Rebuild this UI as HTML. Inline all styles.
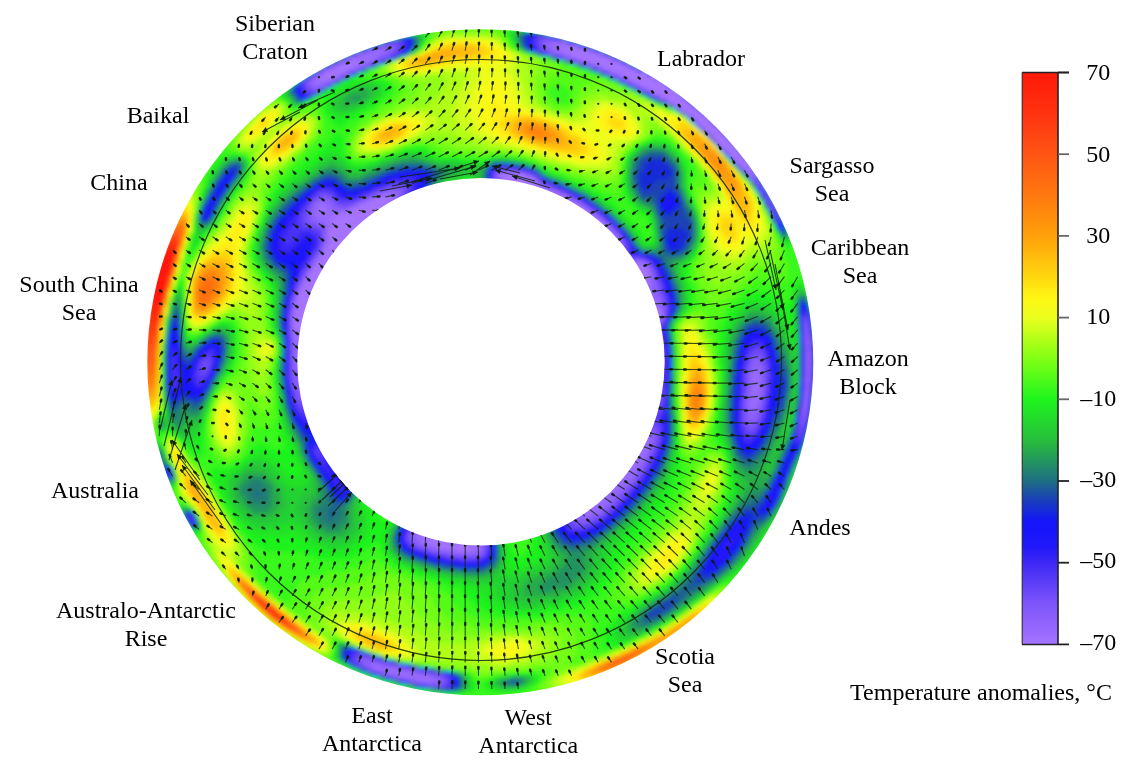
<!DOCTYPE html>
<html><head><meta charset="utf-8"><title>Temperature anomalies</title>
<style>
html,body{margin:0;padding:0;background:#fff;}
body{width:1136px;height:776px;overflow:hidden;}
svg{display:block;}
text{font-family:"Liberation Serif",serif;font-size:24px;fill:#000;}
</style></head><body>
<svg width="1136" height="776" viewBox="0 0 1136 776">
<defs>
<clipPath id="ann"><path clip-rule="evenodd" d="M147.3 362.2a333.0 333.0 0 1 0 666.0 0a333.0 333.0 0 1 0 -666.0 0zM297.3 361.7a183.7 183.7 0 1 0 367.4 0a183.7 183.7 0 1 0 -367.4 0z"/></clipPath>
<filter id="bl" x="-5%" y="-5%" width="110%" height="110%"><feGaussianBlur stdDeviation="2.2"/></filter>
<filter id="soft" x="-2%" y="-2%" width="104%" height="104%"><feGaussianBlur stdDeviation="0.7"/></filter>
<linearGradient id="cb" x1="0" y1="0" x2="0" y2="1"><stop offset="0.00%" stop-color="#ff190a"/><stop offset="7.14%" stop-color="#ff320f"/><stop offset="14.29%" stop-color="#ff5514"/><stop offset="21.43%" stop-color="#ff780f"/><stop offset="28.57%" stop-color="#ffa00a"/><stop offset="35.71%" stop-color="#ffd70f"/><stop offset="39.29%" stop-color="#fff514"/><stop offset="42.86%" stop-color="#ebff1e"/><stop offset="50.00%" stop-color="#82ff14"/><stop offset="57.14%" stop-color="#1ef51e"/><stop offset="64.29%" stop-color="#28be3c"/><stop offset="71.43%" stop-color="#1e6e82"/><stop offset="75.00%" stop-color="#193cbe"/><stop offset="78.57%" stop-color="#1414fa"/><stop offset="82.86%" stop-color="#2018fa"/><stop offset="85.71%" stop-color="#3e28f6"/><stop offset="92.86%" stop-color="#7d55fa"/><stop offset="100.00%" stop-color="#a573ff"/></linearGradient>
</defs>
<rect width="1136" height="776" fill="#fff"/>
<g filter="url(#soft)">
<g clip-path="url(#ann)">
<g filter="url(#bl)" shape-rendering="crispEdges">
<path fill="#a573ff" d="M560 44h8v4h-8zM564 48h20v4h-20zM568 52h28v4h-28zM576 56h32v4h-32zM348 60h8v4h-8zM588 60h28v4h-28zM340 64h16v4h-16zM600 64h24v4h-24zM332 68h16v4h-16zM608 68h24v4h-24zM324 72h16v4h-16zM620 72h24v4h-24zM320 76h16v4h-16zM628 76h28v4h-28zM632 80h28v4h-28zM640 84h28v4h-28zM648 88h24v4h-24zM652 92h28v4h-28zM660 96h24v4h-24zM668 100h20v4h-20zM676 104h16v4h-16zM680 108h16v4h-16zM688 112h12v4h-12zM692 116h16v4h-16zM696 120h16v4h-16zM700 124h16v4h-16zM704 128h16v4h-16zM712 132h12v4h-12zM716 136h12v4h-12zM716 140h12v4h-12zM720 144h12v4h-12zM724 148h12v4h-12zM728 152h12v4h-12zM732 156h12v4h-12zM736 160h12v4h-12zM740 164h8v4h-8zM744 168h8v4h-8zM500 172h24v4h-24zM748 172h4v4h-4zM500 176h32v4h-32zM504 180h32v4h-32zM516 184h24v4h-24zM532 188h4v4h-4zM544 188h4v4h-4zM552 192h8v4h-8zM376 196h16v4h-16zM560 196h8v4h-8zM368 200h24v4h-24zM568 200h4v4h-4zM360 204h28v4h-28zM576 204h4v4h-4zM320 208h4v4h-4zM352 208h32v4h-32zM580 208h8v4h-8zM340 212h40v4h-40zM588 212h4v4h-4zM332 216h44v4h-44zM592 216h4v4h-4zM332 220h40v4h-40zM596 220h8v4h-8zM332 224h36v4h-36zM600 224h8v4h-8zM328 228h36v4h-36zM328 232h32v4h-32zM328 236h28v4h-28zM328 240h24v4h-24zM328 244h20v4h-20zM324 248h16v4h-16zM324 252h12v4h-12zM320 256h12v4h-12zM316 260h16v4h-16zM316 264h12v4h-12zM632 264h12v4h-12zM312 268h12v4h-12zM632 268h16v4h-16zM308 272h16v4h-16zM632 272h16v4h-16zM308 276h12v4h-12zM636 276h12v4h-12zM304 280h16v4h-16zM644 280h4v4h-4zM304 284h16v4h-16zM300 288h16v4h-16zM300 292h16v4h-16zM296 296h16v4h-16zM296 300h16v4h-16zM296 304h16v4h-16zM296 308h12v4h-12zM652 308h8v4h-8zM296 312h12v4h-12zM652 312h12v4h-12zM292 316h16v4h-16zM656 316h4v4h-4zM292 320h12v4h-12zM292 324h12v4h-12zM296 328h8v4h-8zM296 332h4v4h-4zM296 336h4v4h-4zM424 536h4v4h-4zM424 540h24v4h-24zM436 544h36v4h-36zM456 548h16v4h-16z"/>
<path fill="#996afe" d="M552 40h4v4h-4zM552 44h8v4h-8zM568 44h8v4h-8zM376 48h8v4h-8zM552 48h12v4h-12zM584 48h4v4h-4zM364 52h16v4h-16zM560 52h8v4h-8zM596 52h4v4h-4zM352 56h24v4h-24zM572 56h4v4h-4zM344 60h4v4h-4zM356 60h16v4h-16zM584 60h4v4h-4zM616 60h4v4h-4zM336 64h4v4h-4zM356 64h8v4h-8zM596 64h4v4h-4zM624 64h4v4h-4zM328 68h4v4h-4zM348 68h4v4h-4zM604 68h4v4h-4zM632 68h4v4h-4zM320 72h4v4h-4zM340 72h4v4h-4zM612 72h8v4h-8zM644 72h4v4h-4zM316 76h4v4h-4zM624 76h4v4h-4zM312 80h16v4h-16zM660 80h4v4h-4zM316 84h4v4h-4zM700 112h4v4h-4zM708 132h4v4h-4zM712 136h4v4h-4zM728 140h4v4h-4zM732 144h4v4h-4zM752 172h4v4h-4zM532 176h4v4h-4zM752 176h4v4h-4zM536 180h4v4h-4zM540 184h4v4h-4zM528 188h4v4h-4zM536 188h8v4h-8zM548 188h4v4h-4zM384 192h12v4h-12zM548 192h4v4h-4zM372 196h4v4h-4zM392 196h4v4h-4zM556 196h4v4h-4zM320 200h4v4h-4zM364 200h4v4h-4zM564 200h4v4h-4zM572 200h4v4h-4zM316 204h12v4h-12zM356 204h4v4h-4zM572 204h4v4h-4zM580 204h4v4h-4zM316 208h4v4h-4zM324 208h8v4h-8zM348 208h4v4h-4zM576 208h4v4h-4zM312 212h28v4h-28zM584 212h4v4h-4zM592 212h4v4h-4zM316 216h16v4h-16zM588 216h4v4h-4zM596 216h4v4h-4zM324 220h8v4h-8zM328 224h4v4h-4zM604 228h8v4h-8zM608 232h8v4h-8zM612 236h8v4h-8zM324 244h4v4h-4zM340 248h4v4h-4zM320 252h4v4h-4zM336 252h4v4h-4zM332 256h4v4h-4zM636 260h8v4h-8zM312 264h4v4h-4zM644 264h4v4h-4zM324 268h4v4h-4zM648 272h4v4h-4zM304 276h4v4h-4zM320 276h4v4h-4zM648 276h4v4h-4zM640 280h4v4h-4zM648 280h4v4h-4zM300 284h4v4h-4zM644 284h8v4h-8zM648 288h4v4h-4zM296 292h4v4h-4zM312 296h4v4h-4zM652 296h4v4h-4zM652 300h8v4h-8zM652 304h8v4h-8zM292 308h4v4h-4zM308 308h4v4h-4zM660 308h4v4h-4zM292 312h4v4h-4zM652 316h4v4h-4zM660 316h4v4h-4zM304 320h4v4h-4zM292 328h4v4h-4zM292 332h4v4h-4zM300 332h4v4h-4zM292 336h4v4h-4zM300 336h4v4h-4zM296 340h4v4h-4zM296 344h4v4h-4zM296 348h4v4h-4zM296 352h4v4h-4zM296 356h4v4h-4zM296 360h4v4h-4zM756 368h4v4h-4zM752 372h8v4h-8zM752 376h8v4h-8zM752 380h8v4h-8zM752 384h8v4h-8zM752 388h8v4h-8zM752 392h8v4h-8zM804 392h4v4h-4zM752 396h8v4h-8zM804 396h4v4h-4zM748 400h12v4h-12zM804 400h4v4h-4zM748 404h8v4h-8zM804 404h4v4h-4zM752 408h4v4h-4zM644 440h8v4h-8zM640 444h8v4h-8zM636 448h12v4h-12zM636 452h12v4h-12zM632 456h12v4h-12zM628 460h16v4h-16zM628 464h12v4h-12zM624 468h12v4h-12zM620 472h16v4h-16zM616 476h16v4h-16zM616 480h12v4h-12zM612 484h12v4h-12zM608 488h12v4h-12zM604 492h12v4h-12zM600 496h12v4h-12zM592 500h16v4h-16zM588 504h16v4h-16zM584 508h16v4h-16zM584 512h8v4h-8zM416 532h8v4h-8zM416 536h8v4h-8zM428 536h12v4h-12zM420 540h4v4h-4zM448 540h20v4h-20zM428 544h8v4h-8zM472 544h8v4h-8zM440 548h16v4h-16zM472 548h8v4h-8zM372 664h8v4h-8zM376 668h24v4h-24zM388 672h32v4h-32zM404 676h28v4h-28zM420 680h16v4h-16z"/>
<path fill="#8d61fc" d="M544 40h8v4h-8zM556 40h8v4h-8zM388 44h4v4h-4zM544 44h8v4h-8zM372 48h4v4h-4zM384 48h8v4h-8zM548 48h4v4h-4zM360 52h4v4h-4zM380 52h8v4h-8zM556 52h4v4h-4zM376 56h4v4h-4zM568 56h4v4h-4zM608 56h4v4h-4zM340 60h4v4h-4zM580 60h4v4h-4zM332 64h4v4h-4zM592 64h4v4h-4zM324 68h4v4h-4zM352 68h4v4h-4zM344 72h4v4h-4zM312 76h4v4h-4zM336 76h4v4h-4zM620 76h4v4h-4zM308 80h4v4h-4zM328 80h4v4h-4zM628 80h4v4h-4zM312 84h4v4h-4zM320 84h4v4h-4zM636 84h4v4h-4zM644 88h4v4h-4zM672 88h4v4h-4zM696 108h4v4h-4zM736 148h4v4h-4zM748 164h4v4h-4zM496 172h4v4h-4zM524 172h4v4h-4zM496 176h4v4h-4zM500 180h4v4h-4zM512 184h4v4h-4zM524 188h4v4h-4zM552 188h4v4h-4zM380 192h4v4h-4zM396 192h4v4h-4zM544 192h4v4h-4zM560 192h4v4h-4zM368 196h4v4h-4zM396 196h4v4h-4zM552 196h4v4h-4zM568 196h4v4h-4zM316 200h4v4h-4zM324 200h8v4h-8zM360 200h4v4h-4zM392 200h4v4h-4zM576 200h4v4h-4zM312 204h4v4h-4zM328 204h4v4h-4zM352 204h4v4h-4zM388 204h4v4h-4zM568 204h4v4h-4zM312 208h4v4h-4zM332 208h16v4h-16zM384 208h4v4h-4zM588 208h4v4h-4zM380 212h4v4h-4zM312 216h4v4h-4zM376 216h4v4h-4zM316 220h8v4h-8zM592 220h4v4h-4zM324 224h4v4h-4zM596 224h4v4h-4zM608 224h4v4h-4zM324 228h4v4h-4zM324 232h4v4h-4zM324 236h4v4h-4zM324 240h4v4h-4zM616 240h8v4h-8zM320 248h4v4h-4zM316 256h4v4h-4zM312 260h4v4h-4zM632 260h4v4h-4zM328 264h4v4h-4zM308 268h4v4h-4zM648 268h4v4h-4zM324 272h4v4h-4zM300 280h4v4h-4zM320 280h4v4h-4zM636 280h4v4h-4zM652 280h4v4h-4zM640 284h4v4h-4zM652 284h4v4h-4zM296 288h4v4h-4zM316 288h4v4h-4zM644 288h4v4h-4zM652 288h4v4h-4zM644 292h16v4h-16zM648 296h4v4h-4zM656 296h4v4h-4zM292 300h4v4h-4zM312 300h4v4h-4zM648 300h4v4h-4zM292 304h4v4h-4zM648 304h4v4h-4zM660 304h4v4h-4zM648 308h4v4h-4zM308 312h4v4h-4zM656 320h4v4h-4zM304 324h4v4h-4zM804 324h4v4h-4zM804 328h4v4h-4zM804 332h4v4h-4zM804 336h4v4h-4zM292 340h4v4h-4zM300 340h4v4h-4zM804 340h4v4h-4zM292 344h4v4h-4zM300 344h4v4h-4zM292 348h4v4h-4zM292 352h4v4h-4zM808 352h4v4h-4zM292 356h4v4h-4zM808 356h4v4h-4zM292 360h4v4h-4zM752 360h8v4h-8zM808 360h4v4h-4zM292 364h8v4h-8zM752 364h8v4h-8zM808 364h4v4h-4zM292 368h8v4h-8zM752 368h4v4h-4zM760 368h4v4h-4zM808 368h4v4h-4zM292 372h8v4h-8zM748 372h4v4h-4zM760 372h4v4h-4zM296 376h4v4h-4zM748 376h4v4h-4zM760 376h4v4h-4zM804 376h4v4h-4zM296 380h4v4h-4zM748 380h4v4h-4zM760 380h4v4h-4zM804 380h4v4h-4zM296 384h4v4h-4zM748 384h4v4h-4zM760 384h4v4h-4zM804 384h4v4h-4zM296 388h4v4h-4zM748 388h4v4h-4zM760 388h4v4h-4zM804 388h4v4h-4zM748 392h4v4h-4zM760 392h4v4h-4zM748 396h4v4h-4zM756 404h4v4h-4zM748 408h4v4h-4zM756 408h4v4h-4zM804 408h4v4h-4zM748 412h8v4h-8zM748 416h8v4h-8zM800 420h4v4h-4zM644 432h8v4h-8zM640 436h16v4h-16zM640 440h4v4h-4zM636 444h4v4h-4zM648 444h4v4h-4zM648 448h4v4h-4zM632 452h4v4h-4zM628 456h4v4h-4zM644 456h4v4h-4zM624 464h4v4h-4zM640 464h4v4h-4zM620 468h4v4h-4zM636 468h4v4h-4zM616 472h4v4h-4zM632 476h4v4h-4zM612 480h4v4h-4zM628 480h4v4h-4zM608 484h4v4h-4zM624 484h4v4h-4zM604 488h4v4h-4zM620 488h4v4h-4zM600 492h4v4h-4zM616 492h4v4h-4zM596 496h4v4h-4zM612 496h4v4h-4zM588 500h4v4h-4zM608 500h4v4h-4zM584 504h4v4h-4zM604 504h4v4h-4zM580 508h4v4h-4zM600 508h4v4h-4zM580 512h4v4h-4zM592 512h8v4h-8zM576 516h16v4h-16zM412 532h4v4h-4zM424 532h8v4h-8zM412 536h4v4h-4zM440 536h12v4h-12zM416 540h4v4h-4zM468 540h8v4h-8zM420 544h8v4h-8zM480 544h4v4h-4zM432 548h8v4h-8zM480 548h4v4h-4zM452 552h28v4h-28zM364 660h12v4h-12zM364 664h8v4h-8zM380 664h12v4h-12zM372 668h4v4h-4zM400 668h8v4h-8zM384 672h4v4h-4zM420 672h8v4h-8zM400 676h4v4h-4zM432 676h8v4h-8zM416 680h4v4h-4zM436 680h4v4h-4z"/>
<path fill="#8158fb" d="M540 40h4v4h-4zM384 44h4v4h-4zM392 44h4v4h-4zM576 44h4v4h-4zM368 48h4v4h-4zM392 48h4v4h-4zM544 48h4v4h-4zM588 48h4v4h-4zM388 52h4v4h-4zM552 52h4v4h-4zM600 52h4v4h-4zM348 56h4v4h-4zM380 56h4v4h-4zM372 60h4v4h-4zM364 64h4v4h-4zM600 68h4v4h-4zM316 72h4v4h-4zM308 84h4v4h-4zM312 88h4v4h-4zM672 104h4v4h-4zM684 112h4v4h-4zM756 180h4v4h-4zM544 184h4v4h-4zM384 188h20v4h-20zM376 192h4v4h-4zM400 192h4v4h-4zM540 192h4v4h-4zM564 192h4v4h-4zM320 196h12v4h-12zM312 200h4v4h-4zM332 200h4v4h-4zM356 200h4v4h-4zM560 200h4v4h-4zM332 204h8v4h-8zM348 204h4v4h-4zM584 204h4v4h-4zM308 208h4v4h-4zM308 212h4v4h-4zM580 212h4v4h-4zM308 216h4v4h-4zM600 216h4v4h-4zM308 220h8v4h-8zM372 220h4v4h-4zM604 220h4v4h-4zM316 224h8v4h-8zM600 228h4v4h-4zM612 228h4v4h-4zM604 232h4v4h-4zM616 232h4v4h-4zM608 236h4v4h-4zM612 240h4v4h-4zM320 244h4v4h-4zM620 244h4v4h-4zM316 252h4v4h-4zM336 256h4v4h-4zM332 260h4v4h-4zM644 260h4v4h-4zM308 264h4v4h-4zM648 264h4v4h-4zM304 272h4v4h-4zM652 272h4v4h-4zM652 276h4v4h-4zM656 284h4v4h-4zM640 288h4v4h-4zM656 288h4v4h-4zM316 292h4v4h-4zM292 296h4v4h-4zM644 296h4v4h-4zM660 296h4v4h-4zM660 300h4v4h-4zM312 304h4v4h-4zM308 316h4v4h-4zM660 320h4v4h-4zM804 320h4v4h-4zM304 328h4v4h-4zM808 340h4v4h-4zM804 344h8v4h-8zM300 348h4v4h-4zM804 348h8v4h-8zM300 352h4v4h-4zM804 352h4v4h-4zM300 356h4v4h-4zM752 356h8v4h-8zM804 356h4v4h-4zM300 360h4v4h-4zM760 360h4v4h-4zM804 360h4v4h-4zM300 364h4v4h-4zM748 364h4v4h-4zM760 364h4v4h-4zM804 364h4v4h-4zM300 368h4v4h-4zM748 368h4v4h-4zM804 368h4v4h-4zM300 372h4v4h-4zM804 372h8v4h-8zM292 376h4v4h-4zM300 376h4v4h-4zM808 376h4v4h-4zM292 380h4v4h-4zM300 380h4v4h-4zM808 380h4v4h-4zM292 384h4v4h-4zM300 384h4v4h-4zM300 388h4v4h-4zM296 392h8v4h-8zM744 392h4v4h-4zM296 396h8v4h-8zM744 396h4v4h-4zM760 396h4v4h-4zM744 400h4v4h-4zM760 400h4v4h-4zM744 404h4v4h-4zM760 404h4v4h-4zM744 408h4v4h-4zM744 412h4v4h-4zM756 412h4v4h-4zM800 412h8v4h-8zM744 416h4v4h-4zM756 416h4v4h-4zM800 416h4v4h-4zM744 420h12v4h-12zM748 424h8v4h-8zM800 424h4v4h-4zM644 428h12v4h-12zM640 432h4v4h-4zM652 432h4v4h-4zM636 440h4v4h-4zM652 440h4v4h-4zM652 444h4v4h-4zM632 448h4v4h-4zM648 452h4v4h-4zM624 460h4v4h-4zM644 460h4v4h-4zM640 468h4v4h-4zM636 472h4v4h-4zM612 476h4v4h-4zM608 480h4v4h-4zM632 480h4v4h-4zM604 484h4v4h-4zM628 484h4v4h-4zM600 488h4v4h-4zM624 488h4v4h-4zM596 492h4v4h-4zM620 492h4v4h-4zM592 496h4v4h-4zM616 496h4v4h-4zM612 500h4v4h-4zM580 504h4v4h-4zM608 504h4v4h-4zM576 508h4v4h-4zM604 508h4v4h-4zM576 512h4v4h-4zM600 512h4v4h-4zM572 516h4v4h-4zM592 516h4v4h-4zM576 520h12v4h-12zM416 528h8v4h-8zM408 532h4v4h-4zM432 532h8v4h-8zM408 536h4v4h-4zM452 536h12v4h-12zM412 540h4v4h-4zM476 540h4v4h-4zM416 544h4v4h-4zM428 548h4v4h-4zM444 552h8v4h-8zM480 552h4v4h-4zM360 656h8v4h-8zM360 660h4v4h-4zM376 660h4v4h-4zM392 664h4v4h-4zM408 668h4v4h-4zM428 672h4v4h-4zM396 676h4v4h-4zM440 676h4v4h-4zM412 680h4v4h-4zM440 680h4v4h-4z"/>
<path fill="#714cf9" d="M564 40h4v4h-4zM380 44h4v4h-4zM396 44h4v4h-4zM540 44h4v4h-4zM540 48h4v4h-4zM356 52h4v4h-4zM384 56h4v4h-4zM564 56h4v4h-4zM576 60h4v4h-4zM588 64h4v4h-4zM628 64h4v4h-4zM356 68h4v4h-4zM636 68h4v4h-4zM608 72h4v4h-4zM616 76h4v4h-4zM304 80h4v4h-4zM304 84h4v4h-4zM324 84h4v4h-4zM308 88h4v4h-4zM316 88h4v4h-4zM692 104h4v4h-4zM740 152h4v4h-4zM500 168h12v4h-12zM492 172h4v4h-4zM528 172h4v4h-4zM492 176h4v4h-4zM392 184h12v4h-12zM508 184h4v4h-4zM548 184h4v4h-4zM756 184h4v4h-4zM380 188h4v4h-4zM404 188h4v4h-4zM520 188h4v4h-4zM556 188h4v4h-4zM760 188h4v4h-4zM320 192h8v4h-8zM372 192h4v4h-4zM316 196h4v4h-4zM364 196h4v4h-4zM400 196h4v4h-4zM548 196h4v4h-4zM572 196h4v4h-4zM764 196h4v4h-4zM396 200h4v4h-4zM580 200h4v4h-4zM768 200h4v4h-4zM308 204h4v4h-4zM340 204h8v4h-8zM392 204h4v4h-4zM564 204h4v4h-4zM768 204h4v4h-4zM388 208h4v4h-4zM572 208h4v4h-4zM772 208h4v4h-4zM304 212h4v4h-4zM596 212h4v4h-4zM304 216h4v4h-4zM584 216h4v4h-4zM304 220h4v4h-4zM308 224h8v4h-8zM320 228h4v4h-4zM320 232h4v4h-4zM320 236h4v4h-4zM620 236h4v4h-4zM320 240h4v4h-4zM616 244h4v4h-4zM624 244h4v4h-4zM624 248h4v4h-4zM340 252h4v4h-4zM312 256h4v4h-4zM632 256h8v4h-8zM628 264h4v4h-4zM304 268h4v4h-4zM328 268h4v4h-4zM652 268h4v4h-4zM300 276h4v4h-4zM324 276h4v4h-4zM656 280h4v4h-4zM296 284h4v4h-4zM320 284h4v4h-4zM660 292h4v4h-4zM664 304h4v4h-4zM664 308h4v4h-4zM288 312h4v4h-4zM664 312h4v4h-4zM288 316h4v4h-4zM804 316h4v4h-4zM288 320h4v4h-4zM288 324h4v4h-4zM288 328h4v4h-4zM288 332h4v4h-4zM304 332h4v4h-4zM304 336h4v4h-4zM808 336h4v4h-4zM756 348h4v4h-4zM752 352h12v4h-12zM748 356h4v4h-4zM760 356h4v4h-4zM204 360h4v4h-4zM748 360h4v4h-4zM200 364h8v4h-8zM764 364h4v4h-4zM200 368h8v4h-8zM764 368h4v4h-4zM744 372h4v4h-4zM764 372h4v4h-4zM744 376h4v4h-4zM764 376h4v4h-4zM744 380h4v4h-4zM764 380h4v4h-4zM744 384h4v4h-4zM764 384h4v4h-4zM808 384h4v4h-4zM292 388h4v4h-4zM660 388h4v4h-4zM744 388h4v4h-4zM764 388h4v4h-4zM808 388h4v4h-4zM660 392h4v4h-4zM656 396h8v4h-8zM296 400h8v4h-8zM656 400h8v4h-8zM300 404h4v4h-4zM656 404h4v4h-4zM656 408h4v4h-4zM760 408h4v4h-4zM800 408h4v4h-4zM760 412h4v4h-4zM804 416h4v4h-4zM756 420h4v4h-4zM648 424h8v4h-8zM744 424h4v4h-4zM656 428h4v4h-4zM748 428h8v4h-8zM800 428h4v4h-4zM656 432h4v4h-4zM656 436h4v4h-4zM656 440h4v4h-4zM652 448h4v4h-4zM648 456h4v4h-4zM644 464h4v4h-4zM640 472h4v4h-4zM636 476h4v4h-4zM624 492h4v4h-4zM620 496h4v4h-4zM616 500h4v4h-4zM612 504h4v4h-4zM608 508h4v4h-4zM572 512h4v4h-4zM596 516h4v4h-4zM572 520h4v4h-4zM588 520h4v4h-4zM572 524h12v4h-12zM412 528h4v4h-4zM424 528h8v4h-8zM440 532h8v4h-8zM464 536h12v4h-12zM408 540h4v4h-4zM480 540h4v4h-4zM412 544h4v4h-4zM484 544h4v4h-4zM424 548h4v4h-4zM484 548h4v4h-4zM436 552h8v4h-8zM460 556h16v4h-16zM356 656h4v4h-4zM368 656h4v4h-4zM356 660h4v4h-4zM380 660h4v4h-4zM360 664h4v4h-4zM396 664h4v4h-4zM368 668h4v4h-4zM412 668h4v4h-4zM380 672h4v4h-4zM432 672h4v4h-4zM444 676h4v4h-4zM444 680h4v4h-4zM436 684h8v4h-8z"/>
<path fill="#5e3ff8" d="M536 36h12v4h-12zM396 40h4v4h-4zM536 40h4v4h-4zM400 44h4v4h-4zM536 44h4v4h-4zM396 48h4v4h-4zM392 52h4v4h-4zM548 52h4v4h-4zM376 60h4v4h-4zM620 60h4v4h-4zM348 72h4v4h-4zM308 76h4v4h-4zM340 76h4v4h-4zM332 80h4v4h-4zM624 80h4v4h-4zM632 84h4v4h-4zM304 88h4v4h-4zM640 88h4v4h-4zM496 168h4v4h-4zM512 168h4v4h-4zM536 176h4v4h-4zM496 180h4v4h-4zM540 180h4v4h-4zM752 180h4v4h-4zM388 184h4v4h-4zM404 184h8v4h-8zM760 184h4v4h-4zM376 188h4v4h-4zM316 192h4v4h-4zM328 192h4v4h-4zM368 192h4v4h-4zM404 192h4v4h-4zM536 192h4v4h-4zM760 192h8v4h-8zM312 196h4v4h-4zM332 196h4v4h-4zM360 196h4v4h-4zM308 200h4v4h-4zM336 200h20v4h-20zM556 200h4v4h-4zM304 208h4v4h-4zM592 208h4v4h-4zM300 212h4v4h-4zM576 212h4v4h-4zM772 212h4v4h-4zM300 216h4v4h-4zM776 216h4v4h-4zM300 220h4v4h-4zM588 220h4v4h-4zM300 224h8v4h-8zM592 224h4v4h-4zM312 228h8v4h-8zM624 240h4v4h-4zM316 248h4v4h-4zM620 248h4v4h-4zM312 252h4v4h-4zM628 256h4v4h-4zM640 256h4v4h-4zM308 260h4v4h-4zM628 260h4v4h-4zM648 260h4v4h-4zM300 272h4v4h-4zM656 276h4v4h-4zM296 280h4v4h-4zM660 284h4v4h-4zM660 288h4v4h-4zM292 292h4v4h-4zM664 296h4v4h-4zM664 300h4v4h-4zM288 308h4v4h-4zM664 316h4v4h-4zM652 320h4v4h-4zM660 324h4v4h-4zM808 332h4v4h-4zM288 336h4v4h-4zM288 340h4v4h-4zM304 340h4v4h-4zM288 344h4v4h-4zM288 348h4v4h-4zM752 348h4v4h-4zM760 348h4v4h-4zM288 352h4v4h-4zM748 352h4v4h-4zM204 356h8v4h-8zM288 356h4v4h-4zM764 356h4v4h-4zM200 360h4v4h-4zM208 360h4v4h-4zM288 360h4v4h-4zM764 360h4v4h-4zM208 364h4v4h-4zM288 364h4v4h-4zM744 364h4v4h-4zM288 368h4v4h-4zM744 368h4v4h-4zM196 372h12v4h-12zM288 372h4v4h-4zM200 376h4v4h-4zM288 376h4v4h-4zM660 380h4v4h-4zM660 384h4v4h-4zM292 392h4v4h-4zM304 392h4v4h-4zM764 392h4v4h-4zM808 392h4v4h-4zM292 396h4v4h-4zM304 396h4v4h-4zM764 396h4v4h-4zM304 400h4v4h-4zM740 400h4v4h-4zM764 400h4v4h-4zM296 404h4v4h-4zM304 404h4v4h-4zM660 404h4v4h-4zM740 404h4v4h-4zM800 404h4v4h-4zM300 408h8v4h-8zM660 408h4v4h-4zM740 408h4v4h-4zM656 412h4v4h-4zM740 412h4v4h-4zM652 416h8v4h-8zM740 416h4v4h-4zM760 416h4v4h-4zM648 420h12v4h-12zM740 420h4v4h-4zM644 424h4v4h-4zM656 424h4v4h-4zM756 424h4v4h-4zM744 428h4v4h-4zM744 432h12v4h-12zM796 432h8v4h-8zM796 436h4v4h-4zM656 444h4v4h-4zM316 448h4v4h-4zM316 452h4v4h-4zM652 452h4v4h-4zM648 460h4v4h-4zM644 468h4v4h-4zM636 480h4v4h-4zM632 484h4v4h-4zM628 488h4v4h-4zM568 512h4v4h-4zM604 512h4v4h-4zM568 516h4v4h-4zM600 516h4v4h-4zM568 520h4v4h-4zM592 520h4v4h-4zM568 524h4v4h-4zM584 524h8v4h-8zM408 528h4v4h-4zM404 536h4v4h-4zM476 536h4v4h-4zM484 540h4v4h-4zM420 548h4v4h-4zM432 552h4v4h-4zM484 552h4v4h-4zM448 556h12v4h-12zM476 556h8v4h-8zM356 652h4v4h-4zM352 656h4v4h-4zM352 660h4v4h-4zM416 668h4v4h-4zM436 672h4v4h-4zM392 676h4v4h-4zM408 680h4v4h-4zM428 684h8v4h-8zM444 684h4v4h-4z"/>
<path fill="#4b32f7" d="M548 36h4v4h-4zM392 40h4v4h-4zM400 40h4v4h-4zM532 40h4v4h-4zM580 44h4v4h-4zM400 48h4v4h-4zM536 48h4v4h-4zM592 48h4v4h-4zM396 52h4v4h-4zM388 56h4v4h-4zM560 56h4v4h-4zM612 56h4v4h-4zM336 60h4v4h-4zM328 64h4v4h-4zM368 64h4v4h-4zM320 68h4v4h-4zM596 68h4v4h-4zM300 84h4v4h-4zM304 92h8v4h-8zM648 92h4v4h-4zM656 96h4v4h-4zM664 100h4v4h-4zM688 100h4v4h-4zM688 116h4v4h-4zM732 160h4v4h-4zM736 164h4v4h-4zM516 168h4v4h-4zM740 168h4v4h-4zM532 172h4v4h-4zM744 172h4v4h-4zM748 176h4v4h-4zM392 180h20v4h-20zM384 184h4v4h-4zM504 184h4v4h-4zM552 184h4v4h-4zM320 188h12v4h-12zM372 188h4v4h-4zM408 188h4v4h-4zM560 188h4v4h-4zM332 192h4v4h-4zM364 192h4v4h-4zM532 192h4v4h-4zM568 192h4v4h-4zM336 196h4v4h-4zM356 196h4v4h-4zM404 196h4v4h-4zM544 196h4v4h-4zM576 196h4v4h-4zM400 200h4v4h-4zM764 200h4v4h-4zM304 204h4v4h-4zM396 204h4v4h-4zM588 204h4v4h-4zM772 204h4v4h-4zM300 208h4v4h-4zM776 212h4v4h-4zM296 216h4v4h-4zM296 220h4v4h-4zM608 220h4v4h-4zM776 220h4v4h-4zM292 224h8v4h-8zM612 224h4v4h-4zM288 228h24v4h-24zM596 228h4v4h-4zM616 228h4v4h-4zM288 232h12v4h-12zM312 232h8v4h-8zM600 232h4v4h-4zM284 236h12v4h-12zM316 236h4v4h-4zM284 240h8v4h-8zM316 240h4v4h-4zM316 244h4v4h-4zM628 248h4v4h-4zM624 252h8v4h-8zM308 256h4v4h-4zM304 264h4v4h-4zM652 264h4v4h-4zM300 268h4v4h-4zM656 272h4v4h-4zM660 280h4v4h-4zM292 288h4v4h-4zM664 292h4v4h-4zM288 300h4v4h-4zM288 304h4v4h-4zM804 312h4v4h-4zM656 324h4v4h-4zM660 328h4v4h-4zM808 328h4v4h-4zM660 332h4v4h-4zM660 336h4v4h-4zM660 340h4v4h-4zM304 344h4v4h-4zM660 344h4v4h-4zM752 344h12v4h-12zM660 348h8v4h-8zM748 348h4v4h-4zM204 352h8v4h-8zM660 352h8v4h-8zM764 352h4v4h-4zM172 356h4v4h-4zM200 356h4v4h-4zM660 356h8v4h-8zM744 356h4v4h-4zM172 360h4v4h-4zM660 360h8v4h-8zM744 360h4v4h-4zM172 364h4v4h-4zM196 364h4v4h-4zM660 364h8v4h-8zM172 368h4v4h-4zM196 368h4v4h-4zM208 368h4v4h-4zM660 368h8v4h-8zM172 372h4v4h-4zM660 372h8v4h-8zM768 372h4v4h-4zM172 376h8v4h-8zM196 376h4v4h-4zM204 376h4v4h-4zM304 376h4v4h-4zM660 376h8v4h-8zM768 376h4v4h-4zM172 380h4v4h-4zM196 380h8v4h-8zM288 380h4v4h-4zM304 380h4v4h-4zM172 384h4v4h-4zM288 384h4v4h-4zM304 384h4v4h-4zM740 384h4v4h-4zM304 388h4v4h-4zM740 388h4v4h-4zM656 392h4v4h-4zM740 392h4v4h-4zM740 396h4v4h-4zM808 396h4v4h-4zM292 400h4v4h-4zM800 400h4v4h-4zM652 404h4v4h-4zM764 404h4v4h-4zM296 408h4v4h-4zM652 408h4v4h-4zM764 408h4v4h-4zM300 412h8v4h-8zM652 412h4v4h-4zM660 412h4v4h-4zM304 416h4v4h-4zM648 416h4v4h-4zM760 420h4v4h-4zM804 420h4v4h-4zM660 424h4v4h-4zM740 424h4v4h-4zM660 428h4v4h-4zM740 428h4v4h-4zM756 428h4v4h-4zM796 428h4v4h-4zM660 432h4v4h-4zM660 436h4v4h-4zM744 436h8v4h-8zM796 440h4v4h-4zM312 448h4v4h-4zM656 448h4v4h-4zM320 452h4v4h-4zM316 456h8v4h-8zM652 456h4v4h-4zM320 460h4v4h-4zM648 464h4v4h-4zM640 476h4v4h-4zM628 492h4v4h-4zM624 496h4v4h-4zM620 500h4v4h-4zM616 504h4v4h-4zM612 508h4v4h-4zM608 512h4v4h-4zM188 516h4v4h-4zM564 516h4v4h-4zM564 520h4v4h-4zM596 520h4v4h-4zM412 524h8v4h-8zM568 528h16v4h-16zM404 532h4v4h-4zM480 536h4v4h-4zM404 540h4v4h-4zM408 544h4v4h-4zM416 548h4v4h-4zM428 552h4v4h-4zM444 556h4v4h-4zM352 652h4v4h-4zM360 652h4v4h-4zM372 656h4v4h-4zM384 660h4v4h-4zM400 664h4v4h-4zM440 672h4v4h-4zM448 676h4v4h-4zM448 680h4v4h-4zM448 684h4v4h-4z"/>
<path fill="#3825f7" d="M532 36h4v4h-4zM552 36h4v4h-4zM404 40h4v4h-4zM568 40h4v4h-4zM376 44h4v4h-4zM404 44h4v4h-4zM532 44h4v4h-4zM364 48h4v4h-4zM344 56h4v4h-4zM572 60h4v4h-4zM584 64h4v4h-4zM300 88h4v4h-4zM728 156h4v4h-4zM492 168h4v4h-4zM520 168h4v4h-4zM404 176h12v4h-12zM756 176h4v4h-4zM388 180h4v4h-4zM412 180h8v4h-8zM492 180h4v4h-4zM380 184h4v4h-4zM412 184h4v4h-4zM316 188h4v4h-4zM332 188h4v4h-4zM412 188h4v4h-4zM312 192h4v4h-4zM336 192h4v4h-4zM360 192h4v4h-4zM408 192h4v4h-4zM308 196h4v4h-4zM340 196h16v4h-16zM768 196h4v4h-4zM304 200h4v4h-4zM300 204h4v4h-4zM568 208h4v4h-4zM768 208h4v4h-4zM296 212h4v4h-4zM600 212h4v4h-4zM292 216h4v4h-4zM604 216h4v4h-4zM288 220h8v4h-8zM288 224h4v4h-4zM284 228h4v4h-4zM280 232h8v4h-8zM300 232h12v4h-12zM620 232h4v4h-4zM280 236h4v4h-4zM296 236h8v4h-8zM312 236h4v4h-4zM604 236h4v4h-4zM280 240h4v4h-4zM292 240h8v4h-8zM608 240h4v4h-4zM280 244h16v4h-16zM312 244h4v4h-4zM612 244h4v4h-4zM628 244h4v4h-4zM280 248h12v4h-12zM312 248h4v4h-4zM616 248h4v4h-4zM308 252h4v4h-4zM632 252h4v4h-4zM644 256h4v4h-4zM304 260h4v4h-4zM300 264h4v4h-4zM656 268h4v4h-4zM296 276h4v4h-4zM660 276h4v4h-4zM292 284h4v4h-4zM664 288h4v4h-4zM288 296h4v4h-4zM668 300h4v4h-4zM668 304h4v4h-4zM668 308h4v4h-4zM800 316h4v4h-4zM664 320h4v4h-4zM800 320h4v4h-4zM808 324h4v4h-4zM664 340h4v4h-4zM752 340h12v4h-12zM664 344h4v4h-4zM748 344h4v4h-4zM172 348h4v4h-4zM208 348h8v4h-8zM744 348h4v4h-4zM764 348h4v4h-4zM172 352h4v4h-4zM212 352h4v4h-4zM744 352h4v4h-4zM212 356h4v4h-4zM196 360h4v4h-4zM212 360h4v4h-4zM768 360h4v4h-4zM176 364h4v4h-4zM768 364h4v4h-4zM176 368h4v4h-4zM740 368h4v4h-4zM768 368h4v4h-4zM176 372h4v4h-4zM192 372h4v4h-4zM208 372h4v4h-4zM740 372h4v4h-4zM192 376h4v4h-4zM740 376h4v4h-4zM176 380h4v4h-4zM192 380h4v4h-4zM664 380h4v4h-4zM740 380h4v4h-4zM768 380h4v4h-4zM176 384h4v4h-4zM196 384h8v4h-8zM664 384h4v4h-4zM768 384h4v4h-4zM172 388h4v4h-4zM288 388h4v4h-4zM656 388h4v4h-4zM664 388h4v4h-4zM768 388h4v4h-4zM664 392h4v4h-4zM768 392h4v4h-4zM664 396h4v4h-4zM800 396h4v4h-4zM652 400h4v4h-4zM808 400h4v4h-4zM292 404h4v4h-4zM296 412h4v4h-4zM648 412h4v4h-4zM764 412h4v4h-4zM300 416h4v4h-4zM660 416h4v4h-4zM764 416h4v4h-4zM304 420h4v4h-4zM660 420h4v4h-4zM760 424h4v4h-4zM796 424h4v4h-4zM740 432h4v4h-4zM756 432h4v4h-4zM752 436h4v4h-4zM800 436h4v4h-4zM660 440h4v4h-4zM744 440h8v4h-8zM312 444h8v4h-8zM320 448h4v4h-4zM312 452h4v4h-4zM656 452h4v4h-4zM324 456h4v4h-4zM324 460h4v4h-4zM652 460h4v4h-4zM320 464h8v4h-8zM324 468h8v4h-8zM648 468h4v4h-4zM168 472h4v4h-4zM328 472h4v4h-4zM644 472h4v4h-4zM332 476h4v4h-4zM332 480h8v4h-8zM640 480h4v4h-4zM336 484h8v4h-8zM636 484h4v4h-4zM340 488h4v4h-4zM632 488h4v4h-4zM604 516h4v4h-4zM192 520h4v4h-4zM600 520h4v4h-4zM408 524h4v4h-4zM564 524h4v4h-4zM592 524h4v4h-4zM404 528h4v4h-4zM584 528h4v4h-4zM484 536h4v4h-4zM728 540h4v4h-4zM488 544h4v4h-4zM724 544h4v4h-4zM412 548h4v4h-4zM488 548h4v4h-4zM424 552h4v4h-4zM436 556h8v4h-8zM484 556h4v4h-4zM460 560h20v4h-20zM348 652h4v4h-4zM348 656h4v4h-4zM356 664h4v4h-4zM420 668h4v4h-4zM376 672h4v4h-4zM388 676h4v4h-4zM404 680h4v4h-4zM424 684h4v4h-4z"/>
<path fill="#2119fa" d="M528 36h4v4h-4zM388 40h4v4h-4zM528 40h4v4h-4zM532 48h4v4h-4zM544 52h4v4h-4zM604 52h4v4h-4zM380 60h4v4h-4zM360 68h4v4h-4zM312 72h4v4h-4zM604 72h4v4h-4zM300 80h4v4h-4zM668 84h4v4h-4zM300 92h4v4h-4zM312 92h4v4h-4zM692 120h4v4h-4zM724 152h4v4h-4zM524 168h4v4h-4zM488 172h4v4h-4zM396 176h8v4h-8zM416 176h4v4h-4zM488 176h4v4h-4zM384 180h4v4h-4zM544 180h4v4h-4zM320 184h12v4h-12zM376 184h4v4h-4zM416 184h4v4h-4zM500 184h4v4h-4zM368 188h4v4h-4zM564 188h4v4h-4zM340 192h4v4h-4zM356 192h4v4h-4zM408 196h4v4h-4zM404 200h4v4h-4zM584 200h4v4h-4zM296 208h4v4h-4zM596 208h4v4h-4zM292 212h4v4h-4zM288 216h4v4h-4zM772 216h4v4h-4zM284 220h4v4h-4zM780 220h4v4h-4zM284 224h4v4h-4zM780 224h4v4h-4zM280 228h4v4h-4zM276 236h4v4h-4zM304 236h8v4h-8zM624 236h4v4h-4zM276 240h4v4h-4zM300 240h16v4h-16zM276 244h4v4h-4zM296 244h8v4h-8zM308 244h4v4h-4zM276 248h4v4h-4zM292 248h8v4h-8zM308 248h4v4h-4zM280 252h16v4h-16zM304 252h4v4h-4zM620 252h4v4h-4zM304 256h4v4h-4zM624 256h4v4h-4zM648 256h4v4h-4zM300 260h4v4h-4zM652 260h4v4h-4zM656 264h4v4h-4zM296 268h4v4h-4zM296 272h4v4h-4zM660 272h4v4h-4zM292 280h4v4h-4zM664 284h4v4h-4zM288 292h4v4h-4zM668 296h4v4h-4zM800 308h8v4h-8zM668 312h4v4h-4zM800 312h4v4h-4zM284 316h4v4h-4zM284 320h4v4h-4zM808 320h4v4h-4zM284 324h4v4h-4zM800 324h4v4h-4zM284 328h4v4h-4zM656 328h4v4h-4zM656 332h4v4h-4zM664 332h4v4h-4zM172 336h4v4h-4zM664 336h4v4h-4zM752 336h8v4h-8zM172 340h4v4h-4zM748 340h4v4h-4zM172 344h4v4h-4zM212 344h4v4h-4zM744 344h4v4h-4zM764 344h4v4h-4zM204 348h4v4h-4zM168 352h4v4h-4zM176 352h4v4h-4zM200 352h4v4h-4zM768 352h4v4h-4zM168 356h4v4h-4zM176 356h4v4h-4zM196 356h4v4h-4zM768 356h4v4h-4zM168 360h4v4h-4zM176 360h4v4h-4zM740 360h4v4h-4zM168 364h4v4h-4zM212 364h4v4h-4zM740 364h4v4h-4zM168 368h4v4h-4zM192 368h4v4h-4zM168 372h4v4h-4zM168 376h4v4h-4zM180 376h4v4h-4zM168 380h4v4h-4zM180 380h4v4h-4zM204 380h4v4h-4zM168 384h4v4h-4zM192 384h4v4h-4zM656 384h4v4h-4zM176 388h4v4h-4zM196 388h4v4h-4zM172 392h4v4h-4zM288 392h4v4h-4zM800 392h4v4h-4zM652 396h4v4h-4zM736 396h4v4h-4zM768 396h4v4h-4zM664 400h4v4h-4zM736 400h4v4h-4zM768 400h4v4h-4zM308 404h4v4h-4zM664 404h4v4h-4zM736 404h4v4h-4zM768 404h4v4h-4zM808 404h4v4h-4zM292 408h4v4h-4zM308 408h4v4h-4zM648 408h4v4h-4zM736 408h4v4h-4zM308 412h4v4h-4zM736 412h4v4h-4zM296 416h4v4h-4zM308 416h4v4h-4zM736 416h4v4h-4zM300 420h4v4h-4zM308 420h4v4h-4zM736 420h4v4h-4zM764 420h4v4h-4zM304 424h4v4h-4zM736 424h4v4h-4zM804 424h4v4h-4zM760 428h4v4h-4zM740 436h4v4h-4zM756 436h4v4h-4zM740 440h4v4h-4zM752 440h4v4h-4zM792 440h4v4h-4zM320 444h4v4h-4zM660 444h4v4h-4zM744 444h8v4h-8zM792 444h8v4h-8zM792 448h4v4h-4zM312 456h4v4h-4zM656 456h4v4h-4zM316 460h4v4h-4zM328 464h4v4h-4zM652 464h4v4h-4zM324 472h4v4h-4zM332 472h4v4h-4zM328 476h4v4h-4zM336 476h4v4h-4zM644 476h4v4h-4zM340 480h4v4h-4zM332 484h4v4h-4zM776 484h4v4h-4zM336 488h4v4h-4zM344 488h4v4h-4zM776 488h4v4h-4zM632 492h4v4h-4zM772 492h4v4h-4zM628 496h4v4h-4zM768 496h8v4h-8zM624 500h4v4h-4zM768 500h4v4h-4zM620 504h4v4h-4zM616 508h4v4h-4zM612 512h4v4h-4zM192 516h4v4h-4zM560 516h4v4h-4zM608 516h4v4h-4zM560 520h4v4h-4zM560 524h4v4h-4zM596 524h4v4h-4zM564 528h4v4h-4zM588 528h4v4h-4zM736 528h4v4h-4zM568 532h16v4h-16zM732 532h8v4h-8zM400 536h4v4h-4zM728 536h12v4h-12zM488 540h4v4h-4zM724 540h4v4h-4zM732 540h4v4h-4zM404 544h4v4h-4zM720 544h4v4h-4zM728 544h4v4h-4zM720 548h12v4h-12zM420 552h4v4h-4zM488 552h4v4h-4zM716 552h12v4h-12zM432 556h4v4h-4zM716 556h8v4h-8zM452 560h8v4h-8zM480 560h4v4h-4zM348 660h4v4h-4zM388 660h4v4h-4zM364 668h4v4h-4zM444 672h4v4h-4zM452 676h4v4h-4zM452 680h4v4h-4zM452 684h4v4h-4z"/>
<path fill="#1a16fa" d="M408 40h4v4h-4zM528 44h4v4h-4zM404 48h4v4h-4zM352 52h4v4h-4zM400 52h4v4h-4zM648 72h4v4h-4zM612 76h4v4h-4zM296 84h4v4h-4zM296 88h4v4h-4zM320 88h4v4h-4zM636 88h4v4h-4zM644 92h4v4h-4zM684 96h4v4h-4zM720 148h4v4h-4zM744 156h4v4h-4zM500 164h4v4h-4zM752 168h4v4h-4zM404 172h20v4h-20zM388 176h8v4h-8zM420 176h4v4h-4zM380 180h4v4h-4zM420 180h4v4h-4zM332 184h4v4h-4zM372 184h4v4h-4zM496 184h4v4h-4zM556 184h4v4h-4zM312 188h4v4h-4zM336 188h4v4h-4zM364 188h4v4h-4zM416 188h4v4h-4zM756 188h4v4h-4zM764 188h4v4h-4zM308 192h4v4h-4zM344 192h12v4h-12zM412 192h4v4h-4zM572 192h4v4h-4zM304 196h4v4h-4zM580 196h4v4h-4zM300 200h4v4h-4zM664 200h8v4h-8zM296 204h4v4h-4zM592 204h4v4h-4zM664 204h4v4h-4zM292 208h4v4h-4zM204 212h4v4h-4zM288 212h4v4h-4zM284 216h4v4h-4zM280 224h4v4h-4zM776 224h4v4h-4zM276 228h4v4h-4zM276 232h4v4h-4zM272 240h4v4h-4zM628 240h4v4h-4zM272 244h4v4h-4zM304 244h4v4h-4zM272 248h4v4h-4zM300 248h8v4h-8zM632 248h4v4h-4zM276 252h4v4h-4zM296 252h8v4h-8zM636 252h4v4h-4zM280 256h24v4h-24zM296 260h4v4h-4zM624 260h4v4h-4zM296 264h4v4h-4zM660 268h4v4h-4zM292 276h4v4h-4zM664 280h4v4h-4zM288 288h4v4h-4zM668 292h4v4h-4zM800 304h4v4h-4zM284 308h4v4h-4zM284 312h4v4h-4zM652 324h4v4h-4zM664 324h4v4h-4zM664 328h4v4h-4zM800 328h4v4h-4zM172 332h4v4h-4zM284 332h4v4h-4zM752 332h8v4h-8zM800 332h4v4h-4zM284 336h4v4h-4zM656 336h4v4h-4zM748 336h4v4h-4zM760 336h4v4h-4zM656 340h4v4h-4zM744 340h4v4h-4zM764 340h4v4h-4zM168 344h4v4h-4zM176 344h4v4h-4zM208 344h4v4h-4zM168 348h4v4h-4zM176 348h4v4h-4zM216 348h4v4h-4zM768 348h4v4h-4zM216 352h4v4h-4zM740 352h4v4h-4zM216 356h4v4h-4zM740 356h4v4h-4zM284 360h4v4h-4zM192 364h4v4h-4zM284 364h4v4h-4zM772 364h4v4h-4zM180 368h4v4h-4zM212 368h4v4h-4zM284 368h4v4h-4zM772 368h4v4h-4zM180 372h4v4h-4zM188 372h4v4h-4zM284 372h4v4h-4zM772 372h4v4h-4zM184 376h8v4h-8zM208 376h4v4h-4zM772 376h4v4h-4zM184 380h8v4h-8zM656 380h4v4h-4zM736 380h4v4h-4zM772 380h4v4h-4zM180 384h4v4h-4zM188 384h4v4h-4zM204 384h4v4h-4zM736 384h4v4h-4zM772 384h4v4h-4zM800 384h4v4h-4zM168 388h4v4h-4zM180 388h4v4h-4zM192 388h4v4h-4zM200 388h4v4h-4zM736 388h4v4h-4zM772 388h4v4h-4zM800 388h4v4h-4zM168 392h4v4h-4zM176 392h4v4h-4zM196 392h4v4h-4zM736 392h4v4h-4zM172 396h4v4h-4zM288 396h4v4h-4zM664 408h4v4h-4zM768 408h4v4h-4zM808 408h4v4h-4zM664 412h4v4h-4zM768 412h4v4h-4zM664 416h4v4h-4zM664 420h4v4h-4zM796 420h4v4h-4zM300 424h4v4h-4zM308 424h4v4h-4zM664 424h4v4h-4zM764 424h4v4h-4zM664 428h4v4h-4zM736 428h4v4h-4zM664 432h4v4h-4zM736 432h4v4h-4zM760 432h4v4h-4zM664 436h4v4h-4zM312 440h8v4h-8zM756 440h4v4h-4zM308 444h4v4h-4zM740 444h4v4h-4zM752 444h4v4h-4zM308 448h4v4h-4zM660 448h4v4h-4zM324 452h4v4h-4zM788 452h8v4h-8zM788 456h4v4h-4zM328 460h4v4h-4zM784 460h4v4h-4zM316 464h4v4h-4zM784 464h4v4h-4zM164 468h8v4h-8zM320 468h4v4h-4zM332 468h4v4h-4zM784 468h4v4h-4zM336 472h4v4h-4zM648 472h4v4h-4zM780 472h4v4h-4zM780 476h4v4h-4zM328 480h4v4h-4zM776 480h8v4h-8zM344 484h4v4h-4zM640 484h4v4h-4zM636 488h4v4h-4zM772 488h4v4h-4zM336 492h12v4h-12zM776 492h4v4h-4zM772 500h4v4h-4zM764 504h8v4h-8zM764 508h4v4h-4zM188 512h4v4h-4zM188 520h4v4h-4zM604 520h4v4h-4zM404 524h4v4h-4zM600 524h4v4h-4zM736 524h8v4h-8zM560 528h4v4h-4zM592 528h4v4h-4zM732 528h4v4h-4zM740 528h4v4h-4zM400 532h4v4h-4zM564 532h4v4h-4zM584 532h4v4h-4zM728 532h4v4h-4zM740 532h4v4h-4zM724 536h4v4h-4zM400 540h4v4h-4zM720 540h4v4h-4zM736 540h4v4h-4zM732 544h4v4h-4zM408 548h4v4h-4zM716 548h4v4h-4zM416 552h4v4h-4zM712 552h4v4h-4zM728 552h4v4h-4zM428 556h4v4h-4zM488 556h4v4h-4zM712 556h4v4h-4zM724 556h4v4h-4zM444 560h8v4h-8zM484 560h4v4h-4zM712 560h12v4h-12zM712 564h4v4h-4zM348 648h8v4h-8zM364 652h4v4h-4zM376 656h4v4h-4zM404 664h4v4h-4zM424 668h4v4h-4zM400 680h4v4h-4zM420 684h4v4h-4z"/>
<path fill="#1414fa" d="M556 36h4v4h-4zM572 40h4v4h-4zM408 44h4v4h-4zM584 44h4v4h-4zM596 48h4v4h-4zM392 56h4v4h-4zM556 56h4v4h-4zM624 60h4v4h-4zM632 64h4v4h-4zM640 68h4v4h-4zM352 72h4v4h-4zM656 76h4v4h-4zM620 80h4v4h-4zM328 84h4v4h-4zM628 84h4v4h-4zM296 92h4v4h-4zM300 96h8v4h-8zM652 96h4v4h-4zM676 108h4v4h-4zM696 124h4v4h-4zM496 164h4v4h-4zM504 164h8v4h-8zM488 168h4v4h-4zM528 168h4v4h-4zM228 172h4v4h-4zM396 172h8v4h-8zM424 172h4v4h-4zM224 176h8v4h-8zM384 176h4v4h-4zM424 176h4v4h-4zM540 176h4v4h-4zM220 180h8v4h-8zM324 180h8v4h-8zM376 180h4v4h-4zM424 180h4v4h-4zM548 180h4v4h-4zM220 184h4v4h-4zM316 184h4v4h-4zM336 184h4v4h-4zM368 184h4v4h-4zM420 184h4v4h-4zM216 188h8v4h-8zM340 188h4v4h-4zM360 188h4v4h-4zM216 192h4v4h-4zM304 192h4v4h-4zM668 192h4v4h-4zM212 196h4v4h-4zM300 196h4v4h-4zM412 196h4v4h-4zM664 196h12v4h-12zM208 200h8v4h-8zM296 200h4v4h-4zM660 200h4v4h-4zM672 200h4v4h-4zM208 204h4v4h-4zM292 204h4v4h-4zM660 204h4v4h-4zM668 204h8v4h-8zM204 208h8v4h-8zM288 208h4v4h-4zM664 208h8v4h-8zM208 212h4v4h-4zM204 216h4v4h-4zM608 216h4v4h-4zM280 220h4v4h-4zM612 220h4v4h-4zM276 224h4v4h-4zM616 224h4v4h-4zM780 228h4v4h-4zM272 232h4v4h-4zM272 236h4v4h-4zM672 236h4v4h-4zM668 240h8v4h-8zM672 244h4v4h-4zM272 252h4v4h-4zM640 252h4v4h-4zM276 256h4v4h-4zM652 256h4v4h-4zM280 260h16v4h-16zM656 260h4v4h-4zM288 264h8v4h-8zM292 268h4v4h-4zM292 272h4v4h-4zM664 276h4v4h-4zM288 284h4v4h-4zM668 284h4v4h-4zM668 288h4v4h-4zM284 300h4v4h-4zM672 300h4v4h-4zM284 304h4v4h-4zM672 304h4v4h-4zM804 304h4v4h-4zM668 316h4v4h-4zM808 316h4v4h-4zM172 324h4v4h-4zM172 328h4v4h-4zM748 332h4v4h-4zM760 332h4v4h-4zM168 336h4v4h-4zM176 336h4v4h-4zM744 336h4v4h-4zM764 336h4v4h-4zM800 336h4v4h-4zM168 340h4v4h-4zM176 340h4v4h-4zM212 340h4v4h-4zM284 340h4v4h-4zM768 340h4v4h-4zM800 340h4v4h-4zM204 344h4v4h-4zM216 344h4v4h-4zM284 344h4v4h-4zM656 344h4v4h-4zM740 344h4v4h-4zM768 344h4v4h-4zM200 348h4v4h-4zM656 348h4v4h-4zM740 348h4v4h-4zM196 352h4v4h-4zM284 352h4v4h-4zM656 352h4v4h-4zM772 352h4v4h-4zM284 356h4v4h-4zM656 356h4v4h-4zM772 356h4v4h-4zM180 360h4v4h-4zM192 360h4v4h-4zM216 360h4v4h-4zM668 360h4v4h-4zM772 360h4v4h-4zM180 364h4v4h-4zM656 364h4v4h-4zM668 364h4v4h-4zM736 364h4v4h-4zM184 368h8v4h-8zM656 368h4v4h-4zM736 368h4v4h-4zM184 372h4v4h-4zM212 372h4v4h-4zM656 372h4v4h-4zM736 372h4v4h-4zM284 376h4v4h-4zM656 376h4v4h-4zM736 376h4v4h-4zM284 380h4v4h-4zM800 380h4v4h-4zM184 384h4v4h-4zM184 388h8v4h-8zM180 392h4v4h-4zM188 392h8v4h-8zM200 392h4v4h-4zM652 392h4v4h-4zM772 392h4v4h-4zM176 396h4v4h-4zM772 396h4v4h-4zM288 400h4v4h-4zM772 400h4v4h-4zM772 404h4v4h-4zM292 412h4v4h-4zM312 416h4v4h-4zM768 416h4v4h-4zM796 416h4v4h-4zM296 420h4v4h-4zM312 420h4v4h-4zM312 424h4v4h-4zM304 428h8v4h-8zM764 428h4v4h-4zM804 428h4v4h-4zM308 432h4v4h-4zM312 436h4v4h-4zM736 436h4v4h-4zM760 436h4v4h-4zM792 436h4v4h-4zM308 440h4v4h-4zM664 440h4v4h-4zM800 440h4v4h-4zM756 444h4v4h-4zM324 448h4v4h-4zM744 448h12v4h-12zM788 448h4v4h-4zM796 448h4v4h-4zM308 452h4v4h-4zM660 452h4v4h-4zM328 456h4v4h-4zM784 456h4v4h-4zM312 460h4v4h-4zM656 460h4v4h-4zM788 460h4v4h-4zM332 464h4v4h-4zM652 468h4v4h-4zM780 468h4v4h-4zM164 472h4v4h-4zM784 472h4v4h-4zM168 476h4v4h-4zM324 476h4v4h-4zM340 476h4v4h-4zM648 476h4v4h-4zM776 476h4v4h-4zM344 480h4v4h-4zM644 480h4v4h-4zM328 484h4v4h-4zM772 484h4v4h-4zM780 484h4v4h-4zM332 488h4v4h-4zM348 488h4v4h-4zM636 492h4v4h-4zM768 492h4v4h-4zM340 496h4v4h-4zM632 496h4v4h-4zM628 500h4v4h-4zM764 500h4v4h-4zM624 504h4v4h-4zM620 508h4v4h-4zM760 508h4v4h-4zM768 508h4v4h-4zM616 512h4v4h-4zM612 516h4v4h-4zM744 516h4v4h-4zM556 520h4v4h-4zM608 520h4v4h-4zM736 520h12v4h-12zM556 524h4v4h-4zM732 524h4v4h-4zM744 524h4v4h-4zM400 528h4v4h-4zM596 528h4v4h-4zM728 528h4v4h-4zM744 528h4v4h-4zM560 532h4v4h-4zM588 532h4v4h-4zM724 532h4v4h-4zM488 536h4v4h-4zM568 536h16v4h-16zM720 536h4v4h-4zM740 536h4v4h-4zM400 544h4v4h-4zM492 544h4v4h-4zM716 544h4v4h-4zM736 544h4v4h-4zM404 548h4v4h-4zM492 548h4v4h-4zM712 548h4v4h-4zM732 548h4v4h-4zM412 552h4v4h-4zM424 556h4v4h-4zM708 556h4v4h-4zM436 560h8v4h-8zM708 560h4v4h-4zM460 564h20v4h-20zM704 564h8v4h-8zM716 564h4v4h-4zM704 568h12v4h-12zM344 652h4v4h-4zM344 656h4v4h-4zM372 672h4v4h-4zM448 672h4v4h-4z"/>
<path fill="#172ad9" d="M528 32h8v4h-8zM404 36h8v4h-8zM524 36h4v4h-4zM524 40h4v4h-4zM372 44h4v4h-4zM524 44h4v4h-4zM408 48h4v4h-4zM528 48h4v4h-4zM540 52h4v4h-4zM616 56h4v4h-4zM372 64h4v4h-4zM592 68h4v4h-4zM304 76h4v4h-4zM344 76h4v4h-4zM336 80h4v4h-4zM292 88h4v4h-4zM712 120h4v4h-4zM716 124h4v4h-4zM700 128h4v4h-4zM720 128h4v4h-4zM716 144h4v4h-4zM648 160h16v4h-16zM492 164h4v4h-4zM512 164h4v4h-4zM644 164h24v4h-24zM228 168h8v4h-8zM404 168h20v4h-20zM644 168h28v4h-28zM224 172h4v4h-4zM232 172h4v4h-4zM388 172h8v4h-8zM428 172h4v4h-4zM536 172h4v4h-4zM640 172h32v4h-32zM380 176h4v4h-4zM428 176h4v4h-4zM640 176h28v4h-28zM228 180h4v4h-4zM320 180h4v4h-4zM332 180h4v4h-4zM372 180h4v4h-4zM488 180h4v4h-4zM640 180h16v4h-16zM216 184h4v4h-4zM224 184h4v4h-4zM312 184h4v4h-4zM340 184h4v4h-4zM364 184h4v4h-4zM424 184h4v4h-4zM560 184h4v4h-4zM640 184h12v4h-12zM308 188h4v4h-4zM344 188h16v4h-16zM420 188h4v4h-4zM568 188h4v4h-4zM644 188h4v4h-4zM668 188h4v4h-4zM212 192h4v4h-4zM220 192h4v4h-4zM416 192h4v4h-4zM576 192h4v4h-4zM664 192h4v4h-4zM672 192h4v4h-4zM208 196h4v4h-4zM216 196h4v4h-4zM660 196h4v4h-4zM676 196h4v4h-4zM588 200h4v4h-4zM676 200h4v4h-4zM204 204h4v4h-4zM212 204h4v4h-4zM676 204h4v4h-4zM660 208h4v4h-4zM672 208h4v4h-4zM284 212h4v4h-4zM604 212h4v4h-4zM664 212h8v4h-8zM200 216h4v4h-4zM280 216h4v4h-4zM276 220h4v4h-4zM272 228h4v4h-4zM620 228h4v4h-4zM668 228h16v4h-16zM624 232h4v4h-4zM664 232h24v4h-24zM664 236h8v4h-8zM676 236h12v4h-12zM268 240h4v4h-4zM664 240h4v4h-4zM676 240h8v4h-8zM268 244h4v4h-4zM632 244h4v4h-4zM668 244h4v4h-4zM676 244h8v4h-8zM268 248h4v4h-4zM668 248h12v4h-12zM644 252h4v4h-4zM272 256h4v4h-4zM276 260h4v4h-4zM284 264h4v4h-4zM660 264h4v4h-4zM288 268h4v4h-4zM288 272h4v4h-4zM664 272h4v4h-4zM288 276h4v4h-4zM288 280h4v4h-4zM668 280h4v4h-4zM672 292h4v4h-4zM284 296h4v4h-4zM672 296h4v4h-4zM800 300h4v4h-4zM672 308h4v4h-4zM172 320h4v4h-4zM176 324h4v4h-4zM176 328h4v4h-4zM748 328h16v4h-16zM168 332h4v4h-4zM176 332h4v4h-4zM744 332h4v4h-4zM764 332h4v4h-4zM768 336h4v4h-4zM208 340h4v4h-4zM216 340h4v4h-4zM740 340h4v4h-4zM800 344h4v4h-4zM220 348h4v4h-4zM284 348h4v4h-4zM668 348h4v4h-4zM772 348h4v4h-4zM800 348h4v4h-4zM812 348h4v4h-4zM668 352h4v4h-4zM800 352h4v4h-4zM812 352h4v4h-4zM180 356h4v4h-4zM192 356h4v4h-4zM668 356h4v4h-4zM736 356h4v4h-4zM800 356h4v4h-4zM812 356h4v4h-4zM656 360h4v4h-4zM736 360h4v4h-4zM800 360h4v4h-4zM812 360h4v4h-4zM184 364h8v4h-8zM216 364h4v4h-4zM776 364h4v4h-4zM800 364h4v4h-4zM812 364h4v4h-4zM668 368h4v4h-4zM776 368h4v4h-4zM800 368h4v4h-4zM812 368h4v4h-4zM668 372h4v4h-4zM776 372h4v4h-4zM800 372h4v4h-4zM812 372h4v4h-4zM668 376h4v4h-4zM776 376h8v4h-8zM800 376h4v4h-4zM812 376h4v4h-4zM208 380h4v4h-4zM776 380h8v4h-8zM284 384h4v4h-4zM776 384h8v4h-8zM204 388h4v4h-4zM284 388h4v4h-4zM776 388h8v4h-8zM184 392h4v4h-4zM776 392h8v4h-8zM168 396h4v4h-4zM188 396h12v4h-12zM732 396h4v4h-4zM776 396h8v4h-8zM172 400h4v4h-4zM732 400h4v4h-4zM776 400h4v4h-4zM288 404h4v4h-4zM732 404h4v4h-4zM776 404h4v4h-4zM732 408h4v4h-4zM772 408h4v4h-4zM732 412h4v4h-4zM772 412h4v4h-4zM796 412h4v4h-4zM808 412h4v4h-4zM292 416h4v4h-4zM732 416h4v4h-4zM732 420h4v4h-4zM768 420h4v4h-4zM296 424h4v4h-4zM732 424h4v4h-4zM768 424h4v4h-4zM300 428h4v4h-4zM312 428h4v4h-4zM732 428h4v4h-4zM304 432h4v4h-4zM312 432h4v4h-4zM764 432h4v4h-4zM792 432h4v4h-4zM308 436h4v4h-4zM316 436h4v4h-4zM320 440h4v4h-4zM736 440h4v4h-4zM760 440h4v4h-4zM664 444h4v4h-4zM736 444h4v4h-4zM788 444h4v4h-4zM740 448h4v4h-4zM744 452h8v4h-8zM308 456h4v4h-4zM660 456h4v4h-4zM792 456h4v4h-4zM656 464h4v4h-4zM780 464h4v4h-4zM788 464h4v4h-4zM316 468h4v4h-4zM336 468h4v4h-4zM320 472h4v4h-4zM652 472h4v4h-4zM776 472h4v4h-4zM784 476h4v4h-4zM324 480h4v4h-4zM772 480h4v4h-4zM348 484h4v4h-4zM644 484h4v4h-4zM640 488h4v4h-4zM768 488h4v4h-4zM332 492h4v4h-4zM348 492h4v4h-4zM336 496h4v4h-4zM344 496h4v4h-4zM764 496h4v4h-4zM776 496h4v4h-4zM760 504h4v4h-4zM772 504h4v4h-4zM756 508h4v4h-4zM184 512h4v4h-4zM744 512h8v4h-8zM756 512h12v4h-12zM736 516h8v4h-8zM748 516h8v4h-8zM404 520h4v4h-4zM732 520h4v4h-4zM748 520h4v4h-4zM192 524h4v4h-4zM604 524h4v4h-4zM728 524h4v4h-4zM748 524h4v4h-4zM556 528h4v4h-4zM600 528h4v4h-4zM592 532h4v4h-4zM744 532h4v4h-4zM396 536h4v4h-4zM564 536h4v4h-4zM584 536h4v4h-4zM492 540h4v4h-4zM572 540h4v4h-4zM716 540h4v4h-4zM740 540h4v4h-4zM736 548h4v4h-4zM408 552h4v4h-4zM492 552h4v4h-4zM708 552h4v4h-4zM732 552h4v4h-4zM420 556h4v4h-4zM492 556h4v4h-4zM728 556h4v4h-4zM432 560h4v4h-4zM488 560h4v4h-4zM704 560h4v4h-4zM724 560h4v4h-4zM452 564h8v4h-8zM480 564h4v4h-4zM720 564h4v4h-4zM700 568h4v4h-4zM716 568h4v4h-4zM700 572h12v4h-12zM344 648h4v4h-4zM352 664h4v4h-4zM408 664h4v4h-4zM428 668h4v4h-4zM384 676h4v4h-4zM456 676h4v4h-4zM456 680h4v4h-4zM416 684h4v4h-4zM456 684h4v4h-4z"/>
<path fill="#1a43b5" d="M524 32h4v4h-4zM536 32h4v4h-4zM384 40h4v4h-4zM412 40h4v4h-4zM360 48h4v4h-4zM404 52h4v4h-4zM332 60h4v4h-4zM568 60h4v4h-4zM324 64h4v4h-4zM580 64h4v4h-4zM680 92h4v4h-4zM296 96h4v4h-4zM660 100h4v4h-4zM708 116h4v4h-4zM704 132h4v4h-4zM724 132h4v4h-4zM708 136h4v4h-4zM712 140h4v4h-4zM644 156h20v4h-20zM640 160h8v4h-8zM664 160h4v4h-4zM232 164h8v4h-8zM516 164h4v4h-4zM640 164h4v4h-4zM668 164h4v4h-4zM236 168h4v4h-4zM396 168h8v4h-8zM424 168h8v4h-8zM532 168h4v4h-4zM636 168h8v4h-8zM672 168h4v4h-4zM384 172h4v4h-4zM432 172h4v4h-4zM636 172h4v4h-4zM672 172h4v4h-4zM220 176h4v4h-4zM232 176h4v4h-4zM324 176h12v4h-12zM376 176h4v4h-4zM636 176h4v4h-4zM668 176h8v4h-8zM216 180h4v4h-4zM316 180h4v4h-4zM336 180h4v4h-4zM368 180h4v4h-4zM428 180h4v4h-4zM552 180h4v4h-4zM636 180h4v4h-4zM656 180h20v4h-20zM760 180h4v4h-4zM344 184h4v4h-4zM356 184h8v4h-8zM492 184h4v4h-4zM636 184h4v4h-4zM652 184h24v4h-24zM212 188h4v4h-4zM224 188h4v4h-4zM304 188h4v4h-4zM640 188h4v4h-4zM648 188h20v4h-20zM672 188h4v4h-4zM300 192h4v4h-4zM420 192h4v4h-4zM640 192h24v4h-24zM676 192h4v4h-4zM296 196h4v4h-4zM584 196h4v4h-4zM656 196h4v4h-4zM760 196h4v4h-4zM216 200h4v4h-4zM292 200h4v4h-4zM656 200h4v4h-4zM680 200h4v4h-4zM288 204h4v4h-4zM656 204h4v4h-4zM680 204h4v4h-4zM212 208h4v4h-4zM284 208h4v4h-4zM600 208h4v4h-4zM656 208h4v4h-4zM676 208h8v4h-8zM776 208h4v4h-4zM200 212h4v4h-4zM280 212h4v4h-4zM660 212h4v4h-4zM672 212h12v4h-12zM208 216h4v4h-4zM276 216h4v4h-4zM660 216h28v4h-28zM204 220h4v4h-4zM664 220h28v4h-28zM272 224h4v4h-4zM664 224h28v4h-28zM664 228h4v4h-4zM684 228h8v4h-8zM268 232h4v4h-4zM688 232h4v4h-4zM268 236h4v4h-4zM628 236h4v4h-4zM688 236h4v4h-4zM684 240h4v4h-4zM664 244h4v4h-4zM684 244h4v4h-4zM636 248h4v4h-4zM664 248h4v4h-4zM680 248h4v4h-4zM268 252h4v4h-4zM648 252h4v4h-4zM672 252h4v4h-4zM656 256h4v4h-4zM272 260h4v4h-4zM660 260h4v4h-4zM276 264h8v4h-8zM284 268h4v4h-4zM664 268h4v4h-4zM668 276h4v4h-4zM672 288h4v4h-4zM284 292h4v4h-4zM672 312h4v4h-4zM808 312h4v4h-4zM172 316h8v4h-8zM280 316h4v4h-4zM176 320h4v4h-4zM280 320h4v4h-4zM280 324h4v4h-4zM748 324h16v4h-16zM168 328h4v4h-4zM652 328h4v4h-4zM744 328h4v4h-4zM764 328h4v4h-4zM768 332h4v4h-4zM212 336h8v4h-8zM740 336h4v4h-4zM204 340h4v4h-4zM220 340h4v4h-4zM668 340h4v4h-4zM772 340h4v4h-4zM812 340h4v4h-4zM200 344h4v4h-4zM220 344h4v4h-4zM668 344h4v4h-4zM772 344h4v4h-4zM812 344h4v4h-4zM180 348h4v4h-4zM196 348h4v4h-4zM736 348h4v4h-4zM180 352h4v4h-4zM220 352h4v4h-4zM736 352h4v4h-4zM220 356h4v4h-4zM776 356h4v4h-4zM184 360h8v4h-8zM776 360h4v4h-4zM780 364h4v4h-4zM216 368h4v4h-4zM780 368h4v4h-4zM780 372h4v4h-4zM212 376h4v4h-4zM732 376h4v4h-4zM784 376h4v4h-4zM668 380h4v4h-4zM732 380h4v4h-4zM784 380h4v4h-4zM812 380h4v4h-4zM208 384h4v4h-4zM668 384h4v4h-4zM732 384h4v4h-4zM784 384h4v4h-4zM812 384h4v4h-4zM668 388h4v4h-4zM732 388h4v4h-4zM784 388h4v4h-4zM284 392h4v4h-4zM732 392h4v4h-4zM180 396h8v4h-8zM200 396h4v4h-4zM168 400h4v4h-4zM176 400h4v4h-4zM192 400h8v4h-8zM780 400h4v4h-4zM172 404h4v4h-4zM780 404h4v4h-4zM288 408h4v4h-4zM776 408h4v4h-4zM796 408h4v4h-4zM776 412h4v4h-4zM668 416h4v4h-4zM772 416h4v4h-4zM808 416h4v4h-4zM292 420h4v4h-4zM668 420h4v4h-4zM772 420h4v4h-4zM668 424h4v4h-4zM668 428h4v4h-4zM768 428h4v4h-4zM300 432h4v4h-4zM316 432h4v4h-4zM668 432h4v4h-4zM732 432h4v4h-4zM804 432h4v4h-4zM304 436h4v4h-4zM732 436h4v4h-4zM764 436h4v4h-4zM304 440h4v4h-4zM304 444h4v4h-4zM324 444h4v4h-4zM760 444h4v4h-4zM304 448h4v4h-4zM664 448h4v4h-4zM736 448h4v4h-4zM756 448h4v4h-4zM328 452h4v4h-4zM740 452h4v4h-4zM752 452h4v4h-4zM784 452h4v4h-4zM744 456h8v4h-8zM332 460h4v4h-4zM660 460h4v4h-4zM780 460h4v4h-4zM164 464h4v4h-4zM312 464h4v4h-4zM656 468h4v4h-4zM788 468h4v4h-4zM340 472h4v4h-4zM320 476h4v4h-4zM344 476h4v4h-4zM648 480h4v4h-4zM328 488h4v4h-4zM780 488h4v4h-4zM640 492h4v4h-4zM764 492h4v4h-4zM332 496h4v4h-4zM636 496h4v4h-4zM336 500h8v4h-8zM632 500h4v4h-4zM760 500h4v4h-4zM628 504h4v4h-4zM756 504h4v4h-4zM624 508h4v4h-4zM744 508h12v4h-12zM620 512h4v4h-4zM740 512h4v4h-4zM752 512h4v4h-4zM184 516h4v4h-4zM616 516h4v4h-4zM756 516h8v4h-8zM552 520h4v4h-4zM612 520h4v4h-4zM752 520h4v4h-4zM400 524h4v4h-4zM552 524h4v4h-4zM608 524h4v4h-4zM724 528h4v4h-4zM748 528h4v4h-4zM396 532h4v4h-4zM556 532h4v4h-4zM596 532h4v4h-4zM720 532h4v4h-4zM492 536h4v4h-4zM560 536h4v4h-4zM588 536h4v4h-4zM744 536h4v4h-4zM396 540h4v4h-4zM564 540h8v4h-8zM576 540h8v4h-8zM712 544h4v4h-4zM740 544h4v4h-4zM400 548h4v4h-4zM708 548h4v4h-4zM416 556h4v4h-4zM704 556h4v4h-4zM428 560h4v4h-4zM728 560h4v4h-4zM444 564h8v4h-8zM484 564h4v4h-4zM700 564h4v4h-4zM724 564h4v4h-4zM696 572h4v4h-4zM712 572h4v4h-4zM696 576h16v4h-16zM692 580h12v4h-12zM672 596h4v4h-4zM664 600h12v4h-12zM660 604h12v4h-12zM652 608h16v4h-16zM648 612h12v4h-12zM648 616h4v4h-4zM356 648h4v4h-4zM392 660h4v4h-4zM360 668h4v4h-4zM452 672h4v4h-4zM512 680h4v4h-4zM444 688h8v4h-8z"/>
<path fill="#1d6191" d="M540 32h4v4h-4zM400 36h4v4h-4zM412 36h4v4h-4zM520 36h4v4h-4zM560 36h4v4h-4zM520 40h4v4h-4zM412 44h4v4h-4zM608 52h4v4h-4zM340 56h4v4h-4zM552 56h4v4h-4zM384 60h4v4h-4zM316 68h4v4h-4zM600 72h4v4h-4zM292 92h4v4h-4zM308 96h4v4h-4zM668 104h4v4h-4zM704 112h4v4h-4zM728 136h4v4h-4zM648 152h16v4h-16zM640 156h4v4h-4zM664 156h4v4h-4zM636 160h4v4h-4zM668 160h4v4h-4zM228 164h4v4h-4zM400 164h24v4h-24zM488 164h4v4h-4zM520 164h4v4h-4zM636 164h4v4h-4zM672 164h4v4h-4zM224 168h4v4h-4zM388 168h8v4h-8zM432 168h4v4h-4zM220 172h4v4h-4zM236 172h4v4h-4zM328 172h4v4h-4zM380 172h4v4h-4zM436 172h4v4h-4zM484 172h4v4h-4zM632 172h4v4h-4zM320 176h4v4h-4zM336 176h4v4h-4zM372 176h4v4h-4zM432 176h4v4h-4zM484 176h4v4h-4zM544 176h4v4h-4zM632 176h4v4h-4zM312 180h4v4h-4zM340 180h4v4h-4zM364 180h4v4h-4zM212 184h4v4h-4zM228 184h4v4h-4zM308 184h4v4h-4zM348 184h8v4h-8zM428 184h4v4h-4zM424 188h4v4h-4zM636 188h4v4h-4zM676 188h4v4h-4zM208 192h4v4h-4zM296 192h4v4h-4zM220 196h4v4h-4zM292 196h4v4h-4zM640 196h16v4h-16zM680 196h4v4h-4zM204 200h4v4h-4zM288 200h4v4h-4zM652 200h4v4h-4zM772 200h4v4h-4zM216 204h4v4h-4zM284 204h4v4h-4zM596 204h4v4h-4zM764 204h4v4h-4zM200 208h4v4h-4zM280 208h4v4h-4zM684 208h4v4h-4zM212 212h4v4h-4zM656 212h4v4h-4zM684 212h8v4h-8zM688 216h4v4h-4zM780 216h4v4h-4zM200 220h4v4h-4zM272 220h4v4h-4zM660 220h4v4h-4zM660 224h4v4h-4zM268 228h4v4h-4zM660 228h4v4h-4zM784 228h4v4h-4zM660 232h4v4h-4zM780 232h8v4h-8zM660 236h4v4h-4zM264 240h4v4h-4zM688 240h4v4h-4zM264 244h4v4h-4zM264 248h4v4h-4zM684 248h4v4h-4zM652 252h4v4h-4zM664 252h8v4h-8zM676 252h8v4h-8zM268 256h4v4h-4zM660 256h4v4h-4zM272 264h4v4h-4zM664 264h4v4h-4zM280 268h4v4h-4zM284 272h4v4h-4zM668 272h4v4h-4zM284 276h4v4h-4zM284 280h4v4h-4zM284 284h4v4h-4zM672 284h4v4h-4zM284 288h4v4h-4zM800 296h4v4h-4zM676 300h4v4h-4zM804 300h4v4h-4zM280 304h4v4h-4zM676 304h4v4h-4zM176 308h4v4h-4zM280 308h4v4h-4zM172 312h8v4h-8zM280 312h4v4h-4zM668 320h4v4h-4zM752 320h8v4h-8zM168 324h4v4h-4zM744 324h4v4h-4zM764 324h4v4h-4zM280 328h4v4h-4zM768 328h4v4h-4zM740 332h4v4h-4zM812 332h4v4h-4zM208 336h4v4h-4zM220 336h4v4h-4zM668 336h4v4h-4zM772 336h4v4h-4zM812 336h4v4h-4zM736 340h4v4h-4zM180 344h4v4h-4zM736 344h4v4h-4zM776 348h4v4h-4zM164 352h4v4h-4zM192 352h4v4h-4zM776 352h4v4h-4zM164 356h4v4h-4zM184 356h8v4h-8zM780 356h4v4h-4zM164 360h4v4h-4zM220 360h4v4h-4zM732 360h4v4h-4zM780 360h4v4h-4zM164 364h4v4h-4zM732 364h4v4h-4zM164 368h4v4h-4zM732 368h4v4h-4zM784 368h4v4h-4zM164 372h4v4h-4zM732 372h4v4h-4zM784 372h4v4h-4zM164 376h4v4h-4zM164 380h4v4h-4zM164 384h4v4h-4zM812 388h4v4h-4zM204 392h4v4h-4zM668 392h4v4h-4zM784 392h4v4h-4zM284 396h4v4h-4zM668 396h4v4h-4zM784 396h4v4h-4zM180 400h12v4h-12zM200 400h4v4h-4zM284 400h4v4h-4zM668 400h4v4h-4zM168 404h4v4h-4zM176 404h4v4h-4zM192 404h8v4h-8zM668 404h4v4h-4zM796 404h4v4h-4zM172 408h4v4h-4zM668 408h4v4h-4zM728 408h4v4h-4zM780 408h4v4h-4zM288 412h4v4h-4zM668 412h4v4h-4zM728 412h4v4h-4zM728 416h4v4h-4zM776 416h4v4h-4zM728 420h4v4h-4zM772 424h4v4h-4zM296 428h4v4h-4zM316 428h4v4h-4zM792 428h4v4h-4zM768 432h4v4h-4zM300 436h4v4h-4zM320 436h4v4h-4zM668 436h4v4h-4zM668 440h4v4h-4zM732 440h4v4h-4zM764 440h4v4h-4zM788 440h4v4h-4zM800 444h4v4h-4zM760 448h4v4h-4zM784 448h4v4h-4zM304 452h4v4h-4zM664 452h4v4h-4zM736 452h4v4h-4zM756 452h4v4h-4zM796 452h4v4h-4zM740 456h4v4h-4zM752 456h4v4h-4zM308 460h4v4h-4zM744 460h8v4h-8zM792 460h4v4h-4zM336 464h4v4h-4zM660 464h4v4h-4zM776 468h4v4h-4zM316 472h4v4h-4zM656 472h4v4h-4zM652 476h4v4h-4zM772 476h4v4h-4zM348 480h4v4h-4zM784 480h4v4h-4zM324 484h4v4h-4zM648 484h4v4h-4zM768 484h4v4h-4zM644 488h4v4h-4zM256 492h4v4h-4zM328 492h4v4h-4zM328 496h4v4h-4zM348 496h4v4h-4zM760 496h4v4h-4zM332 500h4v4h-4zM344 500h4v4h-4zM752 500h8v4h-8zM776 500h4v4h-4zM332 504h8v4h-8zM632 504h4v4h-4zM744 504h12v4h-12zM328 508h8v4h-8zM628 508h4v4h-4zM740 508h4v4h-4zM328 512h8v4h-8zM624 512h4v4h-4zM736 512h4v4h-4zM768 512h4v4h-4zM328 516h4v4h-4zM620 516h4v4h-4zM732 516h4v4h-4zM764 516h4v4h-4zM728 520h4v4h-4zM756 520h8v4h-8zM724 524h4v4h-4zM752 524h4v4h-4zM396 528h4v4h-4zM552 528h4v4h-4zM604 528h4v4h-4zM552 532h4v4h-4zM600 532h4v4h-4zM748 532h4v4h-4zM556 536h4v4h-4zM592 536h4v4h-4zM716 536h4v4h-4zM560 540h4v4h-4zM584 540h8v4h-8zM712 540h4v4h-4zM744 540h4v4h-4zM396 544h4v4h-4zM568 544h12v4h-12zM404 552h4v4h-4zM704 552h4v4h-4zM736 552h4v4h-4zM412 556h4v4h-4zM732 556h4v4h-4zM424 560h4v4h-4zM492 560h4v4h-4zM700 560h4v4h-4zM436 564h8v4h-8zM488 564h4v4h-4zM460 568h24v4h-24zM696 568h4v4h-4zM720 568h4v4h-4zM692 572h4v4h-4zM716 572h4v4h-4zM692 576h4v4h-4zM712 576h4v4h-4zM688 580h4v4h-4zM704 580h4v4h-4zM684 584h16v4h-16zM680 588h16v4h-16zM672 592h16v4h-16zM668 596h4v4h-4zM676 596h8v4h-8zM660 600h4v4h-4zM676 600h4v4h-4zM656 604h4v4h-4zM672 604h4v4h-4zM648 608h4v4h-4zM668 608h4v4h-4zM644 612h4v4h-4zM660 612h4v4h-4zM644 616h4v4h-4zM652 616h8v4h-8zM644 620h4v4h-4zM340 648h4v4h-4zM340 652h4v4h-4zM368 652h4v4h-4zM340 656h4v4h-4zM380 656h4v4h-4zM344 660h4v4h-4zM432 668h4v4h-4zM396 680h4v4h-4zM504 680h8v4h-8zM516 680h4v4h-4zM412 684h4v4h-4zM440 688h4v4h-4zM452 688h4v4h-4z"/>
<path fill="#207c76" d="M520 32h4v4h-4zM520 44h4v4h-4zM588 44h4v4h-4zM524 48h4v4h-4zM348 52h4v4h-4zM536 52h4v4h-4zM396 56h4v4h-4zM364 68h4v4h-4zM292 84h4v4h-4zM648 96h4v4h-4zM296 100h8v4h-8zM700 108h4v4h-4zM652 148h4v4h-4zM644 152h4v4h-4zM664 152h4v4h-4zM636 156h4v4h-4zM668 156h4v4h-4zM236 160h4v4h-4zM672 160h4v4h-4zM748 160h4v4h-4zM240 164h4v4h-4zM392 164h8v4h-8zM424 164h8v4h-8zM524 164h4v4h-4zM632 164h4v4h-4zM384 168h4v4h-4zM436 168h4v4h-4zM484 168h4v4h-4zM632 168h4v4h-4zM676 168h4v4h-4zM320 172h8v4h-8zM332 172h8v4h-8zM376 172h4v4h-4zM440 172h4v4h-4zM676 172h4v4h-4zM216 176h4v4h-4zM236 176h4v4h-4zM316 176h4v4h-4zM340 176h4v4h-4zM364 176h8v4h-8zM436 176h4v4h-4zM676 176h4v4h-4zM232 180h4v4h-4zM344 180h20v4h-20zM432 180h4v4h-4zM484 180h4v4h-4zM556 180h4v4h-4zM632 180h4v4h-4zM676 180h4v4h-4zM304 184h4v4h-4zM488 184h4v4h-4zM564 184h4v4h-4zM632 184h4v4h-4zM676 184h4v4h-4zM752 184h4v4h-4zM300 188h4v4h-4zM572 188h4v4h-4zM224 192h4v4h-4zM424 192h4v4h-4zM580 192h4v4h-4zM636 192h4v4h-4zM680 192h4v4h-4zM768 192h4v4h-4zM288 196h4v4h-4zM284 200h4v4h-4zM592 200h4v4h-4zM644 200h8v4h-8zM280 204h4v4h-4zM652 204h4v4h-4zM684 204h4v4h-4zM688 208h4v4h-4zM276 212h4v4h-4zM608 212h4v4h-4zM768 212h4v4h-4zM272 216h4v4h-4zM612 216h4v4h-4zM656 216h4v4h-4zM208 220h4v4h-4zM616 220h4v4h-4zM692 220h4v4h-4zM772 220h4v4h-4zM268 224h4v4h-4zM620 224h4v4h-4zM692 224h4v4h-4zM624 228h4v4h-4zM692 228h4v4h-4zM264 232h4v4h-4zM692 232h4v4h-4zM264 236h4v4h-4zM692 236h4v4h-4zM632 240h4v4h-4zM660 240h4v4h-4zM660 244h4v4h-4zM688 244h4v4h-4zM660 248h4v4h-4zM264 252h4v4h-4zM656 252h8v4h-8zM264 256h4v4h-4zM664 256h12v4h-12zM268 260h4v4h-4zM664 260h4v4h-4zM276 268h4v4h-4zM668 268h4v4h-4zM280 272h4v4h-4zM672 280h4v4h-4zM676 292h4v4h-4zM280 296h4v4h-4zM676 296h4v4h-4zM280 300h4v4h-4zM176 304h4v4h-4zM796 304h4v4h-4zM172 308h4v4h-4zM676 308h4v4h-4zM796 308h4v4h-4zM808 308h4v4h-4zM796 312h4v4h-4zM168 320h4v4h-4zM748 320h4v4h-4zM760 320h8v4h-8zM768 324h4v4h-4zM740 328h4v4h-4zM812 328h4v4h-4zM216 332h4v4h-4zM280 332h4v4h-4zM668 332h4v4h-4zM772 332h4v4h-4zM180 336h4v4h-4zM736 336h4v4h-4zM180 340h4v4h-4zM200 340h4v4h-4zM224 340h4v4h-4zM776 340h4v4h-4zM164 344h4v4h-4zM196 344h4v4h-4zM224 344h4v4h-4zM776 344h4v4h-4zM164 348h4v4h-4zM192 348h4v4h-4zM224 348h4v4h-4zM732 348h4v4h-4zM184 352h8v4h-8zM732 352h4v4h-4zM780 352h4v4h-4zM732 356h4v4h-4zM280 360h4v4h-4zM784 360h4v4h-4zM220 364h4v4h-4zM280 364h4v4h-4zM784 364h4v4h-4zM280 368h4v4h-4zM216 372h4v4h-4zM280 372h4v4h-4zM280 376h4v4h-4zM212 380h4v4h-4zM164 388h4v4h-4zM208 388h4v4h-4zM728 388h4v4h-4zM164 392h4v4h-4zM728 392h4v4h-4zM812 392h4v4h-4zM204 396h4v4h-4zM728 396h4v4h-4zM728 400h4v4h-4zM784 400h4v4h-4zM796 400h4v4h-4zM180 404h12v4h-12zM284 404h4v4h-4zM728 404h4v4h-4zM784 404h4v4h-4zM168 408h4v4h-4zM176 408h4v4h-4zM188 408h12v4h-12zM172 412h8v4h-8zM780 412h4v4h-4zM172 416h8v4h-8zM288 416h4v4h-4zM780 416h4v4h-4zM776 420h4v4h-4zM808 420h4v4h-4zM292 424h4v4h-4zM728 424h4v4h-4zM776 424h4v4h-4zM728 428h4v4h-4zM772 428h4v4h-4zM296 432h4v4h-4zM728 432h4v4h-4zM772 432h4v4h-4zM768 436h4v4h-4zM804 436h4v4h-4zM300 440h4v4h-4zM768 440h4v4h-4zM668 444h4v4h-4zM732 444h4v4h-4zM764 444h4v4h-4zM764 448h4v4h-4zM160 452h4v4h-4zM760 452h4v4h-4zM160 456h4v4h-4zM332 456h4v4h-4zM664 456h4v4h-4zM736 456h4v4h-4zM756 456h4v4h-4zM780 456h4v4h-4zM160 460h4v4h-4zM740 460h4v4h-4zM752 460h4v4h-4zM160 464h4v4h-4zM744 464h8v4h-8zM776 464h4v4h-4zM312 468h4v4h-4zM340 468h4v4h-4zM660 468h4v4h-4zM772 472h4v4h-4zM788 472h4v4h-4zM164 476h4v4h-4zM252 480h8v4h-8zM320 480h4v4h-4zM652 480h4v4h-4zM768 480h4v4h-4zM248 484h16v4h-16zM352 484h4v4h-4zM784 484h4v4h-4zM244 488h24v4h-24zM324 488h4v4h-4zM352 488h4v4h-4zM764 488h4v4h-4zM248 492h8v4h-8zM260 492h8v4h-8zM324 492h4v4h-4zM352 492h4v4h-4zM644 492h4v4h-4zM760 492h4v4h-4zM780 492h4v4h-4zM248 496h20v4h-20zM324 496h4v4h-4zM640 496h4v4h-4zM748 496h12v4h-12zM252 500h16v4h-16zM324 500h8v4h-8zM636 500h4v4h-4zM744 500h8v4h-8zM320 504h12v4h-12zM340 504h4v4h-4zM740 504h4v4h-4zM316 508h12v4h-12zM336 508h8v4h-8zM736 508h4v4h-4zM772 508h4v4h-4zM192 512h4v4h-4zM316 512h12v4h-12zM336 512h8v4h-8zM732 512h4v4h-4zM320 516h8v4h-8zM332 516h12v4h-12zM728 516h4v4h-4zM320 520h20v4h-20zM400 520h4v4h-4zM616 520h4v4h-4zM188 524h4v4h-4zM196 524h4v4h-4zM328 524h8v4h-8zM548 524h4v4h-4zM612 524h4v4h-4zM756 524h4v4h-4zM608 528h4v4h-4zM720 528h4v4h-4zM752 528h4v4h-4zM716 532h4v4h-4zM392 536h4v4h-4zM552 536h4v4h-4zM596 536h4v4h-4zM748 536h4v4h-4zM556 540h4v4h-4zM592 540h4v4h-4zM496 544h4v4h-4zM560 544h8v4h-8zM580 544h8v4h-8zM708 544h4v4h-4zM744 544h4v4h-4zM396 548h4v4h-4zM496 548h4v4h-4zM568 548h12v4h-12zM740 548h4v4h-4zM400 552h4v4h-4zM496 552h4v4h-4zM408 556h4v4h-4zM496 556h4v4h-4zM700 556h4v4h-4zM420 560h4v4h-4zM732 560h4v4h-4zM432 564h4v4h-4zM492 564h4v4h-4zM696 564h4v4h-4zM728 564h4v4h-4zM448 568h12v4h-12zM484 568h4v4h-4zM692 568h4v4h-4zM724 568h4v4h-4zM720 572h4v4h-4zM688 576h4v4h-4zM684 580h4v4h-4zM708 580h4v4h-4zM680 584h4v4h-4zM700 584h4v4h-4zM676 588h4v4h-4zM696 588h4v4h-4zM668 592h4v4h-4zM688 592h4v4h-4zM664 596h4v4h-4zM684 596h4v4h-4zM656 600h4v4h-4zM680 600h4v4h-4zM652 604h4v4h-4zM664 612h4v4h-4zM640 616h4v4h-4zM636 620h8v4h-8zM648 620h8v4h-8zM640 624h4v4h-4zM344 644h4v4h-4zM412 664h4v4h-4zM368 672h4v4h-4zM380 676h4v4h-4zM460 676h4v4h-4zM460 680h4v4h-4zM520 680h4v4h-4zM460 684h4v4h-4zM436 688h4v4h-4zM456 688h4v4h-4z"/>
<path fill="#239361" d="M544 32h4v4h-4zM396 36h4v4h-4zM416 36h4v4h-4zM516 36h4v4h-4zM416 40h4v4h-4zM576 40h4v4h-4zM368 44h4v4h-4zM412 48h4v4h-4zM600 48h4v4h-4zM308 72h4v4h-4zM608 76h4v4h-4zM296 80h4v4h-4zM664 80h4v4h-4zM288 88h4v4h-4zM288 92h4v4h-4zM316 92h4v4h-4zM640 92h4v4h-4zM292 96h4v4h-4zM352 96h8v4h-8zM656 100h4v4h-4zM680 112h4v4h-4zM732 140h4v4h-4zM644 148h8v4h-8zM656 148h8v4h-8zM640 152h4v4h-4zM232 160h4v4h-4zM400 160h24v4h-24zM492 160h16v4h-16zM632 160h4v4h-4zM224 164h4v4h-4zM388 164h4v4h-4zM432 164h4v4h-4zM676 164h4v4h-4zM220 168h4v4h-4zM240 168h4v4h-4zM324 168h12v4h-12zM376 168h8v4h-8zM440 168h12v4h-12zM536 168h4v4h-4zM340 172h4v4h-4zM368 172h8v4h-8zM444 172h4v4h-4zM540 172h4v4h-4zM756 172h4v4h-4zM312 176h4v4h-4zM344 176h4v4h-4zM360 176h4v4h-4zM440 176h4v4h-4zM548 176h4v4h-4zM212 180h4v4h-4zM308 180h4v4h-4zM436 180h4v4h-4zM300 184h4v4h-4zM432 184h4v4h-4zM208 188h4v4h-4zM228 188h4v4h-4zM296 188h4v4h-4zM428 188h4v4h-4zM632 188h4v4h-4zM680 188h4v4h-4zM292 192h4v4h-4zM204 196h4v4h-4zM588 196h4v4h-4zM636 196h4v4h-4zM220 200h4v4h-4zM640 200h4v4h-4zM684 200h4v4h-4zM200 204h4v4h-4zM648 204h4v4h-4zM216 208h4v4h-4zM276 208h4v4h-4zM604 208h4v4h-4zM652 208h4v4h-4zM272 212h4v4h-4zM212 216h4v4h-4zM692 216h4v4h-4zM268 220h4v4h-4zM656 220h4v4h-4zM200 224h8v4h-8zM656 224h4v4h-4zM784 224h4v4h-4zM264 228h4v4h-4zM656 228h4v4h-4zM776 228h4v4h-4zM628 232h4v4h-4zM692 240h4v4h-4zM260 244h4v4h-4zM636 244h4v4h-4zM260 248h4v4h-4zM640 248h4v4h-4zM656 248h4v4h-4zM688 248h4v4h-4zM684 252h4v4h-4zM676 256h8v4h-8zM264 260h4v4h-4zM668 260h4v4h-4zM268 264h4v4h-4zM668 264h4v4h-4zM272 268h4v4h-4zM276 272h4v4h-4zM672 272h4v4h-4zM280 276h4v4h-4zM672 276h4v4h-4zM280 280h4v4h-4zM280 284h4v4h-4zM676 284h4v4h-4zM280 288h4v4h-4zM676 288h4v4h-4zM280 292h4v4h-4zM804 296h4v4h-4zM176 300h4v4h-4zM796 300h4v4h-4zM172 304h4v4h-4zM808 304h4v4h-4zM168 316h4v4h-4zM672 316h4v4h-4zM748 316h16v4h-16zM796 316h4v4h-4zM744 320h4v4h-4zM768 320h4v4h-4zM796 320h4v4h-4zM668 324h4v4h-4zM740 324h4v4h-4zM812 324h4v4h-4zM180 328h4v4h-4zM668 328h4v4h-4zM736 328h4v4h-4zM772 328h4v4h-4zM180 332h4v4h-4zM212 332h4v4h-4zM220 332h4v4h-4zM736 332h4v4h-4zM204 336h4v4h-4zM224 336h4v4h-4zM280 336h4v4h-4zM776 336h4v4h-4zM164 340h4v4h-4zM732 340h4v4h-4zM732 344h4v4h-4zM780 344h4v4h-4zM184 348h4v4h-4zM780 348h4v4h-4zM224 352h4v4h-4zM784 352h4v4h-4zM224 356h4v4h-4zM280 356h4v4h-4zM784 356h4v4h-4zM220 368h4v4h-4zM728 368h4v4h-4zM788 368h4v4h-4zM728 372h4v4h-4zM788 372h4v4h-4zM728 376h4v4h-4zM788 376h4v4h-4zM280 380h4v4h-4zM728 380h4v4h-4zM788 380h4v4h-4zM280 384h4v4h-4zM728 384h4v4h-4zM788 384h4v4h-4zM280 388h4v4h-4zM788 388h4v4h-4zM164 396h4v4h-4zM796 396h4v4h-4zM812 396h4v4h-4zM812 400h4v4h-4zM200 404h4v4h-4zM180 408h8v4h-8zM284 408h4v4h-4zM784 408h4v4h-4zM168 412h4v4h-4zM180 412h20v4h-20zM180 416h4v4h-4zM160 420h4v4h-4zM172 420h12v4h-12zM288 420h4v4h-4zM780 420h4v4h-4zM160 424h4v4h-4zM176 424h4v4h-4zM792 424h4v4h-4zM808 424h4v4h-4zM292 428h4v4h-4zM776 428h4v4h-4zM296 436h4v4h-4zM728 436h4v4h-4zM772 436h4v4h-4zM788 436h4v4h-4zM300 444h4v4h-4zM768 444h4v4h-4zM784 444h4v4h-4zM156 448h4v4h-4zM300 448h4v4h-4zM668 448h4v4h-4zM732 448h4v4h-4zM800 448h4v4h-4zM156 452h4v4h-4zM732 452h4v4h-4zM764 452h4v4h-4zM780 452h4v4h-4zM156 456h4v4h-4zM304 456h4v4h-4zM760 456h4v4h-4zM796 456h4v4h-4zM164 460h4v4h-4zM664 460h4v4h-4zM736 460h4v4h-4zM756 460h8v4h-8zM776 460h4v4h-4zM168 464h4v4h-4zM308 464h4v4h-4zM740 464h4v4h-4zM752 464h8v4h-8zM792 464h4v4h-4zM160 468h4v4h-4zM744 468h12v4h-12zM172 472h4v4h-4zM660 472h4v4h-4zM172 476h4v4h-4zM248 476h16v4h-16zM316 476h4v4h-4zM656 476h4v4h-4zM768 476h4v4h-4zM168 480h4v4h-4zM244 480h8v4h-8zM260 480h8v4h-8zM240 484h8v4h-8zM264 484h8v4h-8zM320 484h4v4h-4zM652 484h4v4h-4zM764 484h4v4h-4zM240 488h4v4h-4zM268 488h4v4h-4zM320 488h4v4h-4zM648 488h4v4h-4zM752 488h12v4h-12zM240 492h8v4h-8zM268 492h4v4h-4zM320 492h4v4h-4zM748 492h12v4h-12zM244 496h4v4h-4zM268 496h4v4h-4zM320 496h4v4h-4zM644 496h4v4h-4zM744 496h4v4h-4zM780 496h4v4h-4zM244 500h8v4h-8zM268 500h4v4h-4zM316 500h8v4h-8zM348 500h4v4h-4zM640 500h4v4h-4zM740 500h4v4h-4zM248 504h24v4h-24zM312 504h8v4h-8zM344 504h4v4h-4zM636 504h4v4h-4zM736 504h4v4h-4zM776 504h4v4h-4zM184 508h8v4h-8zM252 508h16v4h-16zM312 508h4v4h-4zM344 508h4v4h-4zM632 508h4v4h-4zM732 508h4v4h-4zM312 512h4v4h-4zM344 512h4v4h-4zM628 512h4v4h-4zM312 516h8v4h-8zM344 516h4v4h-4zM624 516h4v4h-4zM768 516h4v4h-4zM184 520h4v4h-4zM196 520h4v4h-4zM316 520h4v4h-4zM340 520h8v4h-8zM620 520h4v4h-4zM724 520h4v4h-4zM764 520h4v4h-4zM320 524h8v4h-8zM336 524h8v4h-8zM396 524h4v4h-4zM616 524h4v4h-4zM720 524h4v4h-4zM760 524h4v4h-4zM324 528h16v4h-16zM548 528h4v4h-4zM612 528h4v4h-4zM756 528h4v4h-4zM392 532h4v4h-4zM548 532h4v4h-4zM604 532h4v4h-4zM752 532h4v4h-4zM600 536h4v4h-4zM712 536h4v4h-4zM392 540h4v4h-4zM496 540h4v4h-4zM552 540h4v4h-4zM596 540h4v4h-4zM748 540h4v4h-4zM392 544h4v4h-4zM556 544h4v4h-4zM588 544h8v4h-8zM560 548h8v4h-8zM580 548h8v4h-8zM704 548h4v4h-4zM568 552h16v4h-16zM740 552h4v4h-4zM404 556h4v4h-4zM568 556h16v4h-16zM736 556h4v4h-4zM416 560h4v4h-4zM496 560h4v4h-4zM568 560h16v4h-16zM696 560h4v4h-4zM428 564h4v4h-4zM564 564h20v4h-20zM440 568h8v4h-8zM488 568h4v4h-4zM560 568h24v4h-24zM464 572h20v4h-20zM556 572h24v4h-24zM688 572h4v4h-4zM548 576h28v4h-28zM684 576h4v4h-4zM716 576h4v4h-4zM544 580h28v4h-28zM680 580h4v4h-4zM712 580h4v4h-4zM540 584h28v4h-28zM676 584h4v4h-4zM704 584h4v4h-4zM540 588h12v4h-12zM672 588h4v4h-4zM700 588h4v4h-4zM692 592h4v4h-4zM660 596h4v4h-4zM688 596h4v4h-4zM684 600h4v4h-4zM648 604h4v4h-4zM676 604h4v4h-4zM644 608h4v4h-4zM672 608h4v4h-4zM640 612h4v4h-4zM668 612h4v4h-4zM636 616h4v4h-4zM660 616h4v4h-4zM632 620h4v4h-4zM656 620h4v4h-4zM632 624h8v4h-8zM644 624h8v4h-8zM340 644h4v4h-4zM348 644h4v4h-4zM396 660h4v4h-4zM436 668h4v4h-4zM456 672h4v4h-4zM512 676h12v4h-12zM500 680h4v4h-4zM504 684h12v4h-12zM432 688h4v4h-4z"/>
<path fill="#26ab4c" d="M516 32h4v4h-4zM380 40h4v4h-4zM516 40h4v4h-4zM416 44h4v4h-4zM564 60h4v4h-4zM576 64h4v4h-4zM588 68h4v4h-4zM356 72h4v4h-4zM616 80h4v4h-4zM624 84h4v4h-4zM324 88h4v4h-4zM360 88h8v4h-8zM632 88h4v4h-4zM676 88h4v4h-4zM348 92h20v4h-20zM344 96h8v4h-8zM360 96h8v4h-8zM292 100h4v4h-4zM344 100h16v4h-16zM344 104h4v4h-4zM696 104h4v4h-4zM736 144h4v4h-4zM640 148h4v4h-4zM664 148h4v4h-4zM636 152h4v4h-4zM668 152h4v4h-4zM408 156h8v4h-8zM632 156h4v4h-4zM672 156h4v4h-4zM228 160h4v4h-4zM240 160h4v4h-4zM392 160h8v4h-8zM424 160h4v4h-4zM508 160h8v4h-8zM676 160h4v4h-4zM328 164h8v4h-8zM380 164h8v4h-8zM436 164h16v4h-16zM484 164h4v4h-4zM528 164h4v4h-4zM320 168h4v4h-4zM336 168h8v4h-8zM372 168h4v4h-4zM452 168h8v4h-8zM480 168h4v4h-4zM628 168h4v4h-4zM216 172h4v4h-4zM240 172h4v4h-4zM316 172h4v4h-4zM344 172h4v4h-4zM364 172h4v4h-4zM448 172h8v4h-8zM480 172h4v4h-4zM628 172h4v4h-4zM680 172h4v4h-4zM308 176h4v4h-4zM348 176h12v4h-12zM480 176h4v4h-4zM628 176h4v4h-4zM680 176h4v4h-4zM304 180h4v4h-4zM560 180h4v4h-4zM628 180h4v4h-4zM680 180h4v4h-4zM232 184h4v4h-4zM296 184h4v4h-4zM484 184h4v4h-4zM568 184h4v4h-4zM628 184h4v4h-4zM680 184h4v4h-4zM292 188h4v4h-4zM432 188h4v4h-4zM576 188h4v4h-4zM288 192h4v4h-4zM584 192h4v4h-4zM632 192h4v4h-4zM224 196h4v4h-4zM284 196h4v4h-4zM684 196h4v4h-4zM280 200h4v4h-4zM596 200h4v4h-4zM276 204h4v4h-4zM600 204h4v4h-4zM644 204h4v4h-4zM688 204h4v4h-4zM272 208h4v4h-4zM652 212h4v4h-4zM692 212h4v4h-4zM196 216h4v4h-4zM268 216h4v4h-4zM196 220h4v4h-4zM264 224h4v4h-4zM656 232h4v4h-4zM260 236h4v4h-4zM632 236h4v4h-4zM656 236h4v4h-4zM784 236h4v4h-4zM260 240h4v4h-4zM656 244h4v4h-4zM692 244h4v4h-4zM644 248h12v4h-12zM260 252h4v4h-4zM260 256h4v4h-4zM672 260h8v4h-8zM264 264h4v4h-4zM672 264h4v4h-4zM268 268h4v4h-4zM672 268h4v4h-4zM272 272h4v4h-4zM276 276h4v4h-4zM676 280h4v4h-4zM680 292h4v4h-4zM800 292h4v4h-4zM176 296h4v4h-4zM680 296h4v4h-4zM796 296h4v4h-4zM172 300h4v4h-4zM680 300h4v4h-4zM680 304h4v4h-4zM276 308h4v4h-4zM180 312h4v4h-4zM276 312h4v4h-4zM676 312h4v4h-4zM748 312h16v4h-16zM180 316h4v4h-4zM276 316h4v4h-4zM744 316h4v4h-4zM764 316h8v4h-8zM180 320h4v4h-4zM276 320h4v4h-4zM740 320h4v4h-4zM812 320h4v4h-4zM180 324h4v4h-4zM276 324h4v4h-4zM736 324h4v4h-4zM772 324h4v4h-4zM796 324h4v4h-4zM216 328h8v4h-8zM776 328h4v4h-4zM796 328h4v4h-4zM208 332h4v4h-4zM224 332h4v4h-4zM732 332h4v4h-4zM776 332h4v4h-4zM164 336h4v4h-4zM732 336h4v4h-4zM780 336h4v4h-4zM280 340h4v4h-4zM780 340h4v4h-4zM184 344h4v4h-4zM192 344h4v4h-4zM280 344h4v4h-4zM784 344h4v4h-4zM188 348h4v4h-4zM280 348h4v4h-4zM728 348h4v4h-4zM784 348h4v4h-4zM280 352h4v4h-4zM728 352h4v4h-4zM728 356h4v4h-4zM224 360h4v4h-4zM728 360h4v4h-4zM788 360h4v4h-4zM728 364h4v4h-4zM788 364h4v4h-4zM216 376h4v4h-4zM212 384h4v4h-4zM796 384h4v4h-4zM796 388h4v4h-4zM208 392h4v4h-4zM280 392h4v4h-4zM788 392h4v4h-4zM796 392h4v4h-4zM724 396h4v4h-4zM788 396h4v4h-4zM164 400h4v4h-4zM204 400h4v4h-4zM724 400h4v4h-4zM724 404h4v4h-4zM812 404h4v4h-4zM200 408h4v4h-4zM724 408h4v4h-4zM284 412h4v4h-4zM672 412h4v4h-4zM724 412h4v4h-4zM784 412h4v4h-4zM168 416h4v4h-4zM184 416h16v4h-16zM672 416h4v4h-4zM724 416h4v4h-4zM184 420h4v4h-4zM672 420h4v4h-4zM724 420h4v4h-4zM792 420h4v4h-4zM172 424h4v4h-4zM180 424h4v4h-4zM288 424h4v4h-4zM672 424h4v4h-4zM724 424h4v4h-4zM780 424h4v4h-4zM176 428h8v4h-8zM672 428h4v4h-4zM724 428h4v4h-4zM292 432h4v4h-4zM672 432h4v4h-4zM776 432h4v4h-4zM788 432h4v4h-4zM776 436h4v4h-4zM296 440h4v4h-4zM728 440h4v4h-4zM772 440h4v4h-4zM784 440h4v4h-4zM804 440h4v4h-4zM728 444h4v4h-4zM772 444h4v4h-4zM160 448h4v4h-4zM768 448h4v4h-4zM780 448h4v4h-4zM300 452h4v4h-4zM668 452h4v4h-4zM768 452h4v4h-4zM668 456h4v4h-4zM732 456h4v4h-4zM764 456h4v4h-4zM776 456h4v4h-4zM156 460h4v4h-4zM304 460h4v4h-4zM764 460h4v4h-4zM664 464h4v4h-4zM736 464h4v4h-4zM760 464h4v4h-4zM772 464h4v4h-4zM664 468h4v4h-4zM736 468h8v4h-8zM756 468h8v4h-8zM772 468h4v4h-4zM160 472h4v4h-4zM244 472h20v4h-20zM312 472h4v4h-4zM740 472h24v4h-24zM768 472h4v4h-4zM240 476h8v4h-8zM264 476h4v4h-4zM660 476h4v4h-4zM744 476h24v4h-24zM788 476h4v4h-4zM172 480h4v4h-4zM240 480h4v4h-4zM268 480h4v4h-4zM316 480h4v4h-4zM656 480h4v4h-4zM748 480h20v4h-20zM236 484h4v4h-4zM272 484h4v4h-4zM316 484h4v4h-4zM748 484h16v4h-16zM236 488h4v4h-4zM272 488h4v4h-4zM316 488h4v4h-4zM652 488h4v4h-4zM744 488h8v4h-8zM784 488h4v4h-4zM236 492h4v4h-4zM272 492h8v4h-8zM316 492h4v4h-4zM648 492h4v4h-4zM744 492h4v4h-4zM236 496h8v4h-8zM272 496h8v4h-8zM312 496h8v4h-8zM352 496h4v4h-4zM740 496h4v4h-4zM240 500h4v4h-4zM272 500h8v4h-8zM308 500h8v4h-8zM736 500h4v4h-4zM244 504h4v4h-4zM272 504h8v4h-8zM308 504h4v4h-4zM348 504h4v4h-4zM640 504h4v4h-4zM248 508h4v4h-4zM268 508h8v4h-8zM304 508h8v4h-8zM348 508h4v4h-4zM636 508h4v4h-4zM252 512h20v4h-20zM308 512h4v4h-4zM348 512h4v4h-4zM632 512h4v4h-4zM728 512h4v4h-4zM772 512h4v4h-4zM308 516h4v4h-4zM348 516h4v4h-4zM628 516h4v4h-4zM724 516h4v4h-4zM308 520h8v4h-8zM348 520h4v4h-4zM396 520h4v4h-4zM624 520h4v4h-4zM312 524h8v4h-8zM344 524h8v4h-8zM544 524h4v4h-4zM620 524h4v4h-4zM316 528h8v4h-8zM340 528h8v4h-8zM392 528h4v4h-4zM716 528h4v4h-4zM324 532h20v4h-20zM608 532h4v4h-4zM712 532h4v4h-4zM756 532h4v4h-4zM496 536h4v4h-4zM548 536h4v4h-4zM604 536h4v4h-4zM752 536h4v4h-4zM600 540h4v4h-4zM708 540h4v4h-4zM552 544h4v4h-4zM596 544h4v4h-4zM704 544h4v4h-4zM748 544h4v4h-4zM392 548h4v4h-4zM556 548h4v4h-4zM588 548h8v4h-8zM744 548h4v4h-4zM396 552h4v4h-4zM560 552h8v4h-8zM584 552h8v4h-8zM700 552h4v4h-4zM400 556h4v4h-4zM560 556h8v4h-8zM584 556h8v4h-8zM696 556h4v4h-4zM740 556h4v4h-4zM408 560h8v4h-8zM560 560h8v4h-8zM584 560h8v4h-8zM736 560h4v4h-4zM420 564h8v4h-8zM496 564h4v4h-4zM556 564h8v4h-8zM584 564h8v4h-8zM692 564h4v4h-4zM732 564h4v4h-4zM436 568h4v4h-4zM492 568h4v4h-4zM552 568h8v4h-8zM584 568h4v4h-4zM688 568h4v4h-4zM728 568h4v4h-4zM452 572h12v4h-12zM484 572h8v4h-8zM544 572h12v4h-12zM580 572h8v4h-8zM684 572h4v4h-4zM724 572h4v4h-4zM536 576h12v4h-12zM576 576h8v4h-8zM528 580h16v4h-16zM572 580h8v4h-8zM524 584h16v4h-16zM568 584h8v4h-8zM708 584h4v4h-4zM524 588h16v4h-16zM552 588h16v4h-16zM668 588h4v4h-4zM704 588h4v4h-4zM524 592h36v4h-36zM664 592h4v4h-4zM696 592h4v4h-4zM656 596h4v4h-4zM692 596h4v4h-4zM652 600h4v4h-4zM680 604h4v4h-4zM640 608h4v4h-4zM676 608h4v4h-4zM636 612h4v4h-4zM632 616h4v4h-4zM664 616h4v4h-4zM628 620h4v4h-4zM628 624h4v4h-4zM628 628h16v4h-16zM360 648h4v4h-4zM348 664h4v4h-4zM356 668h4v4h-4zM508 676h4v4h-4zM524 676h4v4h-4zM392 680h4v4h-4zM464 680h4v4h-4zM496 680h4v4h-4zM524 680h4v4h-4zM408 684h4v4h-4zM464 684h4v4h-4zM500 684h4v4h-4zM516 684h4v4h-4zM460 688h4v4h-4z"/>
<path fill="#27c23a" d="M548 32h4v4h-4zM420 36h4v4h-4zM564 36h4v4h-4zM516 44h4v4h-4zM356 48h4v4h-4zM520 48h4v4h-4zM408 52h4v4h-4zM532 52h4v4h-4zM548 56h4v4h-4zM620 56h4v4h-4zM628 60h4v4h-4zM376 64h4v4h-4zM636 64h4v4h-4zM644 68h4v4h-4zM652 72h4v4h-4zM348 76h4v4h-4zM340 80h4v4h-4zM332 84h4v4h-4zM352 88h8v4h-8zM368 88h8v4h-8zM284 92h4v4h-4zM344 92h4v4h-4zM368 92h8v4h-8zM288 96h4v4h-4zM340 96h4v4h-4zM368 96h4v4h-4zM336 100h8v4h-8zM360 100h4v4h-4zM692 100h4v4h-4zM336 104h8v4h-8zM348 104h8v4h-8zM340 108h8v4h-8zM648 144h16v4h-16zM672 152h4v4h-4zM236 156h4v4h-4zM396 156h12v4h-12zM416 156h8v4h-8zM224 160h4v4h-4zM328 160h8v4h-8zM384 160h8v4h-8zM428 160h8v4h-8zM488 160h4v4h-4zM516 160h4v4h-4zM628 160h4v4h-4zM220 164h4v4h-4zM244 164h4v4h-4zM320 164h8v4h-8zM336 164h8v4h-8zM376 164h4v4h-4zM452 164h16v4h-16zM532 164h4v4h-4zM628 164h4v4h-4zM316 168h4v4h-4zM344 168h4v4h-4zM364 168h8v4h-8zM460 168h20v4h-20zM680 168h4v4h-4zM736 168h4v4h-4zM312 172h4v4h-4zM348 172h16v4h-16zM456 172h8v4h-8zM472 172h8v4h-8zM740 172h4v4h-4zM212 176h4v4h-4zM304 176h4v4h-4zM444 176h8v4h-8zM476 176h4v4h-4zM552 176h4v4h-4zM236 180h4v4h-4zM300 180h4v4h-4zM440 180h4v4h-4zM480 180h4v4h-4zM748 180h4v4h-4zM208 184h4v4h-4zM292 184h4v4h-4zM436 184h4v4h-4zM764 184h4v4h-4zM288 188h4v4h-4zM628 188h4v4h-4zM204 192h4v4h-4zM228 192h4v4h-4zM284 192h4v4h-4zM684 192h4v4h-4zM280 196h4v4h-4zM592 196h4v4h-4zM632 196h4v4h-4zM200 200h4v4h-4zM276 200h4v4h-4zM636 200h4v4h-4zM688 200h4v4h-4zM220 204h4v4h-4zM640 204h4v4h-4zM608 208h4v4h-4zM648 208h4v4h-4zM692 208h4v4h-4zM196 212h4v4h-4zM216 212h4v4h-4zM268 212h4v4h-4zM612 212h4v4h-4zM616 216h4v4h-4zM652 216h4v4h-4zM212 220h4v4h-4zM264 220h4v4h-4zM620 220h4v4h-4zM196 224h4v4h-4zM208 224h4v4h-4zM624 224h4v4h-4zM696 224h4v4h-4zM196 228h8v4h-8zM628 228h4v4h-4zM696 228h4v4h-4zM260 232h4v4h-4zM696 232h4v4h-4zM696 236h4v4h-4zM780 236h4v4h-4zM636 240h4v4h-4zM656 240h4v4h-4zM640 244h4v4h-4zM692 248h4v4h-4zM688 252h4v4h-4zM684 256h4v4h-4zM260 260h4v4h-4zM680 260h4v4h-4zM268 272h4v4h-4zM676 272h4v4h-4zM272 276h4v4h-4zM676 276h4v4h-4zM276 280h4v4h-4zM276 284h4v4h-4zM680 284h4v4h-4zM276 288h4v4h-4zM680 288h4v4h-4zM176 292h4v4h-4zM276 292h4v4h-4zM796 292h4v4h-4zM804 292h4v4h-4zM276 296h4v4h-4zM180 300h4v4h-4zM276 300h4v4h-4zM808 300h4v4h-4zM180 304h4v4h-4zM276 304h4v4h-4zM180 308h4v4h-4zM680 308h4v4h-4zM748 308h16v4h-16zM168 312h4v4h-4zM744 312h4v4h-4zM764 312h8v4h-8zM740 316h4v4h-4zM772 316h4v4h-4zM812 316h4v4h-4zM736 320h4v4h-4zM772 320h4v4h-4zM776 324h4v4h-4zM212 328h4v4h-4zM224 328h4v4h-4zM276 328h4v4h-4zM732 328h4v4h-4zM780 328h4v4h-4zM164 332h4v4h-4zM780 332h4v4h-4zM796 332h4v4h-4zM200 336h4v4h-4zM228 336h4v4h-4zM728 336h4v4h-4zM796 336h4v4h-4zM184 340h4v4h-4zM196 340h4v4h-4zM228 340h4v4h-4zM728 340h4v4h-4zM784 340h4v4h-4zM796 340h4v4h-4zM188 344h4v4h-4zM228 344h4v4h-4zM728 344h4v4h-4zM796 344h4v4h-4zM228 348h4v4h-4zM672 348h4v4h-4zM788 348h4v4h-4zM796 348h4v4h-4zM228 352h4v4h-4zM672 352h4v4h-4zM788 352h4v4h-4zM796 352h4v4h-4zM672 356h4v4h-4zM788 356h4v4h-4zM796 356h4v4h-4zM672 360h4v4h-4zM796 360h4v4h-4zM224 364h4v4h-4zM672 364h4v4h-4zM796 364h4v4h-4zM672 368h4v4h-4zM796 368h4v4h-4zM220 372h4v4h-4zM672 372h4v4h-4zM724 372h4v4h-4zM796 372h4v4h-4zM672 376h4v4h-4zM724 376h4v4h-4zM796 376h4v4h-4zM216 380h4v4h-4zM672 380h4v4h-4zM724 380h4v4h-4zM796 380h4v4h-4zM724 384h4v4h-4zM724 388h4v4h-4zM724 392h4v4h-4zM280 396h4v4h-4zM280 400h4v4h-4zM788 400h4v4h-4zM164 404h4v4h-4zM204 404h4v4h-4zM672 404h4v4h-4zM788 404h4v4h-4zM672 408h4v4h-4zM788 408h8v4h-8zM812 408h4v4h-4zM200 412h4v4h-4zM792 412h4v4h-4zM284 416h4v4h-4zM784 416h4v4h-4zM792 416h4v4h-4zM164 420h8v4h-8zM188 420h12v4h-12zM784 420h4v4h-4zM164 424h4v4h-4zM184 424h12v4h-12zM160 428h4v4h-4zM184 428h4v4h-4zM288 428h4v4h-4zM780 428h4v4h-4zM788 428h4v4h-4zM808 428h4v4h-4zM180 432h8v4h-8zM724 432h4v4h-4zM780 432h4v4h-4zM292 436h4v4h-4zM672 436h4v4h-4zM724 436h4v4h-4zM780 436h8v4h-8zM672 440h4v4h-4zM776 440h8v4h-8zM156 444h4v4h-4zM296 444h4v4h-4zM672 444h4v4h-4zM776 444h8v4h-8zM728 448h4v4h-4zM772 448h8v4h-8zM772 452h8v4h-8zM800 452h4v4h-4zM164 456h4v4h-4zM300 456h4v4h-4zM768 456h8v4h-8zM668 460h4v4h-4zM732 460h4v4h-4zM768 460h8v4h-8zM796 460h4v4h-4zM252 464h8v4h-8zM304 464h4v4h-4zM732 464h4v4h-4zM764 464h8v4h-8zM244 468h24v4h-24zM308 468h4v4h-4zM764 468h8v4h-8zM792 468h4v4h-4zM240 472h4v4h-4zM264 472h8v4h-8zM664 472h4v4h-4zM736 472h4v4h-4zM764 472h4v4h-4zM236 476h4v4h-4zM268 476h8v4h-8zM312 476h4v4h-4zM740 476h4v4h-4zM232 480h8v4h-8zM272 480h4v4h-4zM312 480h4v4h-4zM660 480h4v4h-4zM740 480h8v4h-8zM788 480h4v4h-4zM232 484h4v4h-4zM276 484h4v4h-4zM312 484h4v4h-4zM656 484h4v4h-4zM740 484h8v4h-8zM232 488h4v4h-4zM276 488h8v4h-8zM312 488h4v4h-4zM356 488h4v4h-4zM740 488h4v4h-4zM232 492h4v4h-4zM280 492h4v4h-4zM304 492h12v4h-12zM356 492h4v4h-4zM652 492h4v4h-4zM740 492h4v4h-4zM784 492h4v4h-4zM232 496h4v4h-4zM280 496h4v4h-4zM300 496h12v4h-12zM648 496h4v4h-4zM736 496h4v4h-4zM236 500h4v4h-4zM280 500h8v4h-8zM300 500h8v4h-8zM352 500h4v4h-4zM644 500h4v4h-4zM732 500h4v4h-4zM780 500h4v4h-4zM236 504h8v4h-8zM280 504h8v4h-8zM296 504h12v4h-12zM352 504h4v4h-4zM732 504h4v4h-4zM180 508h4v4h-4zM240 508h8v4h-8zM276 508h8v4h-8zM296 508h8v4h-8zM352 508h4v4h-4zM728 508h4v4h-4zM776 508h4v4h-4zM180 512h4v4h-4zM244 512h8v4h-8zM272 512h8v4h-8zM300 512h8v4h-8zM352 512h4v4h-4zM636 512h4v4h-4zM724 512h4v4h-4zM248 516h28v4h-28zM300 516h8v4h-8zM352 516h4v4h-4zM632 516h4v4h-4zM260 520h8v4h-8zM304 520h4v4h-4zM352 520h4v4h-4zM628 520h4v4h-4zM720 520h4v4h-4zM768 520h4v4h-4zM308 524h4v4h-4zM352 524h4v4h-4zM392 524h4v4h-4zM624 524h4v4h-4zM716 524h4v4h-4zM764 524h4v4h-4zM192 528h8v4h-8zM312 528h4v4h-4zM348 528h8v4h-8zM544 528h4v4h-4zM616 528h4v4h-4zM760 528h4v4h-4zM316 532h8v4h-8zM344 532h8v4h-8zM544 532h4v4h-4zM612 532h4v4h-4zM320 536h28v4h-28zM388 536h4v4h-4zM544 536h4v4h-4zM608 536h4v4h-4zM708 536h4v4h-4zM756 536h4v4h-4zM388 540h4v4h-4zM548 540h4v4h-4zM604 540h4v4h-4zM752 540h4v4h-4zM388 544h4v4h-4zM500 544h4v4h-4zM548 544h4v4h-4zM600 544h4v4h-4zM500 548h4v4h-4zM552 548h4v4h-4zM596 548h4v4h-4zM700 548h4v4h-4zM748 548h4v4h-4zM392 552h4v4h-4zM500 552h4v4h-4zM552 552h8v4h-8zM592 552h8v4h-8zM744 552h4v4h-4zM500 556h4v4h-4zM556 556h4v4h-4zM592 556h8v4h-8zM404 560h4v4h-4zM500 560h4v4h-4zM552 560h8v4h-8zM592 560h4v4h-4zM692 560h4v4h-4zM416 564h4v4h-4zM548 564h8v4h-8zM592 564h4v4h-4zM428 568h8v4h-8zM496 568h4v4h-4zM540 568h12v4h-12zM588 568h8v4h-8zM444 572h8v4h-8zM492 572h4v4h-4zM532 572h12v4h-12zM588 572h4v4h-4zM464 576h28v4h-28zM524 576h12v4h-12zM584 576h8v4h-8zM680 576h4v4h-4zM720 576h4v4h-4zM520 580h8v4h-8zM580 580h8v4h-8zM676 580h4v4h-4zM716 580h4v4h-4zM512 584h12v4h-12zM576 584h8v4h-8zM672 584h4v4h-4zM512 588h12v4h-12zM568 588h8v4h-8zM512 592h12v4h-12zM560 592h8v4h-8zM660 592h4v4h-4zM700 592h4v4h-4zM512 596h48v4h-48zM524 600h16v4h-16zM648 600h4v4h-4zM688 600h4v4h-4zM644 604h4v4h-4zM684 604h4v4h-4zM672 612h4v4h-4zM660 620h4v4h-4zM624 624h4v4h-4zM652 624h4v4h-4zM624 628h4v4h-4zM644 628h4v4h-4zM624 632h16v4h-16zM336 644h4v4h-4zM336 648h4v4h-4zM336 652h4v4h-4zM336 656h4v4h-4zM340 660h4v4h-4zM416 664h4v4h-4zM440 668h4v4h-4zM460 672h4v4h-4zM464 676h4v4h-4zM504 676h4v4h-4zM528 676h4v4h-4zM528 680h4v4h-4zM496 684h4v4h-4zM520 684h4v4h-4zM428 688h4v4h-4z"/>
<path fill="#24d231" d="M512 32h4v4h-4zM392 36h4v4h-4zM512 36h4v4h-4zM420 40h4v4h-4zM580 40h4v4h-4zM592 44h4v4h-4zM416 48h4v4h-4zM612 52h4v4h-4zM336 56h4v4h-4zM328 60h4v4h-4zM388 60h4v4h-4zM320 64h4v4h-4zM596 72h4v4h-4zM300 76h4v4h-4zM356 84h24v4h-24zM348 88h4v4h-4zM376 88h4v4h-4zM340 92h4v4h-4zM376 92h4v4h-4zM336 96h4v4h-4zM372 96h4v4h-4zM304 100h4v4h-4zM332 100h4v4h-4zM364 100h4v4h-4zM332 104h4v4h-4zM356 104h8v4h-8zM664 104h4v4h-4zM332 108h8v4h-8zM348 108h8v4h-8zM644 144h4v4h-4zM664 144h4v4h-4zM636 148h4v4h-4zM668 148h4v4h-4zM740 148h4v4h-4zM404 152h16v4h-16zM632 152h4v4h-4zM228 156h8v4h-8zM240 156h4v4h-4zM328 156h12v4h-12zM392 156h4v4h-4zM424 156h8v4h-8zM628 156h4v4h-4zM676 156h4v4h-4zM244 160h4v4h-4zM320 160h8v4h-8zM336 160h8v4h-8zM380 160h4v4h-4zM436 160h24v4h-24zM520 160h4v4h-4zM316 164h4v4h-4zM344 164h4v4h-4zM368 164h8v4h-8zM468 164h16v4h-16zM680 164h4v4h-4zM732 164h4v4h-4zM752 164h4v4h-4zM216 168h4v4h-4zM244 168h4v4h-4zM312 168h4v4h-4zM348 168h16v4h-16zM540 168h4v4h-4zM212 172h4v4h-4zM304 172h8v4h-8zM464 172h8v4h-8zM544 172h4v4h-4zM240 176h4v4h-4zM300 176h4v4h-4zM452 176h8v4h-8zM472 176h4v4h-4zM556 176h4v4h-4zM744 176h4v4h-4zM208 180h4v4h-4zM292 180h8v4h-8zM444 180h4v4h-4zM476 180h4v4h-4zM564 180h4v4h-4zM288 184h4v4h-4zM440 184h4v4h-4zM480 184h4v4h-4zM572 184h4v4h-4zM204 188h4v4h-4zM232 188h4v4h-4zM284 188h4v4h-4zM436 188h4v4h-4zM580 188h4v4h-4zM684 188h4v4h-4zM280 192h4v4h-4zM588 192h4v4h-4zM628 192h4v4h-4zM756 192h4v4h-4zM276 196h4v4h-4zM224 200h4v4h-4zM600 200h4v4h-4zM632 200h4v4h-4zM272 204h4v4h-4zM604 204h4v4h-4zM636 204h4v4h-4zM776 204h4v4h-4zM268 208h4v4h-4zM644 208h4v4h-4zM780 212h4v4h-4zM264 216h4v4h-4zM696 216h4v4h-4zM652 220h4v4h-4zM696 220h4v4h-4zM652 224h4v4h-4zM204 228h4v4h-4zM260 228h4v4h-4zM196 232h8v4h-8zM632 232h4v4h-4zM196 236h4v4h-4zM636 236h4v4h-4zM788 236h4v4h-4zM256 240h4v4h-4zM696 240h4v4h-4zM256 244h4v4h-4zM644 244h12v4h-12zM256 248h4v4h-4zM256 252h4v4h-4zM256 256h4v4h-4zM688 256h4v4h-4zM260 264h4v4h-4zM676 264h4v4h-4zM264 268h4v4h-4zM676 268h4v4h-4zM680 276h4v4h-4zM272 280h4v4h-4zM680 280h4v4h-4zM176 288h4v4h-4zM796 288h8v4h-8zM180 292h4v4h-4zM684 292h4v4h-4zM172 296h4v4h-4zM180 296h4v4h-4zM684 296h4v4h-4zM808 296h4v4h-4zM684 300h4v4h-4zM748 304h20v4h-20zM168 308h4v4h-4zM744 308h4v4h-4zM764 308h8v4h-8zM740 312h4v4h-4zM772 312h4v4h-4zM812 312h4v4h-4zM736 316h4v4h-4zM776 316h4v4h-4zM672 320h4v4h-4zM732 320h4v4h-4zM776 320h4v4h-4zM220 324h4v4h-4zM732 324h4v4h-4zM780 324h4v4h-4zM164 328h4v4h-4zM228 328h4v4h-4zM728 328h4v4h-4zM784 328h4v4h-4zM204 332h4v4h-4zM228 332h4v4h-4zM276 332h4v4h-4zM728 332h4v4h-4zM784 332h4v4h-4zM184 336h4v4h-4zM784 336h4v4h-4zM192 340h4v4h-4zM672 340h4v4h-4zM788 340h4v4h-4zM816 340h4v4h-4zM672 344h4v4h-4zM724 344h4v4h-4zM788 344h4v4h-4zM816 344h4v4h-4zM724 348h4v4h-4zM816 348h4v4h-4zM724 352h4v4h-4zM792 352h4v4h-4zM816 352h4v4h-4zM228 356h4v4h-4zM724 356h4v4h-4zM792 356h4v4h-4zM816 356h4v4h-4zM228 360h4v4h-4zM724 360h4v4h-4zM792 360h4v4h-4zM816 360h4v4h-4zM276 364h4v4h-4zM724 364h4v4h-4zM792 364h4v4h-4zM816 364h4v4h-4zM224 368h4v4h-4zM276 368h4v4h-4zM724 368h4v4h-4zM792 368h4v4h-4zM816 368h4v4h-4zM276 372h4v4h-4zM792 372h4v4h-4zM816 372h4v4h-4zM276 376h4v4h-4zM792 376h4v4h-4zM816 376h4v4h-4zM276 380h4v4h-4zM792 380h4v4h-4zM816 380h4v4h-4zM672 384h4v4h-4zM792 384h4v4h-4zM212 388h4v4h-4zM672 388h4v4h-4zM792 388h4v4h-4zM672 392h4v4h-4zM792 392h4v4h-4zM208 396h4v4h-4zM672 396h4v4h-4zM792 396h4v4h-4zM672 400h4v4h-4zM792 400h4v4h-4zM280 404h4v4h-4zM720 404h4v4h-4zM792 404h4v4h-4zM164 408h4v4h-4zM204 408h4v4h-4zM280 408h4v4h-4zM720 408h4v4h-4zM164 412h4v4h-4zM720 412h4v4h-4zM788 412h4v4h-4zM812 412h4v4h-4zM160 416h8v4h-8zM200 416h4v4h-4zM720 416h4v4h-4zM788 416h4v4h-4zM156 420h4v4h-4zM200 420h4v4h-4zM284 420h4v4h-4zM720 420h4v4h-4zM788 420h4v4h-4zM156 424h4v4h-4zM168 424h4v4h-4zM196 424h4v4h-4zM284 424h4v4h-4zM720 424h4v4h-4zM784 424h8v4h-8zM172 428h4v4h-4zM188 428h12v4h-12zM720 428h4v4h-4zM784 428h4v4h-4zM176 432h4v4h-4zM188 432h8v4h-8zM288 432h4v4h-4zM720 432h4v4h-4zM784 432h4v4h-4zM808 432h4v4h-4zM180 436h12v4h-12zM292 440h4v4h-4zM724 440h4v4h-4zM804 444h4v4h-4zM152 448h4v4h-4zM296 448h4v4h-4zM672 448h4v4h-4zM152 452h4v4h-4zM296 452h4v4h-4zM672 452h4v4h-4zM728 452h4v4h-4zM152 456h4v4h-4zM728 456h4v4h-4zM252 460h12v4h-12zM300 460h4v4h-4zM156 464h4v4h-4zM244 464h8v4h-8zM260 464h12v4h-12zM668 464h4v4h-4zM796 464h4v4h-4zM172 468h4v4h-4zM240 468h4v4h-4zM268 468h8v4h-8zM304 468h4v4h-4zM668 468h4v4h-4zM732 468h4v4h-4zM232 472h8v4h-8zM272 472h8v4h-8zM308 472h4v4h-4zM732 472h4v4h-4zM792 472h4v4h-4zM228 476h8v4h-8zM276 476h4v4h-4zM308 476h4v4h-4zM664 476h4v4h-4zM736 476h4v4h-4zM164 480h4v4h-4zM228 480h4v4h-4zM276 480h8v4h-8zM308 480h4v4h-4zM664 480h4v4h-4zM736 480h4v4h-4zM228 484h4v4h-4zM280 484h8v4h-8zM304 484h8v4h-8zM660 484h4v4h-4zM736 484h4v4h-4zM788 484h4v4h-4zM228 488h4v4h-4zM284 488h28v4h-28zM656 488h4v4h-4zM736 488h4v4h-4zM228 492h4v4h-4zM284 492h20v4h-20zM656 492h4v4h-4zM736 492h4v4h-4zM228 496h4v4h-4zM284 496h16v4h-16zM356 496h4v4h-4zM652 496h4v4h-4zM732 496h4v4h-4zM232 500h4v4h-4zM288 500h12v4h-12zM356 500h4v4h-4zM648 500h4v4h-4zM232 504h4v4h-4zM288 504h8v4h-8zM356 504h4v4h-4zM644 504h4v4h-4zM728 504h4v4h-4zM780 504h4v4h-4zM236 508h4v4h-4zM284 508h12v4h-12zM356 508h4v4h-4zM640 508h8v4h-8zM240 512h4v4h-4zM280 512h20v4h-20zM356 512h4v4h-4zM640 512h4v4h-4zM776 512h4v4h-4zM180 516h4v4h-4zM196 516h4v4h-4zM240 516h8v4h-8zM276 516h24v4h-24zM356 516h8v4h-8zM396 516h4v4h-4zM636 516h4v4h-4zM720 516h4v4h-4zM772 516h4v4h-4zM248 520h12v4h-12zM268 520h20v4h-20zM292 520h12v4h-12zM356 520h8v4h-8zM392 520h4v4h-4zM632 520h4v4h-4zM184 524h4v4h-4zM252 524h28v4h-28zM300 524h8v4h-8zM356 524h4v4h-4zM628 524h4v4h-4zM188 528h4v4h-4zM304 528h8v4h-8zM356 528h4v4h-4zM388 528h4v4h-4zM540 528h4v4h-4zM620 528h8v4h-8zM712 528h4v4h-4zM764 528h4v4h-4zM308 532h8v4h-8zM352 532h8v4h-8zM388 532h4v4h-4zM540 532h4v4h-4zM616 532h8v4h-8zM760 532h4v4h-4zM312 536h8v4h-8zM348 536h8v4h-8zM500 536h4v4h-4zM612 536h8v4h-8zM320 540h32v4h-32zM500 540h4v4h-4zM544 540h4v4h-4zM608 540h8v4h-8zM704 540h4v4h-4zM756 540h4v4h-4zM328 544h16v4h-16zM544 544h4v4h-4zM604 544h8v4h-8zM752 544h4v4h-4zM388 548h4v4h-4zM548 548h4v4h-4zM600 548h8v4h-8zM548 552h4v4h-4zM600 552h8v4h-8zM696 552h4v4h-4zM748 552h4v4h-4zM396 556h4v4h-4zM548 556h8v4h-8zM600 556h4v4h-4zM744 556h4v4h-4zM400 560h4v4h-4zM544 560h8v4h-8zM596 560h8v4h-8zM740 560h4v4h-4zM412 564h4v4h-4zM500 564h4v4h-4zM540 564h8v4h-8zM596 564h8v4h-8zM688 564h4v4h-4zM736 564h4v4h-4zM420 568h8v4h-8zM500 568h4v4h-4zM528 568h12v4h-12zM596 568h4v4h-4zM684 568h4v4h-4zM732 568h4v4h-4zM436 572h8v4h-8zM496 572h8v4h-8zM520 572h12v4h-12zM592 572h8v4h-8zM680 572h4v4h-4zM728 572h4v4h-4zM448 576h16v4h-16zM492 576h32v4h-32zM592 576h4v4h-4zM676 576h4v4h-4zM468 580h52v4h-52zM588 580h4v4h-4zM672 580h4v4h-4zM492 584h20v4h-20zM584 584h4v4h-4zM668 584h4v4h-4zM712 584h4v4h-4zM496 588h16v4h-16zM576 588h8v4h-8zM664 588h4v4h-4zM708 588h4v4h-4zM496 592h16v4h-16zM568 592h12v4h-12zM500 596h12v4h-12zM560 596h12v4h-12zM652 596h4v4h-4zM696 596h4v4h-4zM504 600h20v4h-20zM540 600h20v4h-20zM516 604h24v4h-24zM640 604h4v4h-4zM636 608h4v4h-4zM680 608h4v4h-4zM632 612h4v4h-4zM628 616h4v4h-4zM668 616h4v4h-4zM624 620h4v4h-4zM620 624h4v4h-4zM656 624h4v4h-4zM616 628h8v4h-8zM648 628h4v4h-4zM616 632h8v4h-8zM640 632h4v4h-4zM620 636h12v4h-12zM372 652h4v4h-4zM384 656h4v4h-4zM444 668h4v4h-4zM364 672h4v4h-4zM376 676h4v4h-4zM500 676h4v4h-4zM388 680h4v4h-4zM492 680h4v4h-4zM404 684h4v4h-4zM468 684h4v4h-4zM492 684h4v4h-4zM524 684h4v4h-4zM424 688h4v4h-4zM464 688h4v4h-4z"/>
<path fill="#21e228" d="M516 28h12v4h-12zM408 32h16v4h-16zM508 32h4v4h-4zM552 32h4v4h-4zM568 36h4v4h-4zM376 40h4v4h-4zM512 40h4v4h-4zM364 44h4v4h-4zM604 48h4v4h-4zM344 52h4v4h-4zM400 56h4v4h-4zM560 60h4v4h-4zM312 68h4v4h-4zM368 68h4v4h-4zM660 76h4v4h-4zM360 80h16v4h-16zM288 84h4v4h-4zM348 84h8v4h-8zM380 84h4v4h-4zM672 84h4v4h-4zM284 88h4v4h-4zM340 88h8v4h-8zM380 88h4v4h-4zM320 92h4v4h-4zM336 92h4v4h-4zM380 92h4v4h-4zM284 96h4v4h-4zM312 96h4v4h-4zM332 96h4v4h-4zM376 96h4v4h-4zM688 96h4v4h-4zM288 100h4v4h-4zM328 100h4v4h-4zM368 100h8v4h-8zM652 100h4v4h-4zM292 104h8v4h-8zM328 104h4v4h-4zM364 104h4v4h-4zM328 108h4v4h-4zM356 108h4v4h-4zM332 112h20v4h-20zM336 116h8v4h-8zM652 140h8v4h-8zM640 144h4v4h-4zM668 144h4v4h-4zM332 148h4v4h-4zM672 148h4v4h-4zM324 152h16v4h-16zM396 152h8v4h-8zM420 152h8v4h-8zM676 152h4v4h-4zM744 152h4v4h-4zM224 156h4v4h-4zM320 156h8v4h-8zM340 156h4v4h-4zM384 156h8v4h-8zM432 156h4v4h-4zM492 156h16v4h-16zM220 160h4v4h-4zM316 160h4v4h-4zM344 160h4v4h-4zM376 160h4v4h-4zM460 160h16v4h-16zM484 160h4v4h-4zM524 160h4v4h-4zM680 160h4v4h-4zM216 164h4v4h-4zM308 164h8v4h-8zM348 164h8v4h-8zM360 164h8v4h-8zM536 164h4v4h-4zM624 164h4v4h-4zM212 168h4v4h-4zM304 168h8v4h-8zM624 168h4v4h-4zM684 168h4v4h-4zM244 172h4v4h-4zM296 172h8v4h-8zM548 172h4v4h-4zM624 172h4v4h-4zM684 172h4v4h-4zM208 176h4v4h-4zM292 176h8v4h-8zM460 176h12v4h-12zM560 176h4v4h-4zM624 176h4v4h-4zM684 176h4v4h-4zM760 176h4v4h-4zM240 180h4v4h-4zM288 180h4v4h-4zM448 180h8v4h-8zM472 180h4v4h-4zM568 180h4v4h-4zM624 180h4v4h-4zM684 180h4v4h-4zM236 184h4v4h-4zM284 184h4v4h-4zM444 184h4v4h-4zM476 184h4v4h-4zM576 184h4v4h-4zM624 184h4v4h-4zM684 184h4v4h-4zM280 188h4v4h-4zM440 188h4v4h-4zM584 188h4v4h-4zM276 192h4v4h-4zM200 196h4v4h-4zM228 196h4v4h-4zM596 196h4v4h-4zM628 196h4v4h-4zM688 196h4v4h-4zM772 196h4v4h-4zM272 200h4v4h-4zM268 204h4v4h-4zM608 204h4v4h-4zM692 204h4v4h-4zM196 208h4v4h-4zM220 208h4v4h-4zM612 208h4v4h-4zM640 208h4v4h-4zM264 212h4v4h-4zM616 212h4v4h-4zM648 212h4v4h-4zM696 212h4v4h-4zM216 216h4v4h-4zM620 216h4v4h-4zM624 220h4v4h-4zM784 220h4v4h-4zM260 224h4v4h-4zM628 224h4v4h-4zM632 228h4v4h-4zM652 228h4v4h-4zM256 232h4v4h-4zM652 232h4v4h-4zM788 232h4v4h-4zM192 236h4v4h-4zM256 236h4v4h-4zM652 236h4v4h-4zM192 240h8v4h-8zM640 240h4v4h-4zM652 240h4v4h-4zM784 240h8v4h-8zM192 244h4v4h-4zM696 244h4v4h-4zM692 252h4v4h-4zM256 260h4v4h-4zM684 260h4v4h-4zM680 264h4v4h-4zM260 268h4v4h-4zM680 268h4v4h-4zM264 272h4v4h-4zM680 272h4v4h-4zM268 276h4v4h-4zM684 280h4v4h-4zM272 284h4v4h-4zM684 284h4v4h-4zM796 284h8v4h-8zM180 288h4v4h-4zM272 288h4v4h-4zM684 288h4v4h-4zM804 288h4v4h-4zM272 292h4v4h-4zM792 292h4v4h-4zM808 292h4v4h-4zM272 296h4v4h-4zM792 296h4v4h-4zM272 300h4v4h-4zM748 300h24v4h-24zM792 300h4v4h-4zM272 304h4v4h-4zM684 304h4v4h-4zM740 304h8v4h-8zM768 304h8v4h-8zM792 304h4v4h-4zM812 304h4v4h-4zM272 308h4v4h-4zM684 308h4v4h-4zM736 308h8v4h-8zM772 308h8v4h-8zM792 308h4v4h-4zM812 308h4v4h-4zM272 312h4v4h-4zM680 312h4v4h-4zM736 312h4v4h-4zM776 312h8v4h-8zM792 312h4v4h-4zM272 316h4v4h-4zM676 316h4v4h-4zM732 316h4v4h-4zM780 316h4v4h-4zM792 316h4v4h-4zM272 320h4v4h-4zM728 320h4v4h-4zM780 320h8v4h-8zM792 320h4v4h-4zM216 324h4v4h-4zM224 324h8v4h-8zM272 324h4v4h-4zM672 324h4v4h-4zM728 324h4v4h-4zM784 324h4v4h-4zM792 324h4v4h-4zM208 328h4v4h-4zM724 328h4v4h-4zM788 328h8v4h-8zM816 328h4v4h-4zM184 332h4v4h-4zM232 332h4v4h-4zM672 332h4v4h-4zM724 332h4v4h-4zM788 332h8v4h-8zM816 332h4v4h-4zM196 336h4v4h-4zM232 336h4v4h-4zM276 336h4v4h-4zM672 336h4v4h-4zM724 336h4v4h-4zM788 336h8v4h-8zM816 336h4v4h-4zM188 340h4v4h-4zM232 340h4v4h-4zM724 340h4v4h-4zM792 340h4v4h-4zM232 344h4v4h-4zM792 344h4v4h-4zM232 348h4v4h-4zM792 348h4v4h-4zM232 352h4v4h-4zM720 352h4v4h-4zM720 356h4v4h-4zM276 360h4v4h-4zM720 360h4v4h-4zM228 364h4v4h-4zM224 372h4v4h-4zM220 376h4v4h-4zM720 380h4v4h-4zM216 384h4v4h-4zM276 384h4v4h-4zM720 384h4v4h-4zM816 384h4v4h-4zM276 388h4v4h-4zM720 388h4v4h-4zM816 388h4v4h-4zM276 392h4v4h-4zM720 392h4v4h-4zM816 392h4v4h-4zM720 396h4v4h-4zM816 396h4v4h-4zM208 400h4v4h-4zM720 400h4v4h-4zM204 412h4v4h-4zM280 412h4v4h-4zM280 416h4v4h-4zM812 416h4v4h-4zM280 420h4v4h-4zM716 420h4v4h-4zM812 420h4v4h-4zM200 424h4v4h-4zM716 424h4v4h-4zM164 428h4v4h-4zM200 428h4v4h-4zM284 428h4v4h-4zM716 428h4v4h-4zM196 432h4v4h-4zM284 432h4v4h-4zM192 436h8v4h-8zM288 436h4v4h-4zM720 436h4v4h-4zM808 436h4v4h-4zM156 440h4v4h-4zM184 440h12v4h-12zM288 440h4v4h-4zM152 444h4v4h-4zM160 444h4v4h-4zM188 444h4v4h-4zM292 444h4v4h-4zM724 444h4v4h-4zM292 448h4v4h-4zM804 448h4v4h-4zM256 452h8v4h-8zM292 452h4v4h-4zM248 456h24v4h-24zM296 456h4v4h-4zM672 456h4v4h-4zM800 456h4v4h-4zM244 460h8v4h-8zM264 460h12v4h-12zM296 460h4v4h-4zM672 460h4v4h-4zM728 460h4v4h-4zM240 464h4v4h-4zM272 464h8v4h-8zM300 464h4v4h-4zM672 464h4v4h-4zM728 464h4v4h-4zM156 468h4v4h-4zM232 468h8v4h-8zM276 468h8v4h-8zM300 468h4v4h-4zM672 468h4v4h-4zM796 468h4v4h-4zM224 472h8v4h-8zM280 472h8v4h-8zM300 472h8v4h-8zM668 472h4v4h-4zM160 476h4v4h-4zM220 476h8v4h-8zM280 476h28v4h-28zM668 476h4v4h-4zM732 476h4v4h-4zM792 476h4v4h-4zM220 480h8v4h-8zM284 480h24v4h-24zM668 480h4v4h-4zM732 480h4v4h-4zM792 480h4v4h-4zM168 484h8v4h-8zM220 484h8v4h-8zM288 484h16v4h-16zM664 484h4v4h-4zM732 484h4v4h-4zM220 488h8v4h-8zM660 488h8v4h-8zM732 488h4v4h-4zM788 488h4v4h-4zM224 492h4v4h-4zM360 492h4v4h-4zM660 492h4v4h-4zM732 492h4v4h-4zM224 496h4v4h-4zM360 496h4v4h-4zM656 496h4v4h-4zM728 496h4v4h-4zM784 496h4v4h-4zM228 500h4v4h-4zM360 500h4v4h-4zM652 500h4v4h-4zM728 500h4v4h-4zM784 500h4v4h-4zM180 504h8v4h-8zM228 504h4v4h-4zM360 504h4v4h-4zM648 504h8v4h-8zM724 504h4v4h-4zM232 508h4v4h-4zM360 508h8v4h-8zM648 508h4v4h-4zM724 508h4v4h-4zM780 508h4v4h-4zM232 512h8v4h-8zM360 512h8v4h-8zM644 512h4v4h-4zM720 512h4v4h-4zM236 516h4v4h-4zM364 516h4v4h-4zM392 516h4v4h-4zM640 516h4v4h-4zM776 516h4v4h-4zM180 520h4v4h-4zM240 520h8v4h-8zM288 520h4v4h-4zM364 520h4v4h-4zM636 520h4v4h-4zM716 520h4v4h-4zM772 520h4v4h-4zM244 524h8v4h-8zM280 524h20v4h-20zM360 524h8v4h-8zM388 524h4v4h-4zM632 524h4v4h-4zM712 524h4v4h-4zM768 524h4v4h-4zM248 528h56v4h-56zM360 528h8v4h-8zM536 528h4v4h-4zM628 528h4v4h-4zM768 528h4v4h-4zM256 532h32v4h-32zM292 532h16v4h-16zM360 532h8v4h-8zM384 532h4v4h-4zM536 532h4v4h-4zM624 532h4v4h-4zM708 532h4v4h-4zM764 532h4v4h-4zM300 536h12v4h-12zM356 536h8v4h-8zM384 536h4v4h-4zM540 536h4v4h-4zM620 536h4v4h-4zM704 536h4v4h-4zM760 536h4v4h-4zM308 540h12v4h-12zM352 540h8v4h-8zM384 540h4v4h-4zM540 540h4v4h-4zM616 540h4v4h-4zM760 540h4v4h-4zM312 544h16v4h-16zM344 544h12v4h-12zM384 544h4v4h-4zM504 544h4v4h-4zM540 544h4v4h-4zM612 544h8v4h-8zM700 544h4v4h-4zM756 544h4v4h-4zM320 548h32v4h-32zM384 548h4v4h-4zM504 548h4v4h-4zM540 548h8v4h-8zM608 548h8v4h-8zM752 548h8v4h-8zM388 552h4v4h-4zM504 552h4v4h-4zM540 552h8v4h-8zM608 552h4v4h-4zM752 552h4v4h-4zM392 556h4v4h-4zM504 556h4v4h-4zM540 556h8v4h-8zM604 556h8v4h-8zM692 556h4v4h-4zM748 556h4v4h-4zM396 560h4v4h-4zM504 560h4v4h-4zM532 560h12v4h-12zM604 560h8v4h-8zM688 560h4v4h-4zM744 560h4v4h-4zM404 564h8v4h-8zM504 564h8v4h-8zM524 564h16v4h-16zM604 564h4v4h-4zM740 564h4v4h-4zM416 568h4v4h-4zM504 568h24v4h-24zM600 568h8v4h-8zM736 568h4v4h-4zM428 572h8v4h-8zM504 572h16v4h-16zM600 572h4v4h-4zM732 572h4v4h-4zM440 576h8v4h-8zM596 576h8v4h-8zM724 576h4v4h-4zM452 580h16v4h-16zM592 580h8v4h-8zM720 580h4v4h-4zM468 584h24v4h-24zM588 584h8v4h-8zM476 588h20v4h-20zM584 588h8v4h-8zM660 588h4v4h-4zM484 592h12v4h-12zM580 592h8v4h-8zM656 592h4v4h-4zM704 592h4v4h-4zM484 596h16v4h-16zM572 596h8v4h-8zM648 596h4v4h-4zM488 600h16v4h-16zM560 600h12v4h-12zM644 600h4v4h-4zM692 600h4v4h-4zM496 604h20v4h-20zM540 604h20v4h-20zM636 604h4v4h-4zM688 604h4v4h-4zM508 608h36v4h-36zM632 608h4v4h-4zM628 612h4v4h-4zM676 612h4v4h-4zM620 616h8v4h-8zM616 620h8v4h-8zM664 620h4v4h-4zM616 624h4v4h-4zM612 628h4v4h-4zM612 632h4v4h-4zM612 636h8v4h-8zM632 636h4v4h-4zM336 640h8v4h-8zM616 640h8v4h-8zM352 644h4v4h-4zM400 660h4v4h-4zM344 664h4v4h-4zM420 664h4v4h-4zM464 672h4v4h-4zM468 676h4v4h-4zM496 676h4v4h-4zM532 676h4v4h-4zM468 680h4v4h-4zM488 680h4v4h-4zM532 680h4v4h-4zM488 684h4v4h-4zM420 688h4v4h-4zM468 688h4v4h-4zM496 688h20v4h-20z"/>
<path fill="#1ef31f" d="M508 28h8v4h-8zM528 28h8v4h-8zM404 32h4v4h-4zM424 32h4v4h-4zM556 32h4v4h-4zM388 36h4v4h-4zM424 36h4v4h-4zM508 36h4v4h-4zM572 36h4v4h-4zM584 40h4v4h-4zM420 44h4v4h-4zM512 44h4v4h-4zM596 44h4v4h-4zM352 48h4v4h-4zM516 48h4v4h-4zM528 52h4v4h-4zM616 52h4v4h-4zM332 56h4v4h-4zM544 56h4v4h-4zM624 56h4v4h-4zM324 60h4v4h-4zM632 60h4v4h-4zM572 64h4v4h-4zM640 64h4v4h-4zM584 68h4v4h-4zM648 68h4v4h-4zM304 72h4v4h-4zM360 72h4v4h-4zM352 76h4v4h-4zM604 76h4v4h-4zM292 80h4v4h-4zM344 80h16v4h-16zM376 80h12v4h-12zM668 80h4v4h-4zM336 84h12v4h-12zM384 84h8v4h-8zM328 88h12v4h-12zM384 88h8v4h-8zM280 92h4v4h-4zM324 92h12v4h-12zM384 92h4v4h-4zM684 92h4v4h-4zM280 96h4v4h-4zM324 96h8v4h-8zM380 96h4v4h-4zM644 96h4v4h-4zM324 100h4v4h-4zM376 100h4v4h-4zM324 104h4v4h-4zM368 104h8v4h-8zM660 104h4v4h-4zM324 108h4v4h-4zM360 108h8v4h-8zM672 108h4v4h-4zM704 108h4v4h-4zM324 112h8v4h-8zM352 112h8v4h-8zM708 112h4v4h-4zM328 116h8v4h-8zM344 116h12v4h-12zM684 116h4v4h-4zM712 116h4v4h-4zM332 120h16v4h-16zM716 120h4v4h-4zM336 124h8v4h-8zM720 124h4v4h-4zM724 128h4v4h-4zM336 132h4v4h-4zM728 132h4v4h-4zM332 136h12v4h-12zM732 136h4v4h-4zM328 140h16v4h-16zM644 140h8v4h-8zM660 140h8v4h-8zM324 144h20v4h-20zM636 144h4v4h-4zM320 148h12v4h-12zM336 148h8v4h-8zM404 148h24v4h-24zM632 148h4v4h-4zM676 148h4v4h-4zM232 152h4v4h-4zM316 152h8v4h-8zM340 152h4v4h-4zM392 152h4v4h-4zM428 152h4v4h-4zM628 152h4v4h-4zM220 156h4v4h-4zM244 156h4v4h-4zM312 156h8v4h-8zM344 156h4v4h-4zM380 156h4v4h-4zM436 156h24v4h-24zM488 156h4v4h-4zM508 156h8v4h-8zM680 156h4v4h-4zM748 156h4v4h-4zM216 160h4v4h-4zM304 160h12v4h-12zM348 160h4v4h-4zM368 160h8v4h-8zM476 160h8v4h-8zM528 160h4v4h-4zM624 160h4v4h-4zM684 160h4v4h-4zM728 160h4v4h-4zM212 164h4v4h-4zM300 164h8v4h-8zM356 164h4v4h-4zM684 164h4v4h-4zM296 168h8v4h-8zM544 168h4v4h-4zM756 168h4v4h-4zM208 172h4v4h-4zM292 172h4v4h-4zM552 172h4v4h-4zM244 176h4v4h-4zM288 176h4v4h-4zM564 176h4v4h-4zM204 180h4v4h-4zM284 180h4v4h-4zM456 180h16v4h-16zM572 180h4v4h-4zM764 180h4v4h-4zM204 184h4v4h-4zM280 184h4v4h-4zM448 184h8v4h-8zM468 184h8v4h-8zM580 184h4v4h-4zM236 188h4v4h-4zM276 188h4v4h-4zM588 188h4v4h-4zM624 188h4v4h-4zM768 188h4v4h-4zM200 192h4v4h-4zM232 192h4v4h-4zM272 192h4v4h-4zM592 192h8v4h-8zM624 192h4v4h-4zM688 192h4v4h-4zM272 196h4v4h-4zM600 196h4v4h-4zM268 200h4v4h-4zM604 200h8v4h-8zM628 200h4v4h-4zM692 200h4v4h-4zM760 200h4v4h-4zM224 204h4v4h-4zM612 204h4v4h-4zM632 204h4v4h-4zM264 208h4v4h-4zM616 208h4v4h-4zM636 208h4v4h-4zM764 208h4v4h-4zM220 212h4v4h-4zM620 212h4v4h-4zM640 212h8v4h-8zM624 216h4v4h-4zM648 216h4v4h-4zM768 216h4v4h-4zM260 220h4v4h-4zM628 220h4v4h-4zM648 220h4v4h-4zM212 224h4v4h-4zM632 224h4v4h-4zM772 224h4v4h-4zM208 228h4v4h-4zM256 228h4v4h-4zM636 228h4v4h-4zM788 228h4v4h-4zM192 232h4v4h-4zM204 232h4v4h-4zM636 232h8v4h-8zM776 232h4v4h-4zM200 236h4v4h-4zM640 236h4v4h-4zM644 240h8v4h-8zM780 240h4v4h-4zM188 244h4v4h-4zM196 244h4v4h-4zM252 244h4v4h-4zM784 244h8v4h-8zM188 248h8v4h-8zM252 248h4v4h-4zM696 248h4v4h-4zM188 252h4v4h-4zM252 252h4v4h-4zM252 256h4v4h-4zM692 256h4v4h-4zM688 260h4v4h-4zM256 264h4v4h-4zM684 264h4v4h-4zM684 268h4v4h-4zM260 272h4v4h-4zM684 272h4v4h-4zM264 276h4v4h-4zM684 276h4v4h-4zM180 280h4v4h-4zM268 280h4v4h-4zM796 280h12v4h-12zM176 284h8v4h-8zM268 284h4v4h-4zM688 284h4v4h-4zM792 284h4v4h-4zM804 284h4v4h-4zM688 288h4v4h-4zM792 288h4v4h-4zM808 288h4v4h-4zM172 292h4v4h-4zM688 292h4v4h-4zM752 292h20v4h-20zM688 296h4v4h-4zM744 296h32v4h-32zM812 296h4v4h-4zM688 300h4v4h-4zM740 300h8v4h-8zM772 300h12v4h-12zM788 300h4v4h-4zM812 300h4v4h-4zM168 304h4v4h-4zM688 304h4v4h-4zM736 304h4v4h-4zM776 304h16v4h-16zM732 308h4v4h-4zM780 308h12v4h-12zM728 312h8v4h-8zM784 312h8v4h-8zM728 316h4v4h-4zM784 316h8v4h-8zM816 316h4v4h-4zM220 320h8v4h-8zM724 320h4v4h-4zM788 320h4v4h-4zM816 320h4v4h-4zM164 324h4v4h-4zM212 324h4v4h-4zM232 324h4v4h-4zM724 324h4v4h-4zM788 324h4v4h-4zM816 324h4v4h-4zM184 328h4v4h-4zM232 328h4v4h-4zM272 328h4v4h-4zM672 328h4v4h-4zM720 328h4v4h-4zM200 332h4v4h-4zM720 332h4v4h-4zM188 336h8v4h-8zM720 336h4v4h-4zM276 340h4v4h-4zM720 340h4v4h-4zM720 344h4v4h-4zM720 348h4v4h-4zM232 356h4v4h-4zM276 356h4v4h-4zM232 360h4v4h-4zM720 364h4v4h-4zM228 368h4v4h-4zM720 368h4v4h-4zM720 372h4v4h-4zM720 376h4v4h-4zM220 380h4v4h-4zM212 392h4v4h-4zM276 396h4v4h-4zM276 400h4v4h-4zM816 400h4v4h-4zM208 404h4v4h-4zM276 404h4v4h-4zM816 404h4v4h-4zM276 408h4v4h-4zM716 408h4v4h-4zM716 412h4v4h-4zM156 416h4v4h-4zM204 416h4v4h-4zM676 416h4v4h-4zM716 416h4v4h-4zM204 420h4v4h-4zM676 420h4v4h-4zM280 424h4v4h-4zM676 424h4v4h-4zM812 424h4v4h-4zM156 428h4v4h-4zM168 428h4v4h-4zM280 428h4v4h-4zM676 428h4v4h-4zM812 428h4v4h-4zM160 432h4v4h-4zM172 432h4v4h-4zM200 432h4v4h-4zM280 432h4v4h-4zM676 432h4v4h-4zM716 432h4v4h-4zM176 436h4v4h-4zM200 436h4v4h-4zM280 436h8v4h-8zM676 436h4v4h-4zM716 436h4v4h-4zM152 440h4v4h-4zM180 440h4v4h-4zM196 440h8v4h-8zM284 440h4v4h-4zM676 440h4v4h-4zM720 440h4v4h-4zM808 440h4v4h-4zM148 444h4v4h-4zM184 444h4v4h-4zM192 444h12v4h-12zM256 444h12v4h-12zM284 444h8v4h-8zM676 444h4v4h-4zM720 444h4v4h-4zM808 444h4v4h-4zM188 448h16v4h-16zM252 448h24v4h-24zM280 448h12v4h-12zM676 448h4v4h-4zM724 448h4v4h-4zM164 452h4v4h-4zM192 452h12v4h-12zM248 452h8v4h-8zM264 452h28v4h-28zM676 452h4v4h-4zM724 452h4v4h-4zM804 452h4v4h-4zM244 456h4v4h-4zM272 456h24v4h-24zM676 456h4v4h-4zM804 456h4v4h-4zM240 460h4v4h-4zM276 460h20v4h-20zM676 460h4v4h-4zM800 460h4v4h-4zM232 464h8v4h-8zM280 464h20v4h-20zM676 464h4v4h-4zM800 464h4v4h-4zM212 468h20v4h-20zM284 468h16v4h-16zM676 468h4v4h-4zM728 468h4v4h-4zM800 468h4v4h-4zM212 472h12v4h-12zM288 472h12v4h-12zM672 472h8v4h-8zM728 472h4v4h-4zM796 472h4v4h-4zM212 476h8v4h-8zM672 476h4v4h-4zM728 476h4v4h-4zM796 476h4v4h-4zM160 480h4v4h-4zM212 480h8v4h-8zM672 480h4v4h-4zM728 480h4v4h-4zM796 480h4v4h-4zM164 484h4v4h-4zM216 484h4v4h-4zM668 484h8v4h-8zM728 484h4v4h-4zM792 484h4v4h-4zM168 488h4v4h-4zM216 488h4v4h-4zM668 488h4v4h-4zM728 488h4v4h-4zM792 488h4v4h-4zM220 492h4v4h-4zM664 492h8v4h-8zM728 492h4v4h-4zM788 492h8v4h-8zM220 496h4v4h-4zM364 496h8v4h-8zM660 496h8v4h-8zM788 496h4v4h-4zM224 500h4v4h-4zM364 500h12v4h-12zM656 500h8v4h-8zM724 500h4v4h-4zM788 500h4v4h-4zM176 504h4v4h-4zM224 504h4v4h-4zM364 504h16v4h-16zM656 504h8v4h-8zM784 504h4v4h-4zM176 508h4v4h-4zM228 508h4v4h-4zM368 508h12v4h-12zM652 508h8v4h-8zM720 508h4v4h-4zM784 508h4v4h-4zM176 512h4v4h-4zM368 512h12v4h-12zM648 512h8v4h-8zM780 512h4v4h-4zM176 516h4v4h-4zM232 516h4v4h-4zM368 516h12v4h-12zM388 516h4v4h-4zM644 516h8v4h-8zM716 516h4v4h-4zM780 516h4v4h-4zM236 520h4v4h-4zM368 520h24v4h-24zM640 520h8v4h-8zM712 520h4v4h-4zM776 520h4v4h-4zM180 524h4v4h-4zM240 524h4v4h-4zM368 524h20v4h-20zM636 524h8v4h-8zM772 524h8v4h-8zM184 528h4v4h-4zM240 528h8v4h-8zM368 528h20v4h-20zM532 528h4v4h-4zM632 528h8v4h-8zM708 528h4v4h-4zM772 528h4v4h-4zM188 532h12v4h-12zM244 532h12v4h-12zM288 532h4v4h-4zM368 532h16v4h-16zM532 532h4v4h-4zM628 532h12v4h-12zM768 532h8v4h-8zM248 536h52v4h-52zM364 536h20v4h-20zM504 536h4v4h-4zM532 536h8v4h-8zM624 536h12v4h-12zM764 536h8v4h-8zM252 540h56v4h-56zM360 540h24v4h-24zM504 540h8v4h-8zM532 540h8v4h-8zM620 540h12v4h-12zM700 540h4v4h-4zM764 540h8v4h-8zM256 544h56v4h-56zM356 544h16v4h-16zM380 544h4v4h-4zM508 544h4v4h-4zM532 544h8v4h-8zM620 544h8v4h-8zM760 544h8v4h-8zM264 548h56v4h-56zM352 548h12v4h-12zM380 548h4v4h-4zM508 548h4v4h-4zM528 548h12v4h-12zM616 548h8v4h-8zM696 548h4v4h-4zM760 548h4v4h-4zM304 552h56v4h-56zM384 552h4v4h-4zM508 552h8v4h-8zM524 552h16v4h-16zM612 552h12v4h-12zM692 552h4v4h-4zM756 552h8v4h-8zM316 556h36v4h-36zM384 556h8v4h-8zM508 556h32v4h-32zM612 556h8v4h-8zM752 556h8v4h-8zM392 560h4v4h-4zM508 560h24v4h-24zM612 560h8v4h-8zM748 560h8v4h-8zM396 564h8v4h-8zM512 564h12v4h-12zM608 564h8v4h-8zM684 564h4v4h-4zM744 564h8v4h-8zM408 568h8v4h-8zM608 568h8v4h-8zM680 568h4v4h-4zM740 568h12v4h-12zM416 572h12v4h-12zM604 572h8v4h-8zM676 572h4v4h-4zM736 572h12v4h-12zM428 576h12v4h-12zM604 576h8v4h-8zM672 576h4v4h-4zM728 576h4v4h-4zM440 580h12v4h-12zM600 580h8v4h-8zM668 580h4v4h-4zM448 584h20v4h-20zM596 584h8v4h-8zM664 584h4v4h-4zM716 584h4v4h-4zM460 588h16v4h-16zM592 588h8v4h-8zM464 592h20v4h-20zM588 592h12v4h-12zM652 592h4v4h-4zM468 596h16v4h-16zM580 596h12v4h-12zM644 596h4v4h-4zM700 596h4v4h-4zM472 600h16v4h-16zM572 600h16v4h-16zM640 600h4v4h-4zM476 604h20v4h-20zM560 604h20v4h-20zM632 604h4v4h-4zM484 608h24v4h-24zM544 608h20v4h-20zM624 608h8v4h-8zM684 608h4v4h-4zM496 612h48v4h-48zM620 612h8v4h-8zM616 616h4v4h-4zM672 616h4v4h-4zM612 620h4v4h-4zM608 624h8v4h-8zM660 624h4v4h-4zM604 628h8v4h-8zM652 628h4v4h-4zM604 632h8v4h-8zM644 632h4v4h-4zM604 636h8v4h-8zM636 636h4v4h-4zM604 640h12v4h-12zM624 640h8v4h-8zM604 644h16v4h-16zM332 652h4v4h-4zM332 656h4v4h-4zM336 660h4v4h-4zM352 668h4v4h-4zM448 668h4v4h-4zM360 672h4v4h-4zM512 672h24v4h-24zM372 676h4v4h-4zM492 676h4v4h-4zM536 676h4v4h-4zM384 680h4v4h-4zM472 680h4v4h-4zM484 680h4v4h-4zM536 680h4v4h-4zM400 684h4v4h-4zM472 684h4v4h-4zM484 684h4v4h-4zM528 684h4v4h-4zM416 688h4v4h-4zM472 688h4v4h-4zM488 688h8v4h-8zM516 688h8v4h-8zM444 692h20v4h-20z"/>
<path fill="#38f81b" d="M456 20h4v4h-4zM500 20h4v4h-4zM424 24h8v4h-8zM516 24h20v4h-20zM404 28h24v4h-24zM504 28h4v4h-4zM536 28h20v4h-20zM388 32h16v4h-16zM428 32h4v4h-4zM504 32h4v4h-4zM560 32h12v4h-12zM376 36h12v4h-12zM576 36h12v4h-12zM364 40h12v4h-12zM424 40h4v4h-4zM508 40h4v4h-4zM588 40h8v4h-8zM352 44h12v4h-12zM600 44h8v4h-8zM344 48h8v4h-8zM608 48h8v4h-8zM336 52h8v4h-8zM412 52h4v4h-4zM620 52h8v4h-8zM328 56h4v4h-4zM628 56h8v4h-8zM320 60h4v4h-4zM556 60h4v4h-4zM636 60h8v4h-8zM312 64h8v4h-8zM380 64h4v4h-4zM644 64h4v4h-4zM304 68h8v4h-8zM580 68h4v4h-4zM652 68h4v4h-4zM300 72h4v4h-4zM364 72h4v4h-4zM592 72h4v4h-4zM656 72h8v4h-8zM292 76h8v4h-8zM356 76h28v4h-28zM664 76h4v4h-4zM284 80h8v4h-8zM388 80h4v4h-4zM612 80h4v4h-4zM672 80h4v4h-4zM280 84h8v4h-8zM392 84h4v4h-4zM556 84h8v4h-8zM620 84h4v4h-4zM676 84h4v4h-4zM276 88h8v4h-8zM392 88h4v4h-4zM548 88h20v4h-20zM628 88h4v4h-4zM680 88h4v4h-4zM268 92h12v4h-12zM388 92h8v4h-8zM548 92h24v4h-24zM636 92h4v4h-4zM688 92h4v4h-4zM264 96h8v4h-8zM276 96h4v4h-4zM316 96h8v4h-8zM384 96h8v4h-8zM552 96h16v4h-16zM692 96h4v4h-4zM260 100h4v4h-4zM284 100h4v4h-4zM308 100h16v4h-16zM380 100h8v4h-8zM556 100h12v4h-12zM696 100h4v4h-4zM256 104h4v4h-4zM288 104h4v4h-4zM300 104h4v4h-4zM316 104h8v4h-8zM376 104h4v4h-4zM700 104h4v4h-4zM292 108h4v4h-4zM320 108h4v4h-4zM368 108h8v4h-8zM320 112h4v4h-4zM360 112h8v4h-8zM712 112h4v4h-4zM324 116h4v4h-4zM356 116h8v4h-8zM716 116h4v4h-4zM324 120h8v4h-8zM348 120h12v4h-12zM720 120h4v4h-4zM324 124h12v4h-12zM344 124h12v4h-12zM724 124h4v4h-4zM232 128h4v4h-4zM324 128h28v4h-28zM728 128h4v4h-4zM228 132h4v4h-4zM324 132h12v4h-12zM340 132h12v4h-12zM224 136h4v4h-4zM320 136h12v4h-12zM344 136h4v4h-4zM652 136h16v4h-16zM220 140h8v4h-8zM316 140h12v4h-12zM344 140h4v4h-4zM668 140h4v4h-4zM736 140h4v4h-4zM216 144h12v4h-12zM312 144h12v4h-12zM344 144h4v4h-4zM412 144h16v4h-16zM672 144h4v4h-4zM740 144h4v4h-4zM212 148h16v4h-16zM308 148h12v4h-12zM344 148h4v4h-4zM400 148h4v4h-4zM428 148h4v4h-4zM744 148h4v4h-4zM212 152h20v4h-20zM236 152h8v4h-8zM304 152h12v4h-12zM344 152h4v4h-4zM388 152h4v4h-4zM432 152h8v4h-8zM680 152h4v4h-4zM748 152h4v4h-4zM208 156h12v4h-12zM300 156h12v4h-12zM348 156h4v4h-4zM376 156h4v4h-4zM460 156h28v4h-28zM516 156h8v4h-8zM624 156h4v4h-4zM684 156h4v4h-4zM204 160h12v4h-12zM248 160h4v4h-4zM296 160h8v4h-8zM352 160h16v4h-16zM532 160h4v4h-4zM688 160h4v4h-4zM752 160h4v4h-4zM200 164h12v4h-12zM248 164h4v4h-4zM292 164h8v4h-8zM540 164h4v4h-4zM688 164h8v4h-8zM756 164h4v4h-4zM200 168h12v4h-12zM248 168h4v4h-4zM288 168h8v4h-8zM548 168h4v4h-4zM688 168h8v4h-8zM204 172h4v4h-4zM284 172h8v4h-8zM556 172h8v4h-8zM688 172h8v4h-8zM760 172h4v4h-4zM204 176h4v4h-4zM280 176h8v4h-8zM568 176h4v4h-4zM620 176h4v4h-4zM688 176h8v4h-8zM764 176h4v4h-4zM276 180h8v4h-8zM576 180h8v4h-8zM620 180h4v4h-4zM688 180h4v4h-4zM240 184h4v4h-4zM272 184h8v4h-8zM456 184h12v4h-12zM584 184h8v4h-8zM620 184h4v4h-4zM688 184h4v4h-4zM768 184h4v4h-4zM200 188h4v4h-4zM272 188h4v4h-4zM592 188h8v4h-8zM620 188h4v4h-4zM688 188h4v4h-4zM772 188h4v4h-4zM268 192h4v4h-4zM600 192h12v4h-12zM620 192h4v4h-4zM772 192h4v4h-4zM232 196h4v4h-4zM268 196h4v4h-4zM604 196h24v4h-24zM692 196h4v4h-4zM776 196h4v4h-4zM228 200h4v4h-4zM612 200h16v4h-16zM776 200h4v4h-4zM196 204h4v4h-4zM264 204h4v4h-4zM616 204h16v4h-16zM780 204h4v4h-4zM224 208h4v4h-4zM620 208h16v4h-16zM696 208h4v4h-4zM780 208h4v4h-4zM624 212h16v4h-16zM784 212h4v4h-4zM260 216h4v4h-4zM628 216h20v4h-20zM784 216h4v4h-4zM216 220h4v4h-4zM632 220h16v4h-16zM788 220h4v4h-4zM192 224h4v4h-4zM256 224h4v4h-4zM636 224h16v4h-16zM700 224h4v4h-4zM788 224h4v4h-4zM192 228h4v4h-4zM640 228h12v4h-12zM700 228h4v4h-4zM792 228h4v4h-4zM644 232h8v4h-8zM700 232h4v4h-4zM792 232h4v4h-4zM252 236h4v4h-4zM644 236h8v4h-8zM700 236h4v4h-4zM792 236h4v4h-4zM188 240h4v4h-4zM200 240h4v4h-4zM252 240h4v4h-4zM700 240h4v4h-4zM792 240h8v4h-8zM792 244h8v4h-8zM784 248h20v4h-20zM192 252h4v4h-4zM696 252h4v4h-4zM784 252h20v4h-20zM184 256h8v4h-8zM784 256h20v4h-20zM184 260h4v4h-4zM252 260h4v4h-4zM788 260h20v4h-20zM688 264h4v4h-4zM788 264h20v4h-20zM256 268h4v4h-4zM688 268h4v4h-4zM788 268h20v4h-20zM688 272h4v4h-4zM788 272h20v4h-20zM180 276h4v4h-4zM260 276h4v4h-4zM688 276h4v4h-4zM788 276h24v4h-24zM176 280h4v4h-4zM264 280h4v4h-4zM688 280h4v4h-4zM756 280h12v4h-12zM784 280h12v4h-12zM808 280h4v4h-4zM692 284h4v4h-4zM752 284h40v4h-40zM808 284h4v4h-4zM268 288h4v4h-4zM692 288h4v4h-4zM744 288h48v4h-48zM268 292h4v4h-4zM692 292h4v4h-4zM740 292h12v4h-12zM772 292h20v4h-20zM812 292h4v4h-4zM268 296h4v4h-4zM692 296h4v4h-4zM736 296h8v4h-8zM776 296h16v4h-16zM268 300h4v4h-4zM692 300h8v4h-8zM732 300h8v4h-8zM784 300h4v4h-4zM268 304h4v4h-4zM692 304h4v4h-4zM728 304h8v4h-8zM268 308h4v4h-4zM688 308h4v4h-4zM724 308h8v4h-8zM268 312h4v4h-4zM684 312h4v4h-4zM724 312h4v4h-4zM268 316h4v4h-4zM680 316h4v4h-4zM720 316h8v4h-8zM164 320h4v4h-4zM184 320h4v4h-4zM216 320h4v4h-4zM228 320h8v4h-8zM268 320h4v4h-4zM676 320h4v4h-4zM716 320h8v4h-8zM184 324h4v4h-4zM268 324h4v4h-4zM716 324h8v4h-8zM204 328h4v4h-4zM236 328h4v4h-4zM716 328h4v4h-4zM196 332h4v4h-4zM236 332h4v4h-4zM272 332h4v4h-4zM716 332h4v4h-4zM236 336h4v4h-4zM716 336h4v4h-4zM236 340h4v4h-4zM716 340h4v4h-4zM236 344h4v4h-4zM276 344h4v4h-4zM716 344h4v4h-4zM236 348h4v4h-4zM276 348h4v4h-4zM716 348h4v4h-4zM236 352h4v4h-4zM276 352h4v4h-4zM716 352h4v4h-4zM236 356h4v4h-4zM716 356h4v4h-4zM716 360h4v4h-4zM232 364h4v4h-4zM716 364h4v4h-4zM232 368h4v4h-4zM272 368h4v4h-4zM228 372h4v4h-4zM272 372h4v4h-4zM224 376h4v4h-4zM272 376h4v4h-4zM272 380h4v4h-4zM272 384h4v4h-4zM216 388h4v4h-4zM212 396h4v4h-4zM716 396h4v4h-4zM716 400h4v4h-4zM676 404h4v4h-4zM716 404h4v4h-4zM208 408h4v4h-4zM676 408h4v4h-4zM160 412h4v4h-4zM276 412h4v4h-4zM676 412h4v4h-4zM276 416h4v4h-4zM272 420h8v4h-8zM712 420h4v4h-4zM204 424h4v4h-4zM272 424h8v4h-8zM712 424h4v4h-4zM204 428h4v4h-4zM252 428h28v4h-28zM712 428h4v4h-4zM156 432h4v4h-4zM164 432h4v4h-4zM204 432h4v4h-4zM252 432h28v4h-28zM712 432h4v4h-4zM156 436h8v4h-8zM204 436h4v4h-4zM252 436h28v4h-28zM712 436h4v4h-4zM148 440h4v4h-4zM160 440h4v4h-4zM204 440h4v4h-4zM248 440h36v4h-36zM712 440h8v4h-8zM204 444h4v4h-4zM248 444h8v4h-8zM268 444h16v4h-16zM716 444h4v4h-4zM184 448h4v4h-4zM204 448h8v4h-8zM244 448h8v4h-8zM276 448h4v4h-4zM720 448h4v4h-4zM188 452h4v4h-4zM204 452h8v4h-8zM244 452h4v4h-4zM192 456h24v4h-24zM240 456h4v4h-4zM680 456h4v4h-4zM724 456h4v4h-4zM168 460h4v4h-4zM196 460h28v4h-28zM232 460h8v4h-8zM680 460h4v4h-4zM724 460h4v4h-4zM804 460h4v4h-4zM200 464h32v4h-32zM680 464h8v4h-8zM204 468h8v4h-8zM680 468h8v4h-8zM204 472h8v4h-8zM680 472h8v4h-8zM800 472h4v4h-4zM208 476h4v4h-4zM676 476h8v4h-8zM676 480h8v4h-8zM212 484h4v4h-4zM676 484h8v4h-8zM796 484h4v4h-4zM164 488h4v4h-4zM172 488h4v4h-4zM672 488h8v4h-8zM724 488h4v4h-4zM164 492h12v4h-12zM216 492h4v4h-4zM672 492h8v4h-8zM724 492h4v4h-4zM168 496h8v4h-8zM668 496h8v4h-8zM724 496h4v4h-4zM168 500h16v4h-16zM220 500h4v4h-4zM664 500h12v4h-12zM720 500h4v4h-4zM172 504h4v4h-4zM664 504h8v4h-8zM720 504h4v4h-4zM172 508h4v4h-4zM192 508h4v4h-4zM224 508h4v4h-4zM380 508h8v4h-8zM660 508h8v4h-8zM716 508h4v4h-4zM228 512h4v4h-4zM380 512h12v4h-12zM656 512h12v4h-12zM716 512h4v4h-4zM380 516h8v4h-8zM652 516h12v4h-12zM712 516h4v4h-4zM232 520h4v4h-4zM648 520h12v4h-12zM200 524h4v4h-4zM236 524h4v4h-4zM644 524h12v4h-12zM708 524h4v4h-4zM200 528h4v4h-4zM236 528h4v4h-4zM640 528h12v4h-12zM184 532h4v4h-4zM240 532h4v4h-4zM516 532h16v4h-16zM640 532h8v4h-8zM704 532h4v4h-4zM188 536h12v4h-12zM244 536h4v4h-4zM508 536h24v4h-24zM636 536h12v4h-12zM700 536h4v4h-4zM192 540h8v4h-8zM244 540h8v4h-8zM512 540h20v4h-20zM632 540h12v4h-12zM192 544h12v4h-12zM248 544h8v4h-8zM372 544h8v4h-8zM512 544h20v4h-20zM628 544h12v4h-12zM696 544h4v4h-4zM196 548h8v4h-8zM252 548h12v4h-12zM364 548h16v4h-16zM512 548h16v4h-16zM624 548h12v4h-12zM200 552h8v4h-8zM252 552h52v4h-52zM360 552h24v4h-24zM516 552h8v4h-8zM624 552h8v4h-8zM200 556h8v4h-8zM252 556h64v4h-64zM352 556h32v4h-32zM620 556h12v4h-12zM688 556h4v4h-4zM204 560h8v4h-8zM256 560h112v4h-112zM380 560h12v4h-12zM620 560h8v4h-8zM684 560h4v4h-4zM208 564h4v4h-4zM256 564h104v4h-104zM388 564h8v4h-8zM616 564h8v4h-8zM208 568h8v4h-8zM256 568h92v4h-92zM396 568h12v4h-12zM616 568h8v4h-8zM212 572h8v4h-8zM256 572h68v4h-68zM408 572h8v4h-8zM612 572h8v4h-8zM216 576h4v4h-4zM256 576h52v4h-52zM416 576h12v4h-12zM612 576h4v4h-4zM732 576h12v4h-12zM220 580h4v4h-4zM260 580h40v4h-40zM428 580h12v4h-12zM608 580h8v4h-8zM724 580h16v4h-16zM224 584h4v4h-4zM264 584h32v4h-32zM436 584h12v4h-12zM604 584h8v4h-8zM660 584h4v4h-4zM732 584h4v4h-4zM228 588h4v4h-4zM268 588h28v4h-28zM440 588h20v4h-20zM600 588h12v4h-12zM656 588h4v4h-4zM712 588h4v4h-4zM732 588h4v4h-4zM232 592h4v4h-4zM272 592h20v4h-20zM448 592h16v4h-16zM600 592h12v4h-12zM648 592h4v4h-4zM728 592h4v4h-4zM232 596h8v4h-8zM276 596h16v4h-16zM452 596h16v4h-16zM592 596h16v4h-16zM640 596h4v4h-4zM236 600h4v4h-4zM284 600h4v4h-4zM452 600h20v4h-20zM588 600h24v4h-24zM632 600h8v4h-8zM696 600h4v4h-4zM240 604h4v4h-4zM456 604h20v4h-20zM580 604h52v4h-52zM460 608h24v4h-24zM564 608h60v4h-60zM252 612h4v4h-4zM468 612h28v4h-28zM544 612h76v4h-76zM680 612h4v4h-4zM256 616h4v4h-4zM480 616h76v4h-76zM588 616h28v4h-28zM260 620h4v4h-4zM592 620h20v4h-20zM668 620h4v4h-4zM264 624h4v4h-4zM592 624h16v4h-16zM268 628h4v4h-4zM592 628h12v4h-12zM276 632h4v4h-4zM592 632h12v4h-12zM648 632h4v4h-4zM280 636h4v4h-4zM592 636h12v4h-12zM284 640h4v4h-4zM332 640h4v4h-4zM344 640h4v4h-4zM592 640h12v4h-12zM292 644h4v4h-4zM332 644h4v4h-4zM592 644h12v4h-12zM620 644h4v4h-4zM296 648h8v4h-8zM332 648h4v4h-4zM592 648h20v4h-20zM304 652h4v4h-4zM592 652h8v4h-8zM312 656h4v4h-4zM316 660h8v4h-8zM404 660h4v4h-4zM324 664h12v4h-12zM340 664h4v4h-4zM424 664h4v4h-4zM332 668h20v4h-20zM452 668h4v4h-4zM344 672h16v4h-16zM468 672h4v4h-4zM504 672h8v4h-8zM536 672h8v4h-8zM352 676h20v4h-20zM472 676h4v4h-4zM488 676h4v4h-4zM540 676h4v4h-4zM360 680h24v4h-24zM476 680h8v4h-8zM372 684h28v4h-28zM476 684h8v4h-8zM532 684h4v4h-4zM388 688h28v4h-28zM476 688h12v4h-12zM524 688h8v4h-8zM400 692h44v4h-44zM464 692h60v4h-60zM420 696h120v4h-120zM452 700h56v4h-56z"/>
<path fill="#55fb18" d="M460 20h40v4h-40zM432 24h84v4h-84zM428 28h24v4h-24zM492 28h12v4h-12zM432 32h4v4h-4zM500 32h4v4h-4zM428 36h4v4h-4zM504 36h4v4h-4zM508 44h4v4h-4zM420 48h4v4h-4zM512 48h4v4h-4zM524 52h4v4h-4zM540 56h4v4h-4zM552 60h4v4h-4zM560 64h12v4h-12zM372 68h4v4h-4zM560 68h20v4h-20zM368 72h12v4h-12zM556 72h36v4h-36zM384 76h8v4h-8zM548 76h56v4h-56zM392 80h8v4h-8zM548 80h44v4h-44zM608 80h4v4h-4zM396 84h12v4h-12zM544 84h12v4h-12zM564 84h20v4h-20zM396 88h12v4h-12zM544 88h4v4h-4zM568 88h12v4h-12zM396 92h8v4h-8zM544 92h4v4h-4zM572 92h8v4h-8zM272 96h4v4h-4zM392 96h8v4h-8zM544 96h8v4h-8zM568 96h8v4h-8zM264 100h8v4h-8zM388 100h8v4h-8zM548 100h8v4h-8zM568 100h8v4h-8zM260 104h4v4h-4zM304 104h12v4h-12zM380 104h12v4h-12zM552 104h20v4h-20zM252 108h8v4h-8zM288 108h4v4h-4zM296 108h24v4h-24zM376 108h8v4h-8zM668 108h4v4h-4zM248 112h4v4h-4zM316 112h4v4h-4zM368 112h12v4h-12zM244 116h4v4h-4zM320 116h4v4h-4zM364 116h8v4h-8zM240 120h4v4h-4zM320 120h4v4h-4zM360 120h8v4h-8zM236 124h8v4h-8zM320 124h4v4h-4zM356 124h4v4h-4zM236 128h4v4h-4zM320 128h4v4h-4zM352 128h8v4h-8zM232 132h4v4h-4zM316 132h8v4h-8zM352 132h4v4h-4zM652 132h12v4h-12zM228 136h4v4h-4zM316 136h4v4h-4zM348 136h4v4h-4zM648 136h4v4h-4zM668 136h4v4h-4zM228 140h4v4h-4zM312 140h4v4h-4zM348 140h4v4h-4zM640 140h4v4h-4zM672 140h4v4h-4zM228 144h4v4h-4zM308 144h4v4h-4zM348 144h4v4h-4zM404 144h8v4h-8zM428 144h8v4h-8zM632 144h4v4h-4zM676 144h4v4h-4zM228 148h8v4h-8zM304 148h4v4h-4zM348 148h4v4h-4zM396 148h4v4h-4zM432 148h12v4h-12zM628 148h4v4h-4zM680 148h4v4h-4zM244 152h4v4h-4zM300 152h4v4h-4zM348 152h4v4h-4zM384 152h4v4h-4zM440 152h36v4h-36zM488 152h20v4h-20zM624 152h4v4h-4zM684 152h4v4h-4zM248 156h4v4h-4zM296 156h4v4h-4zM352 156h24v4h-24zM524 156h4v4h-4zM688 156h4v4h-4zM724 156h4v4h-4zM292 160h4v4h-4zM536 160h4v4h-4zM692 160h4v4h-4zM288 164h4v4h-4zM544 164h4v4h-4zM620 164h4v4h-4zM696 164h4v4h-4zM284 168h4v4h-4zM552 168h8v4h-8zM620 168h4v4h-4zM696 168h4v4h-4zM196 172h8v4h-8zM248 172h4v4h-4zM276 172h8v4h-8zM564 172h8v4h-8zM620 172h4v4h-4zM696 172h8v4h-8zM192 176h12v4h-12zM248 176h4v4h-4zM276 176h4v4h-4zM572 176h12v4h-12zM696 176h12v4h-12zM192 180h12v4h-12zM244 180h4v4h-4zM272 180h4v4h-4zM584 180h12v4h-12zM692 180h16v4h-16zM200 184h4v4h-4zM244 184h4v4h-4zM268 184h4v4h-4zM592 184h28v4h-28zM692 184h12v4h-12zM240 188h4v4h-4zM268 188h4v4h-4zM600 188h20v4h-20zM692 188h4v4h-4zM752 188h4v4h-4zM236 192h4v4h-4zM264 192h4v4h-4zM612 192h8v4h-8zM692 192h4v4h-4zM264 196h4v4h-4zM196 200h4v4h-4zM264 200h4v4h-4zM228 204h4v4h-4zM696 204h4v4h-4zM224 212h4v4h-4zM260 212h4v4h-4zM220 216h4v4h-4zM192 220h4v4h-4zM700 220h4v4h-4zM216 224h4v4h-4zM212 228h4v4h-4zM772 228h4v4h-4zM208 232h4v4h-4zM252 232h4v4h-4zM188 236h4v4h-4zM204 236h4v4h-4zM776 236h4v4h-4zM776 240h4v4h-4zM248 244h4v4h-4zM700 244h4v4h-4zM780 244h4v4h-4zM196 248h4v4h-4zM248 248h4v4h-4zM780 248h4v4h-4zM184 252h4v4h-4zM248 252h4v4h-4zM780 252h4v4h-4zM192 256h4v4h-4zM248 256h4v4h-4zM696 256h4v4h-4zM780 256h4v4h-4zM188 260h4v4h-4zM692 260h4v4h-4zM780 260h8v4h-8zM184 264h4v4h-4zM252 264h4v4h-4zM692 264h4v4h-4zM776 264h12v4h-12zM180 268h8v4h-8zM252 268h4v4h-4zM692 268h4v4h-4zM756 268h32v4h-32zM180 272h4v4h-4zM256 272h4v4h-4zM692 272h4v4h-4zM752 272h36v4h-36zM692 276h4v4h-4zM748 276h40v4h-40zM260 280h4v4h-4zM692 280h8v4h-8zM744 280h12v4h-12zM768 280h16v4h-16zM264 284h4v4h-4zM696 284h4v4h-4zM740 284h12v4h-12zM172 288h4v4h-4zM264 288h4v4h-4zM696 288h8v4h-8zM736 288h8v4h-8zM696 292h8v4h-8zM732 292h8v4h-8zM696 296h12v4h-12zM728 296h8v4h-8zM700 300h8v4h-8zM720 300h12v4h-12zM184 304h4v4h-4zM696 304h32v4h-32zM184 308h4v4h-4zM692 308h32v4h-32zM184 312h4v4h-4zM264 312h4v4h-4zM688 312h4v4h-4zM704 312h20v4h-20zM184 316h4v4h-4zM224 316h12v4h-12zM264 316h4v4h-4zM708 316h12v4h-12zM236 320h4v4h-4zM708 320h8v4h-8zM208 324h4v4h-4zM236 324h4v4h-4zM708 324h8v4h-8zM200 328h4v4h-4zM240 328h4v4h-4zM268 328h4v4h-4zM708 328h8v4h-8zM188 332h8v4h-8zM240 332h4v4h-4zM708 332h8v4h-8zM240 336h4v4h-4zM712 336h4v4h-4zM240 340h4v4h-4zM712 340h4v4h-4zM240 344h4v4h-4zM676 344h4v4h-4zM712 344h4v4h-4zM240 348h4v4h-4zM676 348h4v4h-4zM712 348h4v4h-4zM240 352h4v4h-4zM676 352h4v4h-4zM712 352h4v4h-4zM160 356h4v4h-4zM240 356h4v4h-4zM676 356h4v4h-4zM160 360h4v4h-4zM236 360h8v4h-8zM272 360h4v4h-4zM676 360h4v4h-4zM160 364h4v4h-4zM236 364h4v4h-4zM272 364h4v4h-4zM676 364h4v4h-4zM160 368h4v4h-4zM236 368h4v4h-4zM676 368h4v4h-4zM716 368h4v4h-4zM160 372h4v4h-4zM232 372h8v4h-8zM676 372h4v4h-4zM716 372h4v4h-4zM160 376h4v4h-4zM228 376h8v4h-8zM676 376h4v4h-4zM716 376h4v4h-4zM160 380h4v4h-4zM224 380h4v4h-4zM676 380h4v4h-4zM716 380h4v4h-4zM160 384h4v4h-4zM220 384h4v4h-4zM676 384h4v4h-4zM716 384h4v4h-4zM160 388h4v4h-4zM272 388h4v4h-4zM676 388h4v4h-4zM716 388h4v4h-4zM272 392h4v4h-4zM676 392h4v4h-4zM716 392h4v4h-4zM272 396h4v4h-4zM676 396h4v4h-4zM212 400h4v4h-4zM248 400h4v4h-4zM272 400h4v4h-4zM676 400h4v4h-4zM248 404h8v4h-8zM272 404h4v4h-4zM248 408h12v4h-12zM268 408h8v4h-8zM208 412h4v4h-4zM248 412h28v4h-28zM712 412h4v4h-4zM248 416h28v4h-28zM712 416h4v4h-4zM248 420h24v4h-24zM248 424h24v4h-24zM248 428h4v4h-4zM708 428h4v4h-4zM168 432h4v4h-4zM248 432h4v4h-4zM708 432h4v4h-4zM148 436h8v4h-8zM208 436h4v4h-4zM244 436h8v4h-8zM708 436h4v4h-4zM208 440h4v4h-4zM244 440h4v4h-4zM704 440h8v4h-8zM180 444h4v4h-4zM208 444h4v4h-4zM244 444h4v4h-4zM704 444h12v4h-12zM164 448h4v4h-4zM212 448h4v4h-4zM240 448h4v4h-4zM680 448h4v4h-4zM700 448h20v4h-20zM184 452h4v4h-4zM212 452h8v4h-8zM240 452h4v4h-4zM680 452h4v4h-4zM696 452h12v4h-12zM720 452h4v4h-4zM188 456h4v4h-4zM216 456h8v4h-8zM232 456h8v4h-8zM684 456h20v4h-20zM192 460h4v4h-4zM224 460h8v4h-8zM684 460h16v4h-16zM196 464h4v4h-4zM688 464h8v4h-8zM724 464h4v4h-4zM200 468h4v4h-4zM688 468h8v4h-8zM724 468h4v4h-4zM688 472h8v4h-8zM724 472h4v4h-4zM204 476h4v4h-4zM684 476h8v4h-8zM724 476h4v4h-4zM208 480h4v4h-4zM684 480h8v4h-8zM724 480h4v4h-4zM208 484h4v4h-4zM684 484h4v4h-4zM724 484h4v4h-4zM212 488h4v4h-4zM680 488h8v4h-8zM176 492h4v4h-4zM680 492h4v4h-4zM720 492h4v4h-4zM176 496h4v4h-4zM216 496h4v4h-4zM676 496h8v4h-8zM720 496h4v4h-4zM676 500h4v4h-4zM188 504h4v4h-4zM220 504h4v4h-4zM672 504h8v4h-8zM716 504h4v4h-4zM668 508h8v4h-8zM712 508h4v4h-4zM224 512h4v4h-4zM668 512h8v4h-8zM712 512h4v4h-4zM228 516h4v4h-4zM664 516h8v4h-8zM708 516h4v4h-4zM660 520h8v4h-8zM708 520h4v4h-4zM232 524h4v4h-4zM656 524h8v4h-8zM704 524h4v4h-4zM652 528h8v4h-8zM704 528h4v4h-4zM200 532h4v4h-4zM236 532h4v4h-4zM648 532h8v4h-8zM700 532h4v4h-4zM200 536h4v4h-4zM240 536h4v4h-4zM648 536h8v4h-8zM200 540h4v4h-4zM644 540h8v4h-8zM696 540h4v4h-4zM244 544h4v4h-4zM640 544h8v4h-8zM204 548h4v4h-4zM244 548h8v4h-8zM636 548h8v4h-8zM692 548h4v4h-4zM248 552h4v4h-4zM632 552h8v4h-8zM208 556h4v4h-4zM248 556h4v4h-4zM632 556h4v4h-4zM212 560h4v4h-4zM248 560h8v4h-8zM368 560h12v4h-12zM628 560h4v4h-4zM212 564h4v4h-4zM248 564h8v4h-8zM360 564h28v4h-28zM624 564h8v4h-8zM680 564h4v4h-4zM216 568h4v4h-4zM248 568h8v4h-8zM348 568h48v4h-48zM624 568h4v4h-4zM676 568h4v4h-4zM248 572h8v4h-8zM324 572h56v4h-56zM388 572h20v4h-20zM620 572h4v4h-4zM672 572h4v4h-4zM220 576h4v4h-4zM252 576h4v4h-4zM308 576h60v4h-60zM400 576h16v4h-16zM616 576h8v4h-8zM668 576h4v4h-4zM224 580h4v4h-4zM256 580h4v4h-4zM300 580h60v4h-60zM412 580h16v4h-16zM616 580h8v4h-8zM664 580h4v4h-4zM228 584h4v4h-4zM260 584h4v4h-4zM296 584h52v4h-52zM420 584h16v4h-16zM612 584h8v4h-8zM656 584h4v4h-4zM720 584h12v4h-12zM264 588h4v4h-4zM296 588h28v4h-28zM424 588h16v4h-16zM612 588h8v4h-8zM652 588h4v4h-4zM728 588h4v4h-4zM268 592h4v4h-4zM292 592h24v4h-24zM428 592h20v4h-20zM612 592h12v4h-12zM644 592h4v4h-4zM708 592h4v4h-4zM292 596h20v4h-20zM432 596h20v4h-20zM608 596h32v4h-32zM724 596h4v4h-4zM240 600h4v4h-4zM280 600h4v4h-4zM288 600h20v4h-20zM432 600h20v4h-20zM612 600h20v4h-20zM720 600h4v4h-4zM244 604h4v4h-4zM284 604h24v4h-24zM436 604h20v4h-20zM692 604h4v4h-4zM716 604h4v4h-4zM248 608h4v4h-4zM288 608h20v4h-20zM440 608h20v4h-20zM296 612h12v4h-12zM444 612h24v4h-24zM304 616h4v4h-4zM448 616h32v4h-32zM556 616h32v4h-32zM264 620h4v4h-4zM456 620h136v4h-136zM268 624h4v4h-4zM472 624h60v4h-60zM564 624h28v4h-28zM272 628h4v4h-4zM572 628h20v4h-20zM656 628h4v4h-4zM576 632h16v4h-16zM284 636h4v4h-4zM332 636h4v4h-4zM576 636h16v4h-16zM640 636h4v4h-4zM288 640h4v4h-4zM576 640h16v4h-16zM632 640h4v4h-4zM296 644h4v4h-4zM576 644h16v4h-16zM624 644h4v4h-4zM304 648h4v4h-4zM364 648h4v4h-4zM576 648h16v4h-16zM612 648h4v4h-4zM308 652h8v4h-8zM576 652h16v4h-16zM600 652h8v4h-8zM316 656h8v4h-8zM328 656h4v4h-4zM388 656h4v4h-4zM572 656h24v4h-24zM324 660h12v4h-12zM568 660h16v4h-16zM336 664h4v4h-4zM428 664h4v4h-4zM456 668h4v4h-4zM528 668h24v4h-24zM472 672h4v4h-4zM492 672h12v4h-12zM544 672h8v4h-8zM476 676h12v4h-12zM544 676h4v4h-4zM540 680h4v4h-4zM536 684h4v4h-4zM532 688h8v4h-8zM568 688h8v4h-8zM524 692h36v4h-36z"/>
<path fill="#73fe15" d="M452 28h40v4h-40zM436 32h8v4h-8zM492 32h8v4h-8zM432 36h4v4h-4zM500 36h4v4h-4zM428 40h4v4h-4zM504 40h4v4h-4zM424 44h4v4h-4zM536 56h4v4h-4zM392 60h4v4h-4zM540 60h12v4h-12zM540 64h20v4h-20zM376 68h4v4h-4zM540 68h20v4h-20zM380 72h8v4h-8zM540 72h16v4h-16zM392 76h8v4h-8zM536 76h12v4h-12zM400 80h16v4h-16zM536 80h12v4h-12zM592 80h16v4h-16zM408 84h16v4h-16zM536 84h8v4h-8zM584 84h36v4h-36zM408 88h12v4h-12zM536 88h8v4h-8zM580 88h48v4h-48zM404 92h16v4h-16zM536 92h8v4h-8zM580 92h12v4h-12zM400 96h16v4h-16zM540 96h4v4h-4zM576 96h8v4h-8zM272 100h12v4h-12zM396 100h16v4h-16zM540 100h8v4h-8zM576 100h4v4h-4zM264 104h4v4h-4zM284 104h4v4h-4zM392 104h12v4h-12zM544 104h8v4h-8zM572 104h8v4h-8zM656 104h4v4h-4zM384 108h12v4h-12zM552 108h20v4h-20zM252 112h4v4h-4zM288 112h28v4h-28zM380 112h8v4h-8zM248 116h4v4h-4zM316 116h4v4h-4zM372 116h8v4h-8zM244 120h4v4h-4zM316 120h4v4h-4zM368 120h4v4h-4zM688 120h4v4h-4zM316 124h4v4h-4zM360 124h8v4h-8zM652 124h4v4h-4zM316 128h4v4h-4zM652 128h12v4h-12zM236 132h4v4h-4zM356 132h4v4h-4zM648 132h4v4h-4zM664 132h4v4h-4zM232 136h4v4h-4zM312 136h4v4h-4zM352 136h4v4h-4zM644 136h4v4h-4zM232 140h4v4h-4zM308 140h4v4h-4zM352 140h4v4h-4zM412 140h32v4h-32zM636 140h4v4h-4zM232 144h4v4h-4zM304 144h4v4h-4zM400 144h4v4h-4zM436 144h20v4h-20zM236 148h4v4h-4zM300 148h4v4h-4zM352 148h4v4h-4zM392 148h4v4h-4zM444 148h32v4h-32zM624 148h4v4h-4zM248 152h4v4h-4zM296 152h4v4h-4zM352 152h4v4h-4zM376 152h8v4h-8zM476 152h12v4h-12zM508 152h12v4h-12zM292 156h4v4h-4zM528 156h8v4h-8zM620 156h4v4h-4zM252 160h4v4h-4zM288 160h4v4h-4zM540 160h4v4h-4zM620 160h4v4h-4zM252 164h4v4h-4zM284 164h4v4h-4zM548 164h8v4h-8zM252 168h4v4h-4zM276 168h8v4h-8zM560 168h8v4h-8zM700 168h4v4h-4zM252 172h4v4h-4zM272 172h4v4h-4zM572 172h12v4h-12zM616 172h4v4h-4zM704 172h4v4h-4zM268 176h8v4h-8zM584 176h16v4h-16zM612 176h8v4h-8zM248 180h4v4h-4zM264 180h8v4h-8zM596 180h24v4h-24zM708 180h4v4h-4zM188 184h12v4h-12zM248 184h4v4h-4zM260 184h8v4h-8zM704 184h8v4h-8zM184 188h4v4h-4zM196 188h4v4h-4zM244 188h4v4h-4zM260 188h8v4h-8zM696 188h16v4h-16zM196 192h4v4h-4zM240 192h4v4h-4zM260 192h4v4h-4zM696 192h8v4h-8zM196 196h4v4h-4zM236 196h4v4h-4zM260 196h4v4h-4zM696 196h4v4h-4zM756 196h4v4h-4zM232 200h4v4h-4zM260 200h4v4h-4zM696 200h4v4h-4zM260 204h4v4h-4zM228 208h4v4h-4zM260 208h4v4h-4zM700 212h4v4h-4zM192 216h4v4h-4zM256 216h4v4h-4zM700 216h4v4h-4zM220 220h4v4h-4zM256 220h4v4h-4zM768 220h4v4h-4zM252 228h4v4h-4zM772 232h4v4h-4zM772 236h4v4h-4zM204 240h4v4h-4zM248 240h4v4h-4zM200 244h4v4h-4zM776 244h4v4h-4zM184 248h4v4h-4zM700 248h4v4h-4zM772 248h8v4h-8zM196 252h4v4h-4zM700 252h4v4h-4zM772 252h8v4h-8zM700 256h4v4h-4zM768 256h12v4h-12zM248 260h4v4h-4zM696 260h8v4h-8zM752 260h28v4h-28zM180 264h4v4h-4zM188 264h4v4h-4zM248 264h4v4h-4zM696 264h8v4h-8zM748 264h28v4h-28zM696 268h8v4h-8zM744 268h12v4h-12zM184 272h4v4h-4zM252 272h4v4h-4zM696 272h8v4h-8zM740 272h12v4h-12zM176 276h4v4h-4zM184 276h4v4h-4zM256 276h4v4h-4zM696 276h12v4h-12zM732 276h16v4h-16zM184 280h4v4h-4zM256 280h4v4h-4zM700 280h12v4h-12zM728 280h16v4h-16zM184 284h4v4h-4zM260 284h4v4h-4zM700 284h16v4h-16zM720 284h20v4h-20zM184 288h4v4h-4zM260 288h4v4h-4zM704 288h32v4h-32zM184 292h4v4h-4zM264 292h4v4h-4zM704 292h28v4h-28zM184 296h4v4h-4zM264 296h4v4h-4zM708 296h20v4h-20zM168 300h4v4h-4zM184 300h4v4h-4zM264 300h4v4h-4zM708 300h12v4h-12zM264 304h4v4h-4zM264 308h4v4h-4zM228 312h8v4h-8zM692 312h12v4h-12zM164 316h4v4h-4zM220 316h4v4h-4zM236 316h4v4h-4zM684 316h4v4h-4zM700 316h8v4h-8zM212 320h4v4h-4zM240 320h4v4h-4zM264 320h4v4h-4zM680 320h4v4h-4zM704 320h4v4h-4zM240 324h4v4h-4zM264 324h4v4h-4zM676 324h4v4h-4zM704 324h4v4h-4zM188 328h4v4h-4zM244 328h4v4h-4zM264 328h4v4h-4zM676 328h4v4h-4zM704 328h4v4h-4zM244 332h4v4h-4zM268 332h4v4h-4zM676 332h4v4h-4zM704 332h4v4h-4zM244 336h4v4h-4zM272 336h4v4h-4zM676 336h4v4h-4zM708 336h4v4h-4zM244 340h4v4h-4zM676 340h4v4h-4zM708 340h4v4h-4zM244 344h4v4h-4zM708 344h4v4h-4zM160 348h4v4h-4zM244 348h4v4h-4zM160 352h4v4h-4zM244 352h4v4h-4zM244 356h4v4h-4zM272 356h4v4h-4zM712 356h4v4h-4zM244 360h4v4h-4zM712 360h4v4h-4zM240 364h8v4h-8zM712 364h4v4h-4zM240 368h8v4h-8zM268 368h4v4h-4zM240 372h12v4h-12zM268 372h4v4h-4zM236 376h16v4h-16zM268 376h4v4h-4zM228 380h24v4h-24zM268 380h4v4h-4zM224 384h32v4h-32zM268 384h4v4h-4zM220 388h4v4h-4zM236 388h20v4h-20zM268 388h4v4h-4zM160 392h4v4h-4zM216 392h4v4h-4zM236 392h24v4h-24zM268 392h4v4h-4zM160 396h4v4h-4zM240 396h32v4h-32zM160 400h4v4h-4zM240 400h8v4h-8zM252 400h20v4h-20zM160 404h4v4h-4zM240 404h8v4h-8zM256 404h16v4h-16zM712 404h4v4h-4zM160 408h4v4h-4zM240 408h8v4h-8zM260 408h8v4h-8zM712 408h4v4h-4zM156 412h4v4h-4zM244 412h4v4h-4zM208 416h4v4h-4zM244 416h4v4h-4zM208 420h4v4h-4zM244 420h4v4h-4zM144 424h4v4h-4zM152 424h4v4h-4zM208 424h4v4h-4zM244 424h4v4h-4zM708 424h4v4h-4zM152 428h4v4h-4zM208 428h4v4h-4zM244 428h4v4h-4zM148 432h8v4h-8zM208 432h4v4h-4zM244 432h4v4h-4zM704 432h4v4h-4zM164 436h4v4h-4zM172 436h4v4h-4zM680 436h4v4h-4zM704 436h4v4h-4zM176 440h4v4h-4zM212 440h4v4h-4zM240 440h4v4h-4zM680 440h4v4h-4zM700 440h4v4h-4zM164 444h4v4h-4zM212 444h4v4h-4zM240 444h4v4h-4zM680 444h4v4h-4zM700 444h4v4h-4zM216 448h4v4h-4zM236 448h4v4h-4zM684 448h4v4h-4zM692 448h8v4h-8zM220 452h4v4h-4zM232 452h8v4h-8zM684 452h12v4h-12zM708 452h12v4h-12zM224 456h8v4h-8zM704 456h4v4h-4zM720 456h4v4h-4zM188 460h4v4h-4zM700 460h4v4h-4zM720 460h4v4h-4zM172 464h4v4h-4zM192 464h4v4h-4zM696 464h8v4h-8zM196 468h4v4h-4zM696 468h4v4h-4zM200 472h4v4h-4zM696 472h4v4h-4zM692 476h4v4h-4zM176 480h4v4h-4zM204 480h4v4h-4zM692 480h4v4h-4zM176 484h4v4h-4zM688 484h4v4h-4zM720 484h4v4h-4zM176 488h4v4h-4zM688 488h4v4h-4zM720 488h4v4h-4zM212 492h4v4h-4zM684 492h4v4h-4zM180 496h4v4h-4zM684 496h4v4h-4zM716 496h4v4h-4zM184 500h4v4h-4zM216 500h4v4h-4zM680 500h8v4h-8zM716 500h4v4h-4zM680 504h4v4h-4zM712 504h4v4h-4zM220 508h4v4h-4zM676 508h8v4h-8zM196 512h4v4h-4zM676 512h4v4h-4zM708 512h4v4h-4zM672 516h4v4h-4zM200 520h4v4h-4zM228 520h4v4h-4zM668 520h8v4h-8zM704 520h4v4h-4zM664 524h8v4h-8zM232 528h4v4h-4zM660 528h8v4h-8zM700 528h4v4h-4zM656 532h8v4h-8zM236 536h4v4h-4zM656 536h4v4h-4zM696 536h4v4h-4zM204 540h4v4h-4zM240 540h4v4h-4zM652 540h4v4h-4zM204 544h4v4h-4zM240 544h4v4h-4zM648 544h4v4h-4zM692 544h4v4h-4zM208 548h4v4h-4zM644 548h4v4h-4zM208 552h4v4h-4zM244 552h4v4h-4zM640 552h4v4h-4zM688 552h4v4h-4zM244 556h4v4h-4zM636 556h4v4h-4zM684 556h4v4h-4zM240 560h8v4h-8zM632 560h8v4h-8zM216 564h4v4h-4zM240 564h8v4h-8zM632 564h4v4h-4zM244 568h4v4h-4zM628 568h4v4h-4zM220 572h4v4h-4zM380 572h8v4h-8zM624 572h8v4h-8zM224 576h4v4h-4zM368 576h32v4h-32zM624 576h4v4h-4zM664 576h4v4h-4zM360 580h52v4h-52zM624 580h4v4h-4zM660 580h4v4h-4zM348 584h72v4h-72zM620 584h8v4h-8zM652 584h4v4h-4zM232 588h4v4h-4zM324 588h100v4h-100zM620 588h12v4h-12zM644 588h8v4h-8zM716 588h4v4h-4zM724 588h4v4h-4zM236 592h4v4h-4zM316 592h68v4h-68zM400 592h28v4h-28zM624 592h20v4h-20zM724 592h4v4h-4zM240 596h4v4h-4zM272 596h4v4h-4zM312 596h60v4h-60zM404 596h28v4h-28zM704 596h4v4h-4zM720 596h4v4h-4zM244 600h4v4h-4zM276 600h4v4h-4zM308 600h24v4h-24zM408 600h24v4h-24zM308 604h16v4h-16zM412 604h24v4h-24zM252 608h4v4h-4zM308 608h12v4h-12zM416 608h24v4h-24zM688 608h4v4h-4zM712 608h4v4h-4zM256 612h4v4h-4zM292 612h4v4h-4zM308 612h12v4h-12zM416 612h28v4h-28zM708 612h4v4h-4zM260 616h4v4h-4zM300 616h4v4h-4zM308 616h12v4h-12zM424 616h24v4h-24zM676 616h4v4h-4zM304 620h16v4h-16zM428 620h28v4h-28zM312 624h8v4h-8zM436 624h36v4h-36zM532 624h32v4h-32zM664 624h4v4h-4zM276 628h4v4h-4zM316 628h8v4h-8zM444 628h128v4h-128zM280 632h4v4h-4zM324 632h4v4h-4zM464 632h16v4h-16zM552 632h24v4h-24zM684 632h4v4h-4zM328 636h4v4h-4zM336 636h4v4h-4zM560 636h16v4h-16zM292 640h4v4h-4zM328 640h4v4h-4zM560 640h16v4h-16zM300 644h4v4h-4zM560 644h16v4h-16zM308 648h4v4h-4zM560 648h16v4h-16zM616 648h4v4h-4zM316 652h4v4h-4zM328 652h4v4h-4zM376 652h4v4h-4zM556 652h20v4h-20zM324 656h4v4h-4zM552 656h20v4h-20zM596 656h4v4h-4zM408 660h4v4h-4zM544 660h24v4h-24zM584 660h4v4h-4zM432 664h8v4h-8zM532 664h48v4h-48zM460 668h12v4h-12zM504 668h24v4h-24zM552 668h16v4h-16zM476 672h16v4h-16zM552 672h8v4h-8zM616 672h4v4h-4zM548 676h4v4h-4zM544 680h4v4h-4zM596 680h4v4h-4zM540 684h8v4h-8zM580 684h8v4h-8zM540 688h28v4h-28z"/>
<path fill="#92ff15" d="M444 32h48v4h-48zM436 36h4v4h-4zM496 36h4v4h-4zM504 44h4v4h-4zM520 52h4v4h-4zM404 56h4v4h-4zM528 56h8v4h-8zM528 60h12v4h-12zM384 64h4v4h-4zM528 64h12v4h-12zM380 68h8v4h-8zM528 68h12v4h-12zM388 72h4v4h-4zM528 72h12v4h-12zM400 76h44v4h-44zM528 76h8v4h-8zM416 80h32v4h-32zM528 80h8v4h-8zM424 84h20v4h-20zM528 84h8v4h-8zM420 88h24v4h-24zM532 88h4v4h-4zM420 92h20v4h-20zM532 92h4v4h-4zM592 92h44v4h-44zM416 96h20v4h-20zM532 96h8v4h-8zM584 96h16v4h-16zM604 96h40v4h-40zM412 100h20v4h-20zM536 100h4v4h-4zM580 100h8v4h-8zM648 100h4v4h-4zM268 104h4v4h-4zM404 104h24v4h-24zM540 104h4v4h-4zM580 104h4v4h-4zM260 108h4v4h-4zM284 108h4v4h-4zM396 108h12v4h-12zM548 108h4v4h-4zM572 108h8v4h-8zM664 108h4v4h-4zM256 112h4v4h-4zM284 112h4v4h-4zM388 112h8v4h-8zM556 112h20v4h-20zM676 112h4v4h-4zM252 116h4v4h-4zM284 116h16v4h-16zM312 116h4v4h-4zM380 116h4v4h-4zM644 116h4v4h-4zM248 120h4v4h-4zM280 120h8v4h-8zM372 120h4v4h-4zM644 120h12v4h-12zM244 124h4v4h-4zM368 124h4v4h-4zM644 124h8v4h-8zM656 124h4v4h-4zM240 128h4v4h-4zM312 128h4v4h-4zM360 128h4v4h-4zM644 128h8v4h-8zM312 132h4v4h-4zM428 132h24v4h-24zM644 132h4v4h-4zM668 132h4v4h-4zM236 136h4v4h-4zM308 136h4v4h-4zM356 136h4v4h-4zM416 136h44v4h-44zM640 136h4v4h-4zM672 136h4v4h-4zM260 140h4v4h-4zM304 140h4v4h-4zM408 140h4v4h-4zM444 140h28v4h-28zM632 140h4v4h-4zM676 140h4v4h-4zM236 144h4v4h-4zM252 144h8v4h-8zM352 144h4v4h-4zM396 144h4v4h-4zM456 144h28v4h-28zM628 144h4v4h-4zM680 144h4v4h-4zM240 148h20v4h-20zM384 148h8v4h-8zM476 148h36v4h-36zM684 148h4v4h-4zM252 152h4v4h-4zM292 152h4v4h-4zM356 152h20v4h-20zM520 152h8v4h-8zM620 152h4v4h-4zM688 152h4v4h-4zM252 156h4v4h-4zM288 156h4v4h-4zM536 156h4v4h-4zM692 156h4v4h-4zM284 160h4v4h-4zM544 160h8v4h-8zM616 160h4v4h-4zM696 160h4v4h-4zM280 164h4v4h-4zM556 164h12v4h-12zM616 164h4v4h-4zM272 168h4v4h-4zM568 168h12v4h-12zM616 168h4v4h-4zM256 172h4v4h-4zM264 172h8v4h-8zM584 172h32v4h-32zM252 176h16v4h-16zM600 176h12v4h-12zM708 176h4v4h-4zM252 180h12v4h-12zM252 184h8v4h-8zM712 184h4v4h-4zM748 184h4v4h-4zM188 188h8v4h-8zM248 188h12v4h-12zM712 188h4v4h-4zM184 192h4v4h-4zM192 192h4v4h-4zM244 192h16v4h-16zM704 192h12v4h-12zM180 196h4v4h-4zM240 196h4v4h-4zM256 196h4v4h-4zM700 196h8v4h-8zM236 200h4v4h-4zM700 200h4v4h-4zM232 204h4v4h-4zM700 204h4v4h-4zM760 204h4v4h-4zM700 208h4v4h-4zM192 212h4v4h-4zM228 212h4v4h-4zM256 212h4v4h-4zM764 212h4v4h-4zM224 216h4v4h-4zM220 224h4v4h-4zM252 224h4v4h-4zM768 224h4v4h-4zM216 228h4v4h-4zM768 228h4v4h-4zM188 232h4v4h-4zM212 232h4v4h-4zM704 232h4v4h-4zM208 236h4v4h-4zM248 236h4v4h-4zM704 236h4v4h-4zM704 240h4v4h-4zM768 240h8v4h-8zM704 244h4v4h-4zM768 244h8v4h-8zM200 248h4v4h-4zM244 248h4v4h-4zM704 248h4v4h-4zM764 248h8v4h-8zM244 252h4v4h-4zM704 252h8v4h-8zM752 252h20v4h-20zM244 256h4v4h-4zM704 256h8v4h-8zM748 256h20v4h-20zM180 260h4v4h-4zM192 260h4v4h-4zM704 260h12v4h-12zM744 260h8v4h-8zM704 264h16v4h-16zM736 264h12v4h-12zM188 268h4v4h-4zM248 268h4v4h-4zM704 268h40v4h-40zM248 272h4v4h-4zM704 272h36v4h-36zM252 276h4v4h-4zM708 276h24v4h-24zM252 280h4v4h-4zM712 280h16v4h-16zM256 284h4v4h-4zM716 284h4v4h-4zM256 288h4v4h-4zM256 292h8v4h-8zM260 296h4v4h-4zM260 300h4v4h-4zM256 304h8v4h-8zM232 308h8v4h-8zM256 308h8v4h-8zM224 312h4v4h-4zM236 312h12v4h-12zM256 312h8v4h-8zM216 316h4v4h-4zM240 316h24v4h-24zM688 316h12v4h-12zM244 320h20v4h-20zM696 320h8v4h-8zM188 324h4v4h-4zM204 324h4v4h-4zM244 324h20v4h-20zM700 324h4v4h-4zM192 328h8v4h-8zM248 328h16v4h-16zM700 328h4v4h-4zM248 332h8v4h-8zM264 332h4v4h-4zM248 336h8v4h-8zM268 336h4v4h-4zM704 336h4v4h-4zM248 340h4v4h-4zM272 340h4v4h-4zM704 340h4v4h-4zM160 344h4v4h-4zM248 344h4v4h-4zM248 348h4v4h-4zM708 348h4v4h-4zM248 352h4v4h-4zM708 352h4v4h-4zM248 356h4v4h-4zM248 360h8v4h-8zM268 360h4v4h-4zM248 364h8v4h-8zM268 364h4v4h-4zM248 368h12v4h-12zM264 368h4v4h-4zM712 368h4v4h-4zM252 372h8v4h-8zM264 372h4v4h-4zM712 372h4v4h-4zM252 376h16v4h-16zM712 376h4v4h-4zM252 380h16v4h-16zM256 384h12v4h-12zM224 388h12v4h-12zM256 388h12v4h-12zM232 392h4v4h-4zM260 392h8v4h-8zM216 396h4v4h-4zM236 396h4v4h-4zM712 396h4v4h-4zM236 400h4v4h-4zM712 400h4v4h-4zM212 404h4v4h-4zM236 404h4v4h-4zM212 408h4v4h-4zM240 412h4v4h-4zM240 416h4v4h-4zM708 416h4v4h-4zM144 420h4v4h-4zM152 420h4v4h-4zM240 420h4v4h-4zM708 420h4v4h-4zM240 424h4v4h-4zM680 424h4v4h-4zM148 428h4v4h-4zM240 428h4v4h-4zM680 428h4v4h-4zM704 428h4v4h-4zM240 432h4v4h-4zM680 432h4v4h-4zM168 436h4v4h-4zM212 436h4v4h-4zM240 436h4v4h-4zM700 436h4v4h-4zM164 440h4v4h-4zM696 440h4v4h-4zM216 444h4v4h-4zM236 444h4v4h-4zM684 444h4v4h-4zM692 444h8v4h-8zM180 448h4v4h-4zM220 448h4v4h-4zM232 448h4v4h-4zM688 448h4v4h-4zM224 452h8v4h-8zM168 456h4v4h-4zM184 456h4v4h-4zM708 456h12v4h-12zM704 460h8v4h-8zM704 464h4v4h-4zM720 464h4v4h-4zM700 468h4v4h-4zM720 468h4v4h-4zM720 472h4v4h-4zM176 476h4v4h-4zM200 476h4v4h-4zM696 476h4v4h-4zM720 476h4v4h-4zM720 480h4v4h-4zM692 484h4v4h-4zM208 488h4v4h-4zM692 488h4v4h-4zM716 488h4v4h-4zM688 492h4v4h-4zM716 492h4v4h-4zM212 496h4v4h-4zM688 496h4v4h-4zM712 496h4v4h-4zM688 500h4v4h-4zM712 500h4v4h-4zM684 504h4v4h-4zM708 504h4v4h-4zM684 508h4v4h-4zM708 508h4v4h-4zM680 512h8v4h-8zM704 512h4v4h-4zM224 516h4v4h-4zM676 516h8v4h-8zM700 516h8v4h-8zM676 520h4v4h-4zM700 520h4v4h-4zM228 524h4v4h-4zM672 524h4v4h-4zM700 524h4v4h-4zM668 528h4v4h-4zM696 528h4v4h-4zM204 532h4v4h-4zM664 532h4v4h-4zM696 532h4v4h-4zM204 536h4v4h-4zM660 536h4v4h-4zM236 540h4v4h-4zM656 540h4v4h-4zM692 540h4v4h-4zM208 544h4v4h-4zM652 544h4v4h-4zM240 548h4v4h-4zM648 548h4v4h-4zM688 548h4v4h-4zM240 552h4v4h-4zM644 552h4v4h-4zM212 556h4v4h-4zM236 556h8v4h-8zM640 556h4v4h-4zM236 560h4v4h-4zM640 560h4v4h-4zM680 560h4v4h-4zM636 564h4v4h-4zM676 564h4v4h-4zM220 568h4v4h-4zM240 568h4v4h-4zM632 568h4v4h-4zM672 568h4v4h-4zM244 572h4v4h-4zM632 572h4v4h-4zM668 572h4v4h-4zM248 576h4v4h-4zM628 576h4v4h-4zM228 580h4v4h-4zM252 580h4v4h-4zM628 580h4v4h-4zM656 580h4v4h-4zM256 584h4v4h-4zM628 584h8v4h-8zM648 584h4v4h-4zM260 588h4v4h-4zM632 588h12v4h-12zM720 588h4v4h-4zM384 592h16v4h-16zM712 592h4v4h-4zM720 592h4v4h-4zM372 596h32v4h-32zM332 600h76v4h-76zM700 600h4v4h-4zM716 600h4v4h-4zM248 604h4v4h-4zM280 604h4v4h-4zM324 604h88v4h-88zM284 608h4v4h-4zM320 608h96v4h-96zM320 612h12v4h-12zM360 612h56v4h-56zM296 616h4v4h-4zM320 616h8v4h-8zM380 616h44v4h-44zM300 620h4v4h-4zM320 620h8v4h-8zM392 620h36v4h-36zM672 620h4v4h-4zM272 624h4v4h-4zM308 624h4v4h-4zM320 624h8v4h-8zM404 624h32v4h-32zM312 628h4v4h-4zM324 628h8v4h-8zM412 628h32v4h-32zM688 628h4v4h-4zM320 632h4v4h-4zM328 632h8v4h-8zM420 632h44v4h-44zM480 632h72v4h-72zM652 632h4v4h-4zM288 636h4v4h-4zM324 636h4v4h-4zM428 636h60v4h-60zM540 636h20v4h-20zM644 636h4v4h-4zM296 640h4v4h-4zM348 640h4v4h-4zM436 640h36v4h-36zM548 640h12v4h-12zM636 640h4v4h-4zM672 640h4v4h-4zM328 644h4v4h-4zM356 644h4v4h-4zM548 644h12v4h-12zM628 644h4v4h-4zM328 648h4v4h-4zM548 648h12v4h-12zM660 648h4v4h-4zM320 652h8v4h-8zM544 652h12v4h-12zM608 652h4v4h-4zM652 652h4v4h-4zM392 656h4v4h-4zM536 656h16v4h-16zM600 656h4v4h-4zM412 660h56v4h-56zM528 660h16v4h-16zM588 660h4v4h-4zM640 660h4v4h-4zM440 664h48v4h-48zM508 664h24v4h-24zM580 664h4v4h-4zM632 664h4v4h-4zM472 668h32v4h-32zM568 668h4v4h-4zM624 668h4v4h-4zM560 672h4v4h-4zM552 676h4v4h-4zM604 676h4v4h-4zM548 680h4v4h-4zM592 680h4v4h-4zM548 684h8v4h-8zM572 684h8v4h-8z"/>
<path fill="#b1ff18" d="M440 36h8v4h-8zM488 36h8v4h-8zM432 40h4v4h-4zM500 40h4v4h-4zM428 44h4v4h-4zM508 48h4v4h-4zM416 52h4v4h-4zM516 52h4v4h-4zM520 56h8v4h-8zM520 60h8v4h-8zM516 64h12v4h-12zM388 68h4v4h-4zM516 68h12v4h-12zM392 72h8v4h-8zM428 72h40v4h-40zM516 72h12v4h-12zM444 76h24v4h-24zM520 76h8v4h-8zM448 80h16v4h-16zM520 80h8v4h-8zM444 84h20v4h-20zM524 84h4v4h-4zM444 88h16v4h-16zM524 88h8v4h-8zM440 92h20v4h-20zM524 92h8v4h-8zM436 96h20v4h-20zM528 96h4v4h-4zM600 96h4v4h-4zM432 100h24v4h-24zM528 100h8v4h-8zM588 100h12v4h-12zM608 100h40v4h-40zM272 104h12v4h-12zM428 104h28v4h-28zM532 104h8v4h-8zM584 104h8v4h-8zM624 104h20v4h-20zM652 104h4v4h-4zM264 108h4v4h-4zM280 108h4v4h-4zM408 108h44v4h-44zM540 108h8v4h-8zM580 108h8v4h-8zM628 108h20v4h-20zM280 112h4v4h-4zM396 112h8v4h-8zM428 112h24v4h-24zM552 112h4v4h-4zM576 112h8v4h-8zM632 112h20v4h-20zM280 116h4v4h-4zM300 116h12v4h-12zM384 116h4v4h-4zM436 116h20v4h-20zM564 116h16v4h-16zM636 116h8v4h-8zM648 116h8v4h-8zM276 120h4v4h-4zM288 120h4v4h-4zM312 120h4v4h-4zM376 120h4v4h-4zM436 120h20v4h-20zM640 120h4v4h-4zM656 120h4v4h-4zM272 124h12v4h-12zM312 124h4v4h-4zM432 124h28v4h-28zM640 124h4v4h-4zM660 124h4v4h-4zM692 124h4v4h-4zM244 128h4v4h-4zM268 128h12v4h-12zM364 128h4v4h-4zM428 128h36v4h-36zM640 128h4v4h-4zM664 128h4v4h-4zM240 132h4v4h-4zM264 132h12v4h-12zM308 132h4v4h-4zM360 132h4v4h-4zM420 132h8v4h-8zM452 132h20v4h-20zM640 132h4v4h-4zM260 136h12v4h-12zM412 136h4v4h-4zM460 136h20v4h-20zM636 136h4v4h-4zM236 140h4v4h-4zM256 140h4v4h-4zM264 140h4v4h-4zM356 140h4v4h-4zM404 140h4v4h-4zM472 140h16v4h-16zM628 140h4v4h-4zM240 144h12v4h-12zM260 144h4v4h-4zM300 144h4v4h-4zM356 144h4v4h-4zM392 144h4v4h-4zM484 144h20v4h-20zM620 144h8v4h-8zM260 148h4v4h-4zM296 148h4v4h-4zM356 148h4v4h-4zM380 148h4v4h-4zM512 148h8v4h-8zM616 148h8v4h-8zM256 152h4v4h-4zM528 152h8v4h-8zM616 152h4v4h-4zM720 152h4v4h-4zM256 156h4v4h-4zM540 156h8v4h-8zM612 156h8v4h-8zM256 160h4v4h-4zM280 160h4v4h-4zM552 160h8v4h-8zM612 160h4v4h-4zM256 164h4v4h-4zM276 164h4v4h-4zM568 164h8v4h-8zM608 164h8v4h-8zM700 164h4v4h-4zM256 168h16v4h-16zM580 168h36v4h-36zM704 168h4v4h-4zM260 172h4v4h-4zM740 176h4v4h-4zM712 180h4v4h-4zM744 180h4v4h-4zM716 188h4v4h-4zM188 192h4v4h-4zM716 192h4v4h-4zM192 196h4v4h-4zM244 196h12v4h-12zM708 196h12v4h-12zM192 200h4v4h-4zM240 200h8v4h-8zM252 200h8v4h-8zM704 200h8v4h-8zM176 204h4v4h-4zM192 204h4v4h-4zM236 204h4v4h-4zM256 204h4v4h-4zM704 204h4v4h-4zM192 208h4v4h-4zM232 208h4v4h-4zM256 208h4v4h-4zM760 208h4v4h-4zM228 216h4v4h-4zM704 216h4v4h-4zM764 216h4v4h-4zM224 220h4v4h-4zM252 220h4v4h-4zM704 220h4v4h-4zM764 220h4v4h-4zM224 224h4v4h-4zM704 224h4v4h-4zM220 228h4v4h-4zM704 228h4v4h-4zM216 232h4v4h-4zM248 232h4v4h-4zM768 232h4v4h-4zM212 236h4v4h-4zM764 236h8v4h-8zM208 240h4v4h-4zM244 240h4v4h-4zM708 240h4v4h-4zM764 240h4v4h-4zM184 244h4v4h-4zM204 244h4v4h-4zM244 244h4v4h-4zM708 244h4v4h-4zM752 244h16v4h-16zM708 248h8v4h-8zM748 248h16v4h-16zM712 252h8v4h-8zM744 252h8v4h-8zM196 256h4v4h-4zM712 256h12v4h-12zM740 256h8v4h-8zM244 260h4v4h-4zM716 260h28v4h-28zM244 264h4v4h-4zM720 264h16v4h-16zM244 268h4v4h-4zM176 272h4v4h-4zM248 276h4v4h-4zM248 280h4v4h-4zM172 284h4v4h-4zM248 284h8v4h-8zM252 288h4v4h-4zM252 292h4v4h-4zM168 296h4v4h-4zM252 296h8v4h-8zM244 300h16v4h-16zM232 304h24v4h-24zM228 308h4v4h-4zM240 308h16v4h-16zM220 312h4v4h-4zM248 312h8v4h-8zM208 320h4v4h-4zM684 320h12v4h-12zM200 324h4v4h-4zM680 324h4v4h-4zM696 324h4v4h-4zM680 328h4v4h-4zM696 328h4v4h-4zM256 332h8v4h-8zM680 332h4v4h-4zM700 332h4v4h-4zM256 336h12v4h-12zM680 336h4v4h-4zM700 336h4v4h-4zM160 340h4v4h-4zM252 340h8v4h-8zM680 340h4v4h-4zM252 344h4v4h-4zM272 344h4v4h-4zM680 344h4v4h-4zM704 344h4v4h-4zM252 348h4v4h-4zM272 348h4v4h-4zM680 348h4v4h-4zM704 348h4v4h-4zM252 352h4v4h-4zM272 352h4v4h-4zM680 352h4v4h-4zM252 356h8v4h-8zM268 356h4v4h-4zM680 356h4v4h-4zM708 356h4v4h-4zM256 360h12v4h-12zM680 360h4v4h-4zM708 360h4v4h-4zM256 364h12v4h-12zM680 364h4v4h-4zM260 368h4v4h-4zM680 368h4v4h-4zM260 372h4v4h-4zM680 372h4v4h-4zM712 380h4v4h-4zM712 384h4v4h-4zM712 388h4v4h-4zM220 392h12v4h-12zM712 392h4v4h-4zM232 396h4v4h-4zM216 400h4v4h-4zM232 400h4v4h-4zM236 408h4v4h-4zM680 408h4v4h-4zM212 412h4v4h-4zM236 412h4v4h-4zM680 412h4v4h-4zM708 412h4v4h-4zM144 416h4v4h-4zM152 416h4v4h-4zM212 416h4v4h-4zM236 416h4v4h-4zM680 416h4v4h-4zM212 420h4v4h-4zM236 420h4v4h-4zM680 420h4v4h-4zM148 424h4v4h-4zM212 424h4v4h-4zM236 424h4v4h-4zM704 424h4v4h-4zM212 428h4v4h-4zM236 428h4v4h-4zM212 432h4v4h-4zM236 432h4v4h-4zM700 432h4v4h-4zM236 436h4v4h-4zM216 440h4v4h-4zM236 440h4v4h-4zM684 440h4v4h-4zM692 440h4v4h-4zM176 444h4v4h-4zM220 444h4v4h-4zM232 444h4v4h-4zM688 444h4v4h-4zM224 448h8v4h-8zM184 460h4v4h-4zM712 460h8v4h-8zM188 464h4v4h-4zM708 464h4v4h-4zM716 464h4v4h-4zM192 468h4v4h-4zM704 468h4v4h-4zM176 472h4v4h-4zM196 472h4v4h-4zM700 472h4v4h-4zM700 476h4v4h-4zM696 480h4v4h-4zM716 480h4v4h-4zM204 484h4v4h-4zM696 484h4v4h-4zM716 484h4v4h-4zM696 488h4v4h-4zM180 492h4v4h-4zM208 492h4v4h-4zM692 492h4v4h-4zM712 492h4v4h-4zM692 496h4v4h-4zM708 496h4v4h-4zM692 500h4v4h-4zM708 500h4v4h-4zM216 504h4v4h-4zM688 504h8v4h-8zM704 504h4v4h-4zM688 508h20v4h-20zM220 512h4v4h-4zM688 512h16v4h-16zM684 516h16v4h-16zM680 520h8v4h-8zM692 520h8v4h-8zM676 524h8v4h-8zM692 524h8v4h-8zM204 528h4v4h-4zM672 528h8v4h-8zM692 528h4v4h-4zM232 532h4v4h-4zM668 532h4v4h-4zM692 532h4v4h-4zM208 536h4v4h-4zM664 536h4v4h-4zM692 536h4v4h-4zM208 540h4v4h-4zM660 540h4v4h-4zM212 544h4v4h-4zM236 544h4v4h-4zM656 544h4v4h-4zM688 544h4v4h-4zM212 548h4v4h-4zM236 548h4v4h-4zM652 548h4v4h-4zM212 552h4v4h-4zM232 552h8v4h-8zM648 552h4v4h-4zM684 552h4v4h-4zM232 556h4v4h-4zM644 556h4v4h-4zM680 556h4v4h-4zM216 560h4v4h-4zM232 560h4v4h-4zM236 564h4v4h-4zM640 564h4v4h-4zM636 568h4v4h-4zM636 572h4v4h-4zM664 572h4v4h-4zM632 576h8v4h-8zM660 576h4v4h-4zM632 580h8v4h-8zM652 580h4v4h-4zM232 584h4v4h-4zM636 584h12v4h-12zM264 592h4v4h-4zM716 592h4v4h-4zM268 596h4v4h-4zM716 596h4v4h-4zM712 604h4v4h-4zM708 608h4v4h-4zM288 612h4v4h-4zM332 612h28v4h-28zM684 612h4v4h-4zM328 616h52v4h-52zM268 620h4v4h-4zM328 620h8v4h-8zM368 620h24v4h-24zM696 620h4v4h-4zM304 624h4v4h-4zM328 624h8v4h-8zM380 624h24v4h-24zM692 624h4v4h-4zM332 628h4v4h-4zM392 628h20v4h-20zM660 628h4v4h-4zM284 632h4v4h-4zM316 632h4v4h-4zM336 632h4v4h-4zM400 632h20v4h-20zM340 636h4v4h-4zM408 636h20v4h-20zM488 636h20v4h-20zM524 636h16v4h-16zM676 636h4v4h-4zM412 640h24v4h-24zM472 640h16v4h-16zM536 640h12v4h-12zM304 644h4v4h-4zM416 644h64v4h-64zM540 644h8v4h-8zM664 644h4v4h-4zM312 648h4v4h-4zM420 648h56v4h-56zM536 648h12v4h-12zM620 648h4v4h-4zM420 652h56v4h-56zM532 652h12v4h-12zM396 656h4v4h-4zM416 656h64v4h-64zM528 656h8v4h-8zM644 656h4v4h-4zM468 660h24v4h-24zM512 660h16v4h-16zM592 660h4v4h-4zM488 664h20v4h-20zM584 664h4v4h-4zM572 668h4v4h-4zM564 672h4v4h-4zM612 672h4v4h-4zM556 676h4v4h-4zM552 680h4v4h-4zM588 680h4v4h-4zM556 684h16v4h-16z"/>
<path fill="#d0ff1b" d="M448 36h40v4h-40zM436 40h4v4h-4zM496 40h4v4h-4zM500 44h4v4h-4zM424 48h4v4h-4zM504 48h4v4h-4zM512 52h4v4h-4zM512 56h8v4h-8zM512 60h8v4h-8zM388 64h4v4h-4zM508 64h8v4h-8zM392 68h4v4h-4zM440 68h40v4h-40zM504 68h12v4h-12zM400 72h28v4h-28zM468 72h12v4h-12zM508 72h8v4h-8zM468 76h12v4h-12zM512 76h8v4h-8zM464 80h12v4h-12zM512 80h8v4h-8zM464 84h12v4h-12zM516 84h8v4h-8zM460 88h12v4h-12zM516 88h8v4h-8zM460 92h12v4h-12zM516 92h8v4h-8zM456 96h16v4h-16zM520 96h8v4h-8zM456 100h12v4h-12zM520 100h8v4h-8zM600 100h8v4h-8zM456 104h12v4h-12zM524 104h8v4h-8zM592 104h8v4h-8zM612 104h12v4h-12zM644 104h8v4h-8zM268 108h4v4h-4zM452 108h16v4h-16zM532 108h8v4h-8zM588 108h8v4h-8zM624 108h4v4h-4zM648 108h8v4h-8zM660 108h4v4h-4zM260 112h4v4h-4zM404 112h24v4h-24zM452 112h16v4h-16zM544 112h8v4h-8zM584 112h8v4h-8zM628 112h4v4h-4zM652 112h4v4h-4zM668 112h8v4h-8zM256 116h4v4h-4zM276 116h4v4h-4zM388 116h8v4h-8zM420 116h16v4h-16zM456 116h16v4h-16zM556 116h8v4h-8zM580 116h12v4h-12zM632 116h4v4h-4zM656 116h4v4h-4zM252 120h4v4h-4zM292 120h8v4h-8zM304 120h8v4h-8zM380 120h4v4h-4zM424 120h12v4h-12zM456 120h16v4h-16zM568 120h20v4h-20zM636 120h4v4h-4zM660 120h4v4h-4zM248 124h4v4h-4zM284 124h4v4h-4zM308 124h4v4h-4zM372 124h4v4h-4zM424 124h8v4h-8zM460 124h16v4h-16zM636 124h4v4h-4zM664 124h4v4h-4zM280 128h4v4h-4zM308 128h4v4h-4zM368 128h4v4h-4zM420 128h8v4h-8zM464 128h12v4h-12zM668 128h4v4h-4zM696 128h4v4h-4zM364 132h4v4h-4zM416 132h4v4h-4zM472 132h12v4h-12zM636 132h4v4h-4zM672 132h4v4h-4zM240 136h4v4h-4zM256 136h4v4h-4zM304 136h4v4h-4zM360 136h4v4h-4zM408 136h4v4h-4zM480 136h12v4h-12zM632 136h4v4h-4zM676 136h4v4h-4zM240 140h4v4h-4zM248 140h8v4h-8zM300 140h4v4h-4zM360 140h4v4h-4zM400 140h4v4h-4zM488 140h12v4h-12zM612 140h16v4h-16zM680 140h4v4h-4zM264 144h4v4h-4zM360 144h4v4h-4zM504 144h12v4h-12zM608 144h12v4h-12zM292 148h4v4h-4zM360 148h20v4h-20zM520 148h8v4h-8zM608 148h8v4h-8zM716 148h4v4h-4zM260 152h4v4h-4zM288 152h4v4h-4zM536 152h8v4h-8zM608 152h8v4h-8zM284 156h4v4h-4zM548 156h8v4h-8zM608 156h4v4h-4zM276 160h4v4h-4zM560 160h12v4h-12zM604 160h8v4h-8zM260 164h4v4h-4zM268 164h8v4h-8zM576 164h32v4h-32zM708 172h4v4h-4zM716 184h4v4h-4zM720 192h4v4h-4zM752 192h4v4h-4zM184 196h8v4h-8zM720 196h4v4h-4zM180 200h4v4h-4zM248 200h4v4h-4zM712 200h8v4h-8zM756 200h4v4h-4zM240 204h16v4h-16zM708 204h4v4h-4zM236 208h4v4h-4zM252 208h4v4h-4zM704 208h4v4h-4zM232 212h4v4h-4zM252 212h4v4h-4zM704 212h4v4h-4zM760 212h4v4h-4zM232 216h4v4h-4zM252 216h4v4h-4zM228 220h4v4h-4zM764 224h4v4h-4zM224 228h4v4h-4zM248 228h4v4h-4zM764 228h4v4h-4zM220 232h4v4h-4zM708 232h4v4h-4zM760 232h8v4h-8zM216 236h4v4h-4zM244 236h4v4h-4zM708 236h4v4h-4zM760 236h4v4h-4zM212 240h4v4h-4zM712 240h4v4h-4zM748 240h16v4h-16zM208 244h4v4h-4zM712 244h4v4h-4zM744 244h8v4h-8zM204 248h4v4h-4zM240 248h4v4h-4zM716 248h4v4h-4zM744 248h4v4h-4zM200 252h4v4h-4zM240 252h4v4h-4zM720 252h12v4h-12zM736 252h8v4h-8zM180 256h4v4h-4zM240 256h4v4h-4zM724 256h16v4h-16zM240 260h4v4h-4zM192 264h4v4h-4zM240 264h4v4h-4zM188 272h4v4h-4zM244 272h4v4h-4zM244 276h4v4h-4zM244 280h4v4h-4zM244 284h4v4h-4zM244 288h8v4h-8zM240 292h12v4h-12zM240 296h12v4h-12zM232 300h12v4h-12zM228 304h4v4h-4zM224 308h4v4h-4zM164 312h4v4h-4zM216 312h4v4h-4zM212 316h4v4h-4zM188 320h4v4h-4zM204 320h4v4h-4zM192 324h8v4h-8zM684 324h12v4h-12zM692 328h4v4h-4zM696 332h4v4h-4zM160 336h4v4h-4zM260 340h12v4h-12zM700 340h4v4h-4zM256 344h8v4h-8zM700 344h4v4h-4zM256 348h4v4h-4zM256 352h8v4h-8zM268 352h4v4h-4zM704 352h4v4h-4zM260 356h8v4h-8zM708 364h4v4h-4zM708 368h4v4h-4zM680 376h4v4h-4zM680 380h4v4h-4zM680 384h4v4h-4zM680 388h4v4h-4zM680 392h4v4h-4zM220 396h12v4h-12zM680 396h4v4h-4zM140 400h4v4h-4zM228 400h4v4h-4zM680 400h4v4h-4zM216 404h4v4h-4zM232 404h4v4h-4zM680 404h4v4h-4zM156 408h4v4h-4zM232 408h4v4h-4zM708 408h4v4h-4zM144 412h4v4h-4zM148 420h4v4h-4zM704 420h4v4h-4zM700 428h4v4h-4zM216 432h4v4h-4zM684 432h4v4h-4zM216 436h4v4h-4zM232 436h4v4h-4zM684 436h4v4h-4zM696 436h4v4h-4zM168 440h8v4h-8zM220 440h4v4h-4zM232 440h4v4h-4zM688 440h4v4h-4zM224 444h8v4h-8zM168 452h4v4h-4zM180 452h4v4h-4zM712 464h4v4h-4zM708 468h12v4h-12zM704 472h4v4h-4zM716 472h4v4h-4zM704 476h4v4h-4zM716 476h4v4h-4zM200 480h4v4h-4zM700 480h4v4h-4zM700 484h4v4h-4zM712 484h4v4h-4zM180 488h4v4h-4zM204 488h4v4h-4zM700 488h4v4h-4zM712 488h4v4h-4zM696 492h8v4h-8zM708 492h4v4h-4zM184 496h4v4h-4zM696 496h12v4h-12zM188 500h4v4h-4zM212 500h4v4h-4zM696 500h12v4h-12zM192 504h4v4h-4zM696 504h8v4h-8zM216 508h4v4h-4zM200 516h4v4h-4zM224 520h4v4h-4zM688 520h4v4h-4zM684 524h8v4h-8zM228 528h4v4h-4zM680 528h12v4h-12zM208 532h4v4h-4zM672 532h8v4h-8zM688 532h4v4h-4zM232 536h4v4h-4zM668 536h4v4h-4zM688 536h4v4h-4zM212 540h4v4h-4zM232 540h4v4h-4zM664 540h4v4h-4zM688 540h4v4h-4zM216 544h4v4h-4zM232 544h4v4h-4zM660 544h4v4h-4zM216 548h20v4h-20zM656 548h4v4h-4zM684 548h4v4h-4zM216 552h4v4h-4zM224 552h8v4h-8zM652 552h4v4h-4zM680 552h4v4h-4zM216 556h4v4h-4zM228 556h4v4h-4zM648 556h4v4h-4zM644 560h4v4h-4zM676 560h4v4h-4zM220 564h4v4h-4zM644 564h4v4h-4zM672 564h4v4h-4zM640 568h4v4h-4zM668 568h4v4h-4zM224 572h4v4h-4zM640 572h4v4h-4zM660 572h4v4h-4zM640 576h4v4h-4zM652 576h8v4h-8zM640 580h12v4h-12zM236 588h4v4h-4zM708 596h4v4h-4zM272 600h4v4h-4zM696 604h4v4h-4zM704 612h4v4h-4zM264 616h4v4h-4zM292 616h4v4h-4zM680 616h4v4h-4zM700 616h4v4h-4zM336 620h32v4h-32zM336 624h4v4h-4zM368 624h12v4h-12zM668 624h4v4h-4zM308 628h4v4h-4zM336 628h4v4h-4zM380 628h12v4h-12zM340 632h4v4h-4zM392 632h8v4h-8zM680 632h4v4h-4zM292 636h4v4h-4zM320 636h4v4h-4zM344 636h4v4h-4zM400 636h8v4h-8zM508 636h16v4h-16zM324 640h4v4h-4zM404 640h8v4h-8zM488 640h12v4h-12zM524 640h12v4h-12zM668 640h4v4h-4zM408 644h8v4h-8zM480 644h8v4h-8zM532 644h8v4h-8zM316 648h4v4h-4zM324 648h4v4h-4zM368 648h4v4h-4zM412 648h8v4h-8zM476 648h8v4h-8zM528 648h8v4h-8zM656 648h4v4h-4zM380 652h4v4h-4zM412 652h8v4h-8zM476 652h12v4h-12zM524 652h8v4h-8zM612 652h4v4h-4zM400 656h16v4h-16zM480 656h16v4h-16zM516 656h12v4h-12zM604 656h4v4h-4zM492 660h20v4h-20zM636 660h4v4h-4zM628 664h4v4h-4zM576 668h4v4h-4zM620 668h4v4h-4zM568 672h4v4h-4zM560 676h4v4h-4zM600 676h4v4h-4zM556 680h8v4h-8zM584 680h4v4h-4z"/>
<path fill="#edfe1d" d="M440 40h4v4h-4zM488 40h8v4h-8zM432 44h4v4h-4zM496 44h4v4h-4zM508 52h4v4h-4zM508 56h4v4h-4zM396 60h4v4h-4zM500 60h12v4h-12zM392 64h4v4h-4zM452 64h56v4h-56zM396 68h4v4h-4zM428 68h12v4h-12zM480 68h24v4h-24zM480 72h28v4h-28zM480 76h32v4h-32zM476 80h16v4h-16zM500 80h12v4h-12zM476 84h8v4h-8zM504 84h12v4h-12zM472 88h12v4h-12zM508 88h8v4h-8zM472 92h8v4h-8zM508 92h8v4h-8zM472 96h8v4h-8zM512 96h8v4h-8zM468 100h12v4h-12zM512 100h8v4h-8zM468 104h12v4h-12zM516 104h8v4h-8zM600 104h12v4h-12zM272 108h8v4h-8zM468 108h12v4h-12zM524 108h8v4h-8zM596 108h8v4h-8zM616 108h8v4h-8zM656 108h4v4h-4zM264 112h4v4h-4zM276 112h4v4h-4zM468 112h12v4h-12zM540 112h4v4h-4zM592 112h4v4h-4zM624 112h4v4h-4zM656 112h12v4h-12zM396 116h24v4h-24zM472 116h8v4h-8zM548 116h8v4h-8zM592 116h4v4h-4zM628 116h4v4h-4zM660 116h4v4h-4zM680 116h4v4h-4zM272 120h4v4h-4zM300 120h4v4h-4zM384 120h4v4h-4zM420 120h4v4h-4zM472 120h8v4h-8zM560 120h8v4h-8zM588 120h8v4h-8zM632 120h4v4h-4zM268 124h4v4h-4zM288 124h4v4h-4zM376 124h4v4h-4zM420 124h4v4h-4zM476 124h8v4h-8zM572 124h24v4h-24zM632 124h4v4h-4zM264 128h4v4h-4zM416 128h4v4h-4zM476 128h12v4h-12zM580 128h20v4h-20zM636 128h4v4h-4zM244 132h4v4h-4zM260 132h4v4h-4zM276 132h4v4h-4zM304 132h4v4h-4zM412 132h4v4h-4zM484 132h8v4h-8zM588 132h20v4h-20zM632 132h4v4h-4zM700 132h4v4h-4zM244 136h4v4h-4zM252 136h4v4h-4zM272 136h4v4h-4zM364 136h4v4h-4zM404 136h4v4h-4zM492 136h8v4h-8zM592 136h40v4h-40zM244 140h4v4h-4zM268 140h4v4h-4zM396 140h4v4h-4zM500 140h12v4h-12zM596 140h16v4h-16zM296 144h4v4h-4zM364 144h4v4h-4zM388 144h4v4h-4zM516 144h8v4h-8zM600 144h8v4h-8zM684 144h4v4h-4zM712 144h4v4h-4zM264 148h4v4h-4zM528 148h8v4h-8zM600 148h8v4h-8zM688 148h4v4h-4zM544 152h4v4h-4zM600 152h8v4h-8zM692 152h4v4h-4zM260 156h4v4h-4zM280 156h4v4h-4zM556 156h8v4h-8zM600 156h8v4h-8zM696 156h4v4h-4zM260 160h4v4h-4zM272 160h4v4h-4zM572 160h32v4h-32zM264 164h4v4h-4zM736 172h4v4h-4zM712 176h4v4h-4zM720 188h4v4h-4zM748 188h4v4h-4zM752 196h4v4h-4zM184 200h8v4h-8zM720 200h8v4h-8zM712 204h12v4h-12zM756 204h4v4h-4zM240 208h12v4h-12zM708 208h8v4h-8zM172 212h4v4h-4zM236 212h4v4h-4zM708 212h4v4h-4zM708 216h4v4h-4zM760 216h4v4h-4zM232 220h4v4h-4zM248 220h4v4h-4zM708 220h4v4h-4zM760 220h4v4h-4zM228 224h4v4h-4zM248 224h4v4h-4zM708 224h4v4h-4zM760 224h4v4h-4zM188 228h4v4h-4zM228 228h4v4h-4zM708 228h4v4h-4zM760 228h4v4h-4zM224 232h4v4h-4zM244 232h4v4h-4zM712 232h4v4h-4zM756 232h4v4h-4zM220 236h4v4h-4zM712 236h4v4h-4zM744 236h16v4h-16zM184 240h4v4h-4zM216 240h4v4h-4zM240 240h4v4h-4zM716 240h4v4h-4zM744 240h4v4h-4zM212 244h4v4h-4zM240 244h4v4h-4zM716 244h8v4h-8zM740 244h4v4h-4zM720 248h24v4h-24zM732 252h4v4h-4zM196 260h4v4h-4zM176 268h4v4h-4zM240 268h4v4h-4zM240 272h4v4h-4zM188 276h4v4h-4zM240 276h4v4h-4zM172 280h4v4h-4zM188 280h4v4h-4zM240 280h4v4h-4zM240 284h4v4h-4zM240 288h4v4h-4zM236 292h4v4h-4zM232 296h8v4h-8zM228 300h4v4h-4zM224 304h4v4h-4zM220 308h4v4h-4zM188 312h4v4h-4zM188 316h4v4h-4zM208 316h4v4h-4zM684 328h8v4h-8zM684 332h12v4h-12zM684 336h4v4h-4zM696 336h4v4h-4zM684 340h4v4h-4zM696 340h4v4h-4zM264 344h8v4h-8zM684 344h4v4h-4zM260 348h12v4h-12zM700 348h4v4h-4zM264 352h4v4h-4zM704 356h4v4h-4zM704 360h4v4h-4zM708 372h4v4h-4zM708 376h4v4h-4zM140 396h4v4h-4zM220 400h8v4h-8zM708 400h4v4h-4zM228 404h4v4h-4zM708 404h4v4h-4zM144 408h4v4h-4zM216 408h4v4h-4zM152 412h4v4h-4zM216 412h4v4h-4zM232 412h4v4h-4zM148 416h4v4h-4zM232 416h4v4h-4zM704 416h4v4h-4zM232 420h4v4h-4zM216 424h4v4h-4zM232 424h4v4h-4zM216 428h4v4h-4zM232 428h4v4h-4zM684 428h4v4h-4zM232 432h4v4h-4zM696 432h4v4h-4zM220 436h4v4h-4zM228 436h4v4h-4zM688 436h8v4h-8zM224 440h8v4h-8zM168 444h4v4h-4zM168 448h4v4h-4zM176 448h4v4h-4zM180 456h4v4h-4zM172 460h4v4h-4zM184 464h4v4h-4zM176 468h4v4h-4zM188 468h4v4h-4zM192 472h4v4h-4zM708 472h8v4h-8zM196 476h4v4h-4zM708 476h8v4h-8zM704 480h12v4h-12zM180 484h4v4h-4zM704 484h8v4h-8zM704 488h8v4h-8zM704 492h4v4h-4zM208 496h4v4h-4zM220 516h4v4h-4zM204 524h4v4h-4zM224 524h4v4h-4zM228 532h4v4h-4zM680 532h8v4h-8zM212 536h4v4h-4zM672 536h16v4h-16zM216 540h4v4h-4zM668 540h4v4h-4zM684 540h4v4h-4zM220 544h12v4h-12zM664 544h4v4h-4zM684 544h4v4h-4zM660 548h4v4h-4zM680 548h4v4h-4zM220 552h4v4h-4zM656 552h4v4h-4zM220 556h8v4h-8zM652 556h4v4h-4zM676 556h4v4h-4zM220 560h4v4h-4zM228 560h4v4h-4zM648 560h4v4h-4zM672 560h4v4h-4zM232 564h4v4h-4zM648 564h4v4h-4zM668 564h4v4h-4zM236 568h4v4h-4zM644 568h4v4h-4zM664 568h4v4h-4zM240 572h4v4h-4zM644 572h8v4h-8zM656 572h4v4h-4zM228 576h4v4h-4zM644 576h8v4h-8zM240 592h4v4h-4zM712 596h4v4h-4zM704 600h4v4h-4zM712 600h4v4h-4zM276 604h4v4h-4zM692 608h4v4h-4zM260 612h4v4h-4zM340 624h8v4h-8zM360 624h8v4h-8zM280 628h4v4h-4zM340 628h4v4h-4zM376 628h4v4h-4zM684 628h4v4h-4zM312 632h4v4h-4zM384 632h8v4h-8zM656 632h4v4h-4zM392 636h8v4h-8zM648 636h4v4h-4zM300 640h4v4h-4zM352 640h4v4h-4zM400 640h4v4h-4zM500 640h24v4h-24zM640 640h4v4h-4zM308 644h4v4h-4zM324 644h4v4h-4zM360 644h4v4h-4zM404 644h4v4h-4zM488 644h12v4h-12zM520 644h12v4h-12zM632 644h4v4h-4zM320 648h4v4h-4zM404 648h8v4h-8zM484 648h12v4h-12zM524 648h4v4h-4zM404 652h8v4h-8zM488 652h8v4h-8zM516 652h8v4h-8zM648 652h4v4h-4zM496 656h20v4h-20zM596 660h4v4h-4zM588 664h4v4h-4zM608 672h4v4h-4zM564 676h4v4h-4zM596 676h4v4h-4zM564 680h8v4h-8zM576 680h8v4h-8z"/>
<path fill="#f9f817" d="M444 40h12v4h-12zM476 40h12v4h-12zM492 44h4v4h-4zM428 48h4v4h-4zM500 48h4v4h-4zM420 52h4v4h-4zM500 52h8v4h-8zM408 56h4v4h-4zM496 56h12v4h-12zM472 60h28v4h-28zM396 64h4v4h-4zM440 64h12v4h-12zM400 68h8v4h-8zM420 68h8v4h-8zM492 80h8v4h-8zM484 84h20v4h-20zM484 88h24v4h-24zM480 92h28v4h-28zM480 96h32v4h-32zM480 100h32v4h-32zM480 104h12v4h-12zM500 104h16v4h-16zM480 108h12v4h-12zM508 108h16v4h-16zM604 108h12v4h-12zM268 112h8v4h-8zM480 112h12v4h-12zM532 112h8v4h-8zM596 112h8v4h-8zM620 112h4v4h-4zM260 116h4v4h-4zM272 116h4v4h-4zM480 116h12v4h-12zM544 116h4v4h-4zM596 116h8v4h-8zM624 116h4v4h-4zM664 116h16v4h-16zM256 120h4v4h-4zM268 120h4v4h-4zM388 120h8v4h-8zM412 120h8v4h-8zM480 120h12v4h-12zM556 120h4v4h-4zM596 120h8v4h-8zM628 120h4v4h-4zM664 120h4v4h-4zM252 124h4v4h-4zM292 124h16v4h-16zM380 124h4v4h-4zM416 124h4v4h-4zM484 124h8v4h-8zM564 124h8v4h-8zM596 124h8v4h-8zM628 124h4v4h-4zM668 124h4v4h-4zM248 128h4v4h-4zM260 128h4v4h-4zM284 128h4v4h-4zM304 128h4v4h-4zM372 128h4v4h-4zM412 128h4v4h-4zM488 128h8v4h-8zM572 128h8v4h-8zM600 128h8v4h-8zM628 128h8v4h-8zM672 128h4v4h-4zM248 132h4v4h-4zM256 132h4v4h-4zM368 132h4v4h-4zM408 132h4v4h-4zM492 132h8v4h-8zM580 132h8v4h-8zM608 132h24v4h-24zM248 136h4v4h-4zM300 136h4v4h-4zM500 136h8v4h-8zM584 136h8v4h-8zM704 136h4v4h-4zM364 140h4v4h-4zM512 140h4v4h-4zM588 140h8v4h-8zM708 140h4v4h-4zM268 144h4v4h-4zM368 144h4v4h-4zM380 144h8v4h-8zM524 144h4v4h-4zM592 144h8v4h-8zM288 148h4v4h-4zM536 148h4v4h-4zM596 148h4v4h-4zM264 152h4v4h-4zM284 152h4v4h-4zM548 152h8v4h-8zM596 152h4v4h-4zM264 156h4v4h-4zM276 156h4v4h-4zM564 156h12v4h-12zM588 156h12v4h-12zM264 160h8v4h-8zM700 160h4v4h-4zM704 164h4v4h-4zM716 180h4v4h-4zM744 184h4v4h-4zM724 196h4v4h-4zM180 204h4v4h-4zM188 204h4v4h-4zM724 204h8v4h-8zM176 208h4v4h-4zM188 208h4v4h-4zM716 208h16v4h-16zM756 208h4v4h-4zM240 212h12v4h-12zM712 212h4v4h-4zM756 212h4v4h-4zM236 216h8v4h-8zM248 216h4v4h-4zM712 216h4v4h-4zM756 216h4v4h-4zM168 220h4v4h-4zM236 220h4v4h-4zM712 220h4v4h-4zM756 220h4v4h-4zM188 224h4v4h-4zM232 224h4v4h-4zM244 224h4v4h-4zM712 224h4v4h-4zM756 224h4v4h-4zM232 228h4v4h-4zM244 228h4v4h-4zM712 228h4v4h-4zM740 228h8v4h-8zM752 228h8v4h-8zM228 232h4v4h-4zM240 232h4v4h-4zM716 232h4v4h-4zM740 232h16v4h-16zM224 236h8v4h-8zM236 236h8v4h-8zM716 236h4v4h-4zM740 236h4v4h-4zM220 240h8v4h-8zM236 240h4v4h-4zM720 240h4v4h-4zM736 240h8v4h-8zM216 244h4v4h-4zM236 244h4v4h-4zM724 244h16v4h-16zM208 248h4v4h-4zM236 248h4v4h-4zM180 252h4v4h-4zM204 252h4v4h-4zM236 252h4v4h-4zM200 256h4v4h-4zM236 256h4v4h-4zM236 260h4v4h-4zM236 264h4v4h-4zM192 268h4v4h-4zM236 268h4v4h-4zM236 272h4v4h-4zM236 276h4v4h-4zM236 280h4v4h-4zM188 284h4v4h-4zM236 284h4v4h-4zM188 288h4v4h-4zM236 288h4v4h-4zM168 292h4v4h-4zM188 292h4v4h-4zM232 292h4v4h-4zM188 296h4v4h-4zM228 296h4v4h-4zM188 300h4v4h-4zM188 304h4v4h-4zM164 308h4v4h-4zM188 308h4v4h-4zM212 312h4v4h-4zM192 320h12v4h-12zM160 332h4v4h-4zM688 336h8v4h-8zM688 340h8v4h-8zM696 344h4v4h-4zM684 348h4v4h-4zM696 348h4v4h-4zM684 352h4v4h-4zM700 352h4v4h-4zM684 356h4v4h-4zM700 356h4v4h-4zM684 360h4v4h-4zM684 364h4v4h-4zM704 364h4v4h-4zM684 368h4v4h-4zM684 372h4v4h-4zM708 380h4v4h-4zM708 384h4v4h-4zM708 388h4v4h-4zM140 392h4v4h-4zM708 392h4v4h-4zM708 396h4v4h-4zM156 404h4v4h-4zM220 404h8v4h-8zM152 408h4v4h-4zM220 408h4v4h-4zM228 408h4v4h-4zM148 412h4v4h-4zM228 412h4v4h-4zM216 416h4v4h-4zM228 416h4v4h-4zM216 420h4v4h-4zM228 420h4v4h-4zM228 424h4v4h-4zM684 424h4v4h-4zM700 424h4v4h-4zM220 428h4v4h-4zM228 428h4v4h-4zM696 428h4v4h-4zM220 432h12v4h-12zM688 432h8v4h-8zM224 436h4v4h-4zM172 444h4v4h-4zM180 480h4v4h-4zM200 484h4v4h-4zM184 492h4v4h-4zM204 492h4v4h-4zM212 504h4v4h-4zM196 508h4v4h-4zM216 512h4v4h-4zM208 528h4v4h-4zM212 532h4v4h-4zM216 536h4v4h-4zM228 536h4v4h-4zM220 540h12v4h-12zM672 540h12v4h-12zM668 544h4v4h-4zM676 544h8v4h-8zM664 548h4v4h-4zM676 548h4v4h-4zM660 552h4v4h-4zM676 552h4v4h-4zM656 556h4v4h-4zM672 556h4v4h-4zM224 560h4v4h-4zM652 560h4v4h-4zM668 560h4v4h-4zM652 564h4v4h-4zM664 564h4v4h-4zM224 568h4v4h-4zM648 568h16v4h-16zM652 572h4v4h-4zM244 576h4v4h-4zM248 580h4v4h-4zM252 584h4v4h-4zM244 596h4v4h-4zM248 600h4v4h-4zM708 600h4v4h-4zM252 604h4v4h-4zM708 604h4v4h-4zM256 608h4v4h-4zM280 608h4v4h-4zM296 620h4v4h-4zM676 620h4v4h-4zM348 624h12v4h-12zM344 628h4v4h-4zM368 628h8v4h-8zM664 628h4v4h-4zM344 632h4v4h-4zM380 632h4v4h-4zM316 636h4v4h-4zM348 636h4v4h-4zM388 636h4v4h-4zM672 636h4v4h-4zM320 640h4v4h-4zM396 640h4v4h-4zM400 644h4v4h-4zM500 644h20v4h-20zM660 644h4v4h-4zM372 648h4v4h-4zM400 648h4v4h-4zM496 648h28v4h-28zM624 648h4v4h-4zM384 652h20v4h-20zM496 652h20v4h-20zM616 652h4v4h-4zM580 668h4v4h-4zM572 672h4v4h-4zM568 676h4v4h-4zM572 680h4v4h-4z"/>
<path fill="#ffed13" d="M456 40h20v4h-20zM436 44h4v4h-4zM484 44h8v4h-8zM492 48h8v4h-8zM492 52h8v4h-8zM484 56h12v4h-12zM400 60h4v4h-4zM452 60h20v4h-20zM400 64h4v4h-4zM432 64h8v4h-8zM408 68h12v4h-12zM492 104h8v4h-8zM492 108h16v4h-16zM492 112h40v4h-40zM604 112h16v4h-16zM264 116h8v4h-8zM492 116h12v4h-12zM540 116h4v4h-4zM604 116h8v4h-8zM616 116h8v4h-8zM396 120h16v4h-16zM492 120h8v4h-8zM552 120h4v4h-4zM604 120h4v4h-4zM624 120h4v4h-4zM668 120h12v4h-12zM684 120h4v4h-4zM256 124h4v4h-4zM264 124h4v4h-4zM384 124h4v4h-4zM408 124h8v4h-8zM492 124h8v4h-8zM560 124h4v4h-4zM604 124h8v4h-8zM624 124h4v4h-4zM672 124h4v4h-4zM252 128h8v4h-8zM288 128h4v4h-4zM300 128h4v4h-4zM376 128h4v4h-4zM408 128h4v4h-4zM496 128h8v4h-8zM568 128h4v4h-4zM608 128h20v4h-20zM252 132h4v4h-4zM280 132h4v4h-4zM300 132h4v4h-4zM372 132h4v4h-4zM404 132h4v4h-4zM500 132h8v4h-8zM572 132h8v4h-8zM676 132h4v4h-4zM276 136h4v4h-4zM368 136h4v4h-4zM400 136h4v4h-4zM508 136h4v4h-4zM580 136h4v4h-4zM680 136h4v4h-4zM272 140h4v4h-4zM296 140h4v4h-4zM368 140h4v4h-4zM392 140h4v4h-4zM516 140h8v4h-8zM584 140h4v4h-4zM684 140h4v4h-4zM292 144h4v4h-4zM372 144h8v4h-8zM528 144h8v4h-8zM588 144h4v4h-4zM268 148h4v4h-4zM540 148h8v4h-8zM588 148h8v4h-8zM268 152h4v4h-4zM280 152h4v4h-4zM556 152h12v4h-12zM584 152h12v4h-12zM268 156h8v4h-8zM576 156h12v4h-12zM708 168h4v4h-4zM732 168h4v4h-4zM720 184h4v4h-4zM724 192h4v4h-4zM748 192h4v4h-4zM728 200h4v4h-4zM752 200h4v4h-4zM184 204h4v4h-4zM752 204h4v4h-4zM732 208h4v4h-4zM752 208h4v4h-4zM188 212h4v4h-4zM716 212h20v4h-20zM752 212h4v4h-4zM188 216h4v4h-4zM244 216h4v4h-4zM716 216h4v4h-4zM732 216h8v4h-8zM752 216h4v4h-4zM188 220h4v4h-4zM240 220h8v4h-8zM716 220h4v4h-4zM736 220h8v4h-8zM752 220h4v4h-4zM236 224h8v4h-8zM716 224h4v4h-4zM736 224h20v4h-20zM164 228h4v4h-4zM236 228h8v4h-8zM716 228h4v4h-4zM736 228h4v4h-4zM748 228h4v4h-4zM232 232h8v4h-8zM720 232h4v4h-4zM736 232h4v4h-4zM232 236h4v4h-4zM720 236h8v4h-8zM736 236h4v4h-4zM228 240h8v4h-8zM724 240h12v4h-12zM220 244h16v4h-16zM212 248h12v4h-12zM228 248h8v4h-8zM208 252h4v4h-4zM232 252h4v4h-4zM204 256h4v4h-4zM232 256h4v4h-4zM200 260h4v4h-4zM232 260h4v4h-4zM176 264h4v4h-4zM196 264h4v4h-4zM232 264h4v4h-4zM232 268h4v4h-4zM192 272h4v4h-4zM232 276h4v4h-4zM232 280h4v4h-4zM232 284h4v4h-4zM232 288h4v4h-4zM228 292h4v4h-4zM224 300h4v4h-4zM220 304h4v4h-4zM216 308h4v4h-4zM192 316h4v4h-4zM204 316h4v4h-4zM160 328h4v4h-4zM688 344h8v4h-8zM688 348h8v4h-8zM688 352h4v4h-4zM696 352h4v4h-4zM688 356h4v4h-4zM700 360h4v4h-4zM704 368h4v4h-4zM684 376h4v4h-4zM684 380h4v4h-4zM684 384h4v4h-4zM140 388h4v4h-4zM156 400h4v4h-4zM144 404h4v4h-4zM148 408h4v4h-4zM224 408h4v4h-4zM220 412h8v4h-8zM684 412h4v4h-4zM704 412h4v4h-4zM220 416h8v4h-8zM684 416h4v4h-4zM220 420h8v4h-8zM684 420h4v4h-4zM700 420h4v4h-4zM220 424h8v4h-8zM224 428h4v4h-4zM688 428h8v4h-8zM172 448h4v4h-4zM176 452h4v4h-4zM172 456h4v4h-4zM180 460h4v4h-4zM176 464h8v4h-8zM184 468h4v4h-4zM188 472h4v4h-4zM180 476h4v4h-4zM192 476h4v4h-4zM196 480h4v4h-4zM184 488h4v4h-4zM200 488h4v4h-4zM188 496h4v4h-4zM192 500h4v4h-4zM208 500h4v4h-4zM200 512h4v4h-4zM204 520h4v4h-4zM220 520h4v4h-4zM224 528h4v4h-4zM224 532h4v4h-4zM220 536h8v4h-8zM672 544h4v4h-4zM668 548h8v4h-8zM664 552h12v4h-12zM660 556h12v4h-12zM656 560h12v4h-12zM224 564h8v4h-8zM656 564h8v4h-8zM232 580h4v4h-4zM256 588h4v4h-4zM700 604h4v4h-4zM704 608h4v4h-4zM688 612h4v4h-4zM700 612h4v4h-4zM692 620h4v4h-4zM276 624h4v4h-4zM300 624h4v4h-4zM688 624h4v4h-4zM348 628h20v4h-20zM288 632h4v4h-4zM348 632h4v4h-4zM376 632h4v4h-4zM352 636h4v4h-4zM384 636h4v4h-4zM356 640h4v4h-4zM392 640h4v4h-4zM312 644h4v4h-4zM320 644h4v4h-4zM364 644h4v4h-4zM396 644h4v4h-4zM396 648h4v4h-4zM608 656h4v4h-4zM640 656h4v4h-4zM632 660h4v4h-4zM624 664h4v4h-4zM616 668h4v4h-4zM576 672h4v4h-4zM572 676h4v4h-4zM592 676h4v4h-4z"/>
<path fill="#ffdb10" d="M440 44h8v4h-8zM476 44h8v4h-8zM432 48h4v4h-4zM484 48h8v4h-8zM484 52h8v4h-8zM412 56h4v4h-4zM468 56h16v4h-16zM404 60h4v4h-4zM444 60h8v4h-8zM404 64h4v4h-4zM424 64h8v4h-8zM504 116h12v4h-12zM532 116h8v4h-8zM612 116h4v4h-4zM260 120h8v4h-8zM500 120h8v4h-8zM548 120h4v4h-4zM608 120h16v4h-16zM680 120h4v4h-4zM260 124h4v4h-4zM388 124h4v4h-4zM404 124h4v4h-4zM500 124h8v4h-8zM556 124h4v4h-4zM612 124h12v4h-12zM676 124h8v4h-8zM688 124h4v4h-4zM292 128h8v4h-8zM380 128h4v4h-4zM404 128h4v4h-4zM504 128h4v4h-4zM564 128h4v4h-4zM676 128h4v4h-4zM284 132h4v4h-4zM508 132h4v4h-4zM568 132h4v4h-4zM296 136h4v4h-4zM372 136h4v4h-4zM396 136h4v4h-4zM512 136h8v4h-8zM576 136h4v4h-4zM372 140h4v4h-4zM384 140h8v4h-8zM524 140h4v4h-4zM580 140h4v4h-4zM272 144h4v4h-4zM536 144h4v4h-4zM580 144h8v4h-8zM688 144h4v4h-4zM284 148h4v4h-4zM548 148h8v4h-8zM580 148h8v4h-8zM692 148h4v4h-4zM272 152h8v4h-8zM568 152h16v4h-16zM696 152h4v4h-4zM728 164h4v4h-4zM712 172h4v4h-4zM740 180h4v4h-4zM744 188h4v4h-4zM728 196h4v4h-4zM748 196h4v4h-4zM732 204h4v4h-4zM180 208h8v4h-8zM736 212h4v4h-4zM172 216h4v4h-4zM720 216h12v4h-12zM740 216h4v4h-4zM748 216h4v4h-4zM720 220h16v4h-16zM744 220h8v4h-8zM720 224h4v4h-4zM732 224h4v4h-4zM720 228h8v4h-8zM732 228h4v4h-4zM724 232h12v4h-12zM184 236h4v4h-4zM728 236h8v4h-8zM180 248h4v4h-4zM224 248h4v4h-4zM212 252h20v4h-20zM208 256h4v4h-4zM228 256h4v4h-4zM232 272h4v4h-4zM172 276h4v4h-4zM228 288h4v4h-4zM224 296h4v4h-4zM220 300h4v4h-4zM212 308h4v4h-4zM208 312h4v4h-4zM196 316h8v4h-8zM692 352h4v4h-4zM692 356h8v4h-8zM688 360h4v4h-4zM696 360h4v4h-4zM688 364h4v4h-4zM700 364h4v4h-4zM688 368h4v4h-4zM704 372h4v4h-4zM704 376h4v4h-4zM140 384h4v4h-4zM156 388h4v4h-4zM684 388h4v4h-4zM156 392h4v4h-4zM684 392h4v4h-4zM156 396h4v4h-4zM684 396h4v4h-4zM144 400h4v4h-4zM684 400h4v4h-4zM152 404h4v4h-4zM684 404h4v4h-4zM704 404h4v4h-4zM684 408h4v4h-4zM704 408h4v4h-4zM700 416h4v4h-4zM688 424h4v4h-4zM696 424h4v4h-4zM172 452h4v4h-4zM176 456h4v4h-4zM176 460h4v4h-4zM180 468h4v4h-4zM180 472h8v4h-8zM204 496h4v4h-4zM196 504h4v4h-4zM212 508h4v4h-4zM216 516h4v4h-4zM208 524h4v4h-4zM220 524h4v4h-4zM212 528h4v4h-4zM216 532h8v4h-8zM232 568h4v4h-4zM228 572h4v4h-4zM260 592h4v4h-4zM704 604h4v4h-4zM696 608h4v4h-4zM284 612h4v4h-4zM684 616h4v4h-4zM696 616h4v4h-4zM672 624h4v4h-4zM304 628h4v4h-4zM352 632h4v4h-4zM368 632h8v4h-8zM676 632h4v4h-4zM296 636h4v4h-4zM380 636h4v4h-4zM652 636h4v4h-4zM304 640h4v4h-4zM360 640h4v4h-4zM388 640h4v4h-4zM644 640h4v4h-4zM664 640h4v4h-4zM316 644h4v4h-4zM392 644h4v4h-4zM376 648h20v4h-20zM652 648h4v4h-4zM600 660h4v4h-4zM592 664h4v4h-4zM584 668h4v4h-4zM604 672h4v4h-4zM576 676h4v4h-4zM588 676h4v4h-4z"/>
<path fill="#ffca0e" d="M448 44h28v4h-28zM436 48h4v4h-4zM476 48h8v4h-8zM424 52h4v4h-4zM472 52h12v4h-12zM452 56h16v4h-16zM408 60h4v4h-4zM436 60h8v4h-8zM408 64h16v4h-16zM516 116h16v4h-16zM508 120h8v4h-8zM544 120h4v4h-4zM392 124h12v4h-12zM508 124h4v4h-4zM552 124h4v4h-4zM684 124h4v4h-4zM384 128h4v4h-4zM400 128h4v4h-4zM508 128h4v4h-4zM560 128h4v4h-4zM680 128h16v4h-16zM288 132h4v4h-4zM296 132h4v4h-4zM376 132h4v4h-4zM400 132h4v4h-4zM512 132h4v4h-4zM564 132h4v4h-4zM680 132h4v4h-4zM280 136h4v4h-4zM376 136h4v4h-4zM392 136h4v4h-4zM520 136h4v4h-4zM568 136h8v4h-8zM684 136h4v4h-4zM276 140h4v4h-4zM292 140h4v4h-4zM376 140h8v4h-8zM528 140h4v4h-4zM572 140h8v4h-8zM288 144h4v4h-4zM540 144h8v4h-8zM572 144h8v4h-8zM272 148h4v4h-4zM280 148h4v4h-4zM556 148h24v4h-24zM700 156h4v4h-4zM704 160h4v4h-4zM716 176h4v4h-4zM736 176h4v4h-4zM724 188h4v4h-4zM744 192h4v4h-4zM732 200h4v4h-4zM748 200h4v4h-4zM748 204h4v4h-4zM736 208h4v4h-4zM748 208h4v4h-4zM176 212h4v4h-4zM184 212h4v4h-4zM740 212h12v4h-12zM744 216h4v4h-4zM724 224h8v4h-8zM728 228h4v4h-4zM212 256h16v4h-16zM204 260h4v4h-4zM224 260h8v4h-8zM200 264h4v4h-4zM228 264h4v4h-4zM196 268h4v4h-4zM228 268h4v4h-4zM228 272h4v4h-4zM192 276h4v4h-4zM228 276h4v4h-4zM228 280h4v4h-4zM228 284h4v4h-4zM168 288h4v4h-4zM224 292h4v4h-4zM164 304h4v4h-4zM216 304h4v4h-4zM192 312h4v4h-4zM204 312h4v4h-4zM140 320h4v4h-4zM140 324h4v4h-4zM160 324h4v4h-4zM692 360h4v4h-4zM692 364h8v4h-8zM700 368h4v4h-4zM688 372h4v4h-4zM688 376h4v4h-4zM140 380h4v4h-4zM156 380h4v4h-4zM704 380h4v4h-4zM156 384h4v4h-4zM704 384h4v4h-4zM144 396h4v4h-4zM704 396h4v4h-4zM152 400h4v4h-4zM704 400h4v4h-4zM148 404h4v4h-4zM688 420h4v4h-4zM696 420h4v4h-4zM692 424h4v4h-4zM184 476h8v4h-8zM184 480h4v4h-4zM192 480h4v4h-4zM184 484h4v4h-4zM196 484h4v4h-4zM188 492h4v4h-4zM200 492h4v4h-4zM192 496h4v4h-4zM204 500h4v4h-4zM208 504h4v4h-4zM200 508h4v4h-4zM212 512h4v4h-4zM204 516h4v4h-4zM208 520h4v4h-4zM216 520h4v4h-4zM216 528h8v4h-8zM228 568h4v4h-4zM236 572h4v4h-4zM236 584h4v4h-4zM264 596h4v4h-4zM700 608h4v4h-4zM288 616h4v4h-4zM272 620h4v4h-4zM680 628h4v4h-4zM308 632h4v4h-4zM356 632h12v4h-12zM660 632h4v4h-4zM356 636h8v4h-8zM376 636h4v4h-4zM668 636h4v4h-4zM316 640h4v4h-4zM384 640h4v4h-4zM368 644h8v4h-8zM384 644h8v4h-8zM636 644h4v4h-4zM656 644h4v4h-4zM628 648h4v4h-4zM644 652h4v4h-4zM580 672h4v4h-4zM580 676h8v4h-8z"/>
<path fill="#ffba0c" d="M440 48h36v4h-36zM428 52h4v4h-4zM456 52h16v4h-16zM416 56h4v4h-4zM440 56h12v4h-12zM412 60h8v4h-8zM424 60h12v4h-12zM516 120h8v4h-8zM536 120h8v4h-8zM512 124h4v4h-4zM548 124h4v4h-4zM388 128h12v4h-12zM512 128h4v4h-4zM556 128h4v4h-4zM292 132h4v4h-4zM380 132h4v4h-4zM392 132h8v4h-8zM516 132h4v4h-4zM560 132h4v4h-4zM684 132h16v4h-16zM284 136h12v4h-12zM380 136h12v4h-12zM524 136h4v4h-4zM564 136h4v4h-4zM688 136h4v4h-4zM700 136h4v4h-4zM280 140h4v4h-4zM288 140h4v4h-4zM532 140h4v4h-4zM564 140h8v4h-8zM688 140h4v4h-4zM276 144h12v4h-12zM548 144h24v4h-24zM692 144h4v4h-4zM276 148h4v4h-4zM724 160h4v4h-4zM708 164h4v4h-4zM732 172h4v4h-4zM720 180h4v4h-4zM724 184h4v4h-4zM740 184h4v4h-4zM740 188h4v4h-4zM728 192h4v4h-4zM740 192h4v4h-4zM732 196h4v4h-4zM740 196h8v4h-8zM736 200h12v4h-12zM736 204h12v4h-12zM740 208h8v4h-8zM180 212h4v4h-4zM168 224h4v4h-4zM164 232h4v4h-4zM184 232h4v4h-4zM160 240h4v4h-4zM176 260h4v4h-4zM208 260h16v4h-16zM224 264h4v4h-4zM224 268h4v4h-4zM196 272h4v4h-4zM192 280h4v4h-4zM192 284h4v4h-4zM224 284h4v4h-4zM224 288h4v4h-4zM220 296h4v4h-4zM216 300h4v4h-4zM192 304h4v4h-4zM212 304h4v4h-4zM192 308h4v4h-4zM208 308h4v4h-4zM196 312h8v4h-8zM140 328h4v4h-4zM156 364h4v4h-4zM156 368h4v4h-4zM692 368h8v4h-8zM140 372h4v4h-4zM156 372h4v4h-4zM692 372h4v4h-4zM700 372h4v4h-4zM140 376h4v4h-4zM156 376h4v4h-4zM700 376h4v4h-4zM688 380h4v4h-4zM688 384h4v4h-4zM704 388h4v4h-4zM704 392h4v4h-4zM152 396h4v4h-4zM148 400h4v4h-4zM700 412h4v4h-4zM688 416h4v4h-4zM692 420h4v4h-4zM188 480h4v4h-4zM188 488h4v4h-4zM196 488h4v4h-4zM200 496h4v4h-4zM196 500h4v4h-4zM200 504h8v4h-8zM208 508h4v4h-4zM204 512h4v4h-4zM208 516h8v4h-8zM212 520h4v4h-4zM212 524h8v4h-8zM232 572h4v4h-4zM232 576h4v4h-4zM240 576h4v4h-4zM240 588h4v4h-4zM268 600h4v4h-4zM692 612h8v4h-8zM680 620h4v4h-4zM684 624h4v4h-4zM284 628h4v4h-4zM668 628h4v4h-4zM312 636h4v4h-4zM364 636h12v4h-12zM308 640h4v4h-4zM364 640h20v4h-20zM376 644h8v4h-8zM620 652h4v4h-4zM636 656h4v4h-4zM588 668h4v4h-4zM612 668h4v4h-4zM600 672h4v4h-4z"/>
<path fill="#ffa90b" d="M432 52h24v4h-24zM420 56h20v4h-20zM420 60h4v4h-4zM524 120h12v4h-12zM516 124h4v4h-4zM544 124h4v4h-4zM516 128h4v4h-4zM552 128h4v4h-4zM384 132h8v4h-8zM520 132h4v4h-4zM556 132h4v4h-4zM528 136h4v4h-4zM560 136h4v4h-4zM692 136h8v4h-8zM284 140h4v4h-4zM536 140h28v4h-28zM692 140h16v4h-16zM696 144h4v4h-4zM708 144h4v4h-4zM696 148h4v4h-4zM712 148h4v4h-4zM700 152h4v4h-4zM716 152h4v4h-4zM704 156h4v4h-4zM720 156h4v4h-4zM712 168h4v4h-4zM728 168h4v4h-4zM716 172h4v4h-4zM720 176h4v4h-4zM732 176h4v4h-4zM736 180h4v4h-4zM736 184h4v4h-4zM728 188h4v4h-4zM736 188h4v4h-4zM732 192h8v4h-8zM736 196h4v4h-4zM176 216h4v4h-4zM184 216h4v4h-4zM172 220h4v4h-4zM184 228h4v4h-4zM180 244h4v4h-4zM204 264h20v4h-20zM200 268h4v4h-4zM220 268h4v4h-4zM224 272h4v4h-4zM148 276h4v4h-4zM224 276h4v4h-4zM224 280h4v4h-4zM192 288h4v4h-4zM192 292h4v4h-4zM220 292h4v4h-4zM144 296h4v4h-4zM192 296h4v4h-4zM192 300h4v4h-4zM160 320h4v4h-4zM140 332h4v4h-4zM140 336h4v4h-4zM156 352h4v4h-4zM156 356h4v4h-4zM156 360h4v4h-4zM140 364h4v4h-4zM140 368h4v4h-4zM696 372h4v4h-4zM692 376h4v4h-4zM700 380h4v4h-4zM688 388h4v4h-4zM144 392h4v4h-4zM152 392h4v4h-4zM688 392h4v4h-4zM148 396h4v4h-4zM688 408h4v4h-4zM700 408h4v4h-4zM688 412h4v4h-4zM692 416h8v4h-8zM188 484h8v4h-8zM192 488h4v4h-4zM192 492h8v4h-8zM196 496h4v4h-4zM200 500h4v4h-4zM204 508h4v4h-4zM208 512h4v4h-4zM244 580h4v4h-4zM244 592h4v4h-4zM268 616h4v4h-4zM688 616h8v4h-8zM292 620h4v4h-4zM688 620h4v4h-4zM676 624h4v4h-4zM664 632h4v4h-4zM672 632h4v4h-4zM656 636h4v4h-4zM312 640h4v4h-4zM648 640h4v4h-4zM660 640h4v4h-4zM648 648h4v4h-4zM612 656h4v4h-4zM604 660h4v4h-4zM628 660h4v4h-4zM596 664h4v4h-4zM620 664h4v4h-4zM584 672h4v4h-4zM596 672h4v4h-4z"/>
<path fill="#ff9b0b" d="M520 124h8v4h-8zM540 124h4v4h-4zM520 128h4v4h-4zM548 128h4v4h-4zM524 132h4v4h-4zM552 132h4v4h-4zM532 136h4v4h-4zM552 136h8v4h-8zM700 144h8v4h-8zM700 148h12v4h-12zM704 152h4v4h-4zM712 152h4v4h-4zM716 156h4v4h-4zM708 160h4v4h-4zM720 160h4v4h-4zM712 164h4v4h-4zM724 164h4v4h-4zM716 168h4v4h-4zM724 168h4v4h-4zM720 172h12v4h-12zM724 176h8v4h-8zM724 180h12v4h-12zM728 184h8v4h-8zM732 188h4v4h-4zM180 216h4v4h-4zM184 220h4v4h-4zM184 224h4v4h-4zM156 252h4v4h-4zM152 264h4v4h-4zM204 268h4v4h-4zM216 268h4v4h-4zM172 272h4v4h-4zM200 272h4v4h-4zM220 272h4v4h-4zM196 276h4v4h-4zM220 276h4v4h-4zM220 280h4v4h-4zM220 284h4v4h-4zM220 288h4v4h-4zM216 296h4v4h-4zM144 300h4v4h-4zM164 300h4v4h-4zM212 300h4v4h-4zM208 304h4v4h-4zM196 308h12v4h-12zM140 340h4v4h-4zM140 344h4v4h-4zM140 348h4v4h-4zM156 348h4v4h-4zM140 352h4v4h-4zM140 356h4v4h-4zM140 360h4v4h-4zM696 376h4v4h-4zM692 380h8v4h-8zM692 384h4v4h-4zM700 384h4v4h-4zM144 388h4v4h-4zM152 388h4v4h-4zM700 388h4v4h-4zM148 392h4v4h-4zM688 396h4v4h-4zM688 400h4v4h-4zM700 400h4v4h-4zM688 404h4v4h-4zM700 404h4v4h-4zM692 412h8v4h-8zM236 576h4v4h-4zM236 580h4v4h-4zM248 584h4v4h-4zM272 604h4v4h-4zM264 612h4v4h-4zM684 620h4v4h-4zM296 624h4v4h-4zM680 624h4v4h-4zM672 628h8v4h-8zM292 632h4v4h-4zM668 632h4v4h-4zM300 636h4v4h-4zM308 636h4v4h-4zM660 636h8v4h-8zM640 644h4v4h-4zM652 644h4v4h-4zM608 668h4v4h-4zM588 672h8v4h-8z"/>
<path fill="#ff8f0c" d="M528 124h12v4h-12zM524 128h4v4h-4zM540 128h8v4h-8zM528 132h4v4h-4zM544 132h8v4h-8zM536 136h16v4h-16zM708 152h4v4h-4zM708 156h8v4h-8zM712 160h8v4h-8zM716 164h8v4h-8zM720 168h4v4h-4zM176 220h8v4h-8zM168 228h4v4h-4zM180 240h4v4h-4zM176 256h4v4h-4zM208 268h8v4h-8zM204 272h4v4h-4zM216 272h4v4h-4zM216 276h4v4h-4zM148 280h4v4h-4zM196 280h4v4h-4zM168 284h4v4h-4zM216 288h4v4h-4zM216 292h4v4h-4zM212 296h4v4h-4zM196 304h4v4h-4zM204 304h4v4h-4zM160 316h4v4h-4zM156 344h4v4h-4zM144 384h4v4h-4zM152 384h4v4h-4zM696 384h4v4h-4zM148 388h4v4h-4zM692 388h4v4h-4zM700 392h4v4h-4zM700 396h4v4h-4zM692 408h8v4h-8zM252 588h4v4h-4zM248 596h4v4h-4zM252 600h4v4h-4zM256 604h4v4h-4zM260 608h4v4h-4zM276 608h4v4h-4zM280 624h4v4h-4zM300 628h4v4h-4zM304 632h4v4h-4zM304 636h4v4h-4zM652 640h8v4h-8zM632 648h4v4h-4zM624 652h4v4h-4zM640 652h4v4h-4zM592 668h4v4h-4z"/>
<path fill="#ff830e" d="M528 128h12v4h-12zM532 132h12v4h-12zM172 224h4v4h-4zM164 236h4v4h-4zM160 244h4v4h-4zM208 272h8v4h-8zM200 276h4v4h-4zM212 276h4v4h-4zM216 280h4v4h-4zM196 284h4v4h-4zM216 284h4v4h-4zM196 288h4v4h-4zM196 292h4v4h-4zM212 292h4v4h-4zM196 296h4v4h-4zM196 300h4v4h-4zM208 300h4v4h-4zM144 304h4v4h-4zM200 304h4v4h-4zM156 340h4v4h-4zM144 376h4v4h-4zM152 376h4v4h-4zM144 380h4v4h-4zM152 380h4v4h-4zM148 384h4v4h-4zM696 388h4v4h-4zM692 392h8v4h-8zM692 396h8v4h-8zM692 400h8v4h-8zM692 404h8v4h-8zM240 580h4v4h-4zM240 584h4v4h-4zM256 592h4v4h-4zM644 644h8v4h-8zM644 648h4v4h-4zM616 656h4v4h-4zM632 656h4v4h-4zM608 660h4v4h-4zM600 664h4v4h-4zM616 664h4v4h-4zM596 668h4v4h-4zM604 668h4v4h-4z"/>
<path fill="#ff770f" d="M176 224h8v4h-8zM180 236h4v4h-4zM176 252h4v4h-4zM152 268h4v4h-4zM172 268h4v4h-4zM204 276h8v4h-8zM200 280h4v4h-4zM212 280h4v4h-4zM148 284h4v4h-4zM200 284h4v4h-4zM212 284h4v4h-4zM212 288h4v4h-4zM164 296h4v4h-4zM208 296h4v4h-4zM200 300h8v4h-8zM144 308h4v4h-4zM160 312h4v4h-4zM156 336h4v4h-4zM144 372h4v4h-4zM152 372h4v4h-4zM148 376h4v4h-4zM148 380h4v4h-4zM244 584h4v4h-4zM280 612h4v4h-4zM276 620h4v4h-4zM288 628h4v4h-4zM296 632h8v4h-8zM636 648h4v4h-4zM624 660h4v4h-4zM600 668h4v4h-4z"/>
<path fill="#ff6d11" d="M172 228h4v4h-4zM180 228h4v4h-4zM168 232h4v4h-4zM180 232h4v4h-4zM156 256h4v4h-4zM168 280h4v4h-4zM204 280h8v4h-8zM204 284h8v4h-8zM200 288h12v4h-12zM200 292h12v4h-12zM200 296h8v4h-8zM144 312h4v4h-4zM156 332h4v4h-4zM144 364h4v4h-4zM152 364h4v4h-4zM144 368h4v4h-4zM152 368h4v4h-4zM148 372h4v4h-4zM244 588h4v4h-4zM260 596h4v4h-4zM284 616h4v4h-4zM640 648h4v4h-4zM628 652h4v4h-4zM636 652h4v4h-4zM604 664h4v4h-4zM612 664h4v4h-4z"/>
<path fill="#ff6212" d="M176 228h4v4h-4zM164 240h4v4h-4zM160 248h4v4h-4zM148 288h4v4h-4zM160 308h4v4h-4zM144 316h4v4h-4zM144 320h4v4h-4zM144 324h4v4h-4zM156 328h4v4h-4zM144 352h4v4h-4zM152 352h4v4h-4zM144 356h4v4h-4zM152 356h4v4h-4zM144 360h4v4h-4zM152 360h4v4h-4zM148 364h4v4h-4zM148 368h4v4h-4zM248 588h4v4h-4zM264 600h4v4h-4zM288 620h4v4h-4zM292 624h4v4h-4zM296 628h4v4h-4zM632 652h4v4h-4zM620 656h4v4h-4zM628 656h4v4h-4zM612 660h4v4h-4zM620 660h4v4h-4zM608 664h4v4h-4z"/>
<path fill="#ff5814" d="M172 232h8v4h-8zM176 248h4v4h-4zM172 264h4v4h-4zM152 272h4v4h-4zM164 292h4v4h-4zM156 324h4v4h-4zM144 328h4v4h-4zM144 332h4v4h-4zM144 336h4v4h-4zM144 340h4v4h-4zM144 344h4v4h-4zM152 344h4v4h-4zM144 348h4v4h-4zM152 348h4v4h-4zM148 352h4v4h-4zM148 356h4v4h-4zM148 360h4v4h-4zM248 592h4v4h-4zM272 616h4v4h-4zM284 624h4v4h-4zM292 628h4v4h-4zM624 656h4v4h-4zM616 660h4v4h-4z"/>
<path fill="#ff4e13" d="M168 236h4v4h-4zM176 236h4v4h-4zM176 244h4v4h-4zM156 260h4v4h-4zM168 276h4v4h-4zM148 292h4v4h-4zM160 304h4v4h-4zM156 320h4v4h-4zM152 336h4v4h-4zM152 340h4v4h-4zM148 344h4v4h-4zM148 348h4v4h-4zM252 592h4v4h-4zM252 596h4v4h-4zM268 604h4v4h-4zM268 612h4v4h-4z"/>
<path fill="#ff4311" d="M172 236h4v4h-4zM176 240h4v4h-4zM164 244h4v4h-4zM172 260h4v4h-4zM148 296h4v4h-4zM148 332h8v4h-8zM148 336h4v4h-4zM148 340h4v4h-4zM256 596h4v4h-4zM256 600h4v4h-4zM260 604h4v4h-4zM264 608h4v4h-4zM272 608h4v4h-4zM280 620h4v4h-4zM288 624h4v4h-4z"/>
<path fill="#ff3910" d="M168 240h4v4h-4zM160 252h4v4h-4zM152 276h4v4h-4zM164 288h4v4h-4zM148 300h4v4h-4zM148 304h4v4h-4zM156 316h4v4h-4zM148 320h4v4h-4zM148 324h8v4h-8zM148 328h8v4h-8zM276 612h4v4h-4zM280 616h4v4h-4zM284 620h4v4h-4z"/>
<path fill="#ff2f0e" d="M172 240h4v4h-4zM172 256h4v4h-4zM156 264h4v4h-4zM168 272h4v4h-4zM160 300h4v4h-4zM148 308h4v4h-4zM148 312h4v4h-4zM156 312h4v4h-4zM148 316h8v4h-8zM152 320h4v4h-4zM260 600h4v4h-4zM276 616h4v4h-4z"/>
<path fill="#ff280d" d="M168 244h8v4h-8zM164 248h4v4h-4zM172 248h4v4h-4zM172 252h4v4h-4zM160 256h4v4h-4zM152 280h4v4h-4zM164 284h4v4h-4zM156 308h4v4h-4zM152 312h4v4h-4zM264 604h4v4h-4zM268 608h4v4h-4zM272 612h4v4h-4z"/>
<path fill="#ff200b" d="M168 248h4v4h-4zM156 268h4v4h-4zM168 268h4v4h-4zM152 284h4v4h-4zM160 296h4v4h-4zM152 304h8v4h-8zM152 308h4v4h-4z"/>
<path fill="#ff190a" d="M164 252h8v4h-8zM164 256h8v4h-8zM160 260h12v4h-12zM160 264h12v4h-12zM160 268h8v4h-8zM156 272h12v4h-12zM156 276h12v4h-12zM156 280h12v4h-12zM156 284h8v4h-8zM152 288h12v4h-12zM152 292h12v4h-12zM152 296h8v4h-8zM152 300h8v4h-8z"/>
</g>
<circle cx="481.0" cy="360.0" r="300.5" fill="none" stroke="#16300c" stroke-width="1.2" opacity="0.9"/>
<path d="M425.3 37.3L429.5 31.8M438.6 37.3L441.9 30.7M451.9 37.3L454.2 29.9M465.2 37.3L466.4 29.6M478.5 37.3L478.9 29.7M491.8 37.3L491.6 30.3M505.1 37.3L504.5 30.9M518.4 37.3L517.7 31.6M531.7 37.3L530.9 32.3M372.1 50.6L377.0 48.0M385.4 50.6L390.5 47.4M398.7 50.6L403.7 46.6M412.0 50.6L416.7 45.7M425.3 50.6L429.5 44.7M438.6 50.6L442.0 43.6M451.9 50.6L454.3 42.8M465.2 50.6L466.6 42.4M478.5 50.6L479.0 42.5M491.8 50.6L491.7 43.0M505.1 50.6L504.7 43.6M518.4 50.6L517.7 44.4M531.7 50.6L530.9 45.1M545.0 50.6L544.3 46.0M558.3 50.6L557.7 46.9M571.6 50.6L571.3 47.8M584.9 50.6L585.0 48.8M345.5 63.9L348.9 62.7M358.8 63.9L363.1 62.0M372.1 63.9L376.9 61.3M385.4 63.9L390.4 60.5M398.7 63.9L403.7 59.7M412.0 63.9L416.7 58.7M425.3 63.9L429.5 57.7M438.6 63.9L442.1 56.6M451.9 63.9L454.5 55.8M465.2 63.9L466.8 55.4M478.5 63.9L479.3 55.4M491.8 63.9L491.9 55.8M505.1 63.9L504.8 56.4M518.4 63.9L517.8 57.1M531.7 63.9L531.0 57.9M545.0 63.9L544.3 58.8M558.3 63.9L557.7 59.7M571.6 63.9L571.3 60.8M584.9 63.9L585.0 61.9M332.2 77.2L333.9 77.1M345.5 77.2L348.6 76.3M358.8 77.2L362.9 75.4M372.1 77.2L376.8 74.6M385.4 77.2L390.4 73.7M398.7 77.2L403.7 72.8M412.0 77.2L416.8 71.8M425.3 77.2L429.7 70.8M438.6 77.2L442.3 69.8M451.9 77.2L454.8 69.0M465.2 77.2L467.2 68.6M478.5 77.2L479.7 68.5M491.8 77.2L492.3 68.8M505.1 77.2L505.1 69.3M518.4 77.2L518.0 70.0M531.7 77.2L531.1 70.7M545.0 77.2L544.4 71.6M558.3 77.2L557.8 72.6M571.6 77.2L571.3 73.7M584.9 77.2L585.0 75.0M624.8 77.2L626.3 78.2M638.1 77.2L639.9 78.9M305.6 90.5L303.7 92.6M318.9 90.5L318.7 91.8M332.2 90.5L333.7 90.8M345.5 90.5L348.4 89.9M358.8 90.5L362.8 88.9M372.1 90.5L376.8 88.0M385.4 90.5L390.5 87.0M398.7 90.5L403.9 86.0M412.0 90.5L417.1 85.0M425.3 90.5L430.1 84.1M438.6 90.5L442.8 83.2M451.9 90.5L455.4 82.4M465.2 90.5L467.9 82.0M478.5 90.5L480.3 81.8M491.8 90.5L492.8 82.0M505.1 90.5L505.5 82.4M518.4 90.5L518.3 82.9M531.7 90.5L531.3 83.6M545.0 90.5L544.5 84.4M558.3 90.5L557.8 85.4M571.6 90.5L571.3 86.7M584.9 90.5L584.9 88.1M624.8 90.5L626.2 91.8M638.1 90.5L639.8 92.4M651.4 90.5L653.3 92.7M664.7 90.5L666.7 92.9M279.0 103.8L274.8 107.4M292.3 103.8L289.2 106.9M305.6 103.8L303.9 106.3M318.9 103.8L318.8 105.4M332.2 103.8L333.7 104.5M345.5 103.8L348.4 103.5M358.8 103.8L362.8 102.5M372.1 103.8L376.9 101.4M385.4 103.8L390.7 100.4M398.7 103.8L404.3 99.4M412.0 103.8L417.6 98.4M425.3 103.8L430.7 97.6M438.6 103.8L443.6 96.8M451.9 103.8L456.3 96.1M465.2 103.8L468.8 95.7M478.5 103.8L481.2 95.4M491.8 103.8L493.6 95.5M505.1 103.8L506.1 95.7M518.4 103.8L518.8 96.1M531.7 103.8L531.6 96.6M545.0 103.8L544.7 97.4M558.3 103.8L557.9 98.4M571.6 103.8L571.2 99.7M584.9 103.8L584.7 101.4M624.8 103.8L625.8 105.4M638.1 103.8L639.4 105.9M651.4 103.8L653.0 106.2M664.7 103.8L666.5 106.4M678.0 103.8L680.0 106.5M265.7 117.1L262.2 120.9M279.0 117.1L275.8 120.8M292.3 117.1L289.9 120.4M305.6 117.1L304.5 119.9M318.9 117.1L319.2 119.1M332.2 117.1L334.0 118.2M345.5 117.1L348.6 117.2M358.8 117.1L363.1 116.1M372.1 117.1L377.2 115.0M385.4 117.1L391.1 113.9M398.7 117.1L404.8 112.9M412.0 117.1L418.3 112.0M425.3 117.1L431.6 111.3M438.6 117.1L444.6 110.6M451.9 117.1L457.5 110.1M465.2 117.1L470.2 109.7M478.5 117.1L482.6 109.4M491.8 117.1L494.8 109.2M505.1 117.1L507.1 109.2M518.4 117.1L519.5 109.4M531.7 117.1L532.1 109.8M545.0 117.1L544.9 110.5M558.3 117.1L557.9 111.6M571.6 117.1L571.0 113.0M584.9 117.1L584.3 114.9M624.8 117.1L625.0 119.0M638.1 117.1L638.7 119.5M651.4 117.1L652.4 119.8M664.7 117.1L666.0 120.0M678.0 117.1L679.7 120.2M691.3 117.1L693.3 120.4M252.4 130.4L250.5 134.0M265.7 130.4L263.7 134.1M279.0 130.4L277.2 134.1M292.3 130.4L291.1 133.8M305.6 130.4L305.3 133.4M318.9 130.4L319.9 132.7M332.2 130.4L334.5 131.8M345.5 130.4L349.0 130.8M358.8 130.4L363.4 129.7M372.1 130.4L377.7 128.5M385.4 130.4L391.7 127.4M398.7 130.4L405.5 126.5M412.0 130.4L419.1 125.7M425.3 130.4L432.6 125.1M438.6 130.4L445.9 124.6M451.9 130.4L458.9 124.2M465.2 130.4L471.7 123.8M478.5 130.4L484.2 123.5M491.8 130.4L496.3 123.3M505.1 130.4L508.4 123.1M518.4 130.4L520.4 123.1M531.7 130.4L532.7 123.3M545.0 130.4L545.1 124.0M558.3 130.4L557.7 125.1M571.6 130.4L570.5 126.8M584.9 130.4L583.4 128.8M598.2 130.4L596.6 130.6M611.5 130.4L610.1 131.9M624.8 130.4L623.8 132.7M638.1 130.4L637.6 133.1M651.4 130.4L651.4 133.4M664.7 130.4L665.3 133.7M678.0 130.4L679.1 133.9M691.3 130.4L693.0 134.3M704.6 130.4L706.9 134.7M239.1 143.7L238.6 147.0M252.4 143.7L252.0 147.1M265.7 143.7L265.3 147.3M279.0 143.7L278.8 147.3M292.3 143.7L292.5 147.2M305.6 143.7L306.5 146.8M318.9 143.7L320.8 146.2M332.2 143.7L335.2 145.4M345.5 143.7L349.6 144.3M358.8 143.7L363.9 143.2M372.1 143.7L378.2 142.1M385.4 143.7L392.3 141.0M398.7 143.7L406.2 140.1M412.0 143.7L420.0 139.4M425.3 143.7L433.6 138.9M438.6 143.7L447.0 138.5M451.9 143.7L460.3 138.2M465.2 143.7L473.2 138.0M478.5 143.7L485.8 137.7M491.8 143.7L497.9 137.4M505.1 143.7L509.8 137.1M518.4 143.7L521.6 137.0M531.7 143.7L533.4 137.1M545.0 143.7L545.3 137.8M558.3 143.7L557.3 139.2M571.6 143.7L569.6 141.0M584.9 143.7L582.2 143.0M598.2 143.7L595.3 144.6M611.5 143.7L608.7 145.7M624.8 143.7L622.5 146.3M638.1 143.7L636.3 146.7M651.4 143.7L650.3 147.0M664.7 143.7L664.3 147.4M678.0 143.7L678.5 147.7M691.3 143.7L692.7 148.2M704.6 143.7L706.8 148.7M717.9 143.7L720.8 149.1M225.8 157.0L226.0 160.1M239.1 157.0L239.7 160.2M252.4 157.0L253.4 160.3M265.7 157.0L266.9 160.5M279.0 157.0L280.4 160.6M292.3 157.0L294.0 160.5M305.6 157.0L307.7 160.2M318.9 157.0L321.7 159.7M332.2 157.0L335.9 158.9M345.5 157.0L350.2 157.9M358.8 157.0L364.5 156.8M372.1 157.0L378.7 155.6M385.4 157.0L392.9 154.5M398.7 157.0L406.9 153.7M412.0 157.0L420.8 153.1M425.3 157.0L434.5 152.6M438.6 157.0L448.0 152.3M451.9 157.0L461.3 152.1M465.2 157.0L474.4 152.0M478.5 157.0L487.1 151.7M491.8 157.0L499.4 151.5M505.1 157.0L511.3 151.2M518.4 157.0L522.8 151.0M531.7 157.0L534.0 151.2M545.0 157.0L545.2 152.1M558.3 157.0L556.6 153.7M571.6 157.0L568.5 155.6M584.9 157.0L581.0 157.3M598.2 157.0L594.0 158.6M611.5 157.0L607.5 159.4M624.8 157.0L621.2 159.9M638.1 157.0L635.1 160.3M651.4 157.0L649.2 160.6M664.7 157.0L663.4 161.0M678.0 157.0L677.8 161.5M691.3 157.0L692.2 162.0M704.6 157.0L706.5 162.4M717.9 157.0L720.6 162.8M731.2 157.0L734.4 163.1M212.5 170.3L212.9 173.4M225.8 170.3L226.9 173.4M239.1 170.3L240.8 173.5M252.4 170.3L254.6 173.6M265.7 170.3L268.3 173.7M279.0 170.3L281.9 173.8M292.3 170.3L295.4 173.8M305.6 170.3L309.0 173.7M318.9 170.3L322.7 173.2M332.2 170.3L336.6 172.5M345.5 170.3L350.7 171.5M358.8 170.3L364.9 170.3M372.1 170.3L379.2 169.1M385.4 170.3L393.5 168.0M398.7 170.3L407.5 167.2M412.0 170.3L421.4 166.6M425.3 170.3L435.2 166.3M438.6 170.3L448.8 166.0M451.9 170.3L462.1 165.9M465.2 170.3L475.2 165.7M478.5 170.3L488.1 165.6M491.8 170.3L500.5 165.3M505.1 170.3L512.4 165.1M518.4 170.3L523.7 165.1M531.7 170.3L534.4 165.5M545.0 170.3L544.8 166.7M558.3 170.3L555.6 168.4M571.6 170.3L567.3 170.2M584.9 170.3L579.9 171.5M598.2 170.3L593.0 172.4M611.5 170.3L606.5 173.0M624.8 170.3L620.3 173.4M638.1 170.3L634.2 173.8M651.4 170.3L648.3 174.2M664.7 170.3L662.7 174.6M678.0 170.3L677.2 175.1M691.3 170.3L691.8 175.6M704.6 170.3L706.2 176.0M717.9 170.3L720.4 176.3M731.2 170.3L734.2 176.6M744.5 170.3L747.7 176.7M212.5 183.6L213.8 186.7M225.8 183.6L227.8 186.7M239.1 183.6L241.8 186.8M252.4 183.6L255.7 186.8M265.7 183.6L269.5 187.0M279.0 183.6L283.1 187.1M292.3 183.6L296.6 187.1M305.6 183.6L310.0 187.1M318.9 183.6L323.4 186.7M332.2 183.6L337.1 186.1M345.5 183.6L351.1 185.2M358.8 183.6L365.3 183.9M372.1 183.6L379.6 182.7M385.4 183.6L393.9 181.6M398.7 183.6L408.0 180.7M412.0 183.6L422.0 180.2M425.3 183.6L435.7 179.8M545.0 183.6L544.0 181.3M558.3 183.6L554.5 183.1M571.6 183.6L566.4 184.4M584.9 183.6L579.1 185.4M598.2 183.6L592.3 186.0M611.5 183.6L605.9 186.4M624.8 183.6L619.6 186.8M638.1 183.6L633.6 187.2M651.4 183.6L647.8 187.6M664.7 183.6L662.1 188.1M678.0 183.6L676.7 188.6M691.3 183.6L691.3 189.0M704.6 183.6L705.8 189.4M717.9 183.6L719.9 189.7M731.2 183.6L733.7 189.9M744.5 183.6L747.3 190.1M199.2 196.9L200.6 200.0M212.5 196.9L214.7 200.0M225.8 196.9L228.7 200.0M239.1 196.9L242.7 200.1M252.4 196.9L256.6 200.2M265.7 196.9L270.4 200.3M279.0 196.9L283.9 200.4M292.3 196.9L297.3 200.5M305.6 196.9L310.6 200.5M318.9 196.9L323.9 200.3M332.2 196.9L337.4 199.8M345.5 196.9L351.1 199.0M358.8 196.9L365.3 197.8M372.1 196.9L379.7 196.4M385.4 196.9L394.1 195.2M571.6 196.9L565.6 198.4M584.9 196.9L578.5 199.0M598.2 196.9L591.9 199.4M611.5 196.9L605.5 199.8M624.8 196.9L619.3 200.1M638.1 196.9L633.3 200.5M651.4 196.9L647.4 201.0M664.7 196.9L661.8 201.4M678.0 196.9L676.3 201.9M691.3 196.9L690.8 202.3M704.6 196.9L705.2 202.7M717.9 196.9L719.3 203.0M731.2 196.9L733.1 203.3M744.5 196.9L746.6 203.5M757.8 196.9L759.9 203.8M199.2 210.2L201.7 213.3M212.5 210.2L215.7 213.4M225.8 210.2L229.6 213.4M239.1 210.2L243.5 213.5M252.4 210.2L257.3 213.5M265.7 210.2L271.0 213.7M279.0 210.2L284.4 213.8M292.3 210.2L297.6 213.9M305.6 210.2L310.8 213.9M318.9 210.2L323.9 213.8M332.2 210.2L337.2 213.5M345.5 210.2L350.8 212.9M358.8 210.2L364.8 211.8M372.1 210.2L379.2 210.5M598.2 210.2L591.6 212.8M611.5 210.2L605.3 213.1M624.8 210.2L619.1 213.4M638.1 210.2L633.1 213.8M651.4 210.2L647.2 214.2M664.7 210.2L661.5 214.7M678.0 210.2L675.8 215.1M691.3 210.2L690.2 215.5M704.6 210.2L704.4 215.8M717.9 210.2L718.4 216.2M731.2 210.2L732.1 216.5M744.5 210.2L745.6 216.9M757.8 210.2L758.9 217.4M771.1 210.2L772.0 217.9M185.9 223.5L188.9 226.7M199.2 223.5L202.8 226.8M212.5 223.5L216.7 226.8M225.8 223.5L230.6 226.9M239.1 223.5L244.3 226.9M252.4 223.5L257.9 227.0M265.7 223.5L271.3 227.1M279.0 223.5L284.5 227.2M292.3 223.5L297.6 227.2M305.6 223.5L310.7 227.3M318.9 223.5L323.7 227.2M332.2 223.5L336.9 227.1M345.5 223.5L350.2 226.7M611.5 223.5L605.1 226.4M624.8 223.5L618.9 226.7M638.1 223.5L632.9 227.0M651.4 223.5L646.9 227.4M664.7 223.5L661.0 227.7M678.0 223.5L675.2 228.1M691.3 223.5L689.2 228.4M704.6 223.5L703.2 228.8M717.9 223.5L717.0 229.2M731.2 223.5L730.7 229.7M744.5 223.5L744.2 230.3M757.8 223.5L757.4 230.9M771.1 223.5L770.6 231.6M185.9 236.8L189.6 240.0M199.2 236.8L203.8 240.2M212.5 236.8L217.7 240.3M225.8 236.8L231.4 240.4M239.1 236.8L245.0 240.4M252.4 236.8L258.3 240.4M265.7 236.8L271.4 240.5M279.0 236.8L284.5 240.6M292.3 236.8L297.4 240.6M305.6 236.8L310.4 240.7M318.9 236.8L323.3 240.7M332.2 236.8L336.4 240.6M624.8 236.8L618.7 239.8M638.1 236.8L632.5 240.1M651.4 236.8L646.4 240.3M664.7 236.8L660.3 240.6M678.0 236.8L674.1 240.9M691.3 236.8L687.9 241.2M704.6 236.8L701.6 241.6M717.9 236.8L715.2 242.1M731.2 236.8L728.8 242.7M744.5 236.8L742.2 243.5M757.8 236.8L755.6 244.4M771.1 236.8L768.9 245.3M784.4 236.8L782.1 246.1M172.6 250.1L175.6 252.9M185.9 250.1L190.0 253.2M199.2 250.1L204.3 253.5M212.5 250.1L218.4 253.7M225.8 250.1L232.1 253.8M239.1 250.1L245.6 253.8M252.4 250.1L258.7 253.8M265.7 250.1L271.6 253.9M279.0 250.1L284.4 253.9M292.3 250.1L297.2 254.0M305.6 250.1L310.1 254.0M318.9 250.1L323.0 254.0M332.2 250.1L336.0 254.0M638.1 250.1L631.9 252.9M651.4 250.1L645.5 253.1M664.7 250.1L659.1 253.3M678.0 250.1L672.6 253.5M691.3 250.1L686.1 253.8M704.6 250.1L699.5 254.2M717.9 250.1L712.9 254.7M731.2 250.1L726.4 255.5M744.5 250.1L739.9 256.4M757.8 250.1L753.4 257.5M771.1 250.1L767.0 258.5M784.4 250.1L780.6 259.5M172.6 263.4L175.7 266.0M185.9 263.4L190.1 266.3M199.2 263.4L204.5 266.6M212.5 263.4L218.7 266.9M225.8 263.4L232.6 267.1M239.1 263.4L246.1 267.1M252.4 263.4L259.1 267.2M265.7 263.4L271.8 267.2M279.0 263.4L284.4 267.3M292.3 263.4L297.0 267.3M305.6 263.4L309.8 267.4M318.9 263.4L322.7 267.4M651.4 263.4L644.2 265.8M664.7 263.4L657.5 265.9M678.0 263.4L670.8 266.1M691.3 263.4L684.0 266.3M704.6 263.4L697.1 266.7M717.9 263.4L710.4 267.2M731.2 263.4L723.7 268.0M744.5 263.4L737.4 269.0M757.8 263.4L751.2 270.2M771.1 263.4L765.2 271.5M784.4 263.4L779.2 272.5M172.6 276.7L175.8 279.0M185.9 276.7L190.2 279.3M199.2 276.7L204.7 279.6M212.5 276.7L219.0 279.9M225.8 276.7L233.0 280.1M239.1 276.7L246.6 280.2M252.4 276.7L259.7 280.3M265.7 276.7L272.3 280.4M279.0 276.7L284.7 280.5M292.3 276.7L297.1 280.6M305.6 276.7L309.7 280.7M651.4 276.7L642.5 278.4M664.7 276.7L655.6 278.5M678.0 276.7L668.6 278.7M691.3 276.7L681.6 278.9M704.6 276.7L694.6 279.2M717.9 276.7L707.7 279.7M731.2 276.7L721.2 280.5M744.5 276.7L735.0 281.6M757.8 276.7L749.2 282.8M771.1 276.7L763.5 284.1M784.4 276.7L777.9 285.3M797.7 276.7L792.1 286.3M159.3 290.0L161.6 291.6M172.6 290.0L175.9 291.8M185.9 290.0L190.4 292.1M199.2 290.0L204.9 292.5M212.5 290.0L219.3 292.8M225.8 290.0L233.4 293.0M239.1 290.0L247.1 293.2M252.4 290.0L260.2 293.4M265.7 290.0L272.9 293.6M279.0 290.0L285.1 293.8M292.3 290.0L297.3 293.9M305.6 290.0L309.8 294.1M664.7 290.0L653.3 291.2M678.0 290.0L666.2 291.4M691.3 290.0L679.0 291.6M704.6 290.0L692.0 291.9M717.9 290.0L705.2 292.4M731.2 290.0L718.9 293.1M744.5 290.0L733.0 294.2M757.8 290.0L747.5 295.4M771.1 290.0L762.3 296.8M784.4 290.0L777.0 298.0M797.7 290.0L791.5 299.0M159.3 303.3L161.8 304.2M172.6 303.3L176.1 304.4M185.9 303.3L190.6 304.8M199.2 303.3L205.1 305.2M212.5 303.3L219.5 305.6M225.8 303.3L233.6 305.9M239.1 303.3L247.4 306.2M252.4 303.3L260.6 306.4M265.7 303.3L273.3 306.7M279.0 303.3L285.6 307.0M292.3 303.3L297.7 307.3M664.7 303.3L650.7 304.1M678.0 303.3L663.6 304.2M691.3 303.3L676.5 304.4M704.6 303.3L689.6 304.7M717.9 303.3L703.0 305.1M731.2 303.3L717.0 305.9M744.5 303.3L731.4 306.9M757.8 303.3L746.3 308.2M771.1 303.3L761.5 309.5M784.4 303.3L776.5 310.7M797.7 303.3L791.3 311.7M159.3 316.6L161.9 316.5M172.6 316.6L176.3 316.7M185.9 316.6L190.8 317.2M199.2 316.6L205.3 317.7M212.5 316.6L219.7 318.2M225.8 316.6L233.9 318.7M239.1 316.6L247.6 319.1M252.4 316.6L260.8 319.5M265.7 316.6L273.5 319.9M279.0 316.6L285.8 320.3M292.3 316.6L297.9 320.7M664.7 316.6L648.1 317.0M678.0 316.6L661.0 317.1M691.3 316.6L674.1 317.3M704.6 316.6L687.4 317.6M717.9 316.6L701.2 318.0M731.2 316.6L715.5 318.7M744.5 316.6L730.3 319.8M757.8 316.6L745.6 321.0M771.1 316.6L761.1 322.3M784.4 316.6L776.4 323.5M797.7 316.6L791.4 324.4M159.3 329.9L162.1 328.4M172.6 329.9L176.4 328.9M185.9 329.9L190.9 329.5M199.2 329.9L205.5 330.2M212.5 329.9L219.9 331.0M225.8 329.9L233.9 331.7M239.1 329.9L247.6 332.2M252.4 329.9L260.7 332.8M265.7 329.9L273.3 333.3M279.0 329.9L285.7 333.8M292.3 329.9L297.9 334.2M664.7 329.9L645.6 330.0M678.0 329.9L658.8 330.1M691.3 329.9L672.1 330.3M704.6 329.9L685.7 330.5M717.9 329.9L699.8 331.0M731.2 329.9L714.4 331.7M744.5 329.9L729.6 332.7M757.8 329.9L745.2 333.9M771.1 329.9L761.0 335.2M784.4 329.9L776.6 336.2M797.7 329.9L791.7 337.0M159.3 343.2L162.2 340.2M172.6 343.2L176.5 340.8M185.9 343.2L191.0 341.7M199.2 343.2L205.5 342.8M212.5 343.2L219.8 343.8M225.8 343.2L233.8 344.7M239.1 343.2L247.3 345.5M252.4 343.2L260.3 346.2M265.7 343.2L273.0 346.8M279.0 343.2L285.3 347.4M292.3 343.2L297.6 347.8M678.0 343.2L657.2 343.1M691.3 343.2L670.7 343.3M704.6 343.2L684.6 343.5M717.9 343.2L698.8 343.9M731.2 343.2L713.6 344.6M744.5 343.2L729.1 345.5M757.8 343.2L745.0 346.7M771.1 343.2L761.1 347.9M784.4 343.2L776.8 348.9M797.7 343.2L791.9 349.5M159.3 356.5L162.2 351.9M172.6 356.5L176.5 352.8M185.9 356.5L190.9 354.0M199.2 356.5L205.3 355.4M212.5 356.5L219.6 356.8M225.8 356.5L233.4 358.0M239.1 356.5L246.8 359.0M252.4 356.5L259.8 359.8M265.7 356.5L272.4 360.5M279.0 356.5L284.8 361.0M292.3 356.5L297.2 361.4M678.0 356.5L656.4 356.1M691.3 356.5L670.0 356.2M704.6 356.5L683.9 356.4M717.9 356.5L698.3 356.8M731.2 356.5L713.3 357.4M744.5 356.5L728.9 358.3M757.8 356.5L744.9 359.4M771.1 356.5L761.0 360.5M784.4 356.5L776.7 361.4M797.7 356.5L791.9 362.1M159.3 369.8L162.2 363.6M172.6 369.8L176.3 364.8M185.9 369.8L190.6 366.4M199.2 369.8L204.9 368.2M212.5 369.8L219.0 370.0M225.8 369.8L232.7 371.4M239.1 369.8L246.0 372.6M252.4 369.8L258.9 373.5M265.7 369.8L271.6 374.2M279.0 369.8L284.1 374.7M292.3 369.8L296.6 375.1M678.0 369.8L656.2 369.0M691.3 369.8L669.9 369.1M704.6 369.8L683.9 369.3M717.9 369.8L698.3 369.7M731.2 369.8L713.3 370.2M744.5 369.8L728.8 371.1M757.8 369.8L744.8 372.1M771.1 369.8L760.8 373.2M784.4 369.8L776.5 374.1M797.7 369.8L791.7 374.7M159.3 383.1L162.0 375.4M172.6 383.1L176.0 376.9M185.9 383.1L190.1 378.9M199.2 383.1L204.2 381.1M212.5 383.1L218.2 383.2M225.8 383.1L231.7 385.0M239.1 383.1L244.9 386.3M252.4 383.1L257.9 387.2M265.7 383.1L270.6 387.9M279.0 383.1L283.3 388.4M292.3 383.1L296.0 388.7M678.0 383.1L656.7 382.0M691.3 383.1L670.4 382.0M704.6 383.1L684.4 382.2M717.9 383.1L698.7 382.6M731.2 383.1L713.6 383.1M744.5 383.1L729.0 383.9M757.8 383.1L744.7 384.9M771.1 383.1L760.5 385.9M784.4 383.1L776.1 386.8M797.7 383.1L791.3 387.5M159.3 396.4L161.7 387.4M172.6 396.4L175.5 389.2M185.9 396.4L189.4 391.5M199.2 396.4L203.3 394.1M212.5 396.4L217.0 396.6M225.8 396.4L230.5 398.5M239.1 396.4L243.7 399.9M252.4 396.4L256.6 400.9M265.7 396.4L269.5 401.5M279.0 396.4L282.4 401.9M292.3 396.4L295.2 402.1M664.7 396.4L644.1 394.7M678.0 396.4L657.6 394.8M691.3 396.4L671.3 395.0M704.6 396.4L685.2 395.1M717.9 396.4L699.5 395.5M731.2 396.4L714.2 396.0M744.5 396.4L729.3 396.8M757.8 396.4L744.8 397.8M771.1 396.4L760.4 398.8M784.4 396.4L775.7 399.7M797.7 396.4L790.8 400.4M159.3 409.7L161.2 399.7M172.6 409.7L174.8 401.6M185.9 409.7L188.4 404.2M199.2 409.7L202.0 407.1M212.5 409.7L215.6 409.8M225.8 409.7L229.0 412.0M239.1 409.7L242.2 413.5M252.4 409.7L255.3 414.4M265.7 409.7L268.4 414.9M279.0 409.7L281.4 415.2M292.3 409.7L294.4 415.3M664.7 409.7L645.5 407.5M678.0 409.7L658.9 407.7M691.3 409.7L672.4 407.8M704.6 409.7L686.2 408.0M717.9 409.7L700.4 408.4M731.2 409.7L714.9 408.9M744.5 409.7L729.8 409.7M757.8 409.7L745.1 410.7M771.1 409.7L760.4 411.7M784.4 409.7L775.6 412.6M797.7 409.7L790.6 413.4M159.3 423.0L160.6 412.4M172.6 423.0L173.8 414.4M185.9 423.0L187.2 417.0M199.2 423.0L200.6 420.1M212.5 423.0L214.0 422.9M225.8 423.0L227.4 425.2M239.1 423.0L240.8 426.7M252.4 423.0L254.1 427.6M265.7 423.0L267.3 428.1M279.0 423.0L280.5 428.3M292.3 423.0L293.7 428.3M305.6 423.0L307.0 428.1M664.7 423.0L647.1 420.1M678.0 423.0L660.3 420.4M691.3 423.0L673.7 420.6M704.6 423.0L687.4 420.9M717.9 423.0L701.4 421.2M731.2 423.0L715.8 421.8M744.5 423.0L730.5 422.5M757.8 423.0L745.5 423.4M771.1 423.0L760.7 424.4M784.4 423.0L775.7 425.4M797.7 423.0L790.6 426.2M159.3 436.3L159.6 425.6M172.6 436.3L172.6 427.5M185.9 436.3L185.7 430.0M199.2 436.3L199.0 433.0M225.8 436.3L225.8 438.1M239.1 436.3L239.3 439.7M252.4 436.3L252.8 440.6M265.7 436.3L266.2 441.0M279.0 436.3L279.6 441.1M292.3 436.3L293.1 440.9M305.6 436.3L306.6 440.6M651.4 436.3L635.9 431.9M664.7 436.3L648.6 432.6M678.0 436.3L661.6 433.1M691.3 436.3L675.0 433.4M704.6 436.3L688.5 433.6M717.9 436.3L702.5 434.0M731.2 436.3L716.7 434.4M744.5 436.3L731.4 435.1M757.8 436.3L746.3 435.9M771.1 436.3L761.3 436.8M784.4 436.3L776.2 437.7M797.7 436.3L790.9 438.6M172.6 449.6L171.2 441.0M185.9 449.6L184.1 443.3M199.2 449.6L197.2 445.9M212.5 449.6L210.6 448.4M225.8 449.6L224.2 450.6M239.1 449.6L237.9 452.2M252.4 449.6L251.6 453.2M265.7 449.6L265.3 453.6M279.0 449.6L278.9 453.7M292.3 449.6L292.6 453.4M305.6 449.6L306.3 452.9M651.4 449.6L637.0 444.3M664.7 449.6L649.8 445.0M678.0 449.6L662.8 445.6M691.3 449.6L676.0 445.9M704.6 449.6L689.6 446.2M717.9 449.6L703.5 446.5M731.2 449.6L717.8 446.9M744.5 449.6L732.4 447.4M757.8 449.6L747.3 448.0M771.1 449.6L762.2 448.8M784.4 449.6L776.9 449.6M797.7 449.6L791.5 450.4M172.6 462.9L169.5 454.8M185.9 462.9L182.4 456.7M199.2 462.9L195.6 458.7M212.5 462.9L209.0 460.9M225.8 462.9L222.7 462.9M239.1 462.9L236.5 464.5M252.4 462.9L250.5 465.6M265.7 462.9L264.4 466.1M279.0 462.9L278.3 466.1M292.3 462.9L292.3 465.7M305.6 462.9L306.3 465.1M318.9 462.9L320.2 464.3M638.1 462.9L624.9 456.0M651.4 462.9L637.7 456.7M664.7 462.9L650.5 457.4M678.0 462.9L663.6 458.0M691.3 462.9L676.9 458.4M704.6 462.9L690.6 458.7M717.9 462.9L704.6 458.9M731.2 462.9L718.9 459.1M744.5 462.9L733.5 459.5M757.8 462.9L748.4 459.9M771.1 462.9L763.2 460.5M784.4 462.9L777.9 461.1M172.6 476.2L168.1 468.9M185.9 476.2L181.1 470.2M199.2 476.2L194.3 471.7M212.5 476.2L207.7 473.4M225.8 476.2L221.4 475.1M239.1 476.2L235.3 476.6M252.4 476.2L249.4 477.7M265.7 476.2L263.6 478.3M279.0 476.2L277.8 478.4M292.3 476.2L292.1 478.0M305.6 476.2L306.3 477.3M318.9 476.2L320.4 476.5M332.2 476.2L334.3 475.5M638.1 476.2L625.1 468.7M651.4 476.2L638.0 469.2M664.7 476.2L651.0 469.8M678.0 476.2L664.2 470.3M691.3 476.2L677.7 470.7M704.6 476.2L691.4 471.0M717.9 476.2L705.6 471.2M731.2 476.2L720.0 471.4M744.5 476.2L734.7 471.5M757.8 476.2L749.5 471.8M771.1 476.2L764.3 472.1M784.4 476.2L778.9 472.6M185.9 489.5L180.4 483.8M199.2 489.5L193.6 484.9M212.5 489.5L206.9 486.1M225.8 489.5L220.5 487.5M239.1 489.5L234.4 488.8M252.4 489.5L248.5 489.9M265.7 489.5L262.9 490.5M279.0 489.5L277.4 490.6M318.9 489.5L320.5 488.7M332.2 489.5L334.4 487.8M345.5 489.5L348.1 487.0M624.8 489.5L612.1 481.2M638.1 489.5L625.1 481.4M651.4 489.5L638.2 481.7M664.7 489.5L651.3 482.2M678.0 489.5L664.6 482.6M691.3 489.5L678.3 483.1M704.6 489.5L692.3 483.3M717.9 489.5L706.6 483.5M731.2 489.5L721.2 483.6M744.5 489.5L735.9 483.7M757.8 489.5L750.7 483.8M771.1 489.5L765.4 484.0M784.4 489.5L779.8 484.2M185.9 502.8L180.2 497.5M199.2 502.8L193.4 498.3M212.5 502.8L206.7 499.2M225.8 502.8L220.1 500.2M239.1 502.8L233.8 501.3M252.4 502.8L247.9 502.2M265.7 502.8L262.3 502.8M279.0 502.8L277.0 502.9M318.9 502.8L320.5 501.0M332.2 502.8L334.4 500.2M345.5 502.8L348.0 499.4M358.8 502.8L361.4 498.8M611.5 502.8L599.1 493.9M624.8 502.8L612.2 493.9M638.1 502.8L625.2 494.0M651.4 502.8L638.3 494.3M664.7 502.8L651.6 494.6M678.0 502.8L665.1 495.0M691.3 502.8L679.0 495.4M704.6 502.8L693.2 495.7M717.9 502.8L707.7 495.9M731.2 502.8L722.4 495.9M744.5 502.8L737.2 496.0M757.8 502.8L751.9 496.0M771.1 502.8L766.4 496.1M199.2 516.1L193.6 511.7M212.5 516.1L206.8 512.4M225.8 516.1L220.2 513.1M239.1 516.1L233.8 513.9M252.4 516.1L247.7 514.6M265.7 516.1L262.1 515.1M279.0 516.1L276.8 515.1M292.3 516.1L291.6 514.7M305.6 516.1L306.3 514.0M318.9 516.1L320.5 513.2M332.2 516.1L334.4 512.5M345.5 516.1L347.9 511.9M358.8 516.1L361.2 511.4M372.1 516.1L374.4 510.8M584.9 516.1L573.7 506.8M598.2 516.1L586.4 506.8M611.5 516.1L599.3 506.7M624.8 516.1L612.3 506.6M638.1 516.1L625.4 506.7M651.4 516.1L638.6 506.9M664.7 516.1L652.0 507.2M678.0 516.1L665.7 507.6M691.3 516.1L679.8 507.9M704.6 516.1L694.2 508.2M717.9 516.1L708.9 508.4M731.2 516.1L723.7 508.4M744.5 516.1L738.5 508.4M757.8 516.1L753.0 508.4M771.1 516.1L767.4 508.4M199.2 529.4L194.0 525.2M212.5 529.4L207.2 525.7M225.8 529.4L220.5 526.2M239.1 529.4L234.1 526.7M252.4 529.4L248.0 527.2M265.7 529.4L262.3 527.4M279.0 529.4L277.0 527.3M292.3 529.4L291.8 526.8M305.6 529.4L306.4 526.1M318.9 529.4L320.6 525.4M332.2 529.4L334.3 524.8M345.5 529.4L347.8 524.3M358.8 529.4L361.1 523.9M372.1 529.4L374.2 523.3M385.4 529.4L387.2 522.5M398.7 529.4L400.0 521.2M571.6 529.4L562.6 519.8M584.9 529.4L574.7 519.7M598.2 529.4L587.1 519.6M611.5 529.4L599.8 519.4M624.8 529.4L612.7 519.4M638.1 529.4L625.8 519.5M651.4 529.4L639.1 519.7M664.7 529.4L652.6 519.9M678.0 529.4L666.5 520.3M691.3 529.4L680.7 520.6M704.6 529.4L695.3 520.9M717.9 529.4L710.1 521.1M731.2 529.4L725.0 521.1M744.5 529.4L739.7 521.1M757.8 529.4L754.1 521.1M212.5 542.7L207.7 538.9M225.8 542.7L221.2 539.3M239.1 542.7L234.8 539.6M252.4 542.7L248.7 539.9M265.7 542.7L263.0 539.8M279.0 542.7L277.6 539.5M292.3 542.7L292.3 538.9M305.6 542.7L306.8 538.3M318.9 542.7L320.8 537.7M332.2 542.7L334.4 537.2M345.5 542.7L347.8 536.8M358.8 542.7L361.0 536.4M372.1 542.7L374.1 535.7M385.4 542.7L387.0 534.7M398.7 542.7L399.8 533.3M412.0 542.7L412.7 532.0M425.3 542.7L425.8 531.2M438.6 542.7L438.9 530.9M531.7 542.7L527.7 532.5M545.0 542.7L539.8 532.8M558.3 542.7L551.9 533.0M571.6 542.7L563.8 532.9M584.9 542.7L575.8 532.8M598.2 542.7L588.0 532.6M611.5 542.7L600.5 532.4M624.8 542.7L613.4 532.4M638.1 542.7L626.5 532.5M651.4 542.7L639.8 532.6M664.7 542.7L653.4 532.9M678.0 542.7L667.3 533.2M691.3 542.7L681.6 533.6M704.6 542.7L696.3 533.8M717.9 542.7L711.1 534.0M731.2 542.7L726.0 534.0M744.5 542.7L740.6 534.0M225.8 556.0L222.0 552.4M239.1 556.0L235.7 552.5M252.4 556.0L249.8 552.6M265.7 556.0L264.1 552.4M279.0 556.0L278.7 551.9M292.3 556.0L293.2 551.3M305.6 556.0L307.4 550.7M318.9 556.0L321.2 550.1M332.2 556.0L334.7 549.7M345.5 556.0L348.0 549.4M358.8 556.0L361.1 548.9M372.1 556.0L374.1 548.1M385.4 556.0L386.9 546.9M398.7 556.0L399.8 545.4M412.0 556.0L412.7 544.3M425.3 556.0L425.8 543.7M438.6 556.0L438.9 543.5M451.9 556.0L452.0 543.5M465.2 556.0L465.1 543.6M478.5 556.0L478.1 543.8M491.8 556.0L490.8 544.1M505.1 556.0L503.3 544.5M518.4 556.0L515.6 545.1M531.7 556.0L527.8 545.7M545.0 556.0L540.2 546.1M558.3 556.0L552.6 546.3M571.6 556.0L564.8 546.3M584.9 556.0L576.9 546.1M598.2 556.0L589.0 545.9M611.5 556.0L601.4 545.7M624.8 556.0L614.2 545.7M638.1 556.0L627.3 545.7M651.4 556.0L640.7 545.9M664.7 556.0L654.3 546.1M678.0 556.0L668.3 546.5M691.3 556.0L682.6 546.8M704.6 556.0L697.2 547.1M717.9 556.0L711.9 547.2M731.2 556.0L726.7 547.2M744.5 556.0L741.3 547.2M225.8 569.3L223.0 565.5M239.1 569.3L236.9 565.5M252.4 569.3L251.1 565.4M265.7 569.3L265.5 565.1M279.0 569.3L279.9 564.6M292.3 569.3L294.1 563.9M305.6 569.3L308.1 563.3M318.9 569.3L321.7 562.8M332.2 569.3L335.0 562.5M345.5 569.3L348.2 562.1M358.8 569.3L361.2 561.5M372.1 569.3L374.1 560.5M385.4 569.3L387.0 559.1M398.7 569.3L399.8 557.8M412.0 569.3L412.8 556.8M425.3 569.3L425.9 556.3M438.6 569.3L439.0 556.2M451.9 569.3L452.0 556.2M465.2 569.3L465.1 556.3M478.5 569.3L478.0 556.5M491.8 569.3L490.7 556.9M505.1 569.3L503.2 557.5M518.4 569.3L515.5 558.3M531.7 569.3L527.9 559.0M545.0 569.3L540.5 559.4M558.3 569.3L553.0 559.7M571.6 569.3L565.4 559.7M584.9 569.3L577.7 559.7M598.2 569.3L590.0 559.5M611.5 569.3L602.4 559.3M624.8 569.3L615.1 559.2M638.1 569.3L628.2 559.3M651.4 569.3L641.6 559.4M664.7 569.3L655.3 559.7M678.0 569.3L669.2 560.0M691.3 569.3L683.4 560.3M704.6 569.3L697.8 560.5M717.9 569.3L712.4 560.7M731.2 569.3L727.0 560.7M239.1 582.6L238.2 578.6M252.4 582.6L252.5 578.4M265.7 582.6L266.8 578.0M279.0 582.6L281.0 577.5M292.3 582.6L295.0 576.9M305.6 582.6L308.7 576.3M318.9 582.6L322.2 575.8M332.2 582.6L335.4 575.4M345.5 582.6L348.5 575.0M358.8 582.6L361.4 574.2M372.1 582.6L374.3 573.1M385.4 582.6L387.1 571.7M398.7 582.6L399.9 570.5M412.0 582.6L412.9 569.6M425.3 582.6L425.9 569.2M438.6 582.6L439.0 569.0M451.9 582.6L452.1 569.0M465.2 582.6L465.1 569.1M478.5 582.6L477.9 569.3M491.8 582.6L490.6 569.9M505.1 582.6L503.1 570.6M518.4 582.6L515.5 571.5M531.7 582.6L528.0 572.3M545.0 582.6L540.7 572.8M558.3 582.6L553.3 573.2M571.6 582.6L565.9 573.3M584.9 582.6L578.4 573.3M598.2 582.6L590.8 573.2M611.5 582.6L603.3 573.1M624.8 582.6L616.1 573.0M638.1 582.6L629.2 573.0M651.4 582.6L642.6 573.2M664.7 582.6L656.3 573.4M678.0 582.6L670.1 573.7M691.3 582.6L684.1 573.9M704.6 582.6L698.3 574.2M717.9 582.6L712.7 574.3M252.4 595.9L253.7 591.5M265.7 595.9L267.9 591.1M279.0 595.9L281.9 590.5M292.3 595.9L295.7 590.0M305.6 595.9L309.2 589.4M318.9 595.9L322.6 589.0M332.2 595.9L335.7 588.5M345.5 595.9L348.7 588.0M358.8 595.9L361.6 587.2M372.1 595.9L374.3 586.1M385.4 595.9L387.2 584.8M398.7 595.9L400.1 583.7M412.0 595.9L413.0 582.9M425.3 595.9L426.0 582.3M438.6 595.9L439.1 582.0M451.9 595.9L452.1 581.9M465.2 595.9L465.1 582.0M478.5 595.9L477.9 582.3M491.8 595.9L490.6 582.9M505.1 595.9L503.2 583.8M518.4 595.9L515.7 584.8M531.7 595.9L528.2 585.7M545.0 595.9L540.9 586.3M558.3 595.9L553.6 586.7M571.6 595.9L566.4 586.9M584.9 595.9L579.0 587.0M598.2 595.9L591.6 587.0M611.5 595.9L604.3 587.0M624.8 595.9L617.1 587.0M638.1 595.9L630.3 587.0M651.4 595.9L643.6 587.1M664.7 595.9L657.2 587.3M678.0 595.9L670.9 587.5M691.3 595.9L684.8 587.7M704.6 595.9L698.8 587.9M265.7 609.2L268.7 604.2M279.0 609.2L282.5 603.7M292.3 609.2L296.2 603.2M305.6 609.2L309.6 602.7M318.9 609.2L322.9 602.2M332.2 609.2L336.0 601.8M345.5 609.2L348.8 601.2M358.8 609.2L361.6 600.5M372.1 609.2L374.4 599.5M385.4 609.2L387.2 598.4M398.7 609.2L400.2 597.3M412.0 609.2L413.1 596.5M425.3 609.2L426.1 595.8M438.6 609.2L439.1 595.4M451.9 609.2L452.1 595.2M465.2 609.2L465.1 595.3M478.5 609.2L478.0 595.6M491.8 609.2L490.7 596.3M505.1 609.2L503.3 597.2M518.4 609.2L515.9 598.3M531.7 609.2L528.4 599.3M545.0 609.2L541.2 600.0M558.3 609.2L554.0 600.4M571.6 609.2L566.8 600.7M584.9 609.2L579.6 600.8M598.2 609.2L592.4 600.9M611.5 609.2L605.2 601.0M624.8 609.2L618.1 601.0M638.1 609.2L631.3 601.1M651.4 609.2L644.6 601.2M664.7 609.2L658.1 601.3M678.0 609.2L671.6 601.4M691.3 609.2L685.3 601.6M279.0 622.5L283.0 617.0M292.3 622.5L296.5 616.5M305.6 622.5L309.9 616.0M318.9 622.5L323.1 615.5M332.2 622.5L336.0 615.1M345.5 622.5L348.8 614.7M358.8 622.5L361.5 614.1M372.1 622.5L374.3 613.3M385.4 622.5L387.2 612.3M398.7 622.5L400.2 611.4M412.0 622.5L413.2 610.5M425.3 622.5L426.2 609.7M438.6 622.5L439.2 609.1M451.9 622.5L452.2 608.9M465.2 622.5L465.1 608.9M478.5 622.5L478.0 609.2M491.8 622.5L490.8 609.9M505.1 622.5L503.5 610.9M518.4 622.5L516.1 612.0M531.7 622.5L528.7 613.0M545.0 622.5L541.5 613.8M558.3 622.5L554.4 614.3M571.6 622.5L567.3 614.6M584.9 622.5L580.2 614.8M598.2 622.5L593.1 614.9M611.5 622.5L606.0 615.0M624.8 622.5L619.0 615.1M638.1 622.5L632.2 615.2M651.4 622.5L645.5 615.3M664.7 622.5L658.9 615.3M678.0 622.5L672.3 615.3M305.6 635.8L310.0 629.3M318.9 635.8L323.1 628.9M332.2 635.8L335.9 628.7M345.5 635.8L348.6 628.4M358.8 635.8L361.3 628.0M372.1 635.8L374.2 627.4M385.4 635.8L387.2 626.6M398.7 635.8L400.2 625.7M412.0 635.8L413.3 624.7M425.3 635.8L426.2 623.9M438.6 635.8L439.2 623.2M451.9 635.8L452.2 622.9M465.2 635.8L465.2 622.9M478.5 635.8L478.1 623.2M491.8 635.8L491.0 623.9M505.1 635.8L503.7 624.9M518.4 635.8L516.4 626.0M531.7 635.8L529.1 627.0M545.0 635.8L541.9 627.8M558.3 635.8L554.8 628.3M571.6 635.8L567.8 628.6M584.9 635.8L580.8 628.8M598.2 635.8L593.8 628.9M611.5 635.8L606.8 629.1M624.8 635.8L619.9 629.2M638.1 635.8L633.1 629.3M651.4 635.8L646.3 629.3M664.7 635.8L659.6 629.3M318.9 649.1L323.0 642.5M332.2 649.1L335.7 642.4M345.5 649.1L348.3 642.3M358.8 649.1L361.1 642.1M372.1 649.1L374.1 641.6M385.4 649.1L387.2 640.9M398.7 649.1L400.2 640.1M412.0 649.1L413.3 639.2M425.3 649.1L426.3 638.3M438.6 649.1L439.3 637.5M451.9 649.1L452.2 637.2M465.2 649.1L465.2 637.2M478.5 649.1L478.2 637.6M491.8 649.1L491.1 638.2M505.1 649.1L504.0 639.2M518.4 649.1L516.7 640.2M531.7 649.1L529.4 641.2M545.0 649.1L542.3 641.9M558.3 649.1L555.2 642.4M571.6 649.1L568.3 642.6M584.9 649.1L581.3 642.8M598.2 649.1L594.4 643.0M611.5 649.1L607.5 643.1M624.8 649.1L620.6 643.3M638.1 649.1L633.8 643.3M345.5 662.4L347.9 656.4M358.8 662.4L360.9 656.2M372.1 662.4L373.9 655.9M385.4 662.4L387.1 655.3M398.7 662.4L400.2 654.6M412.0 662.4L413.3 653.7M425.3 662.4L426.3 652.8M438.6 662.4L439.3 652.1M451.9 662.4L452.3 651.7M465.2 662.4L465.3 651.8M478.5 662.4L478.3 652.2M491.8 662.4L491.3 652.8M505.1 662.4L504.2 653.7M518.4 662.4L517.0 654.6M531.7 662.4L529.8 655.4M545.0 662.4L542.7 656.0M558.3 662.4L555.6 656.4M571.6 662.4L568.7 656.6M584.9 662.4L581.8 656.8M598.2 662.4L594.9 656.9M611.5 662.4L608.1 657.1M385.4 675.7L387.0 669.6M398.7 675.7L400.1 669.0M412.0 675.7L413.2 668.2M425.3 675.7L426.3 667.4M438.6 675.7L439.3 666.7M451.9 675.7L452.3 666.4M465.2 675.7L465.3 666.5M478.5 675.7L478.4 666.9M491.8 675.7L491.4 667.5M505.1 675.7L504.4 668.2M518.4 675.7L517.2 668.9M531.7 675.7L530.1 669.6M545.0 675.7L543.0 670.1M558.3 675.7L556.0 670.4M571.6 675.7L569.1 670.5M438.6 689.0L439.3 681.4M451.9 689.0L452.3 681.1M465.2 689.0L465.3 681.2M478.5 689.0L478.4 681.5M491.8 689.0L491.5 682.0M505.1 689.0L504.5 682.6M518.4 689.0L517.4 683.2" stroke="#0c2408" stroke-width="1.1" fill="none" opacity="0.8"/>
<path d="M428.4 33.2l1.0 -1.3M441.1 32.3l0.7 -1.4M453.6 31.6l0.5 -1.5M466.1 31.3l0.2 -1.6M478.8 31.5l0.1 -1.6M491.6 32.1l-0.0 -1.6M504.7 32.7l-0.1 -1.6M517.9 33.4l-0.2 -1.6M531.2 34.1l-0.3 -1.6M375.4 48.8l1.4 -0.7M389.0 48.3l1.4 -0.9M402.3 47.7l1.3 -1.0M415.5 47.0l1.1 -1.1M428.4 46.2l0.9 -1.3M441.2 45.2l0.7 -1.4M453.7 44.5l0.5 -1.5M466.3 44.2l0.3 -1.6M478.9 44.3l0.1 -1.6M491.8 44.8l-0.0 -1.6M504.8 45.4l-0.1 -1.6M517.9 46.2l-0.2 -1.6M531.2 46.9l-0.2 -1.6M544.5 47.7l-0.3 -1.6M558.0 48.6l-0.2 -1.6M571.5 49.6l-0.2 -1.6M584.9 50.6l0.1 -1.6M347.2 63.3l1.5 -0.5M361.4 62.7l1.5 -0.7M375.3 62.1l1.4 -0.8M388.9 61.5l1.3 -0.9M402.3 60.8l1.2 -1.0M415.5 60.0l1.1 -1.2M428.5 59.2l0.9 -1.3M441.3 58.3l0.7 -1.4M453.9 57.5l0.5 -1.5M466.5 57.2l0.3 -1.6M479.1 57.2l0.1 -1.6M491.9 57.6l0.0 -1.6M504.9 58.2l-0.1 -1.6M518.0 58.9l-0.1 -1.6M531.2 59.7l-0.2 -1.6M544.5 60.6l-0.2 -1.6M558.0 61.5l-0.2 -1.6M571.5 62.6l-0.1 -1.6M584.9 63.7l0.1 -1.6M332.1 77.2l1.6 -0.1M346.8 76.8l1.5 -0.5M361.2 76.2l1.5 -0.6M375.2 75.5l1.4 -0.8M388.9 74.7l1.3 -0.9M402.4 74.0l1.2 -1.1M415.6 73.1l1.1 -1.2M428.7 72.2l0.9 -1.3M441.5 71.4l0.7 -1.4M454.2 70.7l0.5 -1.5M466.8 70.3l0.4 -1.6M479.4 70.3l0.2 -1.6M492.2 70.6l0.1 -1.6M505.1 71.1l-0.0 -1.6M518.1 71.8l-0.1 -1.6M531.3 72.5l-0.1 -1.6M544.6 73.4l-0.2 -1.6M558.0 74.4l-0.2 -1.6M571.5 75.5l-0.1 -1.6M584.9 76.8l0.1 -1.6M624.8 77.2l1.3 0.9M638.6 77.6l1.2 1.1M304.9 91.3l-1.1 1.2M319.0 90.0l-0.2 1.6M331.9 90.4l1.6 0.4M346.6 90.3l1.6 -0.3M361.1 89.6l1.5 -0.6M375.2 88.8l1.4 -0.8M389.0 88.0l1.3 -0.9M402.6 87.2l1.2 -1.0M415.9 86.3l1.1 -1.2M429.0 85.5l1.0 -1.3M441.9 84.7l0.8 -1.4M454.7 84.1l0.6 -1.5M467.3 83.7l0.5 -1.5M479.9 83.6l0.3 -1.6M492.6 83.8l0.2 -1.6M505.4 84.2l0.1 -1.6M518.3 84.7l-0.0 -1.6M531.4 85.4l-0.1 -1.6M544.6 86.2l-0.1 -1.6M558.0 87.2l-0.2 -1.6M571.4 88.5l-0.1 -1.6M584.9 89.9l0.0 -1.6M624.9 90.6l1.2 1.1M638.6 91.0l1.1 1.2M652.1 91.4l1.0 1.2M665.6 91.5l1.0 1.2M276.2 106.2l-1.2 1.0M290.4 105.7l-1.1 1.1M304.9 104.8l-0.9 1.3M318.9 103.7l-0.1 1.6M332.1 103.7l1.4 0.7M346.6 103.7l1.6 -0.2M361.1 103.0l1.5 -0.5M375.3 102.2l1.4 -0.7M389.2 101.4l1.3 -0.9M402.9 100.5l1.3 -1.0M416.3 99.7l1.2 -1.1M429.5 98.9l1.0 -1.2M442.6 98.2l0.9 -1.3M455.4 97.7l0.8 -1.4M468.1 97.3l0.7 -1.5M480.7 97.2l0.5 -1.5M493.2 97.2l0.3 -1.6M505.9 97.5l0.2 -1.6M518.7 97.9l0.1 -1.6M531.7 98.4l-0.0 -1.6M544.8 99.2l-0.1 -1.6M558.0 100.2l-0.1 -1.6M571.4 101.5l-0.2 -1.6M584.9 103.1l-0.1 -1.6M624.8 103.9l0.8 1.4M638.5 104.4l0.8 1.4M652.0 104.7l0.9 1.3M665.5 104.9l0.9 1.3M678.9 105.1l0.9 1.3M263.4 119.6l-1.1 1.2M277.0 119.4l-1.0 1.2M291.0 119.0l-0.9 1.3M305.1 118.2l-0.6 1.5M318.9 117.3l0.2 1.6M332.4 117.2l1.4 0.8M346.8 117.1l1.6 0.0M361.3 116.5l1.6 -0.4M375.6 115.7l1.5 -0.6M389.6 114.8l1.4 -0.8M403.3 113.9l1.3 -0.9M416.9 113.1l1.2 -1.0M430.2 112.5l1.2 -1.1M443.4 111.9l1.1 -1.2M456.4 111.5l1.0 -1.2M469.2 111.2l0.9 -1.3M481.7 111.0l0.7 -1.4M494.2 110.9l0.6 -1.5M506.6 111.0l0.4 -1.6M519.2 111.2l0.2 -1.6M532.0 111.6l0.1 -1.6M544.9 112.3l-0.0 -1.6M558.0 113.4l-0.1 -1.6M571.2 114.8l-0.2 -1.6M584.8 116.6l-0.4 -1.5M624.8 117.2l0.2 1.6M638.3 117.8l0.4 1.6M651.8 118.1l0.5 1.5M665.3 118.3l0.7 1.5M678.8 118.6l0.8 1.4M692.4 118.9l0.8 1.4M251.4 132.4l-0.7 1.4M264.6 132.5l-0.8 1.4M278.0 132.5l-0.7 1.4M291.7 132.2l-0.5 1.5M305.5 131.6l-0.1 1.6M319.2 131.0l0.6 1.5M332.9 130.8l1.4 0.8M347.2 130.6l1.6 0.2M361.7 129.9l1.6 -0.3M375.9 129.1l1.5 -0.5M390.0 128.2l1.4 -0.7M403.9 127.4l1.4 -0.8M417.6 126.7l1.3 -0.9M431.1 126.1l1.3 -0.9M444.5 125.7l1.2 -1.0M457.6 125.4l1.2 -1.1M470.4 125.1l1.1 -1.1M483.0 124.9l1.0 -1.2M495.4 124.8l0.9 -1.4M507.6 124.7l0.7 -1.5M520.0 124.8l0.4 -1.5M532.4 125.1l0.2 -1.6M545.1 125.8l0.0 -1.6M557.9 126.9l-0.2 -1.6M571.0 128.5l-0.5 -1.5M584.6 130.1l-1.1 -1.2M598.4 130.4l-1.6 0.2M611.4 130.6l-1.1 1.2M624.5 131.0l-0.6 1.5M637.9 131.4l-0.3 1.6M651.4 131.6l0.0 1.6M665.0 131.9l0.3 1.6M678.6 132.2l0.5 1.5M692.3 132.6l0.7 1.5M706.1 133.1l0.8 1.4M238.9 145.2l-0.2 1.6M252.2 145.4l-0.2 1.6M265.5 145.5l-0.2 1.6M278.9 145.5l-0.1 1.6M292.4 145.4l0.1 1.6M306.0 145.1l0.4 1.5M319.7 144.8l1.0 1.3M333.6 144.5l1.4 0.8M347.8 144.1l1.6 0.2M362.1 143.4l1.6 -0.2M376.4 142.5l1.5 -0.4M390.6 141.7l1.5 -0.6M404.6 140.9l1.4 -0.7M418.4 140.3l1.4 -0.8M432.0 139.8l1.4 -0.8M445.5 139.5l1.4 -0.8M458.7 139.2l1.3 -0.9M471.7 139.0l1.3 -0.9M484.4 138.9l1.2 -1.0M496.7 138.7l1.1 -1.1M508.8 138.6l0.9 -1.3M520.8 138.6l0.7 -1.4M532.9 138.9l0.4 -1.5M545.2 139.6l0.1 -1.6M557.7 140.9l-0.3 -1.6M570.7 142.5l-1.0 -1.3M584.0 143.5l-1.5 -0.4M597.0 144.1l-1.5 0.5M610.2 144.6l-1.3 0.9M623.7 145.0l-1.1 1.2M637.2 145.2l-0.8 1.4M650.9 145.3l-0.5 1.5M664.5 145.6l-0.2 1.6M678.3 145.9l0.2 1.6M692.1 146.4l0.5 1.5M706.1 147.0l0.6 1.5M719.9 147.5l0.7 1.4M225.9 158.3l0.1 1.6M239.4 158.4l0.3 1.6M252.9 158.6l0.5 1.5M266.3 158.8l0.5 1.5M279.8 158.9l0.6 1.5M293.2 158.9l0.7 1.4M306.7 158.7l0.9 1.3M320.4 158.5l1.2 1.1M334.3 158.1l1.4 0.7M348.4 157.6l1.6 0.3M362.7 156.8l1.6 -0.1M377.0 156.0l1.6 -0.3M391.2 155.1l1.5 -0.5M405.2 154.4l1.5 -0.6M419.1 153.8l1.5 -0.7M432.9 153.4l1.4 -0.7M446.4 153.1l1.4 -0.7M459.7 153.0l1.4 -0.7M472.8 152.8l1.4 -0.8M485.6 152.7l1.4 -0.8M497.9 152.5l1.3 -0.9M510.0 152.4l1.2 -1.1M521.7 152.4l0.9 -1.3M533.4 152.9l0.6 -1.5M545.1 153.9l0.1 -1.6M557.4 155.3l-0.7 -1.4M570.1 156.3l-1.5 -0.7M582.8 157.2l-1.6 0.1M595.7 157.9l-1.5 0.6M609.0 158.5l-1.4 0.8M622.6 158.8l-1.2 1.0M636.3 159.0l-1.1 1.2M650.1 159.1l-0.8 1.4M664.0 159.3l-0.5 1.5M677.9 159.7l-0.1 1.6M691.9 160.2l0.3 1.6M705.9 160.7l0.5 1.5M719.9 161.2l0.7 1.4M733.6 161.5l0.7 1.4M212.7 171.6l0.2 1.6M226.3 171.7l0.5 1.5M239.9 171.9l0.7 1.4M253.6 172.1l0.9 1.3M267.2 172.3l1.0 1.3M280.8 172.4l1.0 1.2M294.2 172.5l1.1 1.2M307.7 172.4l1.1 1.1M321.2 172.1l1.3 1.0M335.0 171.7l1.4 0.7M348.9 171.1l1.6 0.4M363.1 170.3l1.6 0.0M377.5 169.4l1.6 -0.3M391.7 168.5l1.5 -0.4M405.8 167.8l1.5 -0.5M419.8 167.3l1.5 -0.6M433.5 166.9l1.5 -0.6M447.1 166.7l1.5 -0.6M460.5 166.6l1.5 -0.6M473.6 166.5l1.5 -0.7M486.4 166.4l1.4 -0.7M498.9 166.2l1.4 -0.8M511.0 166.2l1.3 -0.9M522.4 166.3l1.1 -1.1M533.5 167.1l0.8 -1.4M544.9 168.5l-0.1 -1.6M557.1 169.5l-1.3 -0.9M569.1 170.2l-1.6 -0.1M581.6 171.1l-1.6 0.4M594.7 171.7l-1.5 0.6M608.1 172.1l-1.4 0.8M621.7 172.4l-1.3 0.9M635.5 172.6l-1.2 1.1M649.4 172.8l-1.0 1.3M663.4 173.0l-0.7 1.4M677.5 173.3l-0.3 1.6M691.6 173.8l0.1 1.6M705.7 174.3l0.4 1.5M719.7 174.7l0.6 1.5M733.4 174.9l0.7 1.4M746.9 175.1l0.7 1.4M213.1 185.0l0.6 1.5M226.8 185.2l0.9 1.3M240.6 185.4l1.0 1.2M254.4 185.6l1.1 1.1M268.1 185.8l1.2 1.1M281.7 185.9l1.2 1.0M295.2 186.0l1.2 1.0M308.5 185.9l1.3 1.0M322.0 185.7l1.3 0.9M335.5 185.3l1.4 0.7M349.3 184.7l1.5 0.4M363.5 183.9l1.6 0.1M377.8 182.9l1.6 -0.2M392.1 182.0l1.6 -0.4M406.3 181.3l1.5 -0.5M420.3 180.8l1.5 -0.5M434.0 180.4l1.5 -0.5M544.7 183.0l-0.6 -1.5M556.3 183.3l-1.6 -0.2M568.1 184.2l-1.6 0.3M580.8 184.8l-1.5 0.5M594.0 185.3l-1.5 0.6M607.5 185.6l-1.4 0.7M621.2 185.8l-1.4 0.8M635.0 186.1l-1.3 1.0M649.0 186.3l-1.1 1.2M663.0 186.5l-0.8 1.4M677.2 186.8l-0.4 1.5M691.3 187.2l0.0 1.6M705.4 187.6l0.3 1.6M719.4 188.0l0.5 1.5M733.1 188.3l0.6 1.5M746.6 188.5l0.6 1.5M199.9 198.3l0.7 1.4M213.6 198.5l0.9 1.3M227.5 198.7l1.1 1.2M241.4 198.9l1.2 1.1M255.2 199.1l1.3 1.0M268.9 199.2l1.3 0.9M282.4 199.4l1.3 0.9M295.8 199.4l1.3 0.9M309.1 199.4l1.3 0.9M322.4 199.3l1.3 0.9M335.8 198.9l1.4 0.8M349.5 198.3l1.5 0.5M363.5 197.5l1.6 0.2M377.9 196.6l1.6 -0.1M392.3 195.6l1.6 -0.3M567.4 197.9l-1.6 0.4M580.3 198.4l-1.5 0.5M593.6 198.8l-1.5 0.6M607.1 199.0l-1.4 0.7M620.8 199.2l-1.4 0.8M634.7 199.5l-1.3 1.0M648.7 199.7l-1.1 1.1M662.8 199.9l-0.9 1.3M676.9 200.2l-0.5 1.5M691.0 200.5l-0.1 1.6M705.0 200.9l0.2 1.6M718.9 201.2l0.4 1.6M732.6 201.5l0.5 1.5M746.1 201.8l0.5 1.5M759.4 202.1l0.5 1.5M200.6 211.9l1.0 1.3M214.4 212.1l1.1 1.1M228.3 212.3l1.2 1.0M242.1 212.4l1.3 0.9M255.8 212.5l1.3 0.9M269.4 212.7l1.3 0.9M282.9 212.8l1.3 0.9M296.1 212.8l1.3 0.9M309.3 212.8l1.3 0.9M322.5 212.7l1.3 0.9M335.7 212.5l1.3 0.9M349.2 212.0l1.4 0.7M363.1 211.4l1.5 0.4M377.4 210.4l1.6 0.1M593.3 212.1l-1.5 0.6M606.9 212.3l-1.5 0.7M620.6 212.6l-1.4 0.8M634.5 212.8l-1.3 0.9M648.5 213.0l-1.2 1.1M662.5 213.2l-0.9 1.3M676.6 213.4l-0.7 1.5M690.5 213.7l-0.3 1.6M704.4 214.0l-0.1 1.6M718.2 214.4l0.1 1.6M731.9 214.8l0.2 1.6M745.3 215.2l0.3 1.6M758.6 215.6l0.2 1.6M771.8 216.1l0.2 1.6M187.6 225.4l1.1 1.2M201.5 225.6l1.2 1.1M215.3 225.7l1.3 1.0M229.1 225.8l1.3 0.9M242.8 225.9l1.3 0.9M256.4 226.0l1.4 0.9M269.8 226.1l1.3 0.9M283.0 226.2l1.3 0.9M296.1 226.2l1.3 0.9M309.2 226.2l1.3 1.0M322.3 226.1l1.3 1.0M335.4 226.0l1.3 1.0M348.7 225.7l1.3 0.9M606.7 225.6l-1.5 0.6M620.5 225.8l-1.4 0.8M634.3 226.0l-1.3 0.9M648.3 226.2l-1.2 1.0M662.2 226.4l-1.0 1.2M676.1 226.5l-0.8 1.4M689.9 226.8l-0.6 1.5M703.7 227.0l-0.4 1.5M717.3 227.4l-0.2 1.6M730.8 227.9l-0.1 1.6M744.2 228.5l-0.1 1.6M757.5 229.1l-0.1 1.6M770.7 229.8l-0.1 1.6M188.3 238.8l1.2 1.0M202.3 239.1l1.3 1.0M216.2 239.3l1.3 0.9M229.9 239.4l1.4 0.9M243.4 239.4l1.4 0.8M256.8 239.5l1.4 0.8M269.9 239.5l1.3 0.9M283.0 239.5l1.3 0.9M296.0 239.5l1.3 1.0M309.0 239.5l1.2 1.0M322.0 239.5l1.2 1.0M335.1 239.4l1.2 1.1M620.3 239.0l-1.4 0.7M634.1 239.2l-1.4 0.8M647.9 239.3l-1.3 0.9M661.6 239.4l-1.2 1.0M675.3 239.6l-1.1 1.2M689.0 239.8l-1.0 1.3M702.5 240.0l-0.9 1.4M716.0 240.5l-0.7 1.4M729.4 241.0l-0.6 1.5M742.8 241.8l-0.5 1.5M756.1 242.6l-0.5 1.5M769.3 243.5l-0.4 1.5M782.6 244.4l-0.4 1.6M174.3 251.7l1.2 1.1M188.5 252.1l1.3 1.0M202.8 252.5l1.3 0.9M216.8 252.8l1.4 0.8M230.6 252.9l1.4 0.8M244.0 252.9l1.4 0.8M257.1 252.9l1.4 0.8M270.1 252.9l1.3 0.9M282.9 252.9l1.3 0.9M295.8 252.9l1.3 1.0M308.7 252.8l1.2 1.1M321.7 252.8l1.2 1.1M334.7 252.7l1.1 1.1M633.5 252.2l-1.5 0.7M647.1 252.3l-1.4 0.7M660.7 252.4l-1.4 0.8M674.1 252.6l-1.4 0.9M687.6 252.8l-1.3 0.9M700.9 253.0l-1.2 1.0M714.3 253.5l-1.2 1.1M727.6 254.1l-1.1 1.2M740.9 254.9l-0.9 1.3M754.3 255.9l-0.8 1.4M767.8 256.9l-0.7 1.4M781.3 257.8l-0.6 1.5M174.4 264.9l1.2 1.0M188.6 265.3l1.3 0.9M203.0 265.7l1.4 0.8M217.2 266.0l1.4 0.8M231.0 266.2l1.4 0.8M244.5 266.3l1.4 0.8M257.6 266.3l1.4 0.8M270.3 266.3l1.4 0.8M282.9 266.2l1.3 0.9M295.7 266.2l1.2 1.0M308.5 266.1l1.2 1.1M321.4 266.1l1.1 1.2M645.9 265.2l-1.5 0.5M659.2 265.3l-1.5 0.5M672.5 265.5l-1.5 0.6M685.6 265.7l-1.5 0.6M698.8 266.0l-1.5 0.6M712.0 266.4l-1.4 0.7M725.3 267.1l-1.4 0.8M738.8 267.9l-1.3 1.0M752.5 269.0l-1.1 1.2M766.2 270.0l-0.9 1.3M780.0 271.0l-0.8 1.4M174.4 278.0l1.3 0.9M188.7 278.4l1.4 0.8M203.1 278.8l1.4 0.8M217.4 279.1l1.4 0.7M231.4 279.3l1.4 0.7M245.0 279.5l1.4 0.7M258.1 279.5l1.4 0.7M270.7 279.5l1.4 0.8M283.2 279.5l1.3 0.9M295.7 279.5l1.2 1.0M308.4 279.4l1.1 1.1M644.2 278.1l-1.6 0.3M657.3 278.2l-1.6 0.3M670.4 278.3l-1.6 0.3M683.3 278.5l-1.6 0.4M696.3 278.8l-1.6 0.4M709.4 279.2l-1.5 0.5M722.8 279.9l-1.5 0.6M736.6 280.8l-1.4 0.7M750.6 281.8l-1.3 0.9M764.8 282.9l-1.1 1.1M779.0 283.9l-1.0 1.3M793.0 284.7l-0.8 1.4M160.2 290.6l1.3 0.9M174.4 291.0l1.4 0.8M188.8 291.4l1.4 0.7M203.2 291.8l1.5 0.6M217.6 292.1l1.5 0.6M231.7 292.4l1.5 0.6M245.4 292.5l1.5 0.6M258.6 292.7l1.5 0.6M271.3 292.8l1.4 0.7M283.6 292.8l1.4 0.8M295.9 292.8l1.3 1.0M308.5 292.8l1.1 1.1M655.1 291.1l-1.6 0.2M668.0 291.2l-1.6 0.2M680.8 291.3l-1.6 0.2M693.8 291.6l-1.6 0.2M707.0 292.0l-1.6 0.3M720.6 292.7l-1.6 0.4M734.7 293.5l-1.5 0.5M749.1 294.6l-1.4 0.7M763.7 295.7l-1.3 1.0M778.2 296.7l-1.1 1.2M792.5 297.5l-0.9 1.3M160.1 303.6l1.5 0.5M174.4 303.9l1.5 0.5M188.9 304.2l1.5 0.5M203.4 304.6l1.5 0.5M217.8 305.0l1.5 0.5M231.9 305.3l1.5 0.5M245.7 305.6l1.5 0.5M258.9 305.8l1.5 0.6M271.7 305.9l1.5 0.6M284.0 306.1l1.4 0.8M296.3 306.2l1.3 0.9M652.5 304.0l-1.6 0.1M665.4 304.1l-1.6 0.1M678.3 304.2l-1.6 0.1M691.4 304.5l-1.6 0.1M704.8 304.9l-1.6 0.2M718.7 305.5l-1.6 0.3M733.2 306.4l-1.5 0.4M748.0 307.5l-1.5 0.6M763.0 308.5l-1.3 0.9M777.8 309.5l-1.2 1.1M792.4 310.3l-1.0 1.3M160.1 316.6l1.6 -0.1M174.5 316.7l1.6 0.1M189.0 317.0l1.6 0.2M203.6 317.4l1.6 0.3M218.0 317.8l1.6 0.4M232.1 318.3l1.5 0.4M245.8 318.6l1.5 0.5M259.1 318.9l1.5 0.5M271.8 319.2l1.5 0.6M284.2 319.4l1.4 0.8M296.5 319.6l1.3 0.9M649.9 317.0l-1.6 0.0M662.8 317.1l-1.6 0.1M675.9 317.2l-1.6 0.1M689.2 317.5l-1.6 0.1M703.0 317.9l-1.6 0.1M717.2 318.5l-1.6 0.2M732.1 319.4l-1.6 0.3M747.3 320.4l-1.5 0.5M762.7 321.4l-1.4 0.8M777.8 322.3l-1.2 1.0M792.6 323.0l-1.0 1.2M160.5 329.3l1.4 -0.7M174.7 329.3l1.5 -0.4M189.1 329.6l1.6 -0.1M203.7 330.1l1.6 0.1M218.1 330.7l1.6 0.2M232.2 331.3l1.6 0.3M245.8 331.8l1.5 0.4M259.0 332.2l1.5 0.5M271.7 332.6l1.5 0.6M284.1 332.9l1.4 0.8M296.5 333.1l1.3 1.0M647.4 330.0l-1.6 0.0M660.6 330.1l-1.6 0.0M673.9 330.2l-1.6 0.0M687.5 330.5l-1.6 0.1M701.6 330.9l-1.6 0.1M716.1 331.5l-1.6 0.2M731.3 332.3l-1.6 0.3M746.9 333.4l-1.5 0.5M762.6 334.3l-1.4 0.7M778.0 335.1l-1.2 1.0M792.9 335.6l-1.0 1.2M160.9 341.5l1.1 -1.2M175.0 341.8l1.4 -0.8M189.3 342.2l1.5 -0.4M203.7 342.9l1.6 -0.1M218.0 343.6l1.6 0.1M232.0 344.4l1.6 0.3M245.6 345.0l1.5 0.4M258.7 345.6l1.5 0.6M271.3 346.0l1.4 0.7M283.8 346.4l1.3 0.9M296.3 346.6l1.2 1.0M659.0 343.1l-1.6 -0.0M672.5 343.3l-1.6 0.0M686.4 343.5l-1.6 0.0M700.6 343.8l-1.6 0.1M715.4 344.4l-1.6 0.1M730.9 345.3l-1.6 0.2M746.8 346.2l-1.5 0.4M762.7 347.1l-1.4 0.7M778.2 347.8l-1.3 1.0M793.1 348.2l-1.1 1.2M161.3 353.4l0.9 -1.3M175.2 354.1l1.2 -1.1M189.3 354.8l1.4 -0.7M203.6 355.7l1.6 -0.3M217.8 356.7l1.6 0.1M231.7 357.7l1.6 0.3M245.1 358.4l1.5 0.5M258.1 359.1l1.5 0.7M270.8 359.6l1.4 0.8M283.4 359.9l1.3 1.0M295.9 360.2l1.1 1.1M658.2 356.1l-1.6 -0.0M671.8 356.2l-1.6 -0.0M685.7 356.4l-1.6 -0.0M700.1 356.8l-1.6 0.0M715.1 357.3l-1.6 0.1M730.6 358.1l-1.6 0.2M746.7 359.0l-1.6 0.4M762.7 359.9l-1.5 0.6M778.3 360.5l-1.3 0.9M793.2 360.8l-1.2 1.1M161.4 365.2l0.7 -1.5M175.2 366.3l1.0 -1.3M189.2 367.5l1.3 -0.9M203.2 368.7l1.5 -0.4M217.2 369.9l1.6 0.0M231.0 371.0l1.6 0.4M244.3 371.9l1.5 0.6M257.4 372.6l1.4 0.8M270.1 373.1l1.3 1.0M282.8 373.5l1.2 1.1M295.5 373.7l1.0 1.2M658.0 369.1l-1.6 -0.1M671.7 369.2l-1.6 -0.0M685.7 369.4l-1.6 -0.0M700.1 369.7l-1.6 -0.0M715.1 370.2l-1.6 0.0M730.6 370.9l-1.6 0.1M746.6 371.8l-1.6 0.3M762.5 372.6l-1.5 0.5M778.1 373.2l-1.4 0.8M793.1 373.6l-1.2 1.0M161.4 377.1l0.5 -1.5M175.1 378.5l0.8 -1.4M188.8 380.2l1.1 -1.1M202.6 381.8l1.5 -0.6M216.4 383.2l1.6 0.0M230.0 384.4l1.5 0.5M243.4 385.4l1.4 0.8M256.4 386.1l1.3 1.0M269.3 386.6l1.1 1.1M282.1 387.0l1.0 1.2M295.0 387.2l0.9 1.3M658.5 382.1l-1.6 -0.1M672.2 382.1l-1.6 -0.1M686.2 382.3l-1.6 -0.1M700.5 382.6l-1.6 -0.0M715.4 383.1l-1.6 0.0M730.8 383.8l-1.6 0.1M746.5 384.7l-1.6 0.2M762.3 385.5l-1.5 0.4M777.7 386.1l-1.5 0.7M792.8 386.5l-1.3 0.9M161.2 389.1l0.4 -1.5M174.8 390.8l0.6 -1.5M188.3 393.0l0.9 -1.3M201.7 395.0l1.4 -0.8M215.2 396.5l1.6 0.1M228.8 397.8l1.5 0.7M242.2 398.8l1.3 1.0M255.4 399.6l1.1 1.2M268.4 400.1l1.0 1.3M281.4 400.4l0.8 1.4M294.4 400.5l0.7 1.4M645.9 394.9l-1.6 -0.1M659.4 395.0l-1.6 -0.1M673.1 395.1l-1.6 -0.1M687.0 395.3l-1.6 -0.1M701.2 395.6l-1.6 -0.1M716.0 396.1l-1.6 -0.0M731.1 396.8l-1.6 0.0M746.6 397.6l-1.6 0.2M762.1 398.4l-1.6 0.3M777.4 399.1l-1.5 0.6M792.4 399.5l-1.4 0.8M160.9 401.4l0.3 -1.6M174.3 403.3l0.4 -1.5M187.6 405.8l0.7 -1.5M200.7 408.3l1.2 -1.1M213.8 409.8l1.6 0.1M227.5 410.9l1.3 0.9M241.1 412.1l1.0 1.2M254.4 412.8l0.9 1.4M267.6 413.3l0.7 1.4M280.7 413.6l0.6 1.5M293.8 413.7l0.6 1.5M647.3 407.7l-1.6 -0.2M660.6 407.9l-1.6 -0.2M674.2 408.0l-1.6 -0.2M688.0 408.2l-1.6 -0.1M702.2 408.5l-1.6 -0.1M716.7 409.0l-1.6 -0.1M731.6 409.7l-1.6 0.0M746.8 410.5l-1.6 0.1M762.1 411.3l-1.6 0.3M777.3 412.1l-1.5 0.5M792.2 412.6l-1.4 0.7M160.4 414.2l0.2 -1.6M173.6 416.1l0.2 -1.6M186.8 418.8l0.3 -1.6M199.8 421.7l0.7 -1.4M212.2 423.0l1.6 -0.1M226.4 423.8l1.0 1.3M240.0 425.1l0.7 1.5M253.4 425.9l0.5 1.5M266.7 426.4l0.5 1.5M280.0 426.6l0.4 1.5M293.2 426.5l0.4 1.5M306.5 426.4l0.4 1.5M648.9 420.4l-1.6 -0.3M662.1 420.7l-1.6 -0.2M675.5 420.9l-1.6 -0.2M689.2 421.1l-1.6 -0.2M703.2 421.4l-1.6 -0.2M717.6 421.9l-1.6 -0.1M732.3 422.6l-1.6 -0.1M747.3 423.3l-1.6 0.1M762.5 424.2l-1.6 0.2M777.5 424.9l-1.5 0.4M792.2 425.5l-1.5 0.7M159.6 427.4l0.1 -1.6M172.6 429.3l0.0 -1.6M185.8 431.8l-0.0 -1.6M199.1 434.8l-0.1 -1.6M225.8 436.3l0.0 1.6M239.2 437.9l0.1 1.6M252.6 438.8l0.2 1.6M266.0 439.2l0.2 1.6M279.4 439.3l0.2 1.6M292.8 439.2l0.3 1.6M306.2 438.8l0.4 1.6M637.6 432.4l-1.5 -0.4M650.4 433.0l-1.6 -0.4M663.4 433.4l-1.6 -0.3M676.7 433.7l-1.6 -0.3M690.3 433.9l-1.6 -0.3M704.2 434.2l-1.6 -0.2M718.5 434.6l-1.6 -0.2M733.2 435.2l-1.6 -0.2M748.1 435.9l-1.6 -0.1M763.1 436.7l-1.6 0.1M778.0 437.4l-1.6 0.3M792.6 438.0l-1.5 0.5M171.5 442.8l-0.3 -1.6M184.6 445.0l-0.4 -1.5M198.1 447.5l-0.8 -1.4M212.2 449.4l-1.4 -0.8M225.7 449.7l-1.3 0.9M238.7 450.6l-0.7 1.5M252.0 451.4l-0.3 1.6M265.5 451.9l-0.2 1.6M279.0 451.9l-0.0 1.6M292.5 451.6l0.1 1.6M305.9 451.1l0.4 1.6M638.7 444.9l-1.5 -0.6M651.5 445.6l-1.5 -0.5M664.5 446.0l-1.5 -0.4M677.8 446.4l-1.6 -0.4M691.4 446.6l-1.6 -0.4M705.3 446.9l-1.6 -0.3M719.6 447.2l-1.6 -0.3M734.2 447.7l-1.6 -0.3M749.0 448.3l-1.6 -0.2M764.0 448.9l-1.6 -0.1M778.7 449.6l-1.6 -0.0M793.3 450.2l-1.6 0.2M170.2 456.5l-0.6 -1.5M183.3 458.2l-0.8 -1.4M196.7 460.1l-1.1 -1.2M210.6 461.8l-1.4 -0.8M224.5 462.9l-1.6 -0.0M238.1 463.5l-1.4 0.8M251.5 464.1l-0.9 1.3M265.1 464.4l-0.6 1.5M278.7 464.3l-0.3 1.6M292.3 463.9l-0.0 1.6M305.7 463.4l0.5 1.5M319.0 463.0l1.1 1.1M626.5 456.8l-1.4 -0.7M639.3 457.4l-1.5 -0.7M652.2 458.0l-1.5 -0.6M665.3 458.6l-1.5 -0.5M678.7 458.9l-1.5 -0.5M692.3 459.2l-1.5 -0.5M706.3 459.4l-1.5 -0.5M720.6 459.7l-1.5 -0.5M735.3 460.0l-1.5 -0.5M750.1 460.5l-1.5 -0.5M764.9 461.0l-1.5 -0.5M779.6 461.6l-1.5 -0.4M169.1 470.4l-0.8 -1.4M182.2 471.6l-1.0 -1.3M195.6 472.9l-1.2 -1.1M209.3 474.3l-1.4 -0.8M223.1 475.5l-1.6 -0.4M237.1 476.4l-1.6 0.2M251.0 476.9l-1.4 0.7M264.9 477.0l-1.1 1.1M278.7 476.8l-0.7 1.4M292.3 476.2l-0.2 1.6M305.3 475.8l0.8 1.4M318.6 476.1l1.6 0.3M332.6 476.1l1.5 -0.5M626.7 469.6l-1.4 -0.8M639.6 470.0l-1.4 -0.7M652.6 470.5l-1.4 -0.7M665.8 471.0l-1.5 -0.6M679.3 471.4l-1.5 -0.6M693.1 471.7l-1.5 -0.6M707.2 471.9l-1.5 -0.6M721.7 472.1l-1.5 -0.6M736.3 472.3l-1.4 -0.7M751.1 472.6l-1.4 -0.8M765.8 473.0l-1.4 -0.8M780.4 473.6l-1.3 -0.9M181.6 485.1l-1.1 -1.1M195.0 486.0l-1.2 -1.0M208.5 487.1l-1.4 -0.8M222.2 488.1l-1.5 -0.6M236.1 489.1l-1.6 -0.2M250.3 489.7l-1.6 0.2M264.6 489.9l-1.5 0.6M278.8 489.6l-1.3 0.9M318.9 489.5l1.4 -0.7M333.0 488.9l1.3 -1.0M346.8 488.3l1.2 -1.1M613.6 482.2l-1.3 -0.9M626.7 482.3l-1.4 -0.9M639.7 482.6l-1.4 -0.8M652.9 483.0l-1.4 -0.8M666.2 483.5l-1.4 -0.7M679.9 483.9l-1.4 -0.7M693.9 484.1l-1.4 -0.7M708.2 484.4l-1.4 -0.7M722.7 484.5l-1.4 -0.8M737.4 484.7l-1.3 -0.9M752.1 484.9l-1.2 -1.0M766.7 485.2l-1.2 -1.1M781.0 485.6l-1.1 -1.2M181.5 498.7l-1.2 -1.1M194.8 499.4l-1.3 -1.0M208.2 500.1l-1.4 -0.8M221.8 500.9l-1.5 -0.7M235.6 501.8l-1.5 -0.5M249.7 502.4l-1.6 -0.2M264.1 502.8l-1.6 -0.0M278.8 502.8l-1.6 0.1M319.3 502.3l1.0 -1.2M333.2 501.5l1.0 -1.2M346.9 500.9l1.0 -1.3M360.4 500.3l0.9 -1.3M600.6 495.0l-1.3 -0.9M613.6 495.0l-1.3 -0.9M626.7 495.0l-1.3 -0.9M639.8 495.3l-1.3 -0.9M653.1 495.6l-1.4 -0.8M666.7 496.0l-1.4 -0.8M680.5 496.4l-1.4 -0.8M694.7 496.7l-1.4 -0.8M709.2 496.9l-1.3 -0.9M723.8 497.0l-1.3 -1.0M738.5 497.2l-1.2 -1.1M753.1 497.3l-1.0 -1.2M767.4 497.5l-0.9 -1.3M195.0 512.8l-1.3 -1.0M208.3 513.4l-1.3 -0.9M221.8 514.0l-1.4 -0.7M235.4 514.6l-1.5 -0.6M249.4 515.2l-1.5 -0.5M263.8 515.6l-1.5 -0.4M278.4 515.8l-1.5 -0.7M292.4 516.3l-0.7 -1.5M305.7 515.7l0.5 -1.5M319.6 514.8l0.8 -1.4M333.4 514.0l0.8 -1.4M347.0 513.4l0.8 -1.4M360.4 513.0l0.7 -1.4M373.7 512.5l0.6 -1.5M575.1 508.0l-1.2 -1.0M587.8 507.9l-1.3 -1.0M600.7 507.8l-1.3 -1.0M613.7 507.7l-1.3 -1.0M626.8 507.8l-1.3 -1.0M640.1 508.0l-1.3 -0.9M653.5 508.2l-1.3 -0.9M667.2 508.6l-1.3 -0.9M681.3 509.0l-1.3 -0.9M695.7 509.3l-1.3 -1.0M710.3 509.5l-1.2 -1.0M725.0 509.7l-1.1 -1.1M739.6 509.8l-1.0 -1.3M754.0 509.9l-0.8 -1.4M768.2 510.1l-0.7 -1.4M195.4 526.3l-1.2 -1.0M208.7 526.7l-1.3 -0.9M222.1 527.1l-1.4 -0.8M235.7 527.6l-1.4 -0.7M249.6 528.0l-1.4 -0.7M263.8 528.3l-1.4 -0.8M278.2 528.6l-1.1 -1.2M292.1 528.6l-0.3 -1.6M306.0 527.8l0.4 -1.6M319.9 527.1l0.6 -1.5M333.6 526.4l0.7 -1.5M347.1 526.0l0.7 -1.5M360.4 525.5l0.6 -1.5M373.6 525.0l0.5 -1.5M386.7 524.2l0.4 -1.6M399.7 523.0l0.3 -1.6M563.8 521.1l-1.1 -1.2M576.0 520.9l-1.2 -1.1M588.4 520.7l-1.2 -1.1M601.2 520.6l-1.2 -1.0M614.1 520.6l-1.2 -1.0M627.2 520.6l-1.2 -1.0M640.5 520.8l-1.3 -1.0M654.0 521.1l-1.3 -1.0M667.9 521.4l-1.3 -1.0M682.1 521.8l-1.2 -1.0M696.6 522.1l-1.2 -1.1M711.3 522.4l-1.1 -1.2M726.0 522.5l-1.0 -1.3M740.6 522.6l-0.8 -1.4M754.9 522.7l-0.6 -1.5M209.2 540.0l-1.3 -1.0M222.6 540.4l-1.3 -0.9M236.2 540.7l-1.3 -0.9M250.1 540.9l-1.3 -1.0M264.2 541.2l-1.1 -1.2M278.3 541.2l-0.6 -1.5M292.3 540.7l0.0 -1.6M306.3 540.0l0.4 -1.5M320.2 539.4l0.6 -1.5M333.8 538.9l0.6 -1.5M347.2 538.5l0.6 -1.5M360.4 538.1l0.5 -1.5M373.6 537.5l0.4 -1.5M386.6 536.5l0.3 -1.6M399.6 535.1l0.2 -1.6M412.6 533.8l0.1 -1.6M425.7 533.0l0.1 -1.6M438.8 532.7l0.0 -1.6M528.4 534.1l-0.6 -1.5M540.6 534.4l-0.7 -1.4M552.9 534.5l-0.9 -1.3M565.0 534.3l-1.0 -1.3M577.0 534.1l-1.1 -1.2M589.3 533.9l-1.1 -1.1M601.8 533.7l-1.2 -1.1M614.7 533.6l-1.2 -1.1M627.8 533.6l-1.2 -1.1M641.2 533.8l-1.2 -1.0M654.8 534.1l-1.2 -1.0M668.7 534.4l-1.2 -1.1M683.0 534.8l-1.2 -1.1M697.5 535.2l-1.1 -1.2M712.3 535.4l-1.0 -1.3M726.9 535.6l-0.8 -1.4M741.4 535.6l-0.6 -1.5M223.3 553.6l-1.2 -1.1M237.0 553.8l-1.1 -1.1M250.9 554.0l-1.0 -1.3M264.9 554.0l-0.6 -1.5M278.8 553.7l-0.1 -1.6M292.8 553.1l0.3 -1.6M306.8 552.4l0.5 -1.5M320.5 551.8l0.6 -1.5M334.0 551.4l0.6 -1.5M347.3 551.1l0.6 -1.5M360.5 550.6l0.5 -1.5M373.6 549.9l0.4 -1.6M386.6 548.7l0.3 -1.6M399.6 547.2l0.2 -1.6M412.6 546.1l0.1 -1.6M425.7 545.5l0.1 -1.6M438.9 545.3l0.0 -1.6M452.0 545.3l0.0 -1.6M465.1 545.4l-0.0 -1.6M478.1 545.6l-0.1 -1.6M491.0 545.9l-0.1 -1.6M503.6 546.3l-0.3 -1.6M516.0 546.9l-0.4 -1.5M528.5 547.4l-0.6 -1.5M541.0 547.7l-0.7 -1.4M553.5 547.8l-0.8 -1.4M565.8 547.8l-0.9 -1.3M578.0 547.5l-1.0 -1.2M590.2 547.2l-1.1 -1.2M602.7 547.0l-1.1 -1.1M615.5 546.9l-1.1 -1.1M628.6 547.0l-1.2 -1.1M642.0 547.1l-1.2 -1.1M655.6 547.4l-1.2 -1.1M669.6 547.7l-1.1 -1.1M683.8 548.1l-1.1 -1.2M698.3 548.4l-1.0 -1.2M712.9 548.7l-0.9 -1.3M727.5 548.8l-0.7 -1.4M741.9 548.9l-0.5 -1.5M224.0 566.9l-1.0 -1.3M237.8 567.1l-0.8 -1.4M251.7 567.1l-0.5 -1.5M265.6 566.9l-0.1 -1.6M279.5 566.3l0.3 -1.6M293.5 565.6l0.5 -1.5M307.4 565.0l0.6 -1.5M321.0 564.5l0.6 -1.5M334.3 564.1l0.6 -1.5M347.6 563.8l0.6 -1.5M360.7 563.2l0.5 -1.5M373.7 562.3l0.4 -1.6M386.7 560.9l0.2 -1.6M399.7 559.6l0.2 -1.6M412.7 558.6l0.1 -1.6M425.8 558.1l0.1 -1.6M438.9 558.0l0.0 -1.6M452.0 558.0l0.0 -1.6M465.1 558.1l-0.0 -1.6M478.1 558.3l-0.1 -1.6M490.9 558.7l-0.1 -1.6M503.5 559.3l-0.3 -1.6M516.0 560.0l-0.4 -1.5M528.5 560.6l-0.5 -1.5M541.2 561.1l-0.7 -1.5M553.9 561.3l-0.8 -1.4M566.4 561.3l-0.9 -1.3M578.8 561.1l-1.0 -1.3M591.1 560.8l-1.0 -1.2M603.6 560.6l-1.1 -1.2M616.4 560.5l-1.1 -1.2M629.5 560.5l-1.1 -1.1M642.9 560.7l-1.1 -1.1M656.5 560.9l-1.1 -1.1M670.4 561.3l-1.1 -1.2M684.6 561.6l-1.1 -1.2M698.9 562.0l-1.0 -1.3M713.4 562.2l-0.9 -1.4M727.8 562.3l-0.7 -1.4M238.6 580.3l-0.3 -1.6M252.4 580.2l0.0 -1.6M266.4 579.7l0.4 -1.6M280.3 579.1l0.6 -1.5M294.2 578.5l0.7 -1.4M307.9 577.9l0.7 -1.4M321.4 577.4l0.7 -1.4M334.7 577.1l0.7 -1.5M347.8 576.6l0.6 -1.5M360.9 576.0l0.5 -1.5M373.9 574.9l0.4 -1.6M386.8 573.5l0.2 -1.6M399.8 572.3l0.2 -1.6M412.8 571.4l0.1 -1.6M425.9 571.0l0.1 -1.6M439.0 570.8l0.0 -1.6M452.0 570.8l0.0 -1.6M465.1 570.9l-0.0 -1.6M478.0 571.1l-0.1 -1.6M490.8 571.6l-0.1 -1.6M503.4 572.4l-0.3 -1.6M516.0 573.2l-0.4 -1.5M528.6 574.0l-0.5 -1.5M541.4 574.5l-0.7 -1.5M554.2 574.8l-0.7 -1.4M566.9 574.8l-0.8 -1.4M579.4 574.8l-0.9 -1.3M591.9 574.6l-1.0 -1.3M604.5 574.4l-1.0 -1.2M617.3 574.3l-1.1 -1.2M630.5 574.4l-1.1 -1.2M643.9 574.5l-1.1 -1.2M657.5 574.7l-1.1 -1.2M671.3 575.0l-1.1 -1.2M685.3 575.3l-1.0 -1.2M699.4 575.6l-1.0 -1.3M713.7 575.8l-0.9 -1.4M253.2 593.2l0.4 -1.5M267.1 592.7l0.7 -1.5M281.0 592.1l0.8 -1.4M294.8 591.5l0.8 -1.4M308.4 591.0l0.8 -1.4M321.7 590.5l0.7 -1.4M335.0 590.1l0.7 -1.4M348.0 589.7l0.6 -1.5M361.0 588.9l0.5 -1.5M373.9 587.8l0.4 -1.6M386.9 586.6l0.2 -1.6M399.9 585.5l0.2 -1.6M412.9 584.7l0.1 -1.6M425.9 584.1l0.1 -1.6M439.0 583.8l0.1 -1.6M452.1 583.7l0.0 -1.6M465.1 583.8l-0.0 -1.6M478.0 584.1l-0.1 -1.6M490.8 584.7l-0.1 -1.6M503.5 585.6l-0.2 -1.6M516.1 586.6l-0.4 -1.6M528.8 587.4l-0.5 -1.5M541.6 588.0l-0.6 -1.5M554.5 588.3l-0.7 -1.4M567.3 588.5l-0.8 -1.4M580.0 588.5l-0.9 -1.3M592.7 588.4l-1.0 -1.3M605.4 588.4l-1.0 -1.2M618.3 588.3l-1.0 -1.2M631.5 588.4l-1.1 -1.2M644.8 588.5l-1.1 -1.2M658.4 588.6l-1.1 -1.2M672.1 588.9l-1.0 -1.2M685.9 589.1l-1.0 -1.2M699.8 589.4l-0.9 -1.3M267.8 605.8l0.8 -1.4M281.5 605.2l0.9 -1.3M295.2 604.7l0.9 -1.3M308.7 604.2l0.8 -1.4M322.0 603.8l0.8 -1.4M335.1 603.4l0.7 -1.4M348.1 602.9l0.6 -1.5M361.1 602.2l0.5 -1.5M374.0 601.2l0.4 -1.6M386.9 600.1l0.3 -1.6M399.9 599.1l0.2 -1.6M413.0 598.3l0.1 -1.6M426.0 597.6l0.1 -1.6M439.1 597.2l0.1 -1.6M452.1 597.0l0.0 -1.6M465.1 597.1l-0.0 -1.6M478.0 597.4l-0.1 -1.6M490.9 598.1l-0.1 -1.6M503.6 599.0l-0.2 -1.6M516.3 600.0l-0.4 -1.6M529.0 601.0l-0.5 -1.5M541.9 601.6l-0.6 -1.5M554.8 602.0l-0.7 -1.4M567.7 602.3l-0.8 -1.4M580.6 602.4l-0.9 -1.4M593.4 602.4l-0.9 -1.3M606.3 602.4l-1.0 -1.3M619.3 602.4l-1.0 -1.2M632.4 602.5l-1.0 -1.2M645.8 602.5l-1.0 -1.2M659.2 602.7l-1.0 -1.2M672.8 602.8l-1.0 -1.2M686.4 603.0l-1.0 -1.3M281.9 618.4l0.9 -1.3M295.5 618.0l0.9 -1.3M308.9 617.5l0.9 -1.3M322.1 617.1l0.8 -1.4M335.2 616.7l0.7 -1.4M348.1 616.3l0.6 -1.5M361.0 615.8l0.5 -1.5M373.9 615.0l0.4 -1.6M386.9 614.1l0.3 -1.6M400.0 613.2l0.2 -1.6M413.0 612.3l0.2 -1.6M426.1 611.5l0.1 -1.6M439.1 610.9l0.1 -1.6M452.1 610.7l0.0 -1.6M465.1 610.7l-0.0 -1.6M478.1 611.0l-0.1 -1.6M491.0 611.7l-0.1 -1.6M503.7 612.7l-0.2 -1.6M516.5 613.8l-0.3 -1.6M529.3 614.8l-0.5 -1.5M542.2 615.5l-0.6 -1.5M555.1 615.9l-0.7 -1.4M568.2 616.2l-0.8 -1.4M581.1 616.3l-0.8 -1.4M594.1 616.4l-0.9 -1.3M607.1 616.5l-0.9 -1.3M620.2 616.5l-1.0 -1.3M633.3 616.6l-1.0 -1.2M646.6 616.7l-1.0 -1.2M660.0 616.7l-1.0 -1.2M673.5 616.8l-1.0 -1.3M309.0 630.8l0.9 -1.3M322.1 630.5l0.8 -1.4M335.1 630.3l0.7 -1.4M347.9 630.0l0.6 -1.5M360.8 629.7l0.5 -1.5M373.8 629.1l0.4 -1.6M386.9 628.4l0.3 -1.6M400.0 627.5l0.2 -1.6M413.1 626.5l0.2 -1.6M426.1 625.7l0.1 -1.6M439.1 625.0l0.1 -1.6M452.2 624.7l0.0 -1.6M465.2 624.7l-0.0 -1.6M478.2 625.0l-0.0 -1.6M491.1 625.7l-0.1 -1.6M504.0 626.7l-0.2 -1.6M516.8 627.8l-0.3 -1.6M529.6 628.7l-0.5 -1.5M542.5 629.5l-0.6 -1.5M555.6 629.9l-0.7 -1.5M568.6 630.2l-0.7 -1.4M581.7 630.3l-0.8 -1.4M594.8 630.4l-0.9 -1.3M607.8 630.6l-0.9 -1.3M621.0 630.7l-1.0 -1.3M634.2 630.7l-1.0 -1.3M647.4 630.7l-1.0 -1.3M660.7 630.7l-1.0 -1.3M322.0 644.0l0.8 -1.4M334.8 644.0l0.7 -1.4M347.6 644.0l0.6 -1.5M360.6 643.8l0.5 -1.5M373.6 643.4l0.4 -1.5M386.8 642.7l0.3 -1.6M399.9 641.9l0.3 -1.6M413.0 640.9l0.2 -1.6M426.1 640.0l0.1 -1.6M439.2 639.3l0.1 -1.6M452.2 639.0l0.0 -1.6M465.2 639.0l0.0 -1.6M478.2 639.4l-0.0 -1.6M491.2 640.0l-0.1 -1.6M504.2 641.0l-0.2 -1.6M517.0 642.0l-0.3 -1.6M529.9 642.9l-0.4 -1.5M542.9 643.6l-0.6 -1.5M556.0 644.0l-0.7 -1.5M569.1 644.2l-0.7 -1.4M582.2 644.4l-0.8 -1.4M595.4 644.5l-0.8 -1.4M608.5 644.6l-0.9 -1.3M621.7 644.7l-0.9 -1.3M634.9 644.8l-1.0 -1.3M347.3 658.0l0.6 -1.5M360.3 657.9l0.5 -1.5M373.5 657.6l0.4 -1.5M386.7 657.1l0.4 -1.6M399.8 656.3l0.3 -1.6M413.0 655.5l0.2 -1.6M426.1 654.6l0.2 -1.6M439.2 653.9l0.1 -1.6M452.2 653.5l0.1 -1.6M465.3 653.6l0.0 -1.6M478.3 654.0l-0.0 -1.6M491.4 654.6l-0.1 -1.6M504.4 655.4l-0.2 -1.6M517.3 656.4l-0.3 -1.6M530.3 657.2l-0.4 -1.5M543.3 657.7l-0.6 -1.5M556.4 658.1l-0.6 -1.5M569.5 658.3l-0.7 -1.4M582.7 658.4l-0.8 -1.4M595.9 658.5l-0.8 -1.4M609.0 658.6l-0.9 -1.3M386.5 671.4l0.4 -1.5M399.7 670.7l0.3 -1.6M412.9 670.0l0.3 -1.6M426.1 669.2l0.2 -1.6M439.1 668.5l0.1 -1.6M452.2 668.2l0.1 -1.6M465.3 668.3l0.0 -1.6M478.4 668.7l-0.0 -1.6M491.5 669.3l-0.1 -1.6M504.5 670.0l-0.2 -1.6M517.5 670.7l-0.3 -1.6M530.5 671.3l-0.4 -1.5M543.6 671.8l-0.5 -1.5M556.7 672.0l-0.6 -1.5M569.9 672.1l-0.7 -1.4M439.1 683.2l0.1 -1.6M452.2 682.9l0.1 -1.6M465.3 683.0l0.0 -1.6M478.4 683.3l-0.0 -1.6M491.6 683.8l-0.1 -1.6M504.7 684.4l-0.1 -1.6M517.7 684.9l-0.3 -1.6" stroke="#0a1a08" stroke-width="2.5" stroke-linecap="round" fill="none" opacity="0.88"/>
<path d="M598.2 63.9h0.1M611.5 63.9h0.1M318.9 77.2h0.1M598.2 77.2h0.1M611.5 77.2h0.1M598.2 90.5h0.1M611.5 90.5h0.1M598.2 103.8h0.1M611.5 103.8h0.1M598.2 117.1h0.1M611.5 117.1h0.1M212.5 436.3h0.1M292.3 489.5h0.1M305.6 489.5h0.1M292.3 502.8h0.1M305.6 502.8h0.1" stroke="#0a1a08" stroke-width="2.2" stroke-linecap="round" fill="none" opacity="0.85"/>
<path d="M411 182L479 161M425 181L476 166M400 177L460 168M440 179L478 172M392 186L432 178M470 175L490 161M380 191L412 185M535 181L495 170M520 173L492 166M550 188L512 176M322 500L345 478M328 506L350 485M318 492L340 472M335 511L352 492M330 497L347 481M164 446L181 377M169 460L186 404M160 430L172 380M175 470L192 420M208 495L177 454M215 510L182 465M222 525L190 480M200 480L172 440M775 264L788 330M770 250L783 310M780 290L790 350M765 240L776 290M790 400L782 450M300 112L262 132M318 100L280 120M335 92L298 108" stroke="#0c2408" stroke-width="1.1" fill="none" opacity="0.85"/>
<path d="M479.0 161.0L474.5 165.1L473.0 160.1zM476.0 166.0L471.5 170.0L470.0 165.1zM460.0 168.0L454.9 171.4L454.2 166.2zM478.0 172.0L473.1 175.6L472.1 170.4zM432.0 178.0L427.1 181.6L426.1 176.5zM490.0 161.0L487.0 166.3L484.0 162.0zM412.0 185.0L407.1 188.6L406.1 183.5zM495.0 170.0L501.0 169.0L499.6 174.0zM492.0 166.0L498.0 164.8L496.7 169.9zM512.0 176.0L518.0 175.2L516.5 180.1zM345.0 478.0L342.8 483.7L339.2 479.9zM350.0 485.0L347.8 490.7L344.2 486.9zM340.0 472.0L337.7 477.6L334.2 473.8zM352.0 492.0L350.3 497.8L346.4 494.4zM347.0 481.0L344.8 486.7L341.2 482.9zM181.0 377.0L182.2 383.0L177.2 381.7zM186.0 404.0L186.9 410.0L181.9 408.5zM172.0 380.0L173.2 386.0L168.2 384.7zM192.0 420.0L192.7 426.0L187.8 424.4zM177.0 454.0L182.4 456.8L178.2 460.0zM182.0 465.0L187.3 467.9L183.2 471.0zM190.0 480.0L195.3 483.0L191.1 486.0zM172.0 440.0L177.3 443.0L173.0 446.0zM788.0 330.0L784.4 325.1L789.5 324.1zM783.0 310.0L779.3 305.2L784.4 304.1zM790.0 350.0L786.5 345.0L791.7 344.1zM776.0 290.0L772.3 285.2L777.4 284.1zM782.0 450.0L780.3 444.2L785.4 445.0zM262.0 132.0L265.7 127.1L268.1 131.7zM280.0 120.0L283.7 115.1L286.1 119.7zM298.0 108.0L302.0 103.4L304.1 108.2z" fill="#0a1a08" opacity="0.9"/>
</g>
</g>
<rect x="1022" y="72.5" width="36" height="572" fill="url(#cb)"/>
<path d="M1022 72.5H1069M1058 72V645M1022 644.5H1058" stroke="#222" stroke-width="1.6" fill="none"/>
<path d="M1022.2 72.5V644.5" stroke="#333" stroke-width="1.1" fill="none"/>
<line x1="1058" y1="72.5" x2="1069" y2="72.5" stroke="#222" stroke-width="1.8"/>
<text x="1098.3" y="80.4" text-anchor="middle">70</text>
<line x1="1058" y1="154.2" x2="1069" y2="154.2" stroke="#666" stroke-width="1.8"/>
<text x="1098.3" y="161.7" text-anchor="middle">50</text>
<line x1="1058" y1="235.9" x2="1069" y2="235.9" stroke="#666" stroke-width="1.8"/>
<text x="1098.3" y="243.0" text-anchor="middle">30</text>
<line x1="1058" y1="317.6" x2="1069" y2="317.6" stroke="#666" stroke-width="1.8"/>
<text x="1098.3" y="324.3" text-anchor="middle">10</text>
<line x1="1058" y1="399.3" x2="1069" y2="399.3" stroke="#666" stroke-width="1.8"/>
<text x="1098.3" y="405.6" text-anchor="middle">–10</text>
<line x1="1058" y1="481.0" x2="1069" y2="481.0" stroke="#222" stroke-width="1.8"/>
<text x="1098.3" y="486.9" text-anchor="middle">–30</text>
<line x1="1058" y1="562.7" x2="1069" y2="562.7" stroke="#222" stroke-width="1.8"/>
<text x="1098.3" y="568.2" text-anchor="middle">–50</text>
<line x1="1058" y1="644.4" x2="1069" y2="644.4" stroke="#222" stroke-width="1.8"/>
<text x="1098.3" y="649.5" text-anchor="middle">–70</text>
<g text-anchor="middle">
<text x="275" y="31">Siberian</text>
<text x="275" y="59">Craton</text>
<text x="701" y="66">Labrador</text>
<text x="158" y="123">Baikal</text>
<text x="119" y="190">China</text>
<text x="832" y="173">Sargasso</text>
<text x="832" y="201">Sea</text>
<text x="860" y="255">Caribbean</text>
<text x="860" y="283">Sea</text>
<text x="79" y="292">South China</text>
<text x="79" y="320">Sea</text>
<text x="868" y="366">Amazon</text>
<text x="868" y="394">Block</text>
<text x="95" y="498">Australia</text>
<text x="820" y="535">Andes</text>
<text x="146" y="618">Australo-Antarctic</text>
<text x="146" y="646">Rise</text>
<text x="685" y="663.7">Scotia</text>
<text x="685" y="691.7">Sea</text>
<text x="372" y="723">East</text>
<text x="372" y="751">Antarctica</text>
<text x="528.3" y="725.3">West</text>
<text x="528.3" y="753.3">Antarctica</text>
<text x="981" y="700">Temperature anomalies, °C</text>
</g>
</svg>
</body></html>
